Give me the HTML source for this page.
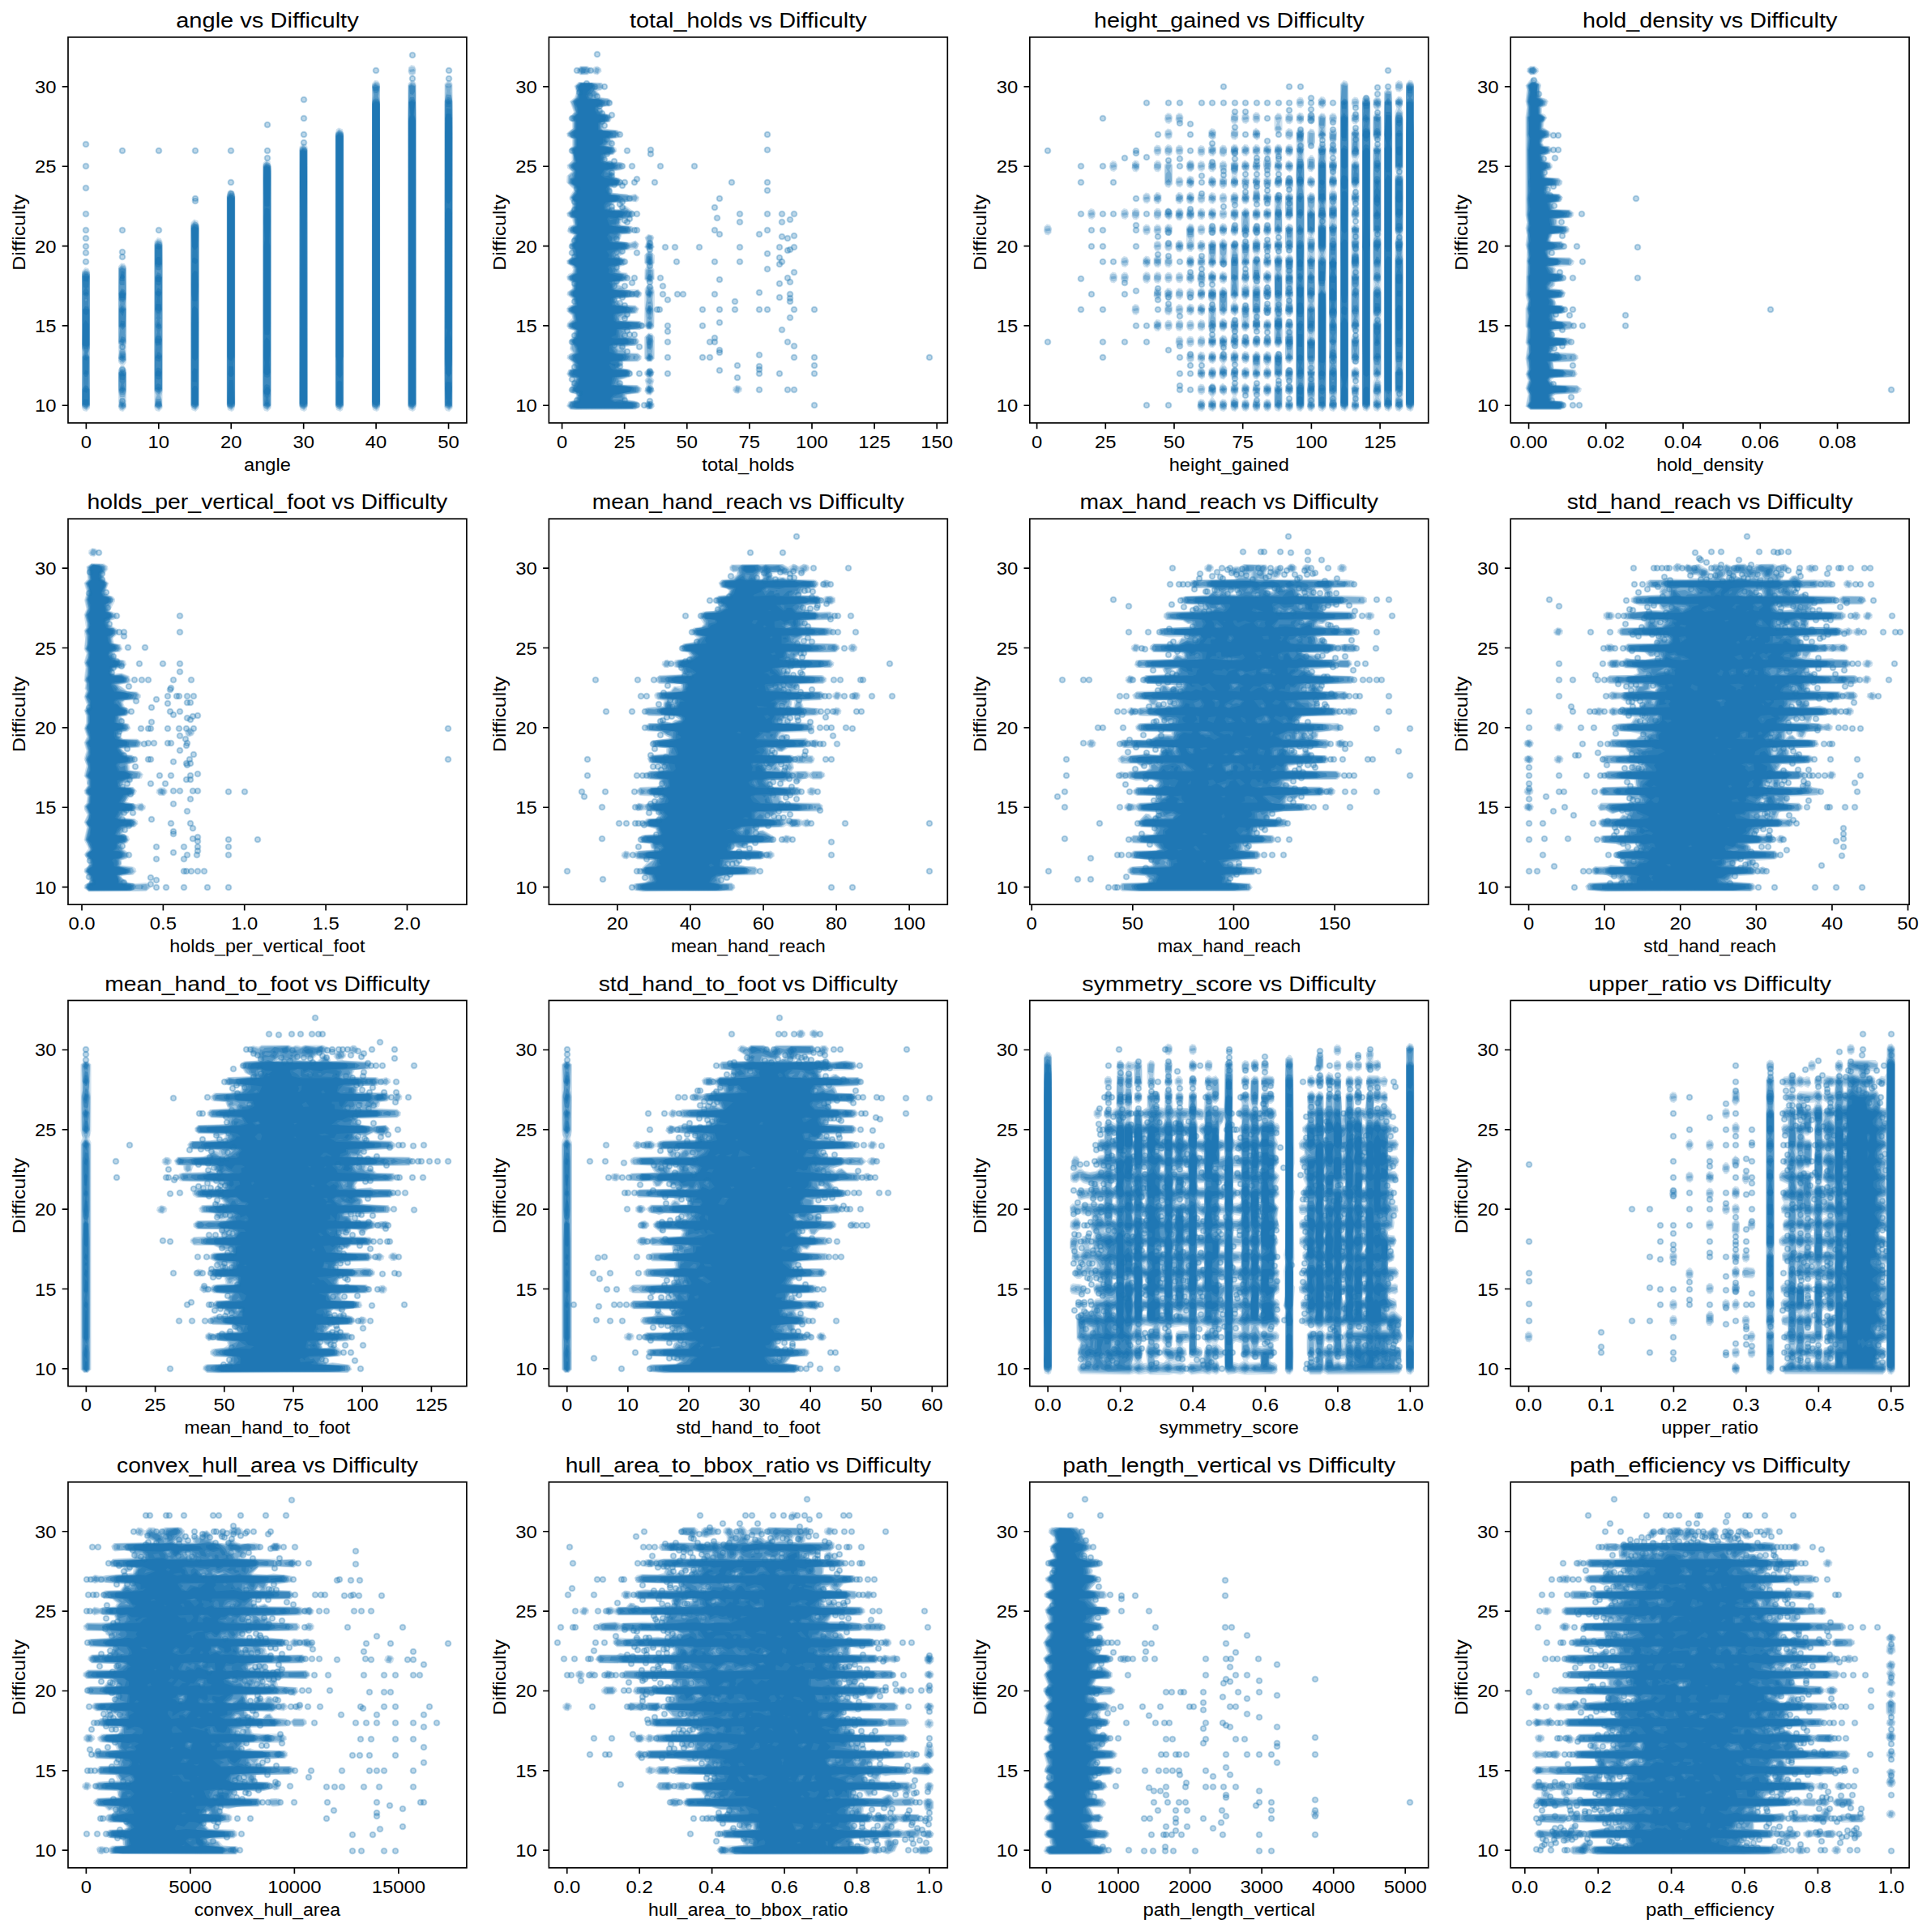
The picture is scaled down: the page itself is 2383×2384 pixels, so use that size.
<!DOCTYPE html><html><head><meta charset="utf-8"><style>html,body{margin:0;padding:0;background:#fff;overflow:hidden}svg{display:block}text{font-family:"Liberation Sans",sans-serif;fill:#000}.ax{fill:none;stroke:#000;stroke-width:1.667;stroke-linejoin:miter}.tk{fill:none;stroke:#000;stroke-width:1.667}.s{fill:#1f77b4;fill-rule:evenodd}.p{fill:none;marker-start:url(#m);marker-mid:url(#m);marker-end:url(#m)}</style></head><body><svg xmlns="http://www.w3.org/2000/svg" width="2383" height="2384" viewBox="0 0 2383 2384"><rect width="2383" height="2384" fill="#fff"/><defs><marker id="m" markerUnits="userSpaceOnUse" markerWidth="12" markerHeight="12" refX="6" refY="6" overflow="visible"><circle cx="6" cy="6" r="3.295" fill="#1f77b4" fill-opacity=".3" stroke="#1f77b4" stroke-opacity=".3" stroke-width="2.083"/></marker><clipPath id="c0"><rect x="84.00" y="45.90" width="491.90" height="476.00"/></clipPath><clipPath id="c1"><rect x="677.40" y="45.90" width="491.90" height="476.00"/></clipPath><clipPath id="c2"><rect x="1270.80" y="45.90" width="491.90" height="476.00"/></clipPath><clipPath id="c3"><rect x="1864.20" y="45.90" width="491.90" height="476.00"/></clipPath><clipPath id="c4"><rect x="84.00" y="640.20" width="491.90" height="476.00"/></clipPath><clipPath id="c5"><rect x="677.40" y="640.20" width="491.90" height="476.00"/></clipPath><clipPath id="c6"><rect x="1270.80" y="640.20" width="491.90" height="476.00"/></clipPath><clipPath id="c7"><rect x="1864.20" y="640.20" width="491.90" height="476.00"/></clipPath><clipPath id="c8"><rect x="84.00" y="1234.50" width="491.90" height="476.00"/></clipPath><clipPath id="c9"><rect x="677.40" y="1234.50" width="491.90" height="476.00"/></clipPath><clipPath id="c10"><rect x="1270.80" y="1234.50" width="491.90" height="476.00"/></clipPath><clipPath id="c11"><rect x="1864.20" y="1234.50" width="491.90" height="476.00"/></clipPath><clipPath id="c12"><rect x="84.00" y="1828.80" width="491.90" height="476.00"/></clipPath><clipPath id="c13"><rect x="677.40" y="1828.80" width="491.90" height="476.00"/></clipPath><clipPath id="c14"><rect x="1270.80" y="1828.80" width="491.90" height="476.00"/></clipPath><clipPath id="c15"><rect x="1864.20" y="1828.80" width="491.90" height="476.00"/></clipPath></defs><g clip-path="url(#c0)"><g transform="scale(.5)"><path class="s" fill-opacity="0.210" d="M210 660l-8 9 0 339 4 6 8 2 8-8 0-339-4-7zM299 649l-7 8 0 237 6 8-6 10 0 95 4 7 8 2 8-9 0-95-6-9 6-9 0-237-5-7zM389 586l-8 9-1 327 1 86 4 6 8 2 8-8 1-364-1-49-4-7zM479 541l-8 8-1 448 3 15 10 4 8-8 1-447-3-16zM568 468l-6 4-3 13 0 513 3 14 10 4 6-4 3-14 0-513-3-13zM657 394l-8 8-1 568 1 38 4 6 8 2 8-8 1-590-3-20zM747 354l-8 8-1 636 3 14 10 4 6-4 3-14-1-636-4-6zM836 315l-6 4-3 14 0 665 3 14 10 4 6-4 3-14 0-665-3-14zM1105 198l-8 9-1 681 1 120 4 6 8 2 8-8 1-717-1-84-4-7zM1015 198l-8 8-1 793 3 13 10 4 6-4 3-13-1-793-4-6zM925 198l-7 8-1 793 3 13 10 4 6-4 3-13-1-793-5-7zM1015 160l-7 6-1 12 4 8 8 2 7-6 1-12-4-8z"/><path class="s" fill-opacity="0.241" d="M300 907l-8 9 0 50 4 19-4 18 5 8 6 2 9-10-4-16 4-21 0-50-4-7zM210 664l-8 9 0 331 11 9 9-9 0-331-5-8zM300 652l-8 10 0 184 4 9-4 34 5 8 6 2 9-10-4-31 4-12 0-184-4-8zM389 590l-8 10 0 367 3 7-3 30 11 9 9-9-3-26 3-11 0-367-4-8zM480 544l-9 9 0 451 11 9 9-9 0-451zM568 471l-8 9 0 524 11 9 9-9 0-524-4-7zM658 397l-9 9 0 598 11 9 9-9 0-598zM748 357l-9 9 0 638 11 9 9-9 0-638zM837 318l-9 9 0 677 11 9 9-9 0-677zM1105 202l-7 7-1 795 11 9 9-9-1-795-3-5zM1015 201l-8 10 0 793 11 9 9-9 0-793-4-8zM926 201l-8 9 0 794 11 9 9-9 0-794-4-7zM1016 164l-6 3-2 8 3 7 7 2 6-3 2-8-3-7z"/><path class="s" fill-opacity="0.317" d="M301 987l-6 5-2 11 3 5 8 2 6-4 1-10zM299 910l-7 11 1 46 4 13 10 0 4-13 1-46-5-10zM300 861l-5 4-3 18 5 11 8 1 6-6 0-15-3-11zM210 667l-6 4-2 8 0 177 3 13-3 131 4 8 8 2 8-10-3-128 3-16 0-177-2-8zM300 655l-7 7 0 185 10 9 8-9 1-84-3-15 3-25-1-61-3-5zM389 593l-5 3-3 9 0 358 7 13-5 9-1 19 11 6 7-6-1-19-5-9 7-13 0-358-3-9zM479 547l-8 10 0 443 4 8 8 2 8-10 0-443-4-8zM568 474l-8 9 0 518 4 7 8 2 8-9 0-518-4-7zM657 400l-6 4-2 7 0 589 4 8 8 2 8-10 0-589-4-9zM747 360l-6 4-2 7 0 630 4 7 8 2 8-9 0-630-4-9zM836 321l-8 9 0 671 4 7 8 2 8-9 0-671-4-7zM1103 206l-4 5 3 14-5 26 1 753 11 6 7-6 1-753-5-26 3-14-4-5zM1015 204l-7 7-1 790 4 7 8 2 8-9-1-790-3-5zM926 204l-6 4-2 7 3 18-3 18 0 750 4 7 8 2 8-9 0-750-3-13 3-23-4-9zM1010 172l2 6 12-2-2-6z"/><path class="s" fill-opacity="0.390" d="M300 991l-5 4-1 8 9 5 7-5 0-6zM386 984l-4 17 10 7 8-7-4-17zM300 912l-7 7 0 43 4 12 10 0 4-12 0-43-3-5zM297 867l-4 18 10 8 7-5 0-14-3-7zM208 670l-5 7 0 183 4 9-4 12 0 120 10 7 8-7 0-120-4-9 4-12 0-183-5-7zM300 658l-6 5-1 76 4 9-4 14 0 43 3 9-3 29 3 6 7 3 8-9-3-20 3-61-4-7 4-16-1-76zM389 596l-7 7 0 361 10 9 8-9 0-361-3-5zM478 550l-6 6-1 9 1 436 10 7 8-7 1-436-2-11zM568 476l-8 11 0 509 2 7 9 5 7-5 2-7 0-509-4-9zM658 402l-8 7-1 558 1 34 10 7 8-7 1-577-1-15zM746 363l-6 6-1 626 2 8 9 5 7-5 2-8-1-626-4-5zM837 323l-7 5-2 8 1 665 10 7 8-7 1-665-2-8zM1102 233l-4 15-1 636 1 117 10 7 8-7 1-668-1-85-3-14zM1101 212l1 4 11-1-1-4-3 3zM1015 207l-6 5-2 81 1 709 10 6 9-11 0-704-2-81zM926 206l-7 7 4 24-5 20 1 745 10 6 9-11 0-740-5-20 4-24z"/><path class="s" fill-opacity="0.480" d="M295 998l5 7 9-3-5-8zM386 989l-3 12 5 4 8-1 3-3-2-11zM301 914l-7 5 1 22 4 6-5 16 3 6 7 1 6-7-5-14 4-8 1-22zM297 872l-2 15 5 3 8-2 0-15zM300 830l-6 13 10 6 6-9-2-7zM301 753l-7 9 0 44 9 8 7-8 0-44zM300 712l-7 12 2 18 9 4 6-7 1-15-4-9zM208 673l-5 9 3 53-3 115 6 16 0 8-5 6 3 72-4 9 0 37 4 6 8 1 6-7 0-37-4-9 3-72-5-6 6-24 0-85-3-13 3-70-5-9zM209 739l5-1 1 4-5 1zM389 672l-7 13 0 79 5 16-2 6 3 2-5 13 5 19-6 18 3 20-3 20 0 82 3 6 8 3 7-9 0-82-3-10 3-30-6-18 5-12-5-20 3-2-2-6 5-16 0-79-3-9zM301 661l-6 4 0 34 2 5 10 0 2-39zM389 599l-6 5-1 48 3 13 8 2 4-2 3-13-1-48zM479 552l-7 7 0 440 4 5 8 1 6-6 0-440-3-5zM569 478l-8 7 0 514 4 5 8 1 6-6 0-514zM656 405l-6 7 0 560 3 10-2 19 11 4 5-4-2-19 3-10 0-560-4-6zM747 365l-7 7 0 627 4 5 8 1 6-6 0-627-3-5zM835 326l-6 6 0 667 4 5 8 1 6-6 0-667-4-5zM927 243l-6 3-2 6-1 89 1 658 4 5 8 1 6-6 1-658-1-89-4-8zM1105 240l-6 8-1 731 1 22 11 4 5-4 1-715-1-38-4-7zM1012 240l-4 13 0 746 4 5 8 1 6-6 0-746-4-13zM1015 210l-5 3 2 19 7 2 5-7 0-14zM926 209l-6 5 0 8 4 7 6 1 5-5 1-11z"/><path class="s" fill-opacity="0.596" d="M300 997l-1 4 4 2 2-5zM386 993l-2 6 9 4 5-4-2-6zM301 953l-6 9 8 5 6-7zM210 951l-6 10 0 37 10 5 6-5 0-37-5-9zM658 948l-5 3-3 15 7 18-5 16 9 3 5-3-5-16 7-20-3-13zM390 946l-5 4-2 10 10 6 6-7-2-9zM300 917l-6 6 2 14 11 1 3-15zM390 907l-5 3-2 16 2 9 7 2 5-2 2-17-2-8zM300 875l-5 8 9 4 5-7zM211 875l-6 7 0 41 5 7 4 0 5-7 0-41zM389 869l-6 14 2 7 8 3 4-3 2-12-6-9zM300 835l-4 8 8 3 4-7zM389 828l-5 4-1 13 3 8 11-1 2-14-2-8zM390 794l-6 13 8 6 5-4 1-7zM298 791l-3 14 9 4 5-4-1-12zM300 758l-5 5 0 7 8 10 6-17zM210 756l-6 8 0 89 3 8 10 0 3-8 0-89-3-7zM300 717l-5 5-1 12 3 6 7 1 5-3 1-13-6-8zM390 710l-7 12 4 15-4 27 5 9 5 1 6-10-4-27 4-15-2-7zM389 678l-5 4 1 20 7 3 5-3 2-17-4-6zM210 676l-6 6 2 26 4 3-5 8 0 9 9 4 5-4 0-9-5-8 4-3 2-26-3-5zM300 668l-5 22 2 4 10 0 0-23zM388 602l-5 5 0 45 3 7 7 1 6-8 0-45-5-5zM478 555l-6 8 3 54-3 88 3 45-3 48 1 200 10 5 6-5 1-200-3-48 3-45-3-88 3-54-4-7zM568 481l-7 7 0 392 3 13-3 102 3 6 8 2 7-8-3-98 3-17 0-392-3-5zM657 407l-6 5-1 506 3 12 7 2 5-2 3-12 0-494-2-14zM748 367l-7 5-1 623 3 6 8 2 7-8-1-623zM836 328l-7 8 1 663 10 4 6-4 1-663-3-6zM1102 267l-4 64 0 553 4 47-3 15 1 54 9 3 5-3 1-54-3-15 4-47 0-553-3-63zM927 247l-6 3-2 7 0 740 11 6 7-6 0-740-2-7zM1016 245l-7 7 3 31-4 11 0 702 3 5 8 2 7-7 0-702-4-11 3-31-3-6zM1106 244l-6 5 1 15 11 1 2-16zM921 215l2 9 11-1-1-10z"/><path class="s" fill-opacity="1.000" d="M654 995l3 5 7-3-4-5zM207 985l-2 12 5 3 8-2 0-12zM299 960l6 1-2-3zM210 956l-4 10 8 4 4-9zM657 955l-6 11 2 6 7 3 5-3 2-9-4-7zM390 954l-5 5 7 4 5-5zM479 952l-5 7 0 38 9 3 5-3 0-38-3-6zM1105 942l-4 2-2 13 2 28 3 2-3 9 8 4 4-4-3-9 3-2 2-28-2-13zM837 939l-5 3-2 52 2 4 8 2 6-6-2-52zM565 938l-3 57 10 5 6-5-3-57zM296 923l1 6 11-1-4-8zM390 913l-6 6 1 9 11 1 2-10zM211 913l-4 9 7 3 3-8zM479 908l-5 9 1 25 11 1 1-31zM565 904l-2 20 3 5 6 1 5-6-1-19zM300 879l-1 3 4 2 2-4zM211 879l-4 8 7 3 3-7zM389 875l-5 7 9 5 5-7zM386 835l-1 11 10 2 2-12zM658 832l-6 9-1 41 3 13-3 24 4 6 6 1 6-7-3-24 3-32-1-22zM389 799l-2 5 5 4 3-6zM299 797l-2 5 7 3 3-6zM211 790l-6 10 0 52 9 4 5-4 0-52zM301 761l-4 7 6 4 4-7zM210 761l-5 3 1 10 7 4 5-4 1-10zM480 755l-6 7 0 122 8 6 6-6 1-88-1-34zM386 750l-2 13 9 6 5-6-1-12zM301 721l-6 5 2 10 10 0 2-10zM206 724l4 4 8-3-5-5zM390 717l-5 4 0 6 7 5 5-5 0-6zM384 686l1 9 11 1 2-10-5-4zM207 681l-1 13 11 1 2-12zM300 677l-4 9 8 3 4-5-4-7zM480 668l-6 8-1 50 2 16 7 2 5-2 2-37-2-34zM480 635l-5 3-1 9 9 5 5-5 0-6zM389 634l-5 5 0 12 9 4 5-4-2-16zM389 605l-4 8 7 3 5-3 0-5zM479 558l-6 5 1 46 5 7 4 0 5-7 1-46zM1105 513l-4 3-2 11 1 282 4 6-5 23 1 84 8 8 6-8 1-84-5-16 4-13 1-282-2-11zM658 513l-5 3-2 29 3 45-3 17 0 197 2 21 7 2 5-2 2-21 0-197-3-9 3-53-2-29zM568 484l-6 5 0 391 2 7 7 4 7-11 0-391zM657 410l-5 3-2 33 3 62 7 2 5-2 3-68-2-27zM747 370l-5 4-2 76 3 133-2 412 10 5 6-5-2-412 3-133-2-76zM836 331l-6 5-1 544 3 12-1 33 8 9 6-9-1-33 3-12-1-544zM1106 280l-5 2-2 10 1 201 2 7 6 3 6-10 1-201-2-10zM926 251l-6 5-1 736 3 6 8 2 7-8-1-736-2-4zM1101 252l4 6 8-3-4-6zM1016 249l-6 4 4 31-6 15 1 697 10 4 6-4 1-697-6-15 4-31z"/></g><path class="p" d="m509 68-45 19 90 0-45 10 45 0-179 26-45 31 45-8 0 20-269 12 269-2-224 10 45 0 45 0 44 0 45 0 0 9-224 10 179 20-179 7 179 7-44 9 0-3-135 19 0 20 45 0 45 0-90 10 0 10 45 7-45 12 0-11 45 5 0 111 0 28 0 39"/></g><rect class="ax" x="84.00" y="45.90" width="491.90" height="476.00"/><text x="106.36" y="552.60" font-size="21.30" text-anchor="middle" textLength="13.25" lengthAdjust="spacingAndGlyphs">0</text><text x="195.80" y="552.60" font-size="21.30" text-anchor="middle" textLength="26.50" lengthAdjust="spacingAndGlyphs">10</text><text x="285.23" y="552.60" font-size="21.30" text-anchor="middle" textLength="26.50" lengthAdjust="spacingAndGlyphs">20</text><text x="374.67" y="552.60" font-size="21.30" text-anchor="middle" textLength="26.50" lengthAdjust="spacingAndGlyphs">30</text><text x="464.10" y="552.60" font-size="21.30" text-anchor="middle" textLength="26.50" lengthAdjust="spacingAndGlyphs">40</text><text x="553.54" y="552.60" font-size="21.30" text-anchor="middle" textLength="26.50" lengthAdjust="spacingAndGlyphs">50</text><text x="69.42" y="508.26" font-size="21.30" text-anchor="end" textLength="26.50" lengthAdjust="spacingAndGlyphs">10</text><text x="69.42" y="409.92" font-size="21.30" text-anchor="end" textLength="26.50" lengthAdjust="spacingAndGlyphs">15</text><text x="69.42" y="311.57" font-size="21.30" text-anchor="end" textLength="26.50" lengthAdjust="spacingAndGlyphs">20</text><text x="69.42" y="213.22" font-size="21.30" text-anchor="end" textLength="26.50" lengthAdjust="spacingAndGlyphs">25</text><text x="69.42" y="114.88" font-size="21.30" text-anchor="end" textLength="26.50" lengthAdjust="spacingAndGlyphs">30</text><path class="tk" d="M106.36 521.90v7.29M195.80 521.90v7.29M285.23 521.90v7.29M374.67 521.90v7.29M464.10 521.90v7.29M553.54 521.90v7.29M84.00 500.26h-7.29M84.00 401.92h-7.29M84.00 303.57h-7.29M84.00 205.22h-7.29M84.00 106.88h-7.29"/><text x="329.95" y="34.00" font-size="25.60" text-anchor="middle" textLength="225.50" lengthAdjust="spacingAndGlyphs">angle vs Difficulty</text><text x="329.95" y="580.80" font-size="21.30" text-anchor="middle" textLength="57.88" lengthAdjust="spacingAndGlyphs">angle</text><text transform="translate(30.60 286.90) rotate(-90)" x="0" y="0" font-size="21.30" text-anchor="middle" textLength="93.50" lengthAdjust="spacingAndGlyphs">Difficulty</text><g clip-path="url(#c1)"><g transform="scale(.5)"><path class="s" fill-opacity="0.210" d="M1596 990l-6 7 1 8 7 6 12-1 6-7-1-8-7-6zM1818 950l-9 6-1 8 5 6 9 2 9-6 1-8-5-6zM1598 910l-8 8 0 6 6 7-5 7 4 13-5 14 6 9 10 2 10-11-5-14 4-13-5-6 6-14-8-8zM1601 821l-11 11 0 53 8 8 10 0 8-8 0-53-6-9zM1599 578l-8 8 4 11-5 13 9 9-9 11 0 19 6 7-5 9-1 24 7 8 9 1 10-9-1-24-5-8 6-8 0-19-9-11 9-9-5-13 4-11-4-6zM1428 202l-11 10 5 16-4 12-12 10 10 27-11 14 7 11 0 15-14 12 2 8 12 7 0 16-7 9 6 13 0 16-12 9 1 8 11 8-12 11-1 16 18 18-11 18 0 6 7 9-1 14-13 11 2 8 12 7 3 13-11 4-5 12 5 6 12 4-11 24 7 29-14 10 1 8 12 7 3 7-2 7-9 4-5 7 2 8 12 8-1 14-11 7-1 8 13 10 2 13-10 3-6 7 1 8 12 10 1 6-12 12-2 8 5 7 13 4-2 14-9 10 3 11-2 11 6 8-12 7-1 8 13 10 4 13-13 4-5 11 5 7 13 4-11 29 5 7 12 4-4 13-15 4-5 11 9 9 13 1 149-1 9-7 0-8-6-6-24-4-1-12 30-3 6-5 1-8-10-8-35-1-5-3-2-8 22-7 6-7 0-6-6-7-22-3 4-15 38 0 9-6 1-8-10-8-27-1-4-15 29-2 7-11-7-9-26-2 0-12 7-5 27 0 10-7 9 7 11-1 5-5 1-88-3-12-7-5-10 2-5 7-1 86-10-6-47-3 15-2 7-12 18-2 5-12-10-8-34-1-11-13 37-5 16 2 7-5 2-8-9-9-32 0-16-12 1-5 15-2 9-9-5-13-13-1-8-8 1-6 12-2 7-7-5-12-13-4 9-5 3-9 32-4 5-13-9-9-13 5-32-4 8-5 3-10 20-1 9-6 1-8-5-6-27-4 2-14 24-2 7-11-4-7-18-13-10 2-5 7-15 0-6-5 10-10 37-4 16 2 6-5 1-8-10-8-13 3-45-6 1-14 16-1 8-8 0-6-6-7-12-3-3-13 20-3 7-7-1-8-6-5-35-2-3-5 3-9 15-2 9-9-2-8-10-6 4-6-4-10 14-2 8-8-2-8-6-4-35-4 0-12 16-4 5-11-5-7-17-5-7-8 5-6 17-1 7-11-7-9-26-4 1-8-5-7 10-1 7-7-5-12zM1423 172l2 8 7 5 19 0 10-8 5 6 9 2 10-8-1-8-9-6-9 2-5 6-10-8-19 0z"/><path class="s" fill-opacity="0.241" d="M1599 990l-6 5-1 8 7 7 8 0 6-5 1-8-7-7zM1817 952l-7 10 5 7 8 1 7-10-5-7zM1599 911l-7 7 1 8 6 5-6 9 6 10-7 8 0 7 5 7 8 2 9-9 0-7-7-8 6-8-6-11 6-5 1-8-7-7zM1600 823l-7 7-1 55 7 7 8 0 7-7-2-57zM1601 705l-6 4-3 11 3 20-3 21 2 34-3 8 6 9 10 1 7-7-3-66 3-20-3-11zM1601 620l-8 7-1 22 8 8-7 9-1 23 7 7 8 0 7-7-1-23-7-9 8-8-3-25zM1601 579l-8 8 4 11-5 12 7 7 8 0 7-7-5-12 4-11-4-6zM1430 203l-11 10 5 15-4 13-12 10 10 25-10 13 0 6 6 7 0 16-14 11 1 6 13 8 0 18-7 8 6 13 1 13-13 14 12 15-11 9-1 19 17 15 0 5-11 14 0 6 7 8-1 16-13 10 1 6 13 8 3 14-15 9 0 8 16 8-5 9 0 9-6 7 0 7 6 8 1 15-14 9 1 8 12 6 3 6-2 10-14 10 1 6 13 9-1 15-11 8-1 5 12 10 3 14-16 11 1 8 11 8 2 12-13 10-1 6 6 7 12 3-2 16-9 9 3 10-2 10 7 10-9 4-5 9 13 11 4 15-14 4-4 10 4 6 15 4-12 30 6 7 11 3-4 15-14 3-6 11 8 8 14 1 146-1 8-7-1-8-7-5-23-3-1-13 31-4 6-5 0-8-9-6-35-1-9-8 2-5 23-7 5-12-5-6-24-4 5-16 41-1 6-5 0-8-6-5-29-1-8-16 30-3 8-7-1-8-7-5-25-1 2-17 34-2 8-6 1-6-9-8-46-1-3-7 12 2 7-12 20-2 7-10-7-8-37-2-11-15 40-6 14 3 7-6 1-6-8-8-11 3-21-3-10-9-9-2 3-8 19-4 5-9-6-9-13-1-9-14 16-4 5-5 0-8-24-12 12-1 6-11 19-6 13 2 5-5 0-8-7-6-11 5-37-5 10-7 3-10 21-1 8-6 1-5-5-7-28-4 2-16 23-1 7-5 1-8-21-16-12 8-18 0-7-6 11-11 30-1 9-4 14 3 7-10-7-8-14 3-9-4-38-3 1-16 17-1 7-7-5-12-13-3-4-15 21-3 7-8-7-10-35-2-3-3 2-12 17-3 8-8-6-11-9-3 5-6-5-11 18-2 6-7-6-11-37-4 0-14 18-4 4-10-4-6-17-4-9-9 4-7 21-3 4-11-8-7-25-2 2-8-7-10 12-1 6-5 1-5-5-7zM1524 857l6 1-3 2zM1470 165l-7 10 5 7 8 1 7-10-5-7zM1425 172l1 6 7 6 16 0 9-8-1-6-8-6-16 0z"/><path class="s" fill-opacity="0.317" d="M1599 991l-6 11 6 7 8 0 6-11-6-7zM1817 954l-3 11 9 3 3-11zM1600 951l-7 12 6 8 6 1 7-6 1-7-7-8zM1602 933l-6 9 8 7 6-9zM1599 912l-6 11 6 7 6 1 7-6 1-6-6-7zM1602 824l-8 9 3 40-4 10 6 8 8 0 6-8-4-10 4-31-3-14zM1602 707l-6 5-3 11 4 11-4 28 4 29-4 13 5 7 8 1 7-8-4-13 4-25-4-32 4-11-3-11zM1601 661l-6 6-2 20 5 7 8 1 7-8-2-20zM1601 622l-6 6-2 19 11 9 8-6-2-24zM1601 581l-5 6 4 10-7 12 6 7 8 0 6-7-7-12 4-10-3-5zM1430 204l-9 8 5 20-4 9-12 11 10 24-10 13 0 6 6 7 0 14-14 13 1 6 13 8 0 18-7 7 6 17 0 14-11 8 1 8 10 9-11 11-1 17 11 7 6 9-12 20 8 12-1 14-13 12 5 10 9 3 3 15-15 10 3 10 13 5-5 8 0 10-7 8 7 14 1 15-10 4-5 7 1 5 12 6 4 7-1 9-15 11 1 6 13 9-1 14-10 8-1 8 11 8 3 14-16 11 1 8 11 8 2 13-13 9-1 6 5 6 13 4-2 17-10 10 4 9-1 9 6 11-13 8 0 6 12 9 4 16-14 3-4 11 6 6 14 3-13 30 5 6 12 4-4 15-15 4-5 10 7 7 11 1 147-1 7-6-1-8-6-4-26-3 1-15 32-4 5-5 0-6-8-6-34-1-11-7 2-8 24-7 4-11-6-6-24-3 5-7-1-10 42-2 7-9-7-7-27-1-7-9-11 1-9-10 53-5 3-4-3-10-30-3-4-8 8-12 37-3 3-10-7-6-48-2-3-5 2-4 16-9 22-2 6-10-6-6-37-2-11-12 0-5 36-3 6-4 13 4 7-11-7-7-13 4-6-4-16-1-8-6-10 4-5-3 9-15 16-2 7-7-4-10-14-2-10-12 2-6 17-3 3-10-7-6-15-3-1-9 13-7 19-3 7-6 10 3 5-8-5-6-12 5-8-5-30-3 10-8 3-10 22-1 6-4-2-12-24-2-5-4 3-16 27-3 2-12-17-10-12 5-19 0-10-6 10-12 37-3 6-5 14 4 4-8-4-6-14 4-6-5-42-4-1-15 19-4 7-8-5-9-14-4-1-9-5-6 23-4 6-10-6-6-34-2-4-3 3-14 17-3 7-7-5-10-18-3 6-4 0-14 18-2 7-6-1-8-6-4-32-1-3-3 0-15 18-3 4-11-6-6-16-3-8-8 1-7 25-5 3-10-5-5-31-4 4-10-6-9 17-5-3-11-12 2-6-4zM1470 167l-3 11 9 3 3-11zM1427 172l7 11 16-1 6-7-2-6-7-4-13 0z"/><path class="s" fill-opacity="0.390" d="M1602 991l-6 4-1 8 9 6 6-4 1-8zM1601 952l-6 6 0 7 9 6 7-6 0-7zM1602 912l-6 4-1 8 9 6 6-4 1-8zM1564 877l-2 8 5 2 2-8zM1600 872l-5 13 5 5 6 0 5-5 0-6-5-7zM1602 826l-6 7 1 27 8 4 5-7 1-18-3-10zM1602 792l-6 5-1 8 5 6 6 0 5-11-4-7zM1601 753l-6 8 0 8 6 11-3 5 6 5 4-5-3-5 6-11 0-8-6-8zM1599 746l1 4 7-1-2-5zM1602 712l-6 5-1 11 5 7 6 0 5-14zM1600 665l-5 23 10 6 5-4 1-8-5-8 2-7zM1601 625l-5 8-1 16 9 6 7-6-3-21zM1601 598l-5 4-1 8 9 6 6-4 1-8zM1434 204l-11 7-1 8 6 11-4 11-11 9 9 26-11 15 7 11-1 18-13 9 5 10 9 3 0 18-8 10 6 11 1 18-11 10 11 14-5 8 1 6-7 4-1 11 10 6 6 9 0 6-11 14 8 14-2 16-12 9 5 10 9 3 3 17-11 4-4 8 4 6 12 5-6 10 1 7-7 8 8 31-15 8 2 9 11 4 4 7-2 11-14 8 2 9 12 6-2 17-9 7-1 5 10 9 4 16-17 11 1 6 11 7 3 15-14 10 0 6 18 9-2 16-10 10 9 18 1 12-13 9 1 7 10 7 4 16-15 4-4 8 4 6 17 5-13 31 16 8-3 16-15 4-5 10 5 6 152 1 11-6 0-6-6-5-28-3 1-16 33-5 4-4-1-8-53-8 5-15 23-4 5-6-5-10-26-3 5-7-2-10 27-5 3-10-16-6-16 0-2-8-9-9 6-3 14 2 34-4 3-11-3-3-30-3-5-9 6-6-6-3 44-4 6-6-6-10-48-2-3-11 14-8 26-4 1-11-41-5-9-12 3-7 34-2 7-5 12 5 6-6-1-6-7-4-10 5-7-5-37-3-3-4 4-6-2-8 22-3 8-8-7-9-19-3 3-4-7-10 20-6 4-10-6-5-18-4 0-10 13-7 19-2 7-8-7-8-34-4 11-8 5-11 22-1 6-6-6-10-27-2 4-8-2-10 26-3 6-5 0-6-12-7-35 1-12-5 11-15 38-5 0-10-40-4-5-7 1-13 22-4 3-10-7-6-10-1-3-10-7-7 26-6 1-11-40-7 0-11 4-5 18-3 5-5 0-6-5-5-19-3 7-7-1-11 20-3 6-10-6-6-31-1-5-4 0-15 19-4 4-8-5-7-18-3-8-10 1-6 25-6 1-11-47-6 0-4 12 0 3-9-4-7 7-9-12-9zM1429 172l6 10 17-4-3-11-14-1z"/><path class="s" fill-opacity="0.480" d="M1602 992l-6 10 8 6 6-10zM1601 953l-5 10 4 6 6 0 4-10zM1602 913l-6 10 8 6 6-10zM1602 873l-6 11 8 6 6-10zM1601 832l-5 13 4 15 5 1 5-19-2-7zM1601 794l-5 9 3 6 6 1 5-8-5-8zM1601 755l-5 12 3 7 6 2 5-14-5-7zM1601 715l-5 12 8 7 6-11-3-7zM1601 676l-5 11 3 5 6 1 5-9-5-8zM1602 631l-4 3-2 14 8 6 5-4-1-16zM1601 599l-5 10 8 6 6-10zM1433 205l-9 8 5 15-3 13-11 9 8 30-10 11 6 10 0 18-13 11 4 8 10 5 0 17-8 9 7 30-10 8 0 7 9 7-3 17-7 4-1 8 13 11 3 8-12 19 9 13-3 17-11 8 4 9 9 3 2 20-11 4-1 8 14 8-5 19-7 8 7 14 2 16-12 4-4 6 1 5 12 5 5 8-1 10-15 10 1 7 13 7-3 18-7 5-1 8 9 7 3 14-2 6-14 6 0 6 12 8 3 13-2 5-12 7 0 5 4 5 13 4-1 16-11 12 11 18 1 11-11 5-1 11 12 12 0 12-14 3-4 8 4 6 17 5-13 31 16 8-3 16-16 5-4 8 4 6 152 1 7-4 0-8-4-3-25-2-9-5-18 0 1-4 21-1 0-6 5-5 30-3 1-11-55-6 7-19 24-2 6-5 0-6-6-5-21 0-5-3 6-7 0-12 21-3 5-8-10-6-21-2-11-16 3-4 50-3 0-12-34-4-2-18 48-5 4-5-4-9-52-4-2-14 7-4 31-4 3-10-41-6-4-3-3-14 4-3 34-2 5-9-5-5-38-3-3-5 1-15 24-3 6-6-6-9-20-3 1-6-5-10 21-5 4-9-4-5-20-4 0-13 13-6 20-2 5-8-8-7-31-2-2-4 16-17 19-1 8-4 1-6-4-5-31-4 7-8 0-11 27-3 2-9-7-5-35 0-17-6 10-15 19-2 14-7-11-8-19-1-7-4 0-16 7-4 13 0 6-9-6-7-13-2-1-8-14-7 8-5 20-3 3-9-38-9 3-16 17-3 7-5-4-10-22-4 9-8-2-10 24-5 2-9-4-4-28-1-9-4 0-16 19-4 4-9-6-6-18-3-7-15 20-8 2-8-10-5-31-2-2-5 12-11 6-14-9-8zM1435 168l-1 11 10 1 2-10z"/><path class="s" fill-opacity="0.596" d="M1602 993l-4 10 6 4 4-10zM1602 954l-4 10 7 4 3-10zM1602 914l-4 10 6 4 4-10zM1601 875l-3 9 7 4 3-9zM1601 835l-2 16 6 2 3-13zM1601 796l-2 8 5 5 3-10zM1602 756l-5 9 7 8 5-9zM1601 717l-3 11 7 4 3-11zM1601 678l-3 9 6 5 4-9zM1602 634l-4 14 7 4 3-12zM1602 600l-4 10 6 4 4-10zM1434 206l-9 10 5 10-2 16-11 8 0 6 7 10 1 14-9 8 0 8 5 5 0 17-10 8 0 9 11 7 0 18-8 9 7 31-9 6-1 7 9 7-3 19-7 4 0 9 11 8 3 7-2 10-9 10 1 6 8 7-3 18-10 7 1 8 11 5 3 19-10 4-3 8 14 10-5 8 0 9-8 10 7 11 3 18-16 9 1 6 12 5 4 6 0 13-14 8 0 7 13 8-3 18-8 7 0 5 9 9 3 17-13 5-3 9 12 8 3 13-2 6-11 5 0 7 16 8-2 19-9 6-1 6 10 11 3 15-12 7 0 9 11 12 0 12-14 4-3 8 5 5 15 4-5 19-8 7 0 6 15 7-2 18-15 5-2 10 15 4 135-1 5-3-2-10-34-6-12 3-8-5 2-5 26-12 27-5 0-6-5-3-49-5 7-19 29-3 4-10-4-4-29-3 6-8-2-11 21-4 4-8-5-5-24-3-11-18 6-3 36-1 10-6-10-8-24-2 0-21 51-6-3-10-52-4-4-12 3-6 35-6 4-6-8-5-38-6 1-17 35-4 2-10-13-4-20 0-7-4-1-18 22-3 8-7-5-7-24-5 2-5-5-9 24-7 3-9-8-5-17-2-1-10 8-9 29-4 2-10-39-6 2-12-7-5 3-3 11 2 11-5 20-1 2-10-38-5-5-4 12-2 4-15 22-5 4-9-42-3-14-5 1-8 8-8 23-3 5-5-1-6-5-3-21-2-5-13 6-10 18-1 4-5-1-6-20-6-4-6-9 2-3-3 3-11 24-5 5-8-8-5-22-1-7-5 3-16 24-6-2-10-26-6 11-10-3-7 20-6 2-7-5-4-30-5 0-18 19-4 3-9-4-4-19-3-6-8-1-9 19-8 2-5-12-7-29-2-1-7 17-24-7-6zM1503 539l11 2-8 2z"/><path class="s" fill-opacity="1.000" d="M1602 996l-2 5 4 3 2-5zM1602 959l-1 6 3 1 1-6zM1602 917l-2 5 4 3 2-5zM1602 877l-1 5 3 1 1-5zM1602 759l-3 6 5 5 3-6zM1602 719l-1 9 3 1 1-9zM1602 638l-2 9 4 2 2-8zM1602 602l-2 8 4 2 2-8zM1434 207l-6 6 4 14-2 16-11 8 8 17 0 12-9 9 5 12 0 19-8 7 0 8 9 7 0 19-8 9 7 30-10 10 9 14-3 16-7 5 1 8 10 6 3 9-2 9-9 10 1 6 8 6-3 19-9 7 0 6 12 8 2 14-2 6-10 4 0 8 12 6-4 19-8 9 7 12 3 18-15 8 0 6 16 11 0 15-13 6 0 8 12 7-3 19-7 6 0 8 8 6 3 19-12 4-3 9 10 6 4 20-12 6 0 8 15 8-2 18-9 6-1 5 10 11 4 17-10 4-3 6 12 18-1 11-12 4-3 9 19 7-5 19-9 12 2 4 11 3 2 8-2 13-14 5-1 9 9 3 135-1 4-3 0-6-4-3-44-2-8-5 0-5 8-8 40-7 5-8-5-4-47-4 3-20 34-4 3-9-3-3-29-2-7-3-6-10 3-2 12 7 1-7-11-1-2-4 31-6 3-4-3-7-15-1-18-7 0-14 8-4 28 0 11-4 0-6-4-3-35-2-4-3 12-5 2-15 29-3 9-5-9-7-27-1-9-5-1-14 3-3 27-4 5-7-6-5-33-4-2-17 10-5 27-2 2-8-38-8 0-11-5-7 26-5 5-4 0-5-33-8 2-10-4-4 4-4 26-5 1-9-30-6 3-7-7-10 48-9-3-9-36-3-8-14 5-8 44-6-2-8-40-5-7-17 4-4 17 2 16-4 8-9-9-4-27 0-16-4-1-11 6-7 24-3 8-5-5-8-21-2-7-14 7-10 20-2 2-10-32-6-9-7 8-13 22-3 5-5-5-7-22-1-8-4 0-17 24-6 1-9-29-7 9-7 1-13 14-3 7-7-6-5-28-4 0-18 18-6 2-9-22-6-6-10 1-8 15-6 4-6-8-6-29-1-5-8 5-11 13-13-4-5z"/></g><path class="p" d="m737 67-25 20 17 0-5 16 10 4 12 0-31 7 13 4 9 1 3 12 12-4-12 10 3 3 12 2-49 4 37 4 3 5 19 11 182 0-198 6 6 5-49 9 43 4 25-4 29-1 0 5 144-5-201 12 6 5 6-3-3 14 13-8 12 0 35 0 42 0-102 12 10 8 6 0 12 0 3-4 22 4 95 0 44 0-235 8 40 3 6-8 10 1 179 6-238 14 59 0 9-4 111 0-179 14 46 0 0-4 10-3 3 4 114 0-117 12 6 4 3 2 3-4 3-6 6 0 99 5 28-5 0 10 34-10 18 0 0 10 10-3 5-7-197 20 3 0 96 0 65 0-238 13 52-2 127-6 49 0 28 3 7 2 8-3-274 13 55 7 7-1 34-2 0-8 19 5 12 0 30 0 50 0 49 0 10 4 3-1 5-3-274 7 3 5 52 1 10 5 15-11 49 11 47 0 31 0 34-10 15 5 3 5-204 7 41-2 145 4 15-6-201 21 13-4 9 0 32 0 73 2 84-2 8-7-271 14 49 3 13 0 9-4 22-1 0 6 16-1 144-3 13-2-217 22 10-3 12-4 38 0 6 7 12-7 7 0 39 0 55-2 25 6 13-4 0 5-266 4 56 2 6 3 40 5 3 0 53 0 21 0 19-10 0 10 30 0 10 0 28-10 5 10 25 0-234 11 3-5 201 4-183 10 32 0 43 0 21-4 77 9-256 7 62 0 3-6 3 5 6 0 41-4 58 8-176 5 52 4 10 2 21 0 35-6 52 0 6 0 90 0 8 5-206 7 50 7 43 0 9 0 12-9 0 3 49 3 43 3 25 0 142 0-438 12 56-5 0 4 145-1 27 1 68-1-228 10 12 0 13-3 22 3 64-4 22 9 27-10 0 5 25 0 43 0-299 7 3 5 56 0-59 8 9 4 222-4 35 0 8 0-268 13 59 0 15 6 9 0 7-5 203 5"/></g><rect class="ax" x="677.40" y="45.90" width="491.90" height="476.00"/><text x="693.59" y="552.60" font-size="21.30" text-anchor="middle" textLength="13.25" lengthAdjust="spacingAndGlyphs">0</text><text x="770.69" y="552.60" font-size="21.30" text-anchor="middle" textLength="26.50" lengthAdjust="spacingAndGlyphs">25</text><text x="847.79" y="552.60" font-size="21.30" text-anchor="middle" textLength="26.50" lengthAdjust="spacingAndGlyphs">50</text><text x="924.89" y="552.60" font-size="21.30" text-anchor="middle" textLength="26.50" lengthAdjust="spacingAndGlyphs">75</text><text x="1001.99" y="552.60" font-size="21.30" text-anchor="middle" textLength="39.75" lengthAdjust="spacingAndGlyphs">100</text><text x="1079.09" y="552.60" font-size="21.30" text-anchor="middle" textLength="39.75" lengthAdjust="spacingAndGlyphs">125</text><text x="1156.19" y="552.60" font-size="21.30" text-anchor="middle" textLength="39.75" lengthAdjust="spacingAndGlyphs">150</text><text x="662.82" y="508.26" font-size="21.30" text-anchor="end" textLength="26.50" lengthAdjust="spacingAndGlyphs">10</text><text x="662.82" y="409.92" font-size="21.30" text-anchor="end" textLength="26.50" lengthAdjust="spacingAndGlyphs">15</text><text x="662.82" y="311.57" font-size="21.30" text-anchor="end" textLength="26.50" lengthAdjust="spacingAndGlyphs">20</text><text x="662.82" y="213.22" font-size="21.30" text-anchor="end" textLength="26.50" lengthAdjust="spacingAndGlyphs">25</text><text x="662.82" y="114.88" font-size="21.30" text-anchor="end" textLength="26.50" lengthAdjust="spacingAndGlyphs">30</text><path class="tk" d="M693.59 521.90v7.29M770.69 521.90v7.29M847.79 521.90v7.29M924.89 521.90v7.29M1001.99 521.90v7.29M1079.09 521.90v7.29M1156.19 521.90v7.29M677.40 500.26h-7.29M677.40 401.92h-7.29M677.40 303.57h-7.29M677.40 205.22h-7.29M677.40 106.88h-7.29"/><text x="923.35" y="34.00" font-size="25.60" text-anchor="middle" textLength="292.75" lengthAdjust="spacingAndGlyphs">total_holds vs Difficulty</text><text x="923.35" y="580.80" font-size="21.30" text-anchor="middle" textLength="114.00" lengthAdjust="spacingAndGlyphs">total_holds</text><text transform="translate(624.00 286.90) rotate(-90)" x="0" y="0" font-size="21.30" text-anchor="middle" textLength="93.50" lengthAdjust="spacingAndGlyphs">Difficulty</text><g clip-path="url(#c2)"><g transform="scale(.5)"><path class="s" fill-opacity="0.210" d="M3180 984l-7 6-1 17 4 7 8 2 7-6 1-17-4-7zM3126 984l-7 6-1 17 4 7 8 2 7-6 1-17-4-7zM3099 984l-7 6-1 17 4 7 8 2 7-6 1-17-4-7zM3072 984l-7 6-1 17 4 7 8 2 7-6 1-17-4-7zM3017 984l-7 6-1 17 4 7 8 2 7-6 1-17-4-7zM2963 984l-7 6-1 17 4 7 8 2 7-6 1-17-4-7zM2963 947l-7 6-1 12 4 8 8 2 7-6 1-12-4-8zM3343 945l-8 9 3 31-3 22 4 7 8 2 8-9-3-22 3-31-4-7zM3153 945l-8 8 0 55 4 6 8 2 8-8 0-55-4-6zM3126 945l-8 8 0 17 6 8 6 1 8-9 0-17-4-6zM3099 945l-7 6-1 17 3 6 9 3 7-6 1-17-3-6zM3045 945l-8 9 0 14 6 9-6 10 0 21 4 6 8 2 8-8 0-21-6-8 6-11 0-14-4-7zM3018 945l-8 6-1 17 11 9 8-6 1-17zM2990 945l-8 9 0 17 8 9-8 11 0 17 4 6 8 2 8-8 0-17-8-10 8-10 0-17-4-7zM3073 944l-8 6-1 18 4 7 8 2 7-6 1-18zM3343 905l-8 8 0 20 6 8 6 1 8-9 0-20-4-6zM3180 905l-8 8 0 22 5 10-5 8 0 16 11 9 9-9 0-16-5-8 5-10 0-22-4-6zM3072 905l-8 8 0 15 4 7 8 2 7-6 1-18-4-6zM3045 905l-7 6-1 17 4 7 8 2 7-6 1-17-4-7zM2990 905l-7 6-1 17 4 7 8 2 7-6 1-17-4-7zM2964 905l-8 6-1 17 11 9 8-6 1-17zM2936 868l-7 6-1 12 4 8 8 2 7-6 1-12-4-8zM2963 867l-7 6-1 15 4 7 8 2 7-6 1-15-4-7zM3153 866l-8 9 0 53 4 7 8 2 8-9 0-53-4-7zM3126 866l-8 8 0 21 7 9-7 10 0 14 4 7 8 2 8-9 0-14-7-9 7-10 0-21-4-6zM3099 866l-8 9 0 53 4 7 8 2 8-9 0-53-4-7zM3072 866l-7 6-1 17 4 7 8 2 7-6 1-17-4-7zM2990 866l-7 6-1 17 4 7 8 2 7-6 1-17-4-7zM3045 864l-8 9 0 18 6 8 6 1 8-9 0-18-6-8zM2936 829l-7 6-1 12 4 8 8 2 7-6 1-12-4-8zM2909 829l-7 6-1 12 4 8 8 2 7-6 1-12-4-8zM2963 828l-7 6-1 15 4 7 8 2 7-6 1-15-4-7zM3126 827l-7 6-1 17 4 7 8 2 7-6 1-17-4-7zM3099 827l-7 6-1 17 4 7 8 2 7-6 1-17-4-7zM3072 827l-8 8 0 18 11 9 9-9 0-18-4-6zM3017 826l-8 8 0 20 9 10-9 11 0 14 7 9-7 10 0 20 4 7 8 2 8-9 0-20-7-9 7-10 0-14-9-10 9-11 0-20-4-6zM2990 826l-8 8 0 17 4 6 8 2 8-8 0-17-4-6zM2936 789l-7 6-1 12 4 8 8 2 7-6 1-12-4-8zM2882 789l-7 6-1 12 4 8 8 2 7-6 1-12-4-8zM2963 788l-7 6-1 15 4 7 8 2 7-6 1-15-4-7zM2909 788l-7 6-1 15 4 7 8 2 7-6 1-15-4-7zM2854 788l-7 8 0 14 5 7 8 1 7-8 0-14-5-7zM3180 787l-8 9 0 93 4 7 8 2 8-9 0-93-4-7zM3126 787l-7 6-1 17 4 7 8 2 7-6 1-17-4-7zM3016 785l-7 8 0 17 4 7 8 2 8-9 0-17-7-8zM3046 783l-9 10 0 21 5 8-5 10 0 19 4 6 8 2 8-8 0-19-5-7 5-11 0-21-4-7zM2909 750l-7 6-1 12 4 8 8 2 7-6 1-12-4-8zM2801 750l-7 6-1 12 4 8 8 2 7-6 1-12-4-8zM2936 749l-7 6-1 15 4 7 8 2 7-6 1-15-4-7zM2882 749l-7 6-1 15 4 7 8 2 7-6 1-15-4-7zM3072 748l-8 9 0 53 4 7 8 2 8-9 0-53-4-7zM2963 748l-7 6-1 17 3 6 9 3 7-6 1-17-3-6zM3127 747l-8 6-1 19 4 6 8 2 8-8 0-16zM2936 710l-7 6-1 15 4 7 8 2 7-6 1-15-4-7zM2909 710l-7 6-1 15 4 7 8 2 7-6 1-15-4-7zM2881 710l-7 8 0 14 5 7 8 1 7-8 0-14-5-7zM2855 710l-7 6-1 15 4 7 8 2 7-6 1-15-4-7zM2963 709l-7 6-1 17 4 7 8 2 7-6 1-17-4-7zM3017 707l-8 9 0 55 4 7 8 2 8-9 0-55-5-7zM2990 707l-8 9 0 23 5 8-5 10 0 53 4 7 8 2 8-9 0-53-5-8 5-10 0-23-5-7zM2909 671l-7 6-1 12 4 8 8 2 7-6 1-12-4-8zM2882 671l-7 6-1 12 4 8 8 2 7-6 1-12-4-8zM2774 671l-7 6-1 12 4 8 8 2 7-6 1-12-4-8zM2746 671l-7 6-1 12 4 8 8 2 7-6 1-12-4-8zM2963 670l-8 9 0 16 6 9 6 1 8-10 0-16-4-7zM2935 670l-7 8 0 14 5 7 8 1 7-8 0-14-5-7zM2855 670l-7 6-1 15 4 7 8 2 7-6 1-15-4-7zM2828 670l-7 6-1 15 4 7 8 2 7-6 1-15-4-7zM3072 669l-8 9 0 14 4 8-4 9 0 23 4 7 8 2 8-9 0-23-4-8 4-23-4-7zM3017 669l-7 6-1 17 3 6 9 3 7-6 1-17-3-6zM3126 666l-8 9 0 18 7 8-7 11 0 21 4 6 8 2 8-8 0-21-7-9 7-10 0-18-5-7zM2991 666l-9 9 0 17 4 7 8 2 8-9 0-17zM2774 632l-7 6-1 12 4 8 8 2 7-6 1-12-4-8zM2962 631l-7 8 0 14 5 7 8 1 7-8 0-14-5-7zM2882 631l-7 6-1 15 4 7 8 2 7-6 1-15-4-7zM2828 631l-7 6-1 15 4 7 8 2 7-6 1-15-4-7zM3126 630l-8 8 0 15 4 7 8 2 7-6 1-18-4-6zM2936 630l-7 6-1 17 4 7 8 2 7-6 1-17-4-7zM2854 629l-7 9 0 14 4 7 8 2 7-6 1-17-5-8zM3180 626l-8 9 0 98 3 7-3 34 6 8 6 1 8-9-3-34 3-7 0-98-6-8zM2882 593l-7 6-1 12 4 8 8 2 7-6 1-12-4-8zM2855 593l-7 6-1 12 4 8 8 2 7-6 1-12-4-8zM2962 592l-7 8 0 14 5 7 8 1 7-8 0-14-5-7zM2908 592l-7 8 0 15 5 7 8 1 7-8 0-15-5-7zM3126 591l-8 8 0 16 5 7 7 2 8-9 0-16-4-6zM3072 591l-8 8 0 54 4 7 8 2 8-9 0-54-4-6zM3045 591l-8 9 0 133 7 9-7 11 0 19 11 9 9-9 0-19-7-9 7-11 0-133-4-7zM2990 591l-8 8 0 54 4 7 8 2 8-9 0-54-4-6zM3016 589l-7 8 0 56 11 9 9-9 0-56-7-8zM3153 587l-8 9 0 20 7 9-7 9 0 216 4 7 8 2 8-9 0-216-7-9 7-9 0-20-6-8zM2963 553l-7 6-1 12 4 8 8 2 7-6 1-12-4-8zM2855 553l-7 6-1 12 4 8 8 2 7-6 1-12-4-8zM2828 553l-7 6-1 12 4 8 8 2 7-6 1-12-4-8zM2584 553l-7 6-1 12 4 8 8 2 7-6 1-12-4-8zM2990 552l-7 6-1 15 4 7 8 2 7-6 1-15-4-7zM2882 552l-7 6-1 15 4 7 8 2 7-6 1-15-4-7zM3343 551l-8 8 0 254 7 9-7 11 0 58 4 6 8 2 8-8 0-58-7-9 7-11 0-254-4-6zM3180 551l-8 8 0 55 4 7 7 3 9-10 0-55-4-6zM3126 551l-7 6-1 17 4 7 8 2 7-6 1-17-4-7zM3099 551l-8 9 0 14 8 10-8 11 0 26 5 8-5 10 0 53 3 6-3 11 0 64 3 6-3 32 4 6 8 2 8-8-3-29 3-9 0-64-3-7 3-10 0-53-5-8 5-10 0-26-8-10 8-11 0-14-4-7zM3045 551l-7 6-1 17 4 7 8 2 7-6 1-17-4-7zM2936 551l-8 9 0 54 5 7 8 1 7-8 0-54-4-7zM3017 550l-7 6-1 18 5 7 7 2 7-6 1-18-4-7zM3017 514l-7 6-1 12 4 8 8 2 7-6 1-12-4-8zM2774 514l-7 6-1 12 4 8 8 2 7-6 1-12-4-8zM2692 514l-7 6-1 12 4 8 8 2 7-6 1-12-4-8zM2963 513l-7 6-1 15 4 7 8 2 7-6 1-15-4-7zM2908 513l-7 8 0 16 5 7 8 1 7-8 0-16-5-7zM2855 513l-7 6-1 15 4 7 8 2 7-6 1-15-4-7zM2801 513l-7 6-1 15 4 7 8 2 7-6 1-15-4-7zM3126 512l-8 8 0 15 4 7 8 2 7-6 1-18-4-6zM3099 512l-8 9 0 16 4 6 8 2 8-8 0-16-4-7zM3072 512l-8 9 0 57 6 8 6 1 8-9 0-57-4-7zM2990 512l-7 6-1 17 3 6 9 3 7-6 1-17-3-6zM2936 512l-7 6-1 18 4 6 8 2 8-8 0-15-4-7zM2883 512l-8 6-1 17 11 9 8-6 1-17zM3045 511l-8 9 0 18 11 9 9-9 0-18-5-7zM3343 510l-8 9 0 16 4 7 8 2 8-9 0-16-5-7zM3017 475l-7 6-1 12 4 8 8 2 7-6 1-12-4-8zM2963 475l-7 6-1 12 4 8 8 2 7-6 1-12-4-8zM2828 475l-7 6-1 12 4 8 8 2 7-6 1-12-4-8zM3234 474l-8 8 0 93 3 6-3 9 0 417 4 7 8 2 8-9 0-417-3-6 3-9 0-93-4-6zM3044 474l-7 8 0 16 4 7 7 3 8-7 1-19-5-7zM2990 474l-7 6-1 15 4 7 8 2 7-6 1-15-4-7zM2908 474l-7 8 0 14 5 7 8 1 7-8 0-14-5-7zM2854 474l-7 8 0 14 5 7 8 1 7-8 0-14-5-7zM3153 473l-8 8 0 94 4 6 8 2 8-8 0-94-4-6zM3126 473l-8 8 0 17 4 6 8 2 8-8 0-17-4-6zM3072 473l-7 6-1 17 4 7 8 2 7-6 1-17-4-7zM2936 473l-7 6-1 17 3 6 9 3 7-6 1-17-3-6zM2909 435l-7 6-1 12 4 8 8 2 7-6 1-12-4-8zM3126 434l-7 6-1 15 4 7 8 2 7-6 1-15-4-7zM3072 434l-7 6-1 15 4 7 8 2 7-6 1-15-4-7zM3017 434l-7 6-1 17 5 8 7 1 7-6 1-17-4-7zM3235 433l-8 6-1 17 11 9 8-6 1-17zM3153 433l-7 6-1 17 4 7 8 2 7-6 1-17-4-7zM3099 433l-8 9 3 20-3 34 11 9 9-9-3-29 3-25-3-6zM2991 433l-8 6-1 17 11 9 8-6 1-17zM2936 433l-7 6-1 17 3 6 9 3 7-6 1-17-3-6zM3181 432l-9 9 0 20 7 10-7 10 0 56 4 6 8 2 8-8 0-56-7-8 7-12 0-20zM3017 396l-7 6-1 12 4 8 8 2 7-6 1-12-4-8zM2963 396l-7 6-1 12 4 8 8 2 7-6 1-12-4-8zM2883 396l-9 10 0 49 4 7 8 2 8-9 0-49-6-9zM2746 396l-7 6-1 12 4 8 8 2 7-6 1-12-4-8zM3044 395l-7 8 3 29-3 24 4 7 8 2 8-9-3-20 3-33-5-7zM2989 395l-7 8 0 14 5 7 8 1 7-8 0-14-5-7zM2855 395l-7 6-1 15 4 7 8 2 7-6 1-15-4-7zM2801 395l-7 6-1 15 4 7 8 2 7-6 1-15-4-7zM3181 394l-8 6-1 17 11 9 8-6 1-17zM3100 394l-8 6-1 17 11 9 8-6 1-17zM3073 394l-8 6-1 17 11 9 8-6 1-17zM2936 394l-8 8 0 15 4 6 8 2 8-8 0-15-4-6zM3154 393l-8 6-1 18 4 7 8 2 7-6 1-18zM3288 390l-8 9 3 29-3 30 6 8-6 10 0 532 4 6 8 2 8-8 0-532-6-9 6-9-3-28 3-31-5-7zM3235 382l-9 10 0 24 4 7 8 2 8-9 0-24-6-9zM2963 358l-7 6-1 13 4 8 8 2 7-6 1-13-4-8zM3017 357l-7 6-1 16 4 7 8 2 7-6 1-16-4-7zM2909 357l-7 6-1 12 4 8 8 2 7-6 1-12-4-8zM2855 357l-7 6-1 12 4 8 8 2 7-6 1-12-4-8zM3098 356l-7 8 0 14 5 7 8 1 7-8 0-14-5-7zM3071 356l-7 8 0 14 5 7 8 1 7-8 0-14-5-7zM2989 356l-7 8 0 14 5 7 8 1 7-8 0-14-5-7zM2882 356l-7 6-1 15 4 7 8 2 7-6 1-15-4-7zM3397 355l-8 8 0 566 3 6-3 8 0 65 4 6 8 2 8-8 0-65-3-7 3-7 0-566-4-6zM3180 355l-7 6-1 17 4 7 8 2 7-6 1-17-4-7zM3153 355l-7 6-1 17 4 7 8 2 7-6 1-17-4-7zM3126 355l-8 9 0 14 6 9-6 10 0 18 4 7 8 2 8-9 0-18-6-9 6-10 0-14-3-6zM3045 355l-7 6-1 17 4 7 8 2 7-6 1-17-4-7zM3261 353l-8 8-1 526 1 121 4 6 8 2 8-8 1-524-1-123-4-6zM3288 317l-8 9 3 29-3 23 4 7 8 2 8-9-3-21 3-31-4-7zM3234 317l-8 10 0 27 4 8 8 2 8-10 0-27-4-8zM2882 317l-7 6-1 12 4 8 8 2 7-6 1-12-4-8zM3180 316l-7 6-1 15 4 7 8 2 7-6 1-15-4-7zM3045 316l-7 6-1 15 4 7 8 2 7-6 1-15-4-7zM2990 316l-7 6-1 16 11 9 8-6 1-16-4-7zM3343 315l-8 9 0 62 4 8-4 8 0 57 7 9-7 11 0 17 4 7 8 2 8-9 0-17-7-9 7-11 0-57-4-7 4-9 0-62-4-7zM3207 315l-8 9-1 639 1 45 4 6 8 2 8-8 1-45-1-639-4-7zM3100 315l-8 6-1 17 11 9 8-6 1-17zM3288 278l-7 6-1 12 4 8 8 2 7-6 1-12-4-8zM3261 278l-8 9 0 52 11 9 9-9 0-52-4-7zM3153 278l-8 10 0 33 6 9 5 1 9-10 0-33-4-8zM3072 278l-7 6-1 12 4 8 8 2 7-6 1-12-4-8zM2909 278l-7 6-1 12 4 8 8 2 7-6 1-12-4-8zM2882 278l-7 6-1 12 4 8 8 2 7-6 1-12-4-8zM3342 277l-7 8 0 14 5 7 8 1 7-8 0-14-5-7zM3234 277l-7 6-1 15 4 7 8 2 7-6 1-15-4-7zM3207 277l-7 6-1 15 4 7 8 2 7-6 1-15-4-7zM3180 277l-7 6-1 15 4 7 8 2 7-6 1-15-4-7zM3045 277l-7 6-1 15 4 7 8 2 7-6 1-15-4-7zM3099 276l-7 6-1 13 4 8 8 2 7-6 1-13-4-8zM3398 275l-9 10 0 56 4 6 8 2 8-8 0-56-4-7zM3343 239l-7 6-1 12 4 8 8 2 7-6 1-12-4-8zM3207 239l-7 6-1 12 4 8 8 2 7-6 1-12-4-8zM3396 238l-7 8 0 18 6 8 6 1 8-9 0-18-5-7zM3260 238l-7 8 0 14 5 7 8 1 7-8 0-14-5-7zM3451 237l-8 9 3 22-3 8 0 142 3 9-3 6-1 54 3 94-3 102 1 325 4 6 8 2 8-8 1-325-3-102 3-94-1-54-3-6 3-9 0-142-3-7 3-23-4-7zM3369 235l-7 8-1 753 3 16 10 4 8-8 1-683-1-82-7-8zM3424 217l-8 9-1 770 3 16 10 4 8-8 1-679-1-103-4-7zM3451 198l-7 6-1 15 4 7 8 2 7-6 1-15-4-7zM3316 198l-8 9-1 789 3 16 10 4 8-8 1-678-1-123-4-7zM3478 197l-8 9-1 793 3 13 10 4 6-4 3-13-1-793-4-7z"/><path class="s" fill-opacity="0.241" d="M3016 988l-5 4-2 10 5 9 8 1 5-4 2-10-5-9zM2962 988l-5 4-2 10 5 9 8 1 5-4 2-10-5-9zM3181 987l-8 6-1 10 5 8 6 2 8-6 1-10-5-8zM3127 987l-8 6-1 10 5 8 6 2 8-6 1-10-5-8zM3100 987l-8 6-1 10 5 8 6 2 8-6 1-10-5-8zM3073 987l-7 5-2 11 5 8 6 2 7-5 2-11-5-8zM2990 986l-7 6-1 11 5 8 6 2 8-6 1-12-4-7zM3045 982l-7 7-1 14 5 8 6 2 8-6 1-15-4-8zM2964 951l-6 3-2 8 3 7 7 2 6-3 2-8-3-7zM3342 949l-7 9 1 16 7 9-7 10-1 10 5 8 6 2 9-10-1-10-7-8 7-11 1-16-5-8zM3099 949l-6 4-2 10 5 9 7 1 6-4 2-10-5-9zM3017 949l-6 4-2 9 4 9 8 2 6-4 2-9-4-9zM2989 949l-6 6-1 11 6 9 6 1 7-7 1-11-5-8zM3180 948l-7 6-1 11 4 7 8 2 6-4 2-12-4-8zM3154 948l-9 9 0 47 11 9 9-9 0-47zM3127 948l-8 6-1 12 4 7 8 2 7-6 1-11-5-8zM3072 948l-6 4-2 12 5 8 8 1 6-6 1-10-4-7zM3046 948l-7 5-2 11 5 8 7 2 6-5 2-11-5-8zM2963 909l-6 4-2 9 4 9 8 2 6-4 2-9-4-9zM3344 908l-8 6-1 14 6 9 6 1 7-7 1-13-5-8zM3181 908l-8 6-1 13 3 10 9 3 6-5 2-17-5-8zM3126 908l-6 5-2 11 5 8 6 2 7-5 2-11-5-8zM3072 908l-6 4-2 12 5 8 6 2 8-6 1-10-4-8zM3046 908l-7 5-2 11 5 8 6 2 7-5 2-11-5-8zM2991 908l-7 5-2 11 5 8 6 2 7-5 2-11-5-8zM3017 903l-7 7-1 14 5 8 6 2 8-6 1-14-4-9zM2937 872l-6 3-2 8 3 7 7 2 6-3 2-8-3-7zM3071 870l-5 4-2 10 5 9 8 1 5-4 2-10-5-9zM3016 870l-5 4-2 10 2 6 9 5 7-5 2-10-5-9zM2964 870l-8 7 0 10 10 7 8-7 0-10zM3154 869l-9 10 0 45 5 8 6 2 9-10 0-45-5-8zM3127 869l-8 6-1 15 6 9 5 1 8-7 1-14-5-8zM3100 869l-9 10 1 21 4 6-5 18 5 8 6 2 9-10-5-15 4-9 1-21-5-8zM2991 869l-7 5-2 11 5 8 6 2 7-5 2-11-5-8zM3045 868l-7 6-1 13 4 7 8 2 7-6 1-13-4-7zM2937 833l-6 3-2 8 3 7 7 2 6-3 2-8-3-7zM2910 833l-6 3-2 8 3 7 7 2 6-3 2-8-3-7zM2963 832l-7 7 0 8 3 5 8 2 7-7 0-8-3-5zM3127 830l-7 5-2 11 5 8 6 2 7-5 2-11-5-8zM3100 830l-8 6-1 10 5 8 6 2 8-6 1-10-5-8zM3073 830l-8 6-1 12 6 9 6 1 7-7 1-11-5-8zM3017 829l-7 6 1 19 9 5 8-7 1-14-4-7zM2991 829l-8 6-1 11 5 8 6 2 8-6 1-11-5-8zM3343 828l-8 10 0 48 5 8 6 2 9-10 0-48-4-8zM3045 827l-7 7-1 12 5 8 6 2 8-6 1-13-6-9zM2937 793l-6 3-2 8 3 7 7 2 6-3 2-8-3-7zM2883 793l-6 3-2 8 3 7 7 2 6-3 2-8-3-7zM2963 792l-7 7 0 8 3 5 8 2 7-7 0-8-3-5zM2909 792l-7 7 0 8 3 5 8 2 7-7 0-8-3-5zM2855 791l-7 6 0 12 11 6 7-6 0-12zM3181 790l-9 10 1 10 5 6-6 17 0 52 5 8 6 2 9-10 0-52-6-15 6-18-5-8zM3127 790l-7 5-2 11 5 8 6 2 7-5 2-11-5-8zM3045 788l-7 6-1 14 6 10 6 1 7-7 1-14-4-8zM3017 788l-7 6-1 12 5 8 8 1 6-6 1-12-4-7zM2910 754l-6 3-2 8 3 7 7 2 6-3 2-8-3-7zM2802 754l-6 3-2 8 3 7 7 2 6-3 2-8-3-7zM2882 753l-7 7 0 8 3 5 8 2 7-7 0-8-3-5zM2963 752l-6 4-2 10 5 9 7 1 6-4 2-10-5-9zM2937 752l-8 7 0 10 10 7 8-7 0-10zM3126 751l-6 4-2 12 5 8 6 2 8-6 1-11-4-7zM3073 751l-9 10 4 27-4 18 5 8 6 2 9-10-4-15 4-30-5-8zM2990 751l-8 10 3 14-3 31 5 8 6 2 9-10-3-26 3-19-6-9zM3045 748l-7 6-1 13 5 8 7 2 7-6 1-13-4-8zM2936 714l-7 7 0 8 3 5 8 2 7-7 0-8-3-5zM2909 714l-7 7 0 8 3 5 8 2 7-7 0-8-3-5zM2882 713l-7 6 0 12 11 6 7-6 0-12zM2856 713l-8 7 0 10 10 7 8-7 0-10zM2964 712l-7 5-2 11 5 8 6 2 7-5 2-11-5-8zM3017 711l-8 9 0 46 5 9 8 1 7-10 0-46-4-7zM2990 711l-7 6-1 17 4 8 8 2 7-7 1-17-4-7zM3126 707l-7 7-1 14 5 8 6 2 8-6 1-15-4-8zM3099 703l-5 4-3 11 0 51 8 11-8 13 0 13 5 8 6 2 9-10 0-13-8-12 8-12 0-51-3-11zM3073 703l-8 8-1 17 5 8 6 2 8-7 1-12-3-12zM2910 675l-6 3-2 8 3 7 7 2 6-3 2-8-3-7zM2883 675l-6 3-2 8 3 7 7 2 6-3 2-8-3-7zM2775 675l-6 3-2 8 3 7 7 2 6-3 2-8-3-7zM2747 675l-6 3-2 8 3 7 7 2 6-3 2-8-3-7zM2855 674l-7 7 0 8 3 5 8 2 7-7 0-8-3-5zM2828 674l-7 7 0 8 3 5 8 2 7-7 0-8-3-5zM3017 673l-6 4-2 10 5 9 8 1 5-4 2-10-5-9zM2964 673l-7 5-2 10 5 11 8 1 5-4 2-12-2-6zM2936 673l-7 6 0 12 11 6 7-6 0-12zM3073 672l-7 5-2 11 6 9 6 1 6-5 2-11-5-8zM3126 670l-7 6-1 13 6 8 6 1 7-6 1-13-4-7zM2990 670l-7 7-1 11 5 8 6 2 7-5 2-13-6-9zM2775 636l-6 3-2 8 3 7 7 2 6-3 2-8-3-7zM2882 635l-7 7 0 8 3 5 8 2 7-7 0-8-3-5zM2963 634l-7 6 0 12 11 6 7-6 0-12zM2935 634l-5 4-2 10 5 9 8 1 5-4 2-10-5-9zM2829 634l-8 7 0 10 10 7 8-7 0-10zM3126 633l-6 4-2 12 5 8 6 2 8-6 1-10-4-8zM3099 633l-8 11 0 44 4 8 8 3 8-11 0-44-5-9zM2854 633l-6 6 0 12 4 5 7 1 7-6 0-12-4-5zM3180 630l-8 9 3 29-3 60 8 12-7 10-1 20 4 7 8 2 8-9-1-20-7-9 8-13-3-18 3-14-3-22 3-35-4-7zM3153 629l-8 9 3 33-3 11 3 63-3 23 4 9-4 10 0 59 5 8 6 2 9-10 0-59-4-9 4-10-3-16 3-22 0-48-3-8 3-36-6-8zM2883 597l-6 3-2 8 3 7 7 2 6-3 2-8-3-7zM2856 597l-6 3-2 8 3 7 7 2 6-3 2-8-3-7zM2963 595l-7 6 0 12 11 6 7-6 0-12zM2909 595l-6 4-2 11 4 8 8 2 6-4 2-11-4-8zM3126 594l-7 6-1 11 4 7 8 2 7-6 1-11-4-7zM3073 594l-9 10 3 26-3 19 5 8 6 2 9-10-3-13 3-32-5-8zM3046 594l-9 10 3 13-3 112 4 7 8 2 8-9 0-88-3-19 3-18-5-8zM2990 594l-8 10 3 28-3 17 5 8 6 2 9-10-3-14 3-31-4-8zM3017 592l-8 10 3 30-3 15 4 9 8 2 6-4 2-7-3-12 3-33-6-9zM3153 591l-7 6-1 15 4 7 8 2 7-6 1-15-4-7zM3099 590l-7 7-1 17 3 9 9 3 7-7 1-19-6-9zM2964 557l-6 3-2 8 3 7 7 2 6-3 2-8-3-7zM2856 557l-6 3-2 8 3 7 7 2 6-3 2-8-3-7zM2829 557l-6 3-2 8 3 7 7 2 6-3 2-8-3-7zM2585 557l-6 3-2 8 3 7 7 2 6-3 2-8-3-7zM2991 555l-8 7 0 10 10 7 8-7 0-10zM2935 555l-7 10 1 18 6 8-6 10 0 12 11 6 7-6 0-12-6-10 6-8 1-18-5-9zM2883 555l-8 7 0 10 10 7 8-7 0-10zM3343 554l-8 10 4 19-4 15 3 19-3 38 5 13-5 13 0 127 6 9 6 1 8-10 0-127-5-9 5-17-3-33 3-24-4-11 4-23-4-8zM3180 554l-8 10 0 46 5 8 7 2 8-10 0-46-4-8zM3127 554l-7 5-2 11 5 8 6 2 7-5 2-11-5-8zM3100 554l-7 5-2 11 5 8 7 2 6-5 2-11-5-8zM3046 554l-7 5-2 11 5 8 6 2 7-5 2-11-5-8zM3016 554l-6 6-1 9 4 8 8 2 6-4 2-12-5-8zM3018 518l-6 3-2 8 3 7 7 2 6-3 2-8-3-7zM2775 518l-6 3-2 8 3 7 7 2 6-3 2-8-3-7zM2693 518l-6 3-2 8 3 7 7 2 6-3 2-8-3-7zM2855 517l-7 7 0 8 3 5 8 2 7-7 0-8-3-5zM2801 517l-7 7 0 8 3 5 8 2 7-7 0-8-3-5zM2990 516l-6 4-2 10 5 9 7 1 6-4 2-10-5-9zM2964 516l-8 7 0 10 10 7 8-7 0-10zM2935 516l-6 6-1 9 4 8 8 2 6-4 2-11-5-9zM2909 516l-6 4-2 12 4 8 8 2 5-3 3-13-4-8zM2882 516l-6 4-2 9 4 9 8 2 6-4 2-9-4-9zM3126 515l-6 4-2 12 5 8 6 2 8-6 1-10-4-8zM3100 515l-7 5-2 12 5 8 6 2 8-6 1-11-5-8zM3073 515l-9 10 0 47 6 10 6 1 8-11 0-47-5-8zM3045 515l-7 6-1 12 5 8 6 2 8-7 1-12-4-7zM3343 514l-7 6-1 11 5 8 8 1 6-6 1-10-4-8zM3018 479l-6 3-2 8 3 7 7 2 6-3 2-8-3-7zM2964 479l-6 3-2 8 3 7 7 2 6-3 2-8-3-7zM2829 479l-6 3-2 8 3 7 7 2 6-3 2-8-3-7zM3234 477l-8 11 3 26-3 10 0 47 9 12-6 5-3 13 4 26-4 12 0 91 3 19-3 12 0 55 5 11-5 11 0 49 7 19-7 12 3 16-3 36 4 16-4 17 5 8 6 2 9-10-4-16 4-17-3-34 3-18-7-11 7-20 0-49-5-8 5-14 0-55-3-8 3-114-4-8 4-30-2-11-7-7 9-12 0-47-3-7 3-29-4-9zM3071 477l-5 4-2 10 5 9 8 1 5-4 2-10-5-9zM3045 477l-6 4-2 12 2 6 9 5 7-5 2-12-4-8zM2991 477l-8 7 0 10 10 7 8-7 0-10zM2936 477l-6 4-2 10 5 9 7 1 6-4 2-10-5-9zM2909 477l-7 6 0 12 11 6 7-6 0-12zM2855 477l-7 6 0 12 11 6 7-6 0-12zM3180 476l-8 10 0 46 5 8 6 2 9-10 0-46-5-8zM3154 476l-9 9 3 18-3 67 5 8 6 2 9-10-3-61 3-24zM3126 476l-7 6-1 11 5 8 6 2 7-5 2-12-4-8zM3343 474l-7 6-1 12 5 8 6 2 8-6 1-12-4-8zM3288 471l-8 10 0 12 5 9-5 12 0 21 5 9-5 13 0 412 4 10-4 25 11 9 9-9-4-22 4-13 0-412-5-8 5-14 0-21-5-11 5-10 0-12-4-8zM3100 467l-7 6-2 18 4 8 8 2 7-6 1-12-3-12zM2910 439l-6 3-2 8 3 7 7 2 6-3 2-8-3-7zM3017 438l-7 6 0 12 4 5 8 1 6-6 0-12-4-5zM3234 437l-6 4-2 9 4 9 8 2 6-4 2-9-4-9zM3127 437l-8 7 0 10 10 7 8-7 0-10zM3099 437l-6 4-2 10 6 10 6 1 6-5 2-10-5-9zM3073 437l-8 7 0 10 10 7 8-7 0-10zM2990 437l-6 4-2 9 4 9 8 2 6-4 2-9-4-9zM2936 437l-6 4-2 10 5 9 7 1 6-4 2-10-5-9zM3180 436l-7 6-1 14 5 9 7 1 7-6 1-15-4-7zM3154 436l-7 5-2 11 5 8 6 2 7-5 2-11-5-8zM3045 435l-7 8-1 9 5 8 6 2 7-5 2-11-8-11zM3451 427l-8 10 0 136 5 9-5 12 0 372 5 8-5 14 0 15 5 8 6 2 9-10 0-15-5-11 5-11 0-372-5-10 5-11 0-136-5-8zM2881 401l-6 8 0 44 3 5 8 2 7-7 0-44-4-7zM3018 400l-6 3-2 8 3 7 7 2 6-3 2-8-3-7zM2964 400l-6 3-2 8 3 7 7 2 6-3 2-8-3-7zM2747 400l-6 3-2 8 3 7 7 2 6-3 2-8-3-7zM2855 399l-7 7 0 8 3 5 8 2 7-7 0-8-3-5zM3180 398l-6 4-2 9 4 9 8 2 6-4 2-9-4-9zM3099 398l-6 4-2 9 4 9 8 2 6-4 2-9-4-9zM3072 398l-6 4-2 9 4 9 8 2 6-4 2-9-4-9zM3045 398l-7 6-1 15 3 9 9 4 7-8 1-16-4-8zM2990 398l-7 6 0 12 11 6 7-6 0-12zM2802 398l-8 7 0 10 10 7 8-7 0-10zM3153 397l-6 4-2 12 5 8 8 1 6-6 1-9-4-8zM2936 397l-5 3-3 11 4 9 8 2 6-4 2-10-4-9zM3344 396l-9 10 0 48 6 9 6 1 8-10 0-48-4-7zM3288 394l-8 9 1 17 8 9-8 9-1 16 6 8 6 1 8-9-1-16-8-9 8-9 1-17-6-8zM3126 392l-6 5-2 10 3 10 9 3 5-3 3-11-2-9zM3234 387l-7 8 0 20 10 7 8-7 0-20-4-7zM2961 363l-4 4 0 11 4 4 8 0 4-4 0-11-4-4zM3017 361l-6 4-1 12 4 6 7 1 7-7 0-9-4-6zM2910 361l-6 3-2 8 3 7 7 2 6-3 2-8-3-7zM2856 361l-6 3-2 8 3 7 7 2 6-3 2-8-3-7zM2882 360l-7 7 0 8 3 5 8 2 7-7 0-8-3-5zM3179 359l-5 4-2 10 5 9 8 1 5-4 2-10-5-9zM3126 359l-6 4-2 10 2 6 9 5 7-5 2-10-5-9zM3099 359l-7 6 0 12 11 6 7-6 0-12zM3072 359l-7 6 0 12 11 6 7-6 0-12zM2990 359l-7 6 0 12 11 6 7-6 0-12zM3398 358l-9 10 0 202 4 9-4 13 0 99 5 10-5 15 0 60 5 10-5 10 0 128 8 12-8 16 0 17 6 11-6 12 0 12 11 9 9-9 0-12-6-11 6-12 0-17-3-11-5-4 8-13 0-128-5-9 5-11 0-60-5-14 5-11 0-99-4-10 4-12 0-202-5-8zM3154 358l-7 5-2 11 5 8 6 2 7-5 2-11-5-8zM3046 358l-7 5-2 11 5 8 6 2 7-5 2-11-5-8zM3261 356l-8 9 0 173 3 7-3 11 0 60 3 11-3 12 0 365 11 9 9-9 0-365-3-9 3-14 0-60-3-7 3-11 0-173-6-8zM3288 321l-7 7 0 18 7 10-7 8-1 10 5 8 8 1 7-9-1-10-7-8 7-10 0-18-4-6zM3235 321l-7 5-1 25 5 8 8 0 5-8 0-21-3-7zM2883 321l-6 3-2 8 3 7 7 2 6-3 2-8-3-7zM3180 320l-7 7 0 8 3 5 8 2 7-7 0-8-3-5zM3045 320l-7 7 0 8 3 5 8 2 7-7 0-8-3-5zM2989 320l-6 6 0 10 3 5 8 2 6-4 1-13-4-5zM3342 319l-7 10 0 51 4 9 8 2 8-11 0-51-5-9zM3206 319l-7 9 1 21 4 6-5 12 3 16-3 21 0 599 5 8 6 2 9-10 0-599-3-17 3-20-5-8 5-31-5-8zM3099 319l-6 4-2 9 4 9 8 2 6-4 2-9-4-9zM3289 282l-6 3-2 8 3 7 7 2 6-3 2-8-3-7zM3260 282l-6 7 2 32-3 13 4 8 8 2 8-10-3-13 2-32-4-6zM3154 282l-6 3-2 6 6 12-6 15 4 7 8 1 6-8-6-12 6-15-3-7zM3073 282l-6 3-2 8 3 7 7 2 6-3 2-8-3-7zM2910 282l-6 3-2 8 3 7 7 2 6-3 2-8-3-7zM2883 282l-6 3-2 8 3 7 7 2 6-3 2-8-3-7zM3180 281l-7 7 0 8 3 5 8 2 7-7 0-8-3-5zM3097 281l-4 4 0 11 4 4 8 0 4-4 0-11-4-4zM3045 281l-7 7 0 8 3 5 8 2 7-7 0-8-3-5zM3343 280l-7 6 0 12 11 6 7-6 0-12zM3235 280l-8 7 0 10 10 7 8-7 0-10zM3208 280l-8 7 0 10 10 7 8-7 0-10zM3398 279l-9 10 0 48 6 8 6 1 8-9 0-48-5-8zM3344 243l-6 3-2 8 3 7 7 2 6-3 2-8-3-7zM3208 243l-6 3-2 8 3 7 7 2 6-3 2-8-3-7zM3397 241l-7 6-1 12 4 8 8 2 7-7 1-12-4-7zM3261 241l-7 6 0 12 11 6 7-6 0-12zM3452 240l-9 10 1 10 7 8-8 18 0 127 2 6 9 5 9-11-1-135-7-9 7-9 1-10-5-8zM3370 238l-8 9 0 757 11 9 9-9 0-757-6-8zM3424 221l-7 8-1 775 11 9 9-9 0-755-2-23zM3451 202l-7 7 0 8 3 5 8 2 7-7 0-8-3-5zM3316 202l-7 7-1 795 11 9 9-9-1-795-3-5zM3477 201l-7 9 0 794 11 9 9-9 0-794-5-8z"/><path class="s" fill-opacity="0.317" d="M3180 990l-6 4-1 9 3 5 8 2 6-4 1-9-3-5zM3126 990l-6 4-1 9 3 5 8 2 6-4 1-9-3-5zM3099 990l-6 4-1 9 3 5 8 2 6-4 1-9-3-5zM3072 990l-6 4-1 9 3 5 8 2 6-4 1-9-3-5zM3017 990l-5 3-2 10 3 5 8 2 5-3 2-10-3-5zM2963 990l-5 3-2 10 3 5 8 2 5-3 2-10-3-5zM3344 989l-7 5-1 9 3 5 8 2 6-4 1-9zM2989 989l-6 6 0 9 11 6 7-6 0-9-4-5zM3235 987l-7 7-1 9 3 5 8 2 6-4 1-9zM3397 985l-7 7 0 12 11 6 7-6 0-12zM3045 985l-7 7 0 12 11 6 7-6 0-12zM3289 982l-6 5-3 11 2 8 10 4 6-4 2-9-3-10zM3452 978l-7 6-1 20 11 6 7-6 0-16zM2958 959l2 6 12-2-2-6zM3016 952l-5 4-1 7 4 6 8 1 5-4 1-7-4-6zM3343 951l-7 7 0 11 4 8 10 0 4-19zM3180 951l-6 4-1 10 10 7 7-5 1-9-3-5zM3153 951l-7 6 0 47 11 6 7-6 0-47zM3126 951l-6 4-1 11 6 6 6 0 6-6 0-8-3-5zM3100 951l-7 5-1 7 10 8 7-5 1-7zM3071 951l-6 6 0 7 3 5 8 2 5-3 2-11-4-5zM3045 951l-6 4-1 9 3 5 8 2 6-4 1-9-3-5zM2990 951l-6 4-1 11 11 7 7-7 0-8-3-5zM3394 943l-5 21 2 7 9 6 8-8 0-17-4-9zM2962 912l-5 4-1 7 4 6 8 1 5-4 1-7-4-6zM3343 911l-7 6 0 11 11 7 7-7 0-11zM3180 911l-7 6 0 10 4 8 10 0 4-18zM3126 911l-6 4-1 9 3 5 8 2 6-4 1-9-3-5zM3072 911l-6 4-1 9 3 5 8 2 6-4 1-10zM3045 911l-6 4-1 9 3 5 8 2 6-4 1-9-3-5zM2990 911l-6 4-1 9 3 5 8 2 6-4 1-9-3-5zM3234 910l-7 8 4 19-5 25 3 17 8 3 6-3 2-33-4-9 4-19zM3100 909l-7 6-1 9 3 5 8 2 6-4 1-9zM3018 906l-8 7 0 12 11 6 7-6 0-12zM2931 880l2 6 12-2-2-6zM2962 874l-5 4 0 8 11 4 5-4 0-8zM3153 872l-7 6 0 47 11 6 7-6 0-47zM3126 872l-7 6 0 12 4 5 8 1 6-6 0-12zM3099 872l-6 4-1 17 2 7 9 4 6-6 1-19-3-5zM3072 872l-5 3-2 10 3 5 8 2 5-3 2-10-3-5zM3018 872l-7 5-1 7 10 8 7-5 1-7zM2990 872l-6 4-1 9 3 5 8 2 6-4 1-9-3-5zM3044 871l-6 6 0 10 4 5 8 1 6-6 0-10-4-5zM2931 841l2 6 12-2-2-6zM2904 841l2 6 12-2-2-6zM2961 836l-4 5 1 6 11 3 4-5-1-6zM3126 833l-6 4-1 9 3 5 8 2 6-4 1-9-3-5zM3099 833l-6 4-1 9 3 5 8 2 6-4 1-9-3-5zM3072 833l-7 6 0 9 11 7 7-7 0-9zM3017 832l-7 6 0 10 4 6 8 1 5-4 1-13zM2990 832l-6 4-1 10 3 5 8 2 6-4 1-10-3-5zM3343 831l-7 7 0 49 11 6 7-6 0-49-3-5zM3234 831l-8 11 1 46 4 11 10 0 4-11 1-46-4-8zM3045 830l-7 7 0 10 11 6 7-6 0-10zM3180 822l-7 10-1 14 5 23-4 16 3 5 8 2 7-7-4-16 5-28-3-16zM2931 801l2 6 12-2-2-6zM2877 801l2 6 12-2-2-6zM2961 796l-4 5 1 6 11 3 4-5-1-6zM2907 796l-4 5 1 6 11 3 4-5-1-6zM2855 794l-7 10 3 6 8 2 7-10-3-6zM3180 793l-6 4-1 9 11 8 6-5 1-9-3-5zM3126 793l-6 4-1 9 3 5 8 2 6-4 1-9-3-5zM3045 791l-6 4-1 14 4 5 8 1 6-6 0-11-3-5zM3017 791l-7 6 0 9 3 5 8 2 6-4 1-12zM3073 790l-7 7-1 9 3 5 8 2 6-4 1-9zM3398 788l-9 13 0 85 3 14-2 24 3 5 8 2 7-7 1-123-2-7zM3099 786l-7 7 0 14 11 6 7-6 0-14-3-5zM2904 762l2 6 12-2-2-6zM2796 762l2 6 12-2-2-6zM2880 757l-4 5 1 6 11 3 4-5-1-6zM2935 756l-5 4 0 8 11 4 5-4 0-8zM3072 754l-6 4-1 11 3 14 7 2 6-4 2-20-3-5zM2990 754l-7 7 1 9 5 6-6 30 3 5 8 2 7-7-2-22-4-4 6-19-3-5zM2964 754l-7 5-1 7 10 8 7-5 1-7zM3127 753l-7 5-1 9 3 5 8 2 6-4 1-10zM3045 751l-7 7 0 10 11 6 7-6 0-10-3-5zM3153 749l-7 10 0 9 7 9-7 10-1 19 4 12-3 28 3 5 8 2 7-7-3-26 4-14-1-19-7-9 7-10 0-9-7-10zM3180 747l-6 5-2 14 5 9 8 1 6-6 0-15-4-7zM2934 718l-4 5 1 6 11 3 4-5-1-6zM2907 718l-4 5 1 6 11 3 4-5-1-6zM2854 717l-5 4 0 8 11 4 5-4 0-8zM2882 716l-7 10 3 6 8 2 7-10-3-6zM2963 715l-6 4-1 9 3 5 8 2 6-4 1-9-3-5zM3017 714l-7 6 0 46 10 8 8-8 0-46zM2990 714l-6 4-2 11 2 7 10 5 7-7 1-10-4-8zM3127 710l-8 7 0 12 11 6 7-6 0-12zM3099 708l-7 9 0 52 11 7 7-7 0-52-4-8zM3072 708l-6 5-1 15 3 5 8 2 6-4 1-14-4-8zM3398 706l-6 4-3 13 0 47 2 8 10 6 8-14 0-47-3-13zM2904 683l2 6 12-2-2-6zM2877 683l2 6 12-2-2-6zM2769 683l2 6 12-2-2-6zM2741 683l2 6 12-2-2-6zM2853 678l-4 5 1 6 11 3 4-5-1-6zM2826 678l-4 5 1 6 11 3 4-5-1-6zM2964 676l-7 5-1 7 3 7 7 2 6-3 2-10zM2936 676l-7 10 3 6 8 2 7-10-3-6zM3072 675l-6 4-1 9 3 5 8 2 6-4 1-9-3-5zM3018 675l-7 5-1 7 10 8 7-5 1-7zM3343 673l-7 8 0 21 4 11-4 8 0 53 3 12-4 17 2 7 10 5 8-12-4-17 3-12 0-53-4-8 4-11 0-21zM3126 673l-7 6 0 10 11 6 7-6 0-10zM2990 673l-7 7 0 8 3 5 8 2 6-4 1-11zM2769 644l2 6 12-2-2-6zM2880 639l-4 5 1 6 11 3 4-5-1-6zM2827 638l-5 4 0 8 11 4 5-4 0-8zM2963 637l-7 10 3 6 8 2 7-10-3-6zM3126 636l-6 4-1 9 3 5 8 2 6-4 1-10zM3099 636l-7 7 4 13-4 33 11 6 7-6-4-29 4-17-3-5zM2936 636l-5 3-2 10 3 5 8 2 5-3 2-10-3-5zM2855 636l-6 5 0 8 10 5 6-5 0-8zM3180 633l-6 4-1 23 6 9-6 12 0 15 5 11-5 11 0 11 10 7 8-7 0-11-5-9 5-13 0-15-6-12 6-9 1-16-4-9zM3153 632l-8 11 3 23 4 5-6 10 0 50 3 12 7 2 5-2 3-12 0-50-6-10 4-5 3-23-6-10zM3235 630l-9 14 3 20-3 61 3 19 4 4-6 12 0 56 4 7 6 2 8-9 0-56-6-12 4-4 3-19-3-50 3-31-2-7zM2877 605l2 6 12-2-2-6zM2850 605l2 6 12-2-2-6zM2963 598l-7 10 3 6 8 2 7-10-3-6zM2909 598l-6 4-1 8 3 5 8 2 6-4 1-8-4-6zM3126 597l-6 4-1 10 10 7 7-5 1-10zM3072 597l-7 6 1 20 5 7-6 19 3 5 8 2 7-7-1-9-5-5 6-17 0-15zM3045 597l-7 7 1 9 5 6-6 21 0 48 3 7-3 34 10 7 8-7-3-31 3-10-1-60-5-7 6-17-3-5zM2990 597l-7 7 1 21 4 7-5 17 3 5 8 2 7-7-5-15 4-9 1-21-3-5zM2937 597l-6 4-2 7 3 6 8 2 7-10-4-7zM3017 595l-7 7 2 25 4 5-6 16 4 6 8 1 6-7-6-16 4-5 2-25zM3153 594l-7 7 0 11 11 6 7-6 0-11-3-5zM3098 594l-6 6 0 15 3 6 10 1 5-7 0-15-4-5zM3231 590l-4 24 2 7 9 4 6-6 1-19-4-10zM3343 588l-7 10 0 12 6 11-6 8-1 18 3 15 9 3 5-3 3-15-1-18-6-8 6-11 0-12-7-10zM3451 586l-5 4-3 11 3 25-3 14 0 209 3 52-3 21 1 44 11 7 7-7 1-44-3-17 3-56 0-209-3-14 3-25-3-11zM3398 582l-6 5-3 13 1 55 3 9-3 27 11 8 7-8-3-27 3-9 1-55-3-13zM2958 565l2 6 12-2-2-6zM2850 565l2 6 12-2-2-6zM2823 565l2 6 12-2-2-6zM2579 565l2 6 12-2-2-6zM2989 559l-5 4 0 8 11 4 5-4 0-8zM2881 559l-5 4 0 8 11 4 5-4 0-8zM2935 558l-6 7 1 14 3 6 6 1 6-3 2-18-4-6zM3343 557l-7 6 0 10 4 6 7 2 7-8 0-10zM3180 557l-7 6 4 29-4 18 3 5 8 2 7-7-4-13 4-34zM3126 557l-6 4-1 9 3 5 8 2 6-4 1-9-3-5zM3099 557l-6 4-1 9 3 5 8 2 6-4 1-9-3-5zM3045 557l-6 4-1 9 3 5 8 2 6-4 1-9-3-5zM3018 556l-7 5-1 9 4 5 8 1 6-6 0-7zM3288 550l-8 12 3 19-3 66 0 126 3 18-3 11 3 50-3 29 3 18-3 23 1 47 7 9 4 0 7-9 1-47-3-23 3-18-3-23 3-50-3-17 3-18-3-192 3-19-3-8zM3012 526l2 6 12-2-2-6zM2769 526l2 6 12-2-2-6zM2687 526l2 6 12-2-2-6zM2853 521l-4 5 1 6 11 3 4-5-1-6zM2799 521l-4 5 1 6 11 3 4-5-1-6zM2962 520l-5 4 0 8 11 4 5-4 0-8zM2909 519l-6 4-1 9 3 5 8 2 5-3 2-10-4-6zM2881 519l-5 4-1 7 4 6 8 1 5-4 1-7-4-6zM3126 518l-6 4-1 9 3 5 8 2 6-4 1-10zM3099 518l-6 4-1 10 3 5 8 2 6-4 1-10-3-5zM3072 518l-7 7 4 14-4 33 4 6 8 1 6-7-4-31 4-16-3-5zM3045 518l-7 6 0 9 10 7 7-5 1-11-4-5zM2991 518l-7 5-1 7 10 8 7-5 1-7zM2936 518l-5 3-2 10 3 5 8 2 6-4 1-9-3-5zM3343 517l-6 4-1 10 3 5 8 2 5-3 2-11-3-5zM3288 505l-7 9-1 16 3 9 9 3 7-7 0-21-3-6zM3012 487l2 6 12-2-2-6zM2958 487l2 6 12-2-2-6zM2823 487l2 6 12-2-2-6zM2989 481l-5 4 0 8 11 4 5-4 0-8zM3234 480l-7 8 2 21 4 5-6 10 0 47 11 7 7-7 0-47-6-9 4-6 2-21-3-6zM3045 480l-6 4-1 9 4 6 8 1 5-4 1-9-3-5zM2909 480l-7 10 3 6 8 2 7-10-3-6zM2855 480l-7 10 3 6 8 2 7-10-3-6zM3180 479l-7 6 4 18-4 29 3 5 8 2 7-7-4-26 4-21zM3153 479l-7 6 0 11 6 8-6 17 0 50 11 6 7-6 0-50-6-12 6-13 0-11zM3126 479l-6 4-1 10 3 5 8 2 6-4 1-11zM3072 479l-5 3-2 10 3 5 8 2 5-3 2-10-3-5zM2937 479l-7 5-1 7 10 8 7-5 1-7zM3343 477l-7 7 0 8 3 5 8 2 6-4 1-11-3-5zM3287 475l-5 4-1 14 10 9 8-9 0-11-4-6zM3096 473l-4 18 4 6 8 1 6-7-1-13-3-5zM2904 447l2 6 12-2-2-6zM3125 441l-5 4 0 8 11 4 5-4 0-8zM3071 441l-5 4 0 8 11 4 5-4 0-8zM3017 441l-6 5 0 8 10 5 6-5 0-8zM3233 440l-5 4-1 7 4 6 8 1 5-4 1-7-4-6zM2989 440l-5 4-1 7 4 6 8 1 5-4 1-7-4-6zM3153 439l-6 4-1 9 3 5 8 2 6-4 1-9-3-5zM3100 439l-7 5-1 7 5 7 6 1 6-5 1-7zM3045 439l-6 4-1 9 3 5 8 2 6-4 1-9-3-5zM2937 439l-7 5-1 7 10 8 7-5 1-7zM3181 438l-8 7 0 11 10 7 8-7 0-11zM3288 434l-6 5-2 10 4 9 8 2 6-4 2-10-2-7zM3451 431l-6 4-2 8 0 125 2 7 9 6 9-13 0-125-2-8zM3012 408l2 6 12-2-2-6zM2958 408l2 6 12-2-2-6zM2879 406l-2 7 5 10-5 6-1 22 4 5 8 0 4-10-1-17-5-10 5-10-2-3zM2741 408l2 6 12-2-2-6zM2853 403l-4 5 1 6 11 3 4-5-1-6zM2800 402l-5 4 0 8 11 4 5-4 0-8zM3179 401l-5 4-1 7 4 6 8 1 5-4 1-7-4-6zM3098 401l-5 4-1 7 4 6 8 1 5-4 1-7-4-6zM3071 401l-5 4-1 7 4 6 8 1 5-4 1-7-4-6zM3045 401l-6 4-1 14 5 8 8 0 5-8 0-11-4-6zM2990 401l-7 10 3 6 8 2 7-10-3-6zM3342 400l-6 6-1 44 6 10 6 1 8-11-1-44-6-6zM3152 400l-6 6 0 7 11 7 6-5 1-9-4-5zM2936 400l-5 3-2 8 3 6 8 2 5-3 2-8-3-6zM3288 397l-6 5-2 9 2 8 9 5 7-5 2-11-6-10zM3123 397l-3 14 4 5 8 0 4-5-1-12zM3231 392l-3 22 4 4 8 0 5-8-4-18zM2958 371l2 6 10 0 2-3-2-6-10 0zM2904 369l2 6 12-2-2-6zM2850 369l2 6 12-2-2-6zM3018 364l-6 4-1 6 3 5 7 1 5-3 1-7zM2880 364l-4 5 1 6 11 3 4-5-1-6zM3099 362l-7 10 3 6 8 2 7-10-3-6zM3072 362l-7 10 3 6 8 2 7-10-3-6zM2990 362l-7 10 3 6 8 2 7-10-3-6zM3397 361l-7 6-1 167 1 37 10 9 8-9 0-204zM3180 361l-5 3-2 10 3 5 8 2 5-3 2-10-3-5zM3153 361l-6 4-1 9 3 5 8 2 6-4 1-9-3-5zM3127 361l-7 5-1 7 10 8 7-5 1-7zM3045 361l-6 4-1 9 3 5 8 2 6-4 1-9-3-5zM3288 360l-6 5-1 9 11 7 6-5 1-9zM3261 359l-8 10 3 18-3 20 0 88 3 9-3 29 7 13-7 14 0 49 7 19-7 15 3 68-3 13 1 280 11 6 7-6 1-280-3-11 3-70-7-14 7-20 0-49-7-12 7-15-3-26 3-12 0-88-3-14 3-24-4-8zM3208 359l-8 8 5 20-4 6-2 48 3 21-3 26 0 509 2 9 10 4 6-4 2-9 0-509-3-22 3-25-1-39-5-15 5-20zM3231 327l-2 24 2 3 10 0 2-25zM2877 329l2 6 12-2-2-6zM3288 325l-5 3-2 11 2 7 9 4 6-6 0-14zM3178 324l-4 5 1 6 11 3 4-5-1-6zM3043 324l-4 5 1 6 11 3 4-5-1-6zM2989 323l-5 4 0 8 10 5 6-5 0-8zM3098 322l-5 4-1 7 4 6 8 1 5-4 1-7-4-6zM3343 321l-7 7 4 13-4 39 4 6 7 1 7-7-4-36 4-16-3-5zM3207 321l-7 7 0 15 4 8 7 1 6-5 1-19-3-5zM3148 315l2 6 10 0 2-3-2-6-10 0zM3283 290l2 6 12-2-2-6zM3148 290l2 6 12-2-2-6zM3067 290l2 6 12-2-2-6zM2904 290l2 6 12-2-2-6zM2877 290l2 6 12-2-2-6zM3094 289l2 6 10 0 2-3-2-6-10 0zM3261 285l-6 5 0 20 5 9-6 15 3 5 8 2 7-7-6-15 5-9 0-20zM3178 285l-4 5 1 6 11 3 4-5-1-6zM3043 285l-4 5 1 6 11 3 4-5-1-6zM3233 284l-5 4 0 8 11 4 5-4 0-8zM3206 284l-5 4 0 8 11 4 5-4 0-8zM3343 283l-7 10 3 6 8 2 7-10-3-6zM3397 282l-7 7-1 44 4 8 8 2 8-10-1-44-3-5zM3451 275l-5 3-3 18 1 118 11 6 7-6 1-118-3-18zM3338 251l2 6 12-2-2-6zM3202 251l2 6 12-2-2-6zM3397 244l-6 4-1 11 11 7 7-7 0-8-4-6zM3261 244l-7 10 3 6 8 2 7-10-3-6zM3451 243l-6 4-1 10 11 7 6-5 1-9-3-5zM3370 241l-8 11 0 748 4 8 8 2 8-10 0-748-6-10zM3424 225l-6 6-2 54 0 715 4 8 8 2 8-10 0-715-2-54-3-5zM3449 206l-4 5 1 6 11 3 4-5-1-6zM3317 205l-7 5-2 78 0 712 4 8 8 2 8-10 0-712-2-78zM3478 203l-6 4-2 8 0 786 4 7 8 2 8-9 0-786-2-8z"/><path class="s" fill-opacity="0.390" d="M3011 997l3 9 7 1 6-4-3-9-7-1zM2957 997l3 9 7 1 6-4-3-9-7-1zM3343 992l-6 5 0 6 9 5 7-5 0-6zM3181 992l-7 5 0 6 9 5 7-5 0-6zM3127 992l-7 5 0 6 9 5 7-5 0-6zM3100 992l-7 5 0 6 9 5 7-5 0-6zM3073 992l-7 5 0 6 9 5 7-5 0-6zM3234 991l-5 4-1 8 9 5 7-5 0-6zM2990 991l-6 5 0 7 9 5 7-5 0-7zM3398 988l-7 5-1 7 10 8 7-5 1-7zM3045 988l-5 3-2 9 10 8 7-5 1-7-3-6zM3288 987l-5 3-2 11 10 7 7-5 1-8-3-6zM3451 983l-5 3-2 14 10 8 7-5-1-17zM3343 954l-6 4 1 13 12 2 3-15zM3099 954l-5 3-1 6 10 5 5-3 1-6zM3018 954l-7 8 9 6 7-8zM2989 954l-5 4 0 7 10 5 5-3 1-9zM3180 953l-6 5 0 7 10 4 6-4 0-7zM3154 953l-8 8 3 13-3 26 10 8 8-8-3-21 3-18zM3127 953l-7 5 0 7 10 5 6-5 0-7zM3068 955l-2 9 10 4 6-4-2-9zM3046 953l-7 5 0 6 9 5 7-5 0-6zM3394 947l-4 19 3 5 8 2 7-7-2-17zM3235 940l-6 4-2 21 4 11 10 0 4-23-2-9zM2964 914l-7 8 9 6 7-8zM3344 913l-7 5-1 6 5 7 6 1 7-11zM3234 913l-6 5 0 8 9 7 7-7 0-8zM3181 913l-7 5 0 9 3 4 10 0 3-13zM3127 913l-7 5 0 6 9 5 7-5 0-6zM3099 913l-6 5 0 6 9 5 7-5 0-6zM3072 913l-5 3-1 8 9 5 7-5 0-6zM3046 913l-7 5 0 6 9 5 7-5 0-6zM2991 913l-7 5 0 6 9 5 7-5 0-6zM3015 910l-5 11 10 8 7-5 0-10-4-4zM3398 906l-6 8-1 10 10 5 6-5 0-7zM3285 899l-4 17 0 49 4 7 7 1 7-8 0-49-3-16zM2958 880l5 7 9-3-5-7zM3072 875l-5 3-1 6 10 5 5-3 1-6zM3017 875l-5 3-1 6 10 5 5-3 1-6zM3154 874l-8 8 3 24-3 15 10 8 8-8-3-15 3-24zM3127 874l-7 5-1 7 10 8 7-5 1-7zM3100 874l-7 5 0 13 3 7 10 0 3-20zM2991 874l-7 5 0 6 9 5 7-5 0-6zM3045 873l-7 10 3 6 8 2 7-10-3-6zM3181 870l-7 9 0 6 9 5 7-5 0-6zM3127 835l-7 5 0 6 9 5 7-5 0-6zM3100 835l-7 5 0 6 9 5 7-5 0-6zM3073 835l-7 5 0 7 10 5 5-3 1-9zM2989 835l-5 4 0 7 9 5 7-5 0-7zM3341 834l-5 10 6 23-6 16 4 6 8 1 6-7-6-16 6-25-5-8zM3235 834l-8 7 0 41 4 12 10 0 4-12 0-41zM3018 834l-7 5 0 9 4 4 8 0 5-10zM3045 833l-7 10 10 8 8-10-3-6zM3177 827l-4 11 4 25 10 0 4-15-2-19zM2850 800l2 8 12-2-2-8zM3181 795l-7 5 0 6 10 5 6-5 0-6zM3127 795l-7 5 0 6 9 5 7-5 0-6zM3073 794l-7 6 0 6 9 5 7-5 0-6zM3043 794l-5 7 1 7 4 4 8 0 5-7-1-7-4-4zM3018 793l-7 5 0 8 11 4 5-4 0-8zM3397 792l-7 7 0 88 3 13 11 1 4-14 0-88zM2990 790l-5 5-1 11 11 4 5-4 0-7-4-8zM3100 789l-6 3-2 12 10 7 7-5 1-8-3-7zM3153 783l-7 9 0 16 6 10-5 28 9 5 7-5-5-28 6-10 0-16-3-7zM2931 762l5 7 9-3-5-7zM2963 757l-5 3-1 6 10 5 5-3 1-6zM3126 756l-6 4 0 7 9 5 7-5 0-7zM3073 756l-7 5 3 16 10 0 3-16zM2991 756l-7 5 0 6 10 6 5-4 1-8zM3234 755l-7 9 0 45 5 11 8 0 5-11 0-45-3-6zM3153 754l-6 6 0 8 10 5 6-5 0-8zM3045 754l-7 10 10 8 8-10-4-7zM3180 751l-6 5-1 11 11 7 6-5 1-9-4-8zM3100 747l-5 4-3 15 3 5 8 2 6-4 1-8-3-10zM2850 723l5 7 9-3-5-7zM2877 722l2 8 12-2-2-8zM2957 722l0 6 5 4 11-4 0-6-5-4zM3017 716l-7 8 3 22 3 2-5 18 10 5 6-5-5-18 3-2 3-22-5-7zM2990 716l-7 7 0 8 3 5 8 2 7-7 0-8zM3127 713l-7 5-1 7 10 8 7-5 1-7zM3096 713l-4 16 3 13 7 3 5-3 3-20-4-9zM3069 713l-3 15 9 5 7-5 0-10-3-5zM3180 712l-6 6-1 7 5 7 6 1 7-11-7-10zM3397 711l-7 9 0 52 5 7 6 1 7-8 0-52-4-8zM2961 680l-3 10 12 2 2-9zM2931 682l2 8 12-2-2-8zM3017 678l-5 3-1 6 10 5 5-3 1-6zM3073 677l-7 5 0 6 9 5 7-5 0-6zM3343 676l-7 8 2 21 6 6-8 14 3 11-3 32 7 14-7 23 3 5 8 2 7-7-2-13-5-6 7-18-3-25 3-18-8-14 6-6 2-21-4-6zM3180 676l-6 5-1 8 3 11 7 2 6-4 2-14-4-6zM2990 676l-5 3-1 9 9 5 7-5 0-7zM3153 675l-6 7-1 44 2 9 9 3 5-3 2-9-1-44zM3126 675l-7 10 10 8 8-10-5-7zM3398 671l-6 4-2 13 3 5 8 2 5-3 2-10-2-7zM3235 669l-8 13 0 45 3 9 8 3 7-12 0-45zM3096 666l-4 19 5 7 6 1 7-8-4-19zM2823 644l5 7 9-3-5-7zM2958 643l2 8 12-2-2-8zM2851 641l1 9 11-1-1-9zM3099 639l-5 3-1 7 9 8 7-13zM2930 643l3 9 7 1 6-4-3-9-7-1zM3126 638l-5 3-1 8 9 5 7-5 0-6zM3072 637l-5 4-1 8 9 5 7-5 0-6zM3179 636l-6 6 1 16 3 6 7 1 5-3 2-20-4-5zM3018 636l-7 11 9 6 7-8zM2991 636l-6 5-1 8 9 5 7-5 0-6zM3234 635l-7 7 4 22 10 0 4-22zM3152 635l-5 4-1 9 3 11 7 2 5-2 3-17-4-6zM3261 634l-7 8 0 57 3 10-4 51 1 241 10 7 8-7 1-241-1-38-3-6 3-74-5-7zM3042 627l-4 18 3 18-2 25 5 13-3 2-2 26 10 4 6-4-5-34 5-7-2-25 3-18-3-17zM3344 624l-7 6-1 20 4 10 10 0 4-10-2-22zM2958 604l2 8 12-2-2-8zM2931 604l2 8 12-2-2-8zM3071 600l-6 7 4 17 10 0 4-17-4-6zM2910 600l-7 9 10 5 6-8zM3126 599l-5 3-1 9 10 4 6-4 0-7zM3046 599l-7 5 0 6 10 6 5-4 1-8zM2991 599l-7 5 3 22 10 0 3-22zM3017 598l-6 5 0 8 9 9 6-6 1-11zM3152 597l-5 4-1 8 11 7 6-5 1-7-4-6zM3098 597l-5 4-1 10 4 7 7 1 6-5 1-10-4-6zM3180 596l-6 14 9 5 7-5 0-6-6-8zM3231 595l-3 5 1 17 12 2 3-5-1-17zM3344 593l-6 3-2 11 5 7 6 1 6-5-1-14zM3451 590l-7 8 4 30-4 11 0 247 3 12-3 65 11 7 7-7 0-49-3-7 3-21 0-247-4-9 4-32-3-6zM3398 587l-8 10 0 52 4 11 10 0 4-11 0-52-2-6zM3289 585l-5 4-3 13 0 174 3 12-3 55 4 9-4 31 10 14 8-14-4-25 4-15 0-43-3-6 3-18 0-174-3-13zM2985 565l5 7 9-3-5-7zM2877 565l5 7 9-3-5-7zM2934 561l-4 5 3 14 10 0 3-14-4-5zM3343 559l-6 4 0 9 10 5 6-5 0-9zM3180 559l-6 4 3 23 10 0 3-23zM3127 559l-7 5 0 6 9 5 7-5 0-6zM3100 559l-7 5 0 6 9 5 7-5 0-6zM3046 559l-7 5 0 6 9 5 7-5 0-6zM3017 559l-5 3-1 7 10 5 5-3 1-7zM3072 554l-6 9 0 9 9 5 7-5 0-9-6-9zM3289 553l-8 8 3 20 7 2 5-2 3-20zM3154 552l-7 10 0 8 9 5 7-5 0-8zM3261 551l-7 8 0 53 4 9 10 0 4-9 0-53zM2958 526l5 7 9-3-5-7zM2904 525l-1 6 6 5 10-5-5-9zM2990 521l-5 3-1 6 10 5 5-3 1-6zM2936 521l-5 3-1 7 9 5 7-5 0-5zM2883 521l-7 8 9 6 7-8zM3126 520l-5 3-1 8 9 5 7-5 0-6zM3100 520l-7 5 0 7 11 4 5-4 0-7zM3073 520l-7 5 0 6 9 9 7-9 0-6zM3045 520l-5 3-1 9 10 5 6-5 0-7zM3344 519l-7 5 0 7 10 4 6-4 0-7zM3235 518l-8 10 1 43 10 4 6-4 1-43zM3150 515l-4 12 3 16 11 1 4-15-2-12zM3288 509l-6 6-1 17 3 5 8 2 7-7 0-13-3-8zM3181 509l-6 4-1 19 11 4 5-4-1-19zM2985 487l5 7 9-3-5-7zM3234 483l-6 8 2 9 8 3 4-3 2-11-2-4zM3042 484l-2 10 12 2 2-10zM2904 486l2 8 12-2-2-8zM2850 486l2 8 12-2-2-8zM3066 486l3 9 7 1 6-4-3-9-7-1zM2936 482l-5 3-1 6 10 5 5-3 1-6zM3181 481l-7 5-1 6 10 12 8-15zM3154 481l-7 5-1 6 7 9 4 0 7-12zM3126 481l-6 5 0 7 10 4 6-4 0-7zM3342 480l-5 4 0 8 9 5 7-5 0-8zM3287 478l-6 12 11 8 6-5 1-8-4-6zM3096 477l-3 14 10 5 6-5-3-14zM3013 446l1 9 11-1-1-9zM3121 447l5 7 9-3-5-7zM3067 447l5 7 9-3-5-7zM3235 442l-7 8 9 6 7-8zM3147 446l0 6 5 4 11-4 0-6-5-4zM3099 442l-5 3-1 6 10 5 5-3 1-6zM2991 442l-7 8 9 6 7-8zM2936 442l-5 3-1 6 10 5 5-3 1-6zM3180 441l-6 4-1 7 3 6 10 1 5-11-3-5zM3046 441l-7 5 0 6 11 4 5-4 0-6zM2878 447l1 4 11-1-5-9zM3288 437l-6 5-1 9 4 5 8 1 5-4 1-8-5-7zM3450 434l-6 7 0 129 11 7 7-7 0-129-4-6zM2796 408l5 7 9-3-5-7zM2985 407l2 8 12-2-2-8zM3181 403l-7 8 9 6 7-8zM3100 403l-7 8 9 6 7-8zM3073 403l-7 8 9 6 7-8zM3046 403l-7 5 0 10 3 5 6 1 6-3 1-13zM2931 406l2 9 12-2-1-8-8-2zM3343 402l-6 5-1 44 3 5 8 2 7-7-1-44zM3153 402l-5 3-1 7 10 5 5-3 1-7zM3123 401l-1 10 11 1 1-10zM3287 400l-6 7 0 6 10 8 7-5 1-9-4-6zM3231 398l-2 14 12 2 1-15zM3204 392l-4 16 0 45 4 11-4 21 0 87 3 11-3 18 0 326 3 11-3 63 10 7 8-7 0-49-3-10 3-15 0-326-3-11 3-18 0-87-4-21 4-11 0-45-3-15zM3094 368l2 8 12-2-2-8zM3067 368l2 8 12-2-2-8zM2985 368l2 8 12-2-2-8zM3180 364l-5 3-1 6 10 5 5-3 1-6zM3126 364l-5 3-1 6 10 5 5-3 1-6zM3039 368l0 6 5 4 11-4 0-6-5-4zM3398 363l-8 8 5 16-5 16 0 165 10 8 8-8 0-165-5-14 5-18zM3288 363l-5 3-1 7 10 5 5-3 1-7zM3207 363l-5 3-1 9 9 7 6-5 1-9zM3154 363l-7 5 0 6 9 5 7-5 0-6zM3260 362l-6 6 4 19-4 16 0 92 4 10-4 30 11 8 7-8-4-30 4-10 0-92-4-11 4-24-4-5zM3343 349l-4 2-3 25 4 7 7 1 5-3 2-10-4-10 1-10zM3285 330l-2 13 12 2 2-13zM2985 329l5 7 9-3-5-7zM3342 324l-5 4 0 6 9 9 7-9 0-6zM3207 324l-6 4 1 17 9 3 5-3 2-14-4-6zM3100 324l-7 8 9 6 7-8zM3261 322l-6 12 9 5 7-5 0-5zM3258 290l-2 17 2 3 10 0 2-18zM3229 290l5 7 9-3-5-7zM3202 290l5 7 9-3-5-7zM3338 289l2 8 12-2-2-8zM3396 285l-5 4 2 23-3 22 4 5 8 1 6-6-3-22 2-23zM3448 280l-4 11 0 119 5 7 6 1 7-8 0-119-4-11zM3256 250l2 8 12-2-2-8zM3398 246l-7 5 0 7 10 5 5-3 1-9zM3452 245l-7 5 0 7 10 4 6-4 0-7zM3370 244l-7 7-1 594 1 156 10 7 8-7 1-673-3-14 2-63-3-5zM3421 231l0 14-4 7-1 636 1 113 10 7 8-7 1-668-1-81-4-7 1-13zM3313 210l-4 42-1 673 1 76 10 7 8-7 1-76-1-673-3-10 1-30zM3477 206l-6 6-1 786 5 8 6 2 9-10-1-786-4-5z"/><path class="s" fill-opacity="0.480" d="M3338 998l5 7 9-3-4-7zM3175 998l5 7 9-3-5-7zM3121 998l5 7 9-3-5-7zM3094 998l5 7 9-3-5-7zM3067 998l5 7 9-3-5-7zM3012 999l5 6 9-4-5-6zM2958 999l5 6 9-4-5-6zM3229 998l5 7 9-3-5-8zM2985 997l4 8 10-3 0-5-6-4zM3397 991l-6 9 5 5 6 0 5-8zM3042 992l-3 4 2 7 9 2 4-3-2-10zM3285 991l-3 10 5 4 8-1 3-3-1-8zM3448 988l-3 13 5 4 8-1 3-3-1-11zM3153 987l-6 13 5 5 6 0 5-9-4-8zM3013 960l4 4 8-2-4-4zM3095 960l4 5 8-3-4-5zM3341 957l-3 10 12 2 2-9-5-4zM3175 959l5 8 9-4-4-7zM3152 956l-5 8 6 9 4 0 6-12-5-5zM3121 959l4 8 10-3 0-5-5-3zM3067 959l5 7 9-4-4-6zM3040 960l5 6 9-4-5-6zM2990 956l-5 8 8 4 6-8zM3394 951l-2 16 12 2 3-4-1-12zM3231 946l-2 23 9 3 6-7-3-19zM3208 943l-8 13 1 45 11 4 5-4 1-45-3-9zM2959 920l4 4 8-2-4-4zM3338 919l2 9 12-2-1-8-8-2zM3234 916l-5 3 0 5 8 5 6-5 0-5zM3175 919l2 9 12-2 1-5-5-5zM3121 919l5 7 9-3-5-7zM3040 919l5 7 9-3-5-7zM2985 919l5 7 9-3-5-7zM3100 915l-6 8 9 3 5-7zM3073 915l-6 8 9 3 5-7zM3012 915l-1 6 6 5 10-5-4-8zM3398 911l-6 12 9 3 5-3 0-5zM3150 911l-2 12 4 3 9-2 0-12zM3289 906l-7 10 0 49 9 5 7-5 0-49-2-7zM3287 939l5-1 1 3-5 1zM3452 905l-8 14 1 44 10 4 6-4 1-44-3-9zM3013 881l4 5 8-3-4-5zM3152 877l-5 4 2 19 7 5 6-8 1-16zM3126 877l-5 3-1 6 10 5 5-3 1-6zM3095 879l-1 13 12 2 2-14-5-3zM3073 877l-5 7 7 3 5-7zM2985 880l5 7 9-3-5-7zM3046 875l-7 8 9 6 7-8zM3181 874l-6 10 9 3 5-7zM3343 872l-5 4-1 7 10 5 5-3 1-6-4-6zM3289 862l-6 4-1 17 6 8 4 0 6-8-2-19zM3121 841l5 7 9-3-5-7zM3094 841l5 7 9-3-5-7zM3068 840l-1 6 5 4 9-4 0-5-5-3zM3234 837l-7 8 3 19-2 19 3 7 10 0 4-45-3-6zM3012 840l0 6 6 4 9-6-6-7zM2985 840l0 5 5 3 9-3 0-5-5-3zM3343 836l-6 5 3 14 10 0 3-14zM3043 836l-4 5 2 5 9 2 4-3-3-9zM3177 831l-3 17 3 7 7 2 6-9-3-17zM3150 831l-3 12 5 5 6 0 5-5-2-11zM3180 798l-5 7 8 4 6-8zM3121 801l5 7 9-3-5-7zM3067 801l5 7 9-3-5-8zM3045 796l-6 9 10 5 5-3 1-6zM3012 799l0 6 5 3 9-3 0-6-5-3zM3397 795l-6 5 2 69-3 14 3 8 8 4 7-12-3-14 2-69zM2990 794l-5 11 9 3 5-3 0-5zM3096 793l-3 11 5 4 8-1 3-3-1-9zM3344 792l-6 4-1 9 10 5 6-5 0-7zM3154 786l-7 6-1 12 4 8 6 3 7-7 1-8-3-12zM2959 763l4 5 8-3-4-5zM3072 759l-5 3 0 7 9 4 5-4 0-7zM2986 761l-1 5 5 4 9-4-5-7zM3234 758l-6 5 5 15-4 10-1 22 3 6 10 0 3-20-5-18 5-15zM3121 762l5 7 9-3-5-8zM3153 757l-6 7 10 6 6-7zM3039 762l5 7 6 0 5-5-5-7-6 0zM3018 756l-5 9 8 3 4-6zM3096 755l-3 11 6 5 6-1 4-4-2-10zM3177 755l-3 12 5 4 8-1 3-3-1-10zM3340 754l-3 15 3 6 10 0 2-16-3-6zM2958 724l5 6 9-4-5-6zM3016 719l-5 8 6 9 4 0 6-12-5-5zM2987 720l-3 3 1 9 12 2 3-11-5-4zM3344 717l-7 11 9 9 7-12zM3067 718l1 10 8 2 5-3-1-10zM3180 716l-6 9 9 6 7-9zM3126 716l-5 3-1 6 10 5 6-8-2-4zM3096 717l-3 4 2 14 11 1 2-17zM3394 715l-3 5-1 47 2 6 8 4 8-10-1-47-3-5zM3262 714l-8 12 0 197 3 21-3 18 1 39 11 4 5-4 1-39-3-15 3-24 0-197zM3046 714l-6 13 9 4 5-4 0-5zM3234 708l-5 6-1 13 9 8 7-8-2-16zM3013 684l4 5 8-3-4-5zM3067 684l5 6 9-4-5-6zM3343 679l-6 5 3 18 10 0 3-18zM3176 681l-1 13 12 2 2-14-5-3zM3154 678l-7 7 0 42 3 6 7 1 6-7 0-42zM3120 683l5 7 6 0 5-5-5-7-6 0zM2985 682l0 5 5 3 9-3 0-5-5-4zM3397 676l-5 3-1 8 9 6 6-4 1-7-3-5zM3045 676l-5 4 0 7 8 7 6-7 0-7zM3235 675l-7 7 2 16 7 2 5-2 2-16zM3096 672l-2 15 12 2 3-4-2-12zM3100 641l-6 6 8 6 6-8zM3013 645l4 4 8-2-5-6zM2931 645l5 6 9-4-5-6zM3127 640l-6 8 9 3 5-7zM3067 644l5 7 9-3-5-8zM2990 640l-5 7 9 4 5-7zM3233 638l-5 5 2 14 11 1 3-15-5-5zM3180 638l-6 5 3 17 10 0 3-17zM3262 637l-8 9 0 42 3 17 7 2 5-2 3-59-4-7zM3153 637l-6 5 0 6 4 7 6 1 5-5 1-9zM3289 634l-8 14 3 21-3 14 0 55 3 13-3 19 2 12 5 4-6 14 1 21 4 7-5 16 6 8 4 0 6-8-5-14 4-9 1-21-6-14 5-4 2-12-3-15 3-17 0-55-3-8 3-27-4-11zM3042 634l-2 19 2 3 10 0 3-7-2-14zM3397 633l-6 17 3 5 10 0 3-12-5-9zM3452 631l-8 12 2 248 2 3 10 0 3-7 1-244zM3343 628l-6 6 0 17 3 5 10 0 3-22-3-5zM2905 606l4 5 8-2-4-5zM3068 604l0 14 11 1 2-14-5-3zM3041 604l-1 5 5 4 9-4-5-7zM2986 604l0 13 11 1 2-13-5-3zM3127 601l-6 8 9 4 5-8zM3175 605l5 7 9-3-5-9zM3017 600l-6 7 9 9 7-10zM3231 599l-2 14 12 2 2-14zM3153 599l-6 5 0 5 11 4 5-4 0-5zM3095 601l-1 12 12 2 2-13-6-3zM3340 598l-2 11 5 3 8-2 1-10zM3289 594l-7 7 3 28 10 0 3-28-3-6zM3451 593l-5 3-2 13 3 11 8 2 5-4 2-15-4-9zM3208 592l-5 3-3 11 3 88-3 17 0 212 3 10 7 3 5-3 3-10 0-212-3-10 3-95-3-11zM3397 591l-5 3-2 14 3 10 8 4 7-19-2-9zM2931 568l2 6 10 0 2-5-2-4-10 0zM3121 565l5 7 9-3-5-7zM3094 565l5 7 9-3-5-7zM3040 565l5 7 9-3-5-7zM3012 566l5 5 9-4-5-5zM3338 565l0 6 5 3 7-1 3-5-7-7zM3180 561l-6 8 4 8 6 1 6-11zM3073 558l-7 10 2 4 8 2 6-7zM3154 557l-6 6 0 6 10 3 4-3 0-6zM3289 556l-7 5 0 9 3 6 7 1 5-4 1-12zM3261 554l-7 8 1 50 3 5 10 0 3-5 1-50-4-6zM3208 553l-6 8-1 11 4 7 6 1 5-5 1-11zM2905 527l5 6 7-3-4-5zM2878 527l4 4 8-2-4-4zM2986 527l4 5 8-3-4-5zM3095 525l-1 5 5 4 9-4-5-7zM3072 523l-5 7 8 6 6-10zM3041 525l-1 5 5 4 9-4-5-7zM2931 527l5 6 9-4-6-6zM3343 522l-5 7 9 4 5-7zM3127 522l-6 8 9 3 5-7zM3235 521l-7 6 0 41 10 5 6-5 0-41zM3150 519l-3 11 9 9 5-4 2-10-3-6zM3177 516l-2 15 5 3 8-2 0-15zM3284 514l-1 19 12 2 3-4-1-16zM3262 511l-6 4-2 16 4 7 6 2 6-4 2-9-3-14zM3230 489l5 8 7-4-1-5zM3041 488l1 5 11-1-1-5zM2932 488l4 5 8-3-4-5zM3180 484l-6 8 10 6 6-9zM3153 484l-6 8 10 6 6-9zM3122 486l-1 5 5 4 9-4-5-7zM3067 488l5 6 9-4-5-6zM3338 486l0 5 5 3 9-3 0-5-5-4zM3283 484l-1 6 6 5 10-5-4-9zM3095 482l1 10 12-2-2-9zM3207 476l-6 9 0 45 2 7 8 3 6-10 0-45-3-8zM3230 448l4 4 8-2-4-4zM2986 448l4 4 8-2-4-4zM3095 448l4 5 8-3-4-5zM2932 448l4 5 8-3-4-5zM3148 448l5 6 9-4-5-6zM3040 448l5 6 9-4-5-6zM3175 446l-1 6 9 5 7-5-1-6-5-3zM3288 440l-5 3-1 7 10 5 5-3 1-7zM3449 437l-5 8 0 84 3 11-3 25 4 8 7 1 7-9-3-21 3-15 0-84-5-8zM3398 434l-5 2-2 9 2 73-3 13 3 13-2 24 10 5 6-5 0-123-2-9zM3176 409l4 4 8-2-4-4zM3095 409l4 4 8-2-4-4zM3068 409l4 4 8-2-4-4zM3043 407l-3 10 12 2 2-9zM3148 409l6 6 8-4-5-6zM3344 404l-7 6 5 13-5 28 10 5 6-5-2-24-3-2 5-15zM3288 402l-5 4-1 7 10 5 6-5 0-5zM3204 398l-3 18 5 14-6 19 4 9 7 3 7-12-6-19 5-23-3-9zM3262 396l-7 7-1 89 10 13 8-13-1-89zM3397 395l-5 4 1 23 7 5 6-7 1-17-3-7zM3122 370l4 5 8-3-4-5zM3394 367l-3 3 2 10 11 1 3-11-5-4zM3283 370l6 6 8-4-5-6zM3181 366l-5 7 7 3 5-7zM3148 370l5 6 9-4-5-6zM3040 370l5 6 9-4-5-6zM3207 365l-5 4 0 5 9 4 5-4 0-5zM3261 364l-6 5 0 8 3 5 7 1 5-3 1-11zM3343 360l-6 15 3 5 6 1 6-3 1-8-5-9zM3095 330l4 4 8-2-4-4zM3343 326l-5 6 8 6 6-8zM3256 331l5 5 9-4-5-6zM3203 328l-1 13 12 2 2-14-5-3zM3397 316l-5 5-1 12 10 5 6-5 0-8-4-8zM3397 287l-5 3 0 7 9 5 5-5 0-7zM3452 284l-5 1-2 6 0 120 11 4 5-4 0-120-2-6zM3392 253l5 7 9-4-5-7zM3447 250l-1 5 5 4 9-4-5-7zM3370 246l-7 9 3 19-3 21 4 10-4 18 0 675 4 6 8 1 6-7 0-675-4-10 4-18-3-13 3-27-5-8zM3424 243l-6 9-1 712 4 10-4 25 4 5 8 1 6-6-4-21 4-14-1-712-6-9zM3317 243l-7 8 2 29-3 10 0 709 4 5 8 1 6-6 0-709-3-10 2-29-3-6zM3478 208l-6 5 1 21 5 8-5 3-2 8 0 746 4 5 8 1 6-6 0-746-2-8-5-3 5-8 1-21z"/><path class="s" fill-opacity="0.596" d="M3071 999l1 3 5-1-1-3zM3344 997l-2 4 4 2 2-4zM3234 997l-1 4 4 2 2-5zM3181 997l-2 4 4 2 2-4zM3127 997l-2 4 4 2 2-4zM3100 997l-2 4 4 2 2-4zM2990 996l-1 6 5 1 1-6zM3393 997l4 6 8-4-5-5zM3043 995l-2 4 4 4 8-4-2-4zM3284 995l-1 4 5 4 9-4-5-6zM3446 995l5 8 9-4-2-7-10 0zM3153 992l-4 8 8 3 4-7zM3425 980l-6 6-1 12 10 5 6-5 0-8zM3262 978l-5 3-1 19 9 3 5-3-2-20zM3339 963l4 3 8-2-4-4zM3044 960l1 3 5-1-1-3zM2991 959l-2 4 5 1 1-3zM3181 958l-3 4 6 2 2-3zM3153 958l-4 6 7 5 5-7zM3127 958l-3 4 5 3 3-4zM3392 957l2 9 12-2-2-9zM3285 952l-2 12 12 2 1-13-5-3zM3231 951l-2 14 12 2 3-7-2-8zM3207 949l-6 7 0 42 10 5 6-5 0-42-4-6zM3262 948l-5 4-2 10 2 8 7 4 5-4 2-12-2-6zM3234 919l-1 5 5 1 2-4zM3125 920l1 3 5-1-1-3zM3339 922l4 4 8-3-5-5zM3177 921l4 5 6-3-3-5zM3100 918l-2 4 4 2 2-4zM3072 918l-1 4 4 2 2-5zM3046 918l-2 4 4 2 2-4zM2991 918l-2 4 4 2 2-4zM3013 918l5 6 7-4-4-4zM3397 915l-3 6 7 3 3-5zM3150 916l3 8 8-4-1-4zM3288 912l-5 4 0 9 9 6 5-6 0-9zM3452 911l-7 8 1 42 9 4 5-4 1-42-3-6zM3148 883l1 11 11 1 2-12-5-4zM3122 883l4 5 8-3-4-6zM3094 883l2 6 10 0 2-3-5-7zM2991 879l-2 4 4 2 2-4zM3180 878l-2 4 5 3 3-4zM3045 878l-3 5 7 3 3-5zM3341 877l0 7 10-2-2-5zM3230 878l1 7 11-1-1-7zM3397 871l-6 12 10 7 6-11-3-6zM3448 868l-2 19 12 2 3-6-2-14zM3289 868l-5 2-1 12 8 6 6-6 0-9zM3125 842l1 3 5-1-1-3zM3100 840l-2 4 4 2 2-4zM3069 843l3 4 7-3-4-4zM3014 842l3 4 7-2-3-4zM2990 840l-2 3 5 3 3-4zM3338 843l5 7 9-4-5-7zM3235 839l-7 6 3 15 10 0 3-15zM3044 839l-2 4 3 3 7-3-2-4zM3288 836l-5 6 9 6 5-7zM3149 838l4 8 8-4-2-6zM3177 836l-2 11 9 5 5-5-2-11zM3181 800l-2 4 4 2 2-4zM3127 800l-2 4 4 2 2-4zM3073 800l-2 4 5 1 1-3zM3041 802l4 5 8-3-4-5zM3017 799l-2 4 6 2 2-4zM3396 798l-5 5 1 19 4 6-4 20 2 5 6 1 6-6-4-20 4-6 1-19-5-5zM2991 798l-3 4 6 3 2-4zM3340 797l-2 6 9 4 5-4-2-6zM3094 799l5 7 9-4-5-6zM3289 795l-6 7 1 14 11 1 2-15zM3231 791l-2 18 12 2 1-19zM3207 791l-6 9 0 88 6 13-6 22 3 6 6 1 7-7-1-12-5-7 6-16 0-88-3-8zM3150 791l-3 13 10 6 6-6-1-11zM2990 762l-1 3 4 2 2-4zM3229 765l5 7 9-4-5-7zM3126 761l-2 3 5 3 3-4zM3069 764l3 5 7-2-4-6zM3153 760l-3 4 7 3 3-4zM3094 762l5 6 9-4-3-5zM3044 760l-2 4 3 3 7-3-2-4zM3344 757l-6 11 12 2 2-6zM3180 757l-5 8 9 4 5-8zM3394 748l-2 22 12 2 3-5-2-18zM3343 721l-4 6 8 4 4-5zM3018 721l-5 6 8 4 4-6zM2985 725l5 7 9-4-5-7zM3094 722l2 9 12-2-2-9zM3068 722l4 5 8-3-5-4zM3394 719l-2 11 8 7 6-7 0-9zM3178 720l-2 4 4 4 8-4-2-4zM3127 719l-5 5 7 4 5-6zM3046 719l-4 6 7 3 3-4zM3262 718l-7 8 0 166 3 13-3 19 2 14 8-2 3 3 3-15-3-19 3-13 1-131-1-35zM3234 715l-5 4 0 7 9 5 5-5 0-7zM3154 715l-5 3-1 9 8 4 6-4 0-7zM3208 700l-7 10 2 33-3 25 3 13 8 2 4-2 3-13-3-25 2-33zM3338 686l2 7 11-1 1-6-5-4zM3175 685l2 7 12-2 0-5-6-4zM3154 681l-5 8 7 8 5-11zM2991 681l-3 4 6 2 2-3zM3392 683l5 7 9-4-2-6-10 0zM3125 681l-2 4 3 3 7-3-2-4zM3235 679l-6 5 0 5 9 5 5-10zM3046 679l-4 7 6 4 4-8zM3100 676l-6 8 9 4 5-7zM3208 673l-5 4-1 11 8 10 6-10 0-8zM3126 643l-1 4 4 2 2-5zM3072 643l-1 4 4 2 2-5zM2991 643l-2 4 5 1 1-3zM3261 641l-6 5 0 45 3 10 10 0 3-10 0-45zM3177 642l-1 12 11 1 2-11zM3235 640l-5 3-1 6 8 6 6-10zM3153 640l-5 7 9 6 5-9zM3288 639l-6 8 1 16 4 6-5 14 0 55 5 11-5 22 3 8 10 0 3-15-5-7 0-8 5-11 0-55-5-14 4-6 1-16-6-8zM3398 638l-5 4-1 7 9 3 5-3 0-5zM3043 639l-2 11 11 1 0-11zM3451 637l-6 6 2 18 3 2-5 16 0 168 2 8 8 2 4-2 2-8 0-168-5-12 5-24zM3344 632l-6 3-1 11 3 6 7 1 5-3 1-9-1-6zM2987 608l3 4 7-2-3-4zM3045 605l-1 3 4 2 2-4zM3126 604l-2 4 6 2 2-4zM3068 607l2 8 8 0 3-4-6-7zM3229 606l2 5 10 0 2-3-2-5-10 0zM3180 603l-2 4 5 3 3-4zM3094 606l5 6 9-3-5-6zM3015 604l2 8 7-3-1-5zM3151 603l-2 4 4 4 8-4-4-5zM3339 603l4 6 8-3-1-4zM3285 600l-1 18 11 1 2-17zM3207 598l-6 8 2 60 7 3 5-3 2-60-3-7zM3448 597l-2 17 2 3 10 0 2-17-2-3zM3397 595l-5 3-1 10 6 8 4 0 5-5 1-8-3-7zM3125 566l1 3 5-1-1-3zM3343 564l-3 4 7 3 3-4zM3177 566l3 7 8-4-4-5zM3100 564l-2 4 4 2 2-4zM3046 564l-2 4 4 2 2-4zM3072 562l-3 7 9 1-1-7zM3153 561l-3 6 7 3 3-6zM3286 560l-3 9 5 4 6-1 3-9zM3207 559l-5 12 9 4 5-4 0-6zM3234 558l-4 9 8 3 4-6zM3262 557l-7 6 0 45 3 5 10 0 3-5 0-45zM3394 557l-1 11 8 2 5-3-2-10zM3451 550l-4 2-2 14 9 6 7-9-2-11zM3099 526l-1 4 5 1 1-4zM3072 526l-1 4 4 2 2-5zM3126 525l-1 4 4 2 2-5zM3235 524l-6 7 5 8 4 0 5-10zM3148 526l6 9 8-6-2-6-10 0zM3176 522l-1 6 4 3 10-3-2-7zM3284 518l-1 12 12 2 2-13zM3258 518l-2 15 12 2 3-4-2-12zM3398 516l-7 16 2 7 7 3 6-5 1-10zM3207 516l-5 6 0 8 9 5 5-5 0-8-3-5zM3125 488l1 3 5-1-1-3zM3181 486l-5 5 7 4 5-5zM3154 486l-5 5 7 4 5-5zM3340 488l4 4 6-3-3-4zM3284 486l4 6 8-3-3-5zM3207 481l-5 5 0 6 5 7 4 0 5-13zM3176 449l5 5 7-3-4-5zM3288 443l-5 5 8 5 6-6zM3451 440l-6 5 0 84 2 6 7 4 7-10 0-84zM3398 440l-6 6 4 18-4 7-1 22 1 11 8 7 6-7 0-33-4-7 4-18zM3343 436l-4 3-1 10 9 4 5-4 0-7-3-5zM3208 435l-5 3-2 11 9 8 5-4 2-9-2-6zM3343 407l-4 6 7 5 5-7zM3284 408l4 7 8-3-4-7zM3204 404l-2 12 12 2 1-13zM3394 401l-2 14 12 2 2-14zM3262 401l-7 7 2 56 4 2-4 2-2 24 9 7 7-7-2-24-4-1 4-3 2-56-3-6zM3392 372l6 6 8-4-5-6zM3207 368l-1 6 5 1 1-6zM3256 370l2 8 12-2 0-6-4-3zM3343 365l-5 9 12 2 2-4-5-7zM3317 358l-7 10 2 62-3 15 3 132-3 23 3 181-3 18 0 126 3 22-3 46 3 8 8 2 6-4-2-46 3-28 0-126-3-13 3-341-3-15 2-62-2-6zM3371 356l-5 3-3 15 0 472 3 91-2 61 10 5 6-5 1-624-3-15zM3202 332l2 7 10 0 2-3-5-7zM3451 321l-6 9 1 79 9 4 5-4 1-79-3-8zM3398 321l-5 3-1 8 10 3 4-3 0-6zM3371 316l-6 4-2 14 3 13 7 3 5-3 3-18-2-9zM3395 291l2 7 7-3-3-5zM3448 289l-2 18 8 7 6-7 0-16zM3371 282l-6 6-1 7 9 8 7-11zM3317 278l-7 12 2 57 8 2 4-2 2-57zM3421 276l-4 56 3 21-3 14 1 597 9 9 7-9 1-597-3-10 3-25-2-52-2-4zM3451 251l-1 3 4 2 2-4zM3370 249l-6 6 3 14 11-1 2-13-2-4zM3478 247l-6 6-1 744 11 6 7-6-1-744-3-5zM3425 247l-6 6 0 6 12 2 2-8zM3314 248l-3 4 1 16 11 1 2-17-3-4zM3477 211l-4 3 1 16 11 1 2-17z"/><path class="s" fill-opacity="1.000" d="M3257 992l4 8 8-3-1-6zM3421 988l-1 10 8 2 5-3-2-9zM3208 977l-5 4-1 15 9 4 5-4-1-15zM3394 960l3 4 7-3-4-3zM3289 956l-2 5 4 2 2-5zM3257 958l2 8 10-2-1-7zM3230 958l4 6 8-3-4-6zM3370 954l-5 6 0 37 9 3 5-3 0-37-3-5zM3207 954l-5 4 1 13 7 4 5-4 1-13zM3448 951l-1 7 8 4 4-10zM3284 920l4 6 8-5-4-4zM3447 918l1 8 7 1 5-4-2-6zM3261 913l-5 6 1 8 10 2 3-10zM3204 913l0 11 12-2-2-9zM3150 885l4 3 6-2-4-4zM3394 878l3 8 8-4-1-4zM3447 878l1 7 11-1-1-7zM3286 875l-1 5 7 4 4-7zM3208 874l-6 5 0 9 12 2 2-11zM3229 847l2 6 10 0 2-4-6-7zM3178 840l-2 3 4 5 8-5-4-4zM3398 836l-4 10 7 3 3-7zM3448 834l-1 14 11 1 1-14zM3204 824l-1 31 11 1 1-31zM3395 802l-2 11 11 1 1-10zM3288 800l-4 8 8 3 4-6zM3230 800l1 6 11-1-4-8zM3207 796l-5 5 4 14 5 1 5-15zM3148 799l3 7 8 0 3-4-2-6-10 0zM3317 783l-7 15 0 128 5 21-4 13-1 35 10 5 6-5-1-35-4-8 5-26 0-128-3-10zM3179 762l1 3 5-1-1-3zM3289 759l-6 6 1 8 11 1 2-9zM3394 757l0 11 12-2-2-9zM3317 755l-6 5 0 13 8 5 5-2 1-16zM3451 752l-6 11 1 47 2 5 6 1 6-6 1-47-2-8zM3208 746l-5 3-2 19 3 8 11-1 2-13-2-13zM3098 725l1 3 5-1-1-3zM3393 725l5 5 7-4-4-4zM3261 722l-5 5-1 157 2 10 8 2 4-2 2-10-1-157zM3154 721l-2 4 4 2 2-4zM3234 720l-3 4 6 4 4-5zM3448 717l-1 14 11 1 1-14zM3289 710l-5 5-1 22 2 5 10 0 2-22zM3207 708l-5 3 0 18 8 7 6-7 0-18zM3153 685l-1 4 4 2 2-5zM3234 683l-1 5 5 1 1-5zM3207 680l-4 5 7 6 5-8zM3288 679l-5 6 1 12 11 1 2-13zM3452 676l-5 2-2 10 2 11 7 2 5-2 2-14-2-7zM3258 669l-2 22 2 3 10 0 1-24zM3261 644l-4 6 7 7 5-10zM3234 644l-2 4 5 3 3-5zM3177 646l3 4 7-2-3-4zM3397 643l-1 4 5 1 1-4zM3288 643l-5 5 2 13 11-1 1-12zM3153 643l-1 5 5 1 1-5zM3046 642l-3 4 6 2 2-3zM3446 645l2 8 6 1 6-4 0-5-5-4zM3208 639l-6 7 1 12 11 1 2-13zM3339 639l1 9 11-1-1-9zM3424 632l-6 12 1 318 9 4 5-4 1-318-2-9zM3284 606l4 7 8-3-1-5zM3446 604l2 8 10 0 2-3-2-7zM3208 602l-6 6 2 5 6 2 6-8zM3394 601l-1 7 8 4 5-6-1-4zM3316 591l-6 9 0 125 2 21 7 2 5-2 2-21 0-125-3-8zM3396 564l2 3 4-2zM3288 563l-2 4 6 2 1-5zM3207 563l-3 5 7 3 3-4zM3261 561l-6 7 1 38 9 4 5-4 1-38-3-6zM3447 560l4 8 8-3-1-6zM3235 528l-2 4 5 1 1-3zM3284 524l4 6 8-3-1-4zM3257 525l-1 4 6 4 8-4-5-6zM3393 526l1 8 6 1 6-4-6-9zM3207 521l-3 7 7 3 3-7zM3448 515l-2 13 9 5 5-5-1-12zM3207 485l-3 5 6 4 4-6zM3398 477l-6 12 1 10 11 1 2-11zM3257 478l-1 12 9 4 5-4-2-13zM3317 471l-5 3-2 65 1 31 8 6 6-6 1-84-2-12zM3448 469l-3 21 2 8 7 3 5-3 2-8-2-20zM3397 445l-3 6 6 5 4-8zM3448 445l-1 12 10 2 3-12zM3261 443l-4 3 0 7 7 5 5-5 0-7zM3340 444l4 6 6-3-3-5zM3202 445l5 7 9-5-2-5-10 0zM3317 432l-5 3-2 18 2 11 7 3 5-3 2-20-2-9zM3425 431l-7 13 0 165 3 12 10 0 3-12 0-165-3-9zM3203 410l5 5 7-3-4-5zM3393 407l5 7 7-3-1-5zM3257 407l1 8 11-1-1-8zM3452 402l-2 7 5 1 1-6zM3260 371l1 3 5-1-1-3zM3316 365l-5 4 0 43 8 5 6-5 0-43zM3371 364l-7 9 2 180-3 57 3 11-1 304 8 5 6-5-1-304 3-16-3-52 1-185zM3447 362l-1 14 2 6 7 2 4-3 1-14-2-6zM3448 328l-1 6 5 4 7-4-1-6zM3398 326l-2 5 5 1 1-4zM3366 323l-2 11 3 7 7 1 5-4 1-9-3-7zM3447 297l1 7 11-1-1-7zM3366 292l4 5 8-2-4-7zM3317 285l-6 7 0 45 2 4 10 0 2-49zM3421 284l-3 56 5 19-5 9 0 45 3 12 10 0 3-57-5-17 5-11-1-53-2-3zM3366 255l1 7 11-1-2-8zM3478 251l-5 3-2 78 0 661 3 5 8 2 7-7 0-661-2-78zM3425 251l-2 5 5 1 1-4zM3316 251l-3 6 6 3 4-6zM3474 217l1 7 11-1-2-8z"/></g><path class="p" d="m1713 87-203 20 81 0 14 0 108 0-13 9 0-8-285 19 27 0 14 0 27 0 13 0 14 0 14 0 13 0 14 0 13 0 14 0 13 0 27 0 0-6 27 6 41-6-162 17 13 0 54-2 27-1 0 7 55-9 0 8 27-2-339 7 95 6 13 1 95-7 54 3 27 2-216 15 40 0 55-9 13 9 41 0 27-6 40 0 28-2-177 19 68-3 68-1 0 5 13 1 28-7 27 6 0-6-407 14 109 0 0 3 67-3 55 3 81-9 13 0-230 15 27-1 27 4 14-2 40 4 28-4 27 3 0-4 13 1 14 0 0-3 67 2-311 10 27 0 95 0 54 6 27 4 14 0 13 0 0-5 14 5 67-3 82 0-393 13 40 0 109-8 0 8 27-9 68 5 13-1-108 19 54-2 0-7 14 0 13 5 0-6 27 5 82 3-271 8 162 6 14-10 13 10 54-2 28 2-231 10 27-3 41-3 14-2 27-1 122 6-339 6 27 0 13 0 41 0 217 9 41 0-326 11 14 0 41 0 0-6 40 9 54 0 0-8 28-1 27 1 0 8 13-9-135 14 108-2 0 8 27-2 14-3 95-1 27-3 27 4-380 11 14 0 41 0 40-4 82 1 40 9 14 0 13-1 0-9 82 7-312 16 13 0 55-9 13 2 14 7 27-7 68 4 13-4-81 16 27-6 27 6 54 2-257 10 135-8 14 2 54-1 14 10 122-11-285 13 14 10 27-3 54-5 13 0 68 4 27 1 82 3-326 4 41 0 41 7 13-3 27 0 95-1 27 5-257 11 27 0 68 0 13-7 54 1 41 1 27-2 14 1-122 14 68 5 27-4 13-5 14 1 122 8-298 7 13 0 81 5 95-10-95 16 28 2 0-6 13 7 14-7 0 9 13-8 0 7 27-7 82 4 0-6-380 14 68 0 27 0 27 0 41 5 54 2 14-2-163 14 81-9 14 9 13-4 41 0 68 0-109 14 14 0 41-1 94 4 27-8 28 0-217 15 13 0 55-4 0 10 67-10-135 19 40 2 28-5 27 0 27 1 0-4 13 0 0 7 27-9 55 2-217 11 13 0 68 7 14-1 176-1-312 14 27 0 109-6 40-2 27 2 27-2 28 0"/></g><rect class="ax" x="1270.80" y="45.90" width="491.90" height="476.00"/><text x="1279.61" y="552.60" font-size="21.30" text-anchor="middle" textLength="13.25" lengthAdjust="spacingAndGlyphs">0</text><text x="1364.30" y="552.60" font-size="21.30" text-anchor="middle" textLength="26.50" lengthAdjust="spacingAndGlyphs">25</text><text x="1449.00" y="552.60" font-size="21.30" text-anchor="middle" textLength="26.50" lengthAdjust="spacingAndGlyphs">50</text><text x="1533.69" y="552.60" font-size="21.30" text-anchor="middle" textLength="26.50" lengthAdjust="spacingAndGlyphs">75</text><text x="1618.38" y="552.60" font-size="21.30" text-anchor="middle" textLength="39.75" lengthAdjust="spacingAndGlyphs">100</text><text x="1703.08" y="552.60" font-size="21.30" text-anchor="middle" textLength="39.75" lengthAdjust="spacingAndGlyphs">125</text><text x="1256.22" y="508.26" font-size="21.30" text-anchor="end" textLength="26.50" lengthAdjust="spacingAndGlyphs">10</text><text x="1256.22" y="409.92" font-size="21.30" text-anchor="end" textLength="26.50" lengthAdjust="spacingAndGlyphs">15</text><text x="1256.22" y="311.57" font-size="21.30" text-anchor="end" textLength="26.50" lengthAdjust="spacingAndGlyphs">20</text><text x="1256.22" y="213.22" font-size="21.30" text-anchor="end" textLength="26.50" lengthAdjust="spacingAndGlyphs">25</text><text x="1256.22" y="114.88" font-size="21.30" text-anchor="end" textLength="26.50" lengthAdjust="spacingAndGlyphs">30</text><path class="tk" d="M1279.61 521.90v7.29M1364.30 521.90v7.29M1449.00 521.90v7.29M1533.69 521.90v7.29M1618.38 521.90v7.29M1703.08 521.90v7.29M1270.80 500.26h-7.29M1270.80 401.92h-7.29M1270.80 303.57h-7.29M1270.80 205.22h-7.29M1270.80 106.88h-7.29"/><text x="1516.75" y="34.00" font-size="25.60" text-anchor="middle" textLength="333.62" lengthAdjust="spacingAndGlyphs">height_gained vs Difficulty</text><text x="1516.75" y="580.80" font-size="21.30" text-anchor="middle" textLength="148.00" lengthAdjust="spacingAndGlyphs">height_gained</text><text transform="translate(1217.40 286.90) rotate(-90)" x="0" y="0" font-size="21.30" text-anchor="middle" textLength="93.50" lengthAdjust="spacingAndGlyphs">Difficulty</text><g clip-path="url(#c3)"><g transform="scale(.5)"><path class="s" fill-opacity="0.210" d="M3780 192l-15 19 3 10-3 29 3 15-3 24 0 242 3 18-3 14 3 17-3 24 3 14-3 111 4 17-4 15 0 45 3 5-3 35 4 9-4 30 4 27-4 12 6 15-6 19 6 15-6 30 12 9 75 0 10-5 2-11-8-7-22-1-3-5 8-10 53-1 10-5 2-8-12-9-54-1-9-11 7-5 52-2 6-8-6-11-52-3-2-14 52-2 10-8-1-8-9-6-53-2 7-14 33-2 8-8-2-8-6-4-35-2-3-14 43-4 6-5 1-8-10-8-31-1-5-6 0-9 22-3 5-11-9-9-15-1-5-14 23-4 5-12-9-8-25-2 7-7 1-8 18-2 7-9-7-11-16-2 0-9-4-5 41-3 6-4 2-8-12-9-46-1-3-5 4-10 28-2 6-5 1-8-9-9-20 1-7-1-1-4 5-12 33-1 8-6 1-8-5-6-24-4 0-13 33-3 6-5 1-8-10-8-38-1-3-14 19-4 5-11-9-9-19-1-9-5 2-11 26-1 7-5 1-8-9-8-29-2-5-8 2-7 10-2 6-7 0-6-6-7-14-4-2-12 15-4 6-7 0-6-7-7-13-1-4-7 5-9 11-3 5-6-1-8-17-12 1-11 8-12-5-8-8-4 0-13 11-4 5-12-5-6-13-4-3-9 3-23-14-14zM3769 169l-1 8 9 8 14-1 7-7-1-8-9-6-11 0z"/><path class="s" fill-opacity="0.241" d="M3782 194l-15 17 3 10-3 29 3 15-3 24 0 242 3 18-3 14 3 16-3 25 3 14-3 111 4 16-4 16 0 45 3 5-3 35 4 8-4 31 4 27-4 12 6 15-6 19 6 15-6 30 11 8 73 0 10-6 1-8-7-7-23-1-3-7 6-8 59-4 7-11-7-7-57-2-11-14 9-4 51-2 5-6-5-11-51-3-3-16 55-3 6-6 0-6-6-6-57-3 8-16 27-1 12-7 0-6-5-5-36-3-3-16 43-4 7-11-7-7-34-2-5-6 0-11 19-1 6-4 2-8-8-8-17-1 0-9-6-7 22-2 6-4 2-8-8-8-28-3 8-7 2-9 16-1 8-7-5-12-19-3 1-9-6-6 23-4 21 1 7-11-7-7-49-2-4-5 4-12 28-2 7-11-9-9-26 0-2-6 6-12 32-1 8-6 1-6-6-7-24-3 0-15 34-3 5-4 1-8-9-7-38-1-4-16 19-3 5-5 0-8-7-6-20-1-9-5 2-13 28-2 5-5 0-7-8-6-29-2-5-8 1-8 13-4 4-6-4-10-16-5-2-12 17-7 4-9-7-8-12-1-5-8 5-10 12-3 4-6-4-10-14-7 1-13 8-12-13-11 0-15 12-5 3-10-6-6-11-3-3-18 4-12zM3771 169l-1 8 8 7 9 0 9-9-9-11-9 0z"/><path class="s" fill-opacity="0.317" d="M3778 202l-9 8 3 17-4 24 3 11 0 23-3 5 0 43 3 9-3 27 3 105-3 17 3 22-3 17 3 25-3 14 4 25-4 12 4 27-4 11 3 10 0 24-3 5 3 31-3 13 4 11 0 16-4 8 3 16-3 27 4 7-4 33 4 7 1 17-5 12 5 30-5 11 7 17-7 21 6 11 0 19-6 12 9 8 74 0 9-6 1-6-6-7-25-2-3-6 6-10 60-5 4-9-4-5-57-3-11-11 2-7 57-4 4-4 0-7-7-5-49-3 0-18 51-2 7-5-1-8-6-3-20 1-35-5 9-17 27-1 8-5 0-8-5-4-34-3-2-16 4-3 41-3 4-9-4-5-35-3-7-8 1-10 23-3 4-11-9-7-15 0-1-9-7-8 24-3 7-11-7-7-28-2-1-5 7-5 2-8 21-3 4-11-6-6-18-2-1-12-8-4 27-5 20 1 5-3 1-8-6-5-49-3-3-6 3-11 30-3 6-10-8-8-26 0-3-7 7-13 32-1 8-8-5-9-26-3 2-11-3-5 34-3 7-5 1-6-8-7-40-2-3-16 20-4 4-4 0-8-6-5-24-2-6-5 3-14 27-2 4-11-7-5-30-3-4-9 3-9 8-1 7-6-3-10-16-5-3-14 15-5 6-8-5-8-13-2-5-7 3-11 14-5 3-5-3-9-15-8 1-13 8-13-13-10 0-16 11-4 3-10-17-11 0-32-9-5zM3773 169l-1 8 6 6 8 0 7-6 0-6-7-6z"/><path class="s" fill-opacity="0.390" d="M3876 877l-3 8 6 2 1-9zM3779 203l-9 9 3 9-3 29 3 16-3 23 0 242 3 17-3 16 3 13-3 27 3 14-3 111 4 13-4 19 3 20-3 19 3 34-3 12 4 7 0 20-4 12 4 10 0 17-4 12 6 14-6 20 6 14-1 19-5 12 7 6 75 0 7-6 0-6-7-6-23-1-3-9 4-7 7-4 48-3 4-3 0-6-25-6-31-1-10-12 0-4 8-4 27-1 10-4 12 2 3-11-47-5-8-6 1-14 39-6-3-10-38-4 5-17 32-4 6-7-6-9-32-2-3-16 6-5 24-1 10-9-13-8-23-3-2-14 7-4 16 0 7-11-7-7-19-1-1-11-6-7 25-3 6-10-10-7-24-1-3-7 7-11 23-4 6-9-6-7-19-2-2-11-10-7 33-6 18 1 1-11-49-5-4-5 0-12 32-5 5-5 0-6-4-4-30-2-2-5 6-15 34-2 6-5-3-10-27-3-2-18 37-3 6-9-6-7-41-2-4-18 20-3 5-10-5-6-25-2-7-6 3-14 25-3 3-11-8-4-24-2-5-8 0-9 17-9 0-6-5-5-14-4-3-15 16-5 5-6-5-9-13-2-5-9 5-11 10-2 5-5 0-6-5-5-10-2-3-5 1-12 7-7 1-8-12-8-1-16 12-7 1-8-15-9 0-33-9-5zM3777 167l-4 6 2 6 11 3 5-5 0-6-5-5z"/><path class="s" fill-opacity="0.480" d="M3779 204l-7 6 3 17-4 24 3 11 0 23-3 5 3 54-3 25 0 161 3 24-3 15 3 29-3 11 4 25-4 10 3 10-3 73 4 12-4 23 3 16-3 27 4 8-4 28 4 11 0 22-4 10 4 7 0 22-4 10 7 17-7 19 6 12 0 19-6 12 10 7 63 0 10-2 3-11-5-4-26-2-2-8 3-9 14-4 23 0 10-5 0-6-10-5-31-1-11-10 1-10 35-3 9-7-9-9-27-1-4-3-2-17 27-3 5-8-5-6-25-2-3-4 8-16 29-2 7-9-7-7-24 0-9-4-1-13 3-5 26-2 9-9-9-7-26-3 0-17 24-3 5-5 0-6-5-5-21-2-1-10-6-8 27-4 4-9-7-6-25-1-5-4 0-6 9-11 23-3 4-9-7-6-18-2-12-18 29-4 6-8-9-7-22-1-4-4-2-13 5-4 31-6-3-10-30-4 4-17 40-8 0-8-4-3-27-3-2-18 39-4 5-9-5-5-42-3-3-18 21-4 4-9-6-6-26-2-5-7 4-14 23-3 2-10-9-4-20-1-6-10 1-9 16-8-4-10-14-4-3-14 2-5 11-1 7-7-4-8-14-3-4-7 3-11 16-10-4-9-13-4 1-18 7-6 1-6-13-9 0-18 8-3 4-8-4-6-11-5-2-17 3-15-8-5zM3776 170l0 8 9 3 4-9-4-5z"/><path class="s" fill-opacity="0.596" d="M3779 205l-6 7 3 17-4 23 3 8 0 26-3 5 3 18-3 21 3 9 0 25-3 6 3 69-3 9 3 23-3 17 3 32-3 9 3 30-3 9 4 9-3 27 3 34-4 7 4 11 0 18-4 10 3 33-3 9 5 16-5 21 3 10-3 31 4 7 0 23-4 10 5 9 0 19-4 7 4 33-4 12 6 14-6 26 6 13-1 14-6 10 7 7 69 0 7-4 0-8-7-4-23-1-1-18 9-4 31-1 7-8-7-6-36-2-9-14 6-8 32-2 7-8-7-6-31-3-6-18 27-4 7-6-4-7-28-5 6-17 32-4 5-4 0-6-5-4-33-3-2-12 4-9 26-2 6-5-6-9-25-2-5-11 3-9 25-3 5-8-8-7-21-2 0-10-6-6 5-5 23-2 2-10-31-5-4-3 0-8 9-11 23-3 3-9-5-4-21-3-10-18 27-4 6-8-6-6-23-2-7-16 5-5 16-2 10-6-4-6-23-6 4-17 5-4 28-1 6-5-3-8-27-3-4-19 39-5 3-10-42-5-5-19 21-4 5-9-5-5-26-2-6-8 4-14 20-3 4-3 0-6-7-4-22-2-5-11 1-8 15-8-4-10-13-4-2-19 18-6 0-6-16-6-5-10 3-9 15-9-3-9-13-5 1-18 8-7 0-6-12-7-1-18 11-8 0-6-14-9-2-15 3-17-6-4z"/><path class="s" fill-opacity="1.000" d="M3780 206l-5 5 3 17-4 23 3 10 0 24-3 5 0 43 3 8-3 28 3 104-3 18 3 25-3 14 3 28-3 11 4 25-4 12 4 26-4 12 3 9 0 25-3 5 3 33-3 11 4 10 0 18-4 7 3 11-3 32 4 6 0 22-4 12 4 6 1 17-5 13 4 9 1 22-5 10 7 22-7 16 6 10 0 21-6 11 5 5 69 0 6-5-1-6-31-5-1-18 12-5 29-1 5-7-5-5-35-2-10-16 7-8 32-2 4-8-9-5-27-2-2-13-5-7 27-4 5-5-5-7-24-4 4-18 36-7-1-9-28-2-8-4 0-17 3-3 28-3 4-5-4-7-28-3-4-10 2-9 9-4 17 0 6-8-6-6-28-4 3-8-5-10 27-4 3-10-30-4-4-3-1-9 6-10 26-4 3-7-3-5-25-4-8-17 7-5 22-1 4-7-4-5-25-3-6-17 3-4 16-2 8-5-3-7-20-6 5-19 36-7 0-6-4-3-26-3-4-19 11-4 24-1 6-8-11-5-29-2-6-19 24-6 1-9-28-4-5-4 1-18 19-4 5-7-5-5-23-3-4-11 1-8 11-5 3-9-16-8-3-18 15-4 4-6-4-6-14-5-2-13 4-7 11-5 1-6-15-8 1-19 8-7 0-6-12-7-1-18 10-8 0-6-13-8 2-31-6-5z"/></g><path class="p" d="m1893 99 6 17 18 51 6 0-6 18 6 0-18 11 14-1-13 18 4 21 7-4-4 11 106 4-101 9 9 20 25-10-24 27 2 13 16 0 75 1-106 7 38 11-28 13 4 7 12 0 80 0-90 39 10 0 244 0-265 6 17 1 69 0-78 18 14-5 11 0 53 0-91 11 3 17 10-3 11-5-18 16 20 13-24 23 22 16 395-9-419 13 14 6 12 0 8 0"/></g><rect class="ax" x="1864.20" y="45.90" width="491.90" height="476.00"/><text x="1886.56" y="552.60" font-size="21.30" text-anchor="middle" textLength="46.38" lengthAdjust="spacingAndGlyphs">0.00</text><text x="1981.81" y="552.60" font-size="21.30" text-anchor="middle" textLength="46.38" lengthAdjust="spacingAndGlyphs">0.02</text><text x="2077.05" y="552.60" font-size="21.30" text-anchor="middle" textLength="46.38" lengthAdjust="spacingAndGlyphs">0.04</text><text x="2172.30" y="552.60" font-size="21.30" text-anchor="middle" textLength="46.50" lengthAdjust="spacingAndGlyphs">0.06</text><text x="2267.54" y="552.60" font-size="21.30" text-anchor="middle" textLength="46.25" lengthAdjust="spacingAndGlyphs">0.08</text><text x="1849.62" y="508.26" font-size="21.30" text-anchor="end" textLength="26.50" lengthAdjust="spacingAndGlyphs">10</text><text x="1849.62" y="409.92" font-size="21.30" text-anchor="end" textLength="26.50" lengthAdjust="spacingAndGlyphs">15</text><text x="1849.62" y="311.57" font-size="21.30" text-anchor="end" textLength="26.50" lengthAdjust="spacingAndGlyphs">20</text><text x="1849.62" y="213.22" font-size="21.30" text-anchor="end" textLength="26.50" lengthAdjust="spacingAndGlyphs">25</text><text x="1849.62" y="114.88" font-size="21.30" text-anchor="end" textLength="26.50" lengthAdjust="spacingAndGlyphs">30</text><path class="tk" d="M1886.56 521.90v7.29M1981.81 521.90v7.29M2077.05 521.90v7.29M2172.30 521.90v7.29M2267.54 521.90v7.29M1864.20 500.26h-7.29M1864.20 401.92h-7.29M1864.20 303.57h-7.29M1864.20 205.22h-7.29M1864.20 106.88h-7.29"/><text x="2110.15" y="34.00" font-size="25.60" text-anchor="middle" textLength="314.38" lengthAdjust="spacingAndGlyphs">hold_density vs Difficulty</text><text x="2110.15" y="580.80" font-size="21.30" text-anchor="middle" textLength="132.00" lengthAdjust="spacingAndGlyphs">hold_density</text><text transform="translate(1810.80 286.90) rotate(-90)" x="0" y="0" font-size="21.30" text-anchor="middle" textLength="93.50" lengthAdjust="spacingAndGlyphs">Difficulty</text><g clip-path="url(#c4)"><g transform="scale(.5)"><path class="s" fill-opacity="0.210" d="M386 1949l-1 8 8 7 13 0 7-7 0-7-8-7-11 0zM477 1798l-10-2-6 3-5 7 2 9 6 4 12-3 5-7zM226 1390l-13 8 3 31-9 10 7 23-6 19 5 22-6 14 5 32-5 7 3 21-3 25 6 11-6 22 4 12-4 33 4 6-2 14 3 5-5 15 8 22-8 11 5 13 0 19-5 13 7 20-7 15 6 20-6 19 6 17-6 26 6 8 2 16-8 12 1 7 7 7-2 17-6 7 1 10 7 12-8 18 7 13-7 31 11 21-11 15 11 15-1 13-9 7-1 8 10 10 3 14-12 8-1 8 12 9 141-1 12-9-4-10-8-3-25 2-21-3-14-12 1-4 28-2 8-8-2-8-6-4-29-4 1-12 11-3 7-8-2-8-11-8-4-12 12-3 7-9-4-9-14-6 8-14 21-1 9-8-1-8-8-6-31-2 9-14 26-4 14 3 9-6 1-8-10-8-14 3-23-4 7-14 14-5 4-9-9-10-27-2 5-8 11 0 9-8 23-3 4-10-8-8-25-2-2-15 12-3 5-11-9-9-14-1-12-14 43-3 6-5 1-9-13-8-33 0-9-6-2-7 22-5 7-7-5-12-14-4 1-6-5-7 13-2 9-8-1-8-13-7-4-10 5-5 31-1 8-7 0-6-9-8-24-2-21-15 25-4 5-6-5-12-18-7-18 2-4-3 4-9 23-3 7-8-4-10-21-4-5-10 2-6 11-1 7-7-5-12-16-3-3-12 13-10 0-12-21-11-1-9 15-5 4-6-4-10-14-5 13-23 0-6-5-6-12-4-6-9 8-20-12-11-2-8 12-15-1-8-9-6zM228 1352l-9 6-1 8 5 6 9 2 9-6 1-8-5-6z"/><path class="s" fill-opacity="0.241" d="M392 1946l-4 5 3 10 13 2 6-5 1-6-4-6zM467 1798l-7 5-1 8 4 5 7 1 7-5 1-8-4-5zM226 1391l-11 8 3 31-9 9 7 23-6 19 5 23-6 13 5 21 0 11-5 7 3 12-3 34 6 10-6 23 4 12-4 33 4 6-2 13 3 5-5 16 8 22-8 11 5 13 0 19-5 13 7 20-7 15 6 20-6 23 7 16-7 23 7 9-2 9 3 6-8 12 2 8 6 5-2 18-6 7 0 7 8 14-8 19 7 12-7 32 7 8 4 17-9 7-1 8 11 14-2 10-10 9 0 6 10 10 4 13-13 9-1 8 11 8 142-2 7-7-5-10-29 1-22-4-16-16 30-4 7-7-7-11-30-3 3-6-2-8 14-5 4-5-1-8-11-8-6-14 12-2 8-7-4-11-14-5 9-16 24-2 6-7-6-11-33-2-1-3 9-14 21-1 8-5 14 4 7-7-7-11-14 4-8-5-18-1-1-4 8-12 12-3 5-12-8-7-27-2 5-10 11-1 12-8 16 0 7-11-7-7-26-3-2-15 12-3 5-5 0-8-8-6-14-1-12-16 43-3 7-11-8-8-38-1-11-9 2-8 20-3 7-8-5-9-16-4 1-8-4-7 15-2 8-8-6-11-9-3-3-11 5-5 33-2 5-5 0-6-8-7-24-2-22-16 26-5 4-5-4-11-18-7-17 2-5-3 4-11 23-3 6-6-4-11-20-3-6-13 1-4 13-2 6-6-4-11-16-3-3-8 2-8 12-10 0-6-23-15 0-9 13-4 5-6-1-6-15-7-2-5 14-25-6-7-11-3-6-9 8-20-12-11-2-10 11-14-1-8-9-5zM227 1354l-7 11 5 6 8 1 7-11-5-6z"/><path class="s" fill-opacity="0.317" d="M345 1985l-6 8 6 6 6 0 4-9-4-5zM398 1945l-7 5 0 7 11 5 6-5 0-6zM470 1800l-8 5 5 10 8-5zM226 1392l-10 9 4 29-9 9 6 13 0 15-5 13 5 22-7 17 6 20 0 9-6 10 4 10 0 23-4 10 6 8 0 14-6 14 5 10 0 16-5 15 5 8-2 12 3 9-6 11 8 18 0 9-8 10 6 11 0 19-6 12 8 23-7 12 6 21-6 18 6 18-6 27 7 8-2 9 3 6-8 11 1 8 7 7-2 17-7 9 8 17-2 14-5 7 7 12-7 32 11 21 0 5-10 7-1 5 10 10 2 9-13 20 11 12 3 15-9 4-5 9 9 9 101 0 15-5 26 2 4-5-4-9-26 2-6-4-17-1-17-17 2-3 26-2 7-6-4-9-31-4 3-8-2-8 14-5 4-5-1-6-10-7-7-16 14-3 6-6-4-11-14-4 7-16 24-3 8-8-8-10-32-3 8-16 24-2 8-8-8-10-21-3 10-17 14-5 0-10-5-4-27-1-2-7 17-12 30-5 2-9-7-5-24-3-2-17 14-4 4-8-8-8-14-1-13-16 2-3 41-2 5-4 1-7-7-6-36-1-12-9 1-10 18-2 8-6-3-10-20-6-1-14 17-3 7-7-5-10-10-4-4-11 8-6 31-2 4-11-6-5-24-2-15-7-9-11 27-5 4-6-4-8-15-6-15 2-10-5 4-12 23-3 5-5-3-10-20-4-7-14 2-4 13-2 6-6-4-9-17-5-2-12 12-11 1-8-7-6-10-2-6-14 18-12-5-10-11-4 2-15 10-8 1-6-5-6-14-4-4-7 8-23-12-10-2-10 10-13-1-9-7-4zM227 1356l-4 9 4 5 6 0 4-9-4-5z"/><path class="s" fill-opacity="0.390" d="M349 2184l-1 9 3 1 4-7zM398 1947l-3 11 7 2 2-10zM225 1393l-7 7 4 29-10 11 7 21-5 18 5 20-7 18 5 21 0 12-5 6 4 13 0 20-4 13 6 9-1 14-5 10 5 13-1 20-4 6 5 34-5 12 8 22-8 11 5 12 0 21-5 12 7 19 0 7-7 10 6 16 0 12-6 14 7 15-7 23 7 9 1 15-8 13 1 6 7 6-1 18-7 9 8 19-2 12-6 9 8 12-8 30 12 24-11 12 1 6 9 8 1 11-10 10-2 8 11 11 3 15-11 5-3 9 7 7 104 0 7-2 7-8-9-7-24-3-11-17 31-8-2-10-29-5 1-17 16-7 0-8-9-7-8-14 2-4 16-3 4-6-4-8-15-5 1-9 8-9 25-3 4-10-10-6-28-1-1-5 7-13 24-2 7-5 1-6-4-5-24-4 8-16 14-5 4-9-10-7-25-1-1-8 17-12 25-4 2-10-27-8 0-9-4-5 16-6 4-9-4-5-18-3-12-18 43-4 5-10-6-5-38-2-10-9-1-8 24-6 4-6-4-8-20-5 0-15 19-4 5-6-5-10-10-4-4-14 38-6 4-10-6-4-38-7-11-15 28-4 3-11-16-8-14 2-11-5 5-14 22-5 0-10-18-5-9-13 3-6 14-3 4-6-4-8-16-4-2-13 11-10 2-8-5-6-13-3-5-14 17-11-1-8-13-6-2-13 13-11 1-6-5-6-13-3-5-7 8-19 0-6-12-9-1-12 9-11-1-8-13-5z"/><path class="s" fill-opacity="0.480" d="M231 1393l-11 6 3 31-9 9 6 13 0 17-5 11 5 23-7 16 6 20 0 9-6 9 5 12-1 22-4 10 6 8 1 9-7 18 5 11 0 20-5 12 5 7 1 18-6 15 8 16 0 10-8 9 6 12 0 18-6 13 7 19 0 9-6 7 6 20-1 12-5 7 6 30-6 15 7 7 1 16-8 11 1 8 7 7-2 17-7 9 8 17-1 12-6 8 0 6 7 7-7 32 7 8 4 18-9 6-2 6 10 10 2 11-13 18 11 11 3 17-10 4-4 8 4 6 7 2 99-1 7-3 0-10-31-5-8-19 24-4 5-4 0-6-30-9 3-5-2-11 16-8 0-7-13-9 2-5-5-8 3-4 13-1 6-6-4-9-19-5 12-18 22-2 7-4 0-8-4-3-31-2-4-3 8-17 26-2 6-6-6-10-16 0-7-4 10-17 16-6 0-8-6-4-29-3 3-11 15-9 11-2 5-9-19-11-1-10-10 3-4-4 2-4 26-5 2-10-20-6-11-18 28-6 14 1 3-10-42-6-8-7-2-11 26-8-2-10-22-6 3-17 17-2 6-5 0-6-15-9-6-15 35-6 3-9-41-9 0-8-10-9 28-4 4-3 0-8-11-6-21 0-8-6 4-13 15-2 7-5-3-9-14-4-11-13 4-6 17-7-2-9-16-6-1-16 11-8 1-6-6-6-11-2-6-15 17-12-4-9-10-4-3-13 2-5 11-5 1-9-18-7-4-7 9-20-2-7-10-6-2-13 9-11-2-8z"/><path class="s" fill-opacity="0.596" d="M229 1394l-8 7 4 29-10 11 6 9 1 10-5 19 5 20-2 12-5 6 6 23-1 10-5 6 5 13-5 33 6 8-1 16-5 9 5 12 0 18-5 9 5 13 0 21-5 12 6 7 2 17-8 9 6 14 0 15-7 12 8 23 0 7-7 10 6 11 1 16-7 15 6 9 1 16-7 13 8 10 0 19-8 8 1 6 7 6-1 19-7 8 8 19-8 23 8 13-2 15-6 11 12 24-1 5-9 6-1 6 10 9 2 7-2 10-10 7-1 6 11 10 3 17-10 4-4 9 7 6 91 0 12-2 3-9-6-4-27-3-6-19 22-4 6-4 0-6-29-8 1-13-3-4 16-5 2-10-6-5-15-2 8-6-2-10 19-6 3-8-5-5-17-2-3-4 13-18 25-2 5-8-5-6-28-1-7-4 6-17 30-3 5-9-5-5-14 0-14-5 12-17 15-4 3-7-5-6-26-1-5-8 4-8 25-9 4-9-18-9-11 0-6-14 3-4 17-1 11-5 0-8-19-6-2-8-8-8 4-5 22-3 2-7-7-5-20-3-6-6 0-15 22-5-2-10-21-6 2-15 6-4 15-1 4-10-14-7-14-14 9-6 28-3 6-7-6-5-34-5 0-6-11-11 7-4 24-2 3-8-11-7-23-1-6-6 6-14 19-6-3-9-14-4-10-12 3-7 14-4 3-5-3-7-14-5-3-16 13-9 0-8-15-5-7-16 17-13-3-7-11-5-3-12 3-7 10-5 1-6-4-5-13-3-5-8 9-19-1-7-11-7-1-15 7-7-2-9-7-4z"/><path class="s" fill-opacity="1.000" d="M229 1395l-6 5 3 31-9 9 7 21-6 20 5 10 0 15-6 11 6 26-7 15 6 10-2 24-4 8 7 11-2 18-5 8 6 11 0 18-6 10 5 9 1 23-6 10 8 11 0 17-8 9 6 10 0 20-6 12 6 8 2 19-7 9 6 12 1 17-7 14 6 8 1 18-7 12 8 10 0 19-7 6-1 6 8 8-1 19-8 11 9 17-2 12-6 7 1 6 7 6-2 20-6 11 8 9 4 15-10 10-1 6 10 8 2 9-2 10-11 7 0 6 11 9 3 17-11 5-3 9 5 4 91 0 9-2 2-8-32-6 0-10-5-9 6-5 18-2 2-8-32-8 0-8-5-6 3-4 19-4 4-6-6-8-17-2 8-8 1-12 20-6-3-9-22-5 6-14 8-7 28-4-3-10-26-1-12-6 9-17 31-3 3-3-3-9-31-5 12-19 15-3 3-7-4-5-28-3-2-18 29-7 3-8-10-6-20-2-6-15 4-5 26-4 2-8-18-6-11-17 3-5 22-3 1-9-29-7-4-10 2-10 22-6-2-8-21-7 2-16 22-5 4-8-14-7-6-8-7-1-3-6 6-6 29-3 4-7-8-6-29-3-9-17 3-5 29-3 2-8-5-4-24-1-10-8 5-14 16-3 4-4-3-7-15-4-9-12 3-9 16-7-1-6-12-4-6-9-1-12 12-5 2-9-16-6-6-13 2-8 14-6 0-6-13-7-3-18 10-5 3-8-3-4-13-3-5-9 9-19-1-7-11-6-2-16 8-9-1-4-7-6z"/></g><path class="p" d="m122 682-11 24 15 9 0-7 5 23-21 1 23 18-1 15 12-5 78 0-87 10 12 10 6 0 0 5 69-5-64 19 21 0-39 11 0 14 4-8 6 6 22-3 29 0 21 0-84 11 28 9 9 0 8 0 31 0 8-10 14 10-77 8 51 4 1-2-18 14 14-4 11 0 3 0 10 0 8 0-129 14 58-8 19 8 20-5 24-1 4 0-73 11 48 0 4 4 8-4 9 8 7-2 6-1-94 7 24 9 9 0 3 0 1-8 20 8 14 0 9 0 5-11 4 11 314 0-407 8 1-4 75 5-44 10 5-1 7 0 17 0 4 0 18-5 1 8 1-3-78 15 4-8 65 2 17 5-73 6 1 9 16-9 3 0 28 3 16 2 1 2 3-7 1 5 318-5-356 20 14 0 24 0 9-2-93 16 6-4 3-5 26 5 18 0 26-5 5 0-74 18 53-4 8 0 16 0 6 0 38 1 20 0-88 15 21-6-82 17 3-3 8 3 67-2-80 10 8 8 28-8 24 5 24 0-81 8 60 2 0 3 24-7-86 11 86 2 6-2 0 5 38-2 36 0-167 8 8 11 34-10 21 7 13-7 4 10 12 0 1-10 0 5 38-5 0 10-171 7 82-2 34 0 0 15 3 0 6 0 8 0 8 0-142 7 4 7 39 0 33-6 0 8 7-5 0 9 12 0 22 0 29 0 26 0"/></g><rect class="ax" x="84.00" y="640.20" width="491.90" height="476.00"/><text x="101.00" y="1146.90" font-size="21.30" text-anchor="middle" textLength="33.12" lengthAdjust="spacingAndGlyphs">0.0</text><text x="201.36" y="1146.90" font-size="21.30" text-anchor="middle" textLength="33.12" lengthAdjust="spacingAndGlyphs">0.5</text><text x="301.72" y="1146.90" font-size="21.30" text-anchor="middle" textLength="33.12" lengthAdjust="spacingAndGlyphs">1.0</text><text x="402.08" y="1146.90" font-size="21.30" text-anchor="middle" textLength="33.12" lengthAdjust="spacingAndGlyphs">1.5</text><text x="502.44" y="1146.90" font-size="21.30" text-anchor="middle" textLength="33.12" lengthAdjust="spacingAndGlyphs">2.0</text><text x="69.42" y="1102.56" font-size="21.30" text-anchor="end" textLength="26.50" lengthAdjust="spacingAndGlyphs">10</text><text x="69.42" y="1004.22" font-size="21.30" text-anchor="end" textLength="26.50" lengthAdjust="spacingAndGlyphs">15</text><text x="69.42" y="905.87" font-size="21.30" text-anchor="end" textLength="26.50" lengthAdjust="spacingAndGlyphs">20</text><text x="69.42" y="807.52" font-size="21.30" text-anchor="end" textLength="26.50" lengthAdjust="spacingAndGlyphs">25</text><text x="69.42" y="709.18" font-size="21.30" text-anchor="end" textLength="26.50" lengthAdjust="spacingAndGlyphs">30</text><path class="tk" d="M101.00 1116.20v7.29M201.36 1116.20v7.29M301.72 1116.20v7.29M402.08 1116.20v7.29M502.44 1116.20v7.29M84.00 1094.56h-7.29M84.00 996.22h-7.29M84.00 897.87h-7.29M84.00 799.52h-7.29M84.00 701.18h-7.29"/><text x="329.95" y="628.30" font-size="25.60" text-anchor="middle" textLength="444.75" lengthAdjust="spacingAndGlyphs">holds_per_vertical_foot vs Difficulty</text><text x="329.95" y="1175.10" font-size="21.30" text-anchor="middle" textLength="241.12" lengthAdjust="spacingAndGlyphs">holds_per_vertical_foot</text><text transform="translate(30.60 881.20) rotate(-90)" x="0" y="0" font-size="21.30" text-anchor="middle" textLength="93.50" lengthAdjust="spacingAndGlyphs">Difficulty</text><g clip-path="url(#c5)"><g transform="scale(.5)"><path class="s" fill-opacity="0.210" d="M1543 2099l-9 6-1 8 5 6 9 2 9-6 1-8-5-6zM1940 2060l-10 5-2 8 4 6 11 3 10-5 2-8-4-6zM2001 1942l-9 6-1 8 5 6 10 2 9-6 1-8-5-6zM2063 1745l-9 6-1 8 5 6 9 2 9-6 1-8-5-6zM2108 1707l-6 4-2 9 4 6 12 2 6-4 2-9-4-6zM2064 1706l-9 6-1 8 5 6 9 2 9-6 1-8-5-6zM2102 1588l-8 5-2 8 7 8 8 1 8-5 2-8-7-8zM2036 1430l-9 6-1 8 5 6 10 2 9-6 1-8-5-6zM1995 1394l-11-3-12 6-14-6-13 8-12-7-128 1-5 6 1 8 9 6 8-1 0 5-12 11-24 2-9 8 5 12 15 3 6 5-3 9-24 3-8 6 0 10 10 7-6 10-8 5-25 1-8 6-1 8 10 17-5 6-19 3-7 7 1 8 14 10-8 11-25 3-9 9 5 11 15 3 4 8-7 7-28 2-8 9-12-10-13 6-1 8 7 7 10 0 9-9 6 8 13 2 4 15-55 2-10 9 2 8 8 5 52 1 2 4-18 1-9 11-36 4-4 6 2 8 9 5 13 1-2 13-40 4-6 5-1 8 10 8 64 1 12 7-9 1-9 7-24-5-9 6-23 0-10 8 1 8 6 5 29 1 25 16-43 5-4 7 4 9 35 4 0 12-37 4-10 8 5 12 29 3 7 12-5 3-31 1-9 7 0 8 9 7 24 1 3 11 5 4-54 2-10 8 1 8 9 6 48 2-13 14-23 4-17-3-10 9 7 12 20-2 28 4 5 7-5 8-24 1-11 9 4 10 28 7 4 12-35 2-10 9 5 11 23 3 4 14-38 3-8 8 2 8 9 5 35 2-10 4-20 21 4 9 15 6 2 9-8 5-25 3-5 6 5 12 21 3 221-2 7-7-1-8-9-6-24 0-2-11 8 0 9-6 67-1 9-6 1-8-10-8-24 0-11-4-33 3 0-3 6-4 11 0 9-8 56 0 11-4 14 3 10-8-1-8-9-6-14 3-25-5-53 1 2-8 18 5 20-12 58-3 5-6-5-12-25-14-13 3 1-7 62-2 9-5 9 5 20 0 8-4 10 4 9-2 5-12-10-8-12 4-10-4-20 0-9 5-9-5-36-1 26-15 14 3 16-4 69 0 9-6 0-10-9-6-89-1-4-5 0-10 44-2 7-9-3-8-7-4-66-1-3-7 2-7 16-1 7 5 9 0 20-9 7 9 10 2 9-9 16-4 10 4 19 0 11-8-1-8-10-6-19 0-7 4-11-4-34 1 5-7-2-12 3-2 8 3 33 0 6-3 4-10-7-8-36-1-8 3-11-4-46-1 1-14 6 0 8 8 12 1 14-9 42-1 8-4 19 4 9-6 1-8-7-7-21 1-7-5-43 2-5-11-10-3 70-3 8-5 2-8-7-8-41-4-15 2-9-7 3-8 71-1 9-3 4-6-4-10-38-3-5-14 48-3 9-6 0-10-9-6-54 0-7-3 9-14 56-1 9-6 1-8-10-8-83-1-13-13 117-4 6-5 1-8-10-8-69 0-14-3 11-13 87-1 10-10-3-8-7-4-86-1-7-4 13-12 58-1 15-5 2-8-8-8-65-3 4-14 62-2 8-8-4-10-8-3-29 1-21-6-12 2-1-9 13-5 19 1 13-7 7 5 16 1 9-5 0-12-9-5-16 1-7 5-13-7-39 0 9-15 21 1 12-9 1-8-7-7-46-1-45-7-10 6-8-13 17-3 10 6 11 1 11-9 27 7 16-10 2-8zM1920 1888l17-1 0 13-8 1zM1961 1729l-2 14-5 1 1-14zM1660 1730l3-1 1 4zM1878 1415l3 13-10 1-1-4z"/><path class="s" fill-opacity="0.241" d="M1542 2101l-7 10 5 7 8 1 7-10-5-7zM1938 2062l-7 11 5 6 9 1 7-11-5-6zM2000 1944l-5 4-1 8 6 6 7 0 5-4 1-8-6-6zM2062 1747l-7 10 5 7 8 1 7-10-5-7zM2110 1708l-6 4-2 7 4 6 8 2 6-4 2-7-4-6zM2063 1708l-7 11 5 6 8 1 7-11-5-6zM1642 1629l-7 11 5 6 8 1 7-11-5-6zM2101 1590l-5 4-1 8 6 6 7 0 5-4 1-8-6-6zM2032 1480l4 8 8 3 10-1 7-7-1-6-11-6-10 1zM2035 1432l-5 4-1 8 6 6 7 0 5-4 1-8-6-6zM1991 1394l-9-1-10 7-8-7-7 0-8 11-18-11-124 1-5 6 1 6 6 5 11-1 0 9-13 11-26 2-6 8 6 10 14 2 6 5-6 13-21 1-8 6 1 10 10 6-6 11-10 5-19 0-12 5-2 8 8 9 2 10-7 7-19 3-5 7 5 9 12 5-7 12-29 5-7 6 0 8 5 5 14 2 5 7-8 10-24 1-10 7 4 11 15 4 3 15-59 3-5 4-1 8 6 6 55 2 2 7-3 4-15-4-9 11-34 3-5 6 5 10 21 4-5 7 0 8-40 3-6 5 0 8 10 6 62 1 14 9-12 2-7 6-25-4-9 5-23 0-9 9 6 10 30 1 26 17-43 5-4 5 4 11 35 3 0 15-39 3-9 9 5 9 29 3 7 10-2 6-34 2-9 8 6 11 28 2 2 10 7 7-59 3-7 8 7 10 50 2 3 4-9 4-6 9-18 1-8 5-14-5-9 7 0 6 6 6 17-4 8 5 22 1 6 7-5 10-24 1-10 8 5 10 26 6 5 14-40 3-5 6 5 12 22 2 1 9 7 7-38 2-11 8 7 11 39 3-30 24 4 11 14 4 3 11-9 6-25 3-5 7 5 9 21 3 217-2 7-7-1-6-6-5-26 0-4-14 19-6 69-2 5-4 1-8-6-6-37-4-35 2 2-6 6-4 12 0 8-7 61-1 8-5 14 4 6-6 0-6-6-6-14 4-8-5-21-2-52 1 3-13 11 7 8 0 19-11 56-2 6-7-2-8-26-15-7 0-12 9-5-1 11-16 59-1 13-9 11 9 19-1 7-5 9 5 8-1 5-10-7-7-15 5-7-5-19-1-11 9-8-8-40-2-1-7 13 1 14-11 103-2 5-4 1-8-6-6-92-2-4-4-1-13 42-1 8-5 0-10-8-5-66-1-3-5 1-12 21 0 11 5 8-6 19-5 4 8 7 4 9-9 11 0 7-6 9 6 21 0 7-6 0-6-7-6-21 0-9 6-7-6-24 0-8 4-6-5 6-9-4-9 6-5 8 3 35 0 6-6-4-11-37-1-8 3-6-4-51-1 1-9-4-6 13-2 6 7 10 2 14-9 43-1 8-5 18 5 9-6 0-8-9-6-16 4-8-6-46 1-7-12-6 2-2 8-5 2 2-12 5-5 73-3 6-6 0-6-6-6-78-4 8-2 8-13 78-3 5-7-5-9-36-2-7-17 50-2 8-5 0-10-8-5-53 0-10-4 11-15 59-2 5-4 1-8-11-7-81-1-15-13 5-4 114-2 7-8-7-10-85-2-1-4 11-13 87-1 9-7-1-8-8-5-86-1-8-4 14-14 68-3 5-5-1-8-8-4-65-3 5-5 1-11 63-2 7-7-7-11-29 1-25-6-11 2-3-3 2-11 31-2 12-6 2-6-9-9-53-2 10-3 7-13 30-3 5-7-1-6-9-6-68-2-7-4-24 5-8-14 3-3 19-1 15 7 6-2 6-10 6 4 13-1 9 6 16-10 1-6zM1905 1966l5 1-3 2zM1887 1889l16 12-8 1zM1918 1887l23-2-3 8 3 8-14 1zM1953 1728l13 2-6 15-11-1 4-5zM1656 1729l9-1 0 9-3 1zM1935 1697l9 7-4 1zM1877 1413l5 2 3 14-16 1-1-6z"/><path class="s" fill-opacity="0.317" d="M1897 2103l-6 8 4 5 7 1 4-10zM1542 2103l-3 11 9 3 3-11zM1939 2064l-4 9 4 5 5 0 4-9-4-5zM1988 2024l-4 9 4 5 6 0 4-9-4-5zM1946 2030l8 10 16-1 5-5-1-8-9-4-11 0zM1575 1984l-5 6 1 6 4 4 9-1 5-8-5-6zM2001 1946l-4 10 9 4 4-10zM2002 1911l4 9 21 0 3-3-3-11-21 0zM1962 1911l0 8 7 4 18-2 7-6-1-6-6-4-19 0zM2007 1826l-10 9 5 7 9 2 8-6 0-6zM2062 1749l-3 11 9 3 3-11zM2110 1710l-5 9 3 5 6 1 5-9-3-5zM2063 1710l-4 9 4 5 6 0 4-9-4-5zM1642 1631l-4 9 4 5 6 0 4-9-4-5zM2102 1592l-4 10 9 4 4-10zM2036 1478l0 6 5 5 11 0 5-4 0-8-5-4-11 0zM2036 1434l-4 10 9 4 4-10zM1988 1395l-14 7 5 8 6 1 6-4 1-7zM1956 1396l-1 11 11 1 3-4-3-7zM2013 1434l-74-4-7-4-23 5-9-15 3-4 23-1 9 6 11-4 0-8-19-11-38-1-10 4-8-4-39 0-10 5-13-3-4 5 4 9 13-1 2 9-13 13-27 2-7 8 5 9 21 7-4 13-25 3-6 5 0 8 12 8-8 14-31 3-10 6-1 6 11 15-2 6-8 6-14 1-7 6 3 10 15 6-9 13-30 5-6 5-1 5 5 7 14 2 7 8-8 10-25 2-9 6 3 10 16 5-1 9 4 6-59 4-5 3 2 12 55 3 4 3 0 6-4 7-15-6-9 10-33 3-3 4 3 10 25 4-8 6-1 10-25 5-16-1-5 6 1 6 4 4 65 2 12 4 4 7-21 8-22-3-11 4-23 0-7 6 3 10 34 3 23 13 1 5-44 5-3 10 7 6 34 2-1 16-41 3-7 6 1 8 6 4 27 2 7 14-9 4-32 2-5 6 1 6 7 5 26 2 9 17-44 6-15-2-6 6 6 10 15-2 12 4 21 0 7 6-9 3-9 10-21 2-6 6 6 10 25 2 8 9-3 9-25 1-11 7 3 10 25 5 7 16-34 2-11 7 4 11 23 2 2 11 10 6-43 3-8 6 0 6 5 5 40 4-31 24 3 10 16 5 2 13-10 5-23 2-5 6 5 10 203 2 32-3 4-5-4-9-29-2-4-15 21-6 69-3 4-10-4-4-33-4-39 1-2-5 8-8 13 1 9-7 62-1 8-7-8-11-73-1-3-6 7-11 10 8 8 0 18-10 56-2 5-6-1-6-26-15-6 0-10 8-9 0 7-16 5-3 57-1 12-7-6-10-42-3 1-11 12 4 16-11 75-1 31-4 1-8-4-4-96-4-5-14 2-3 47-3 5-6-1-6-8-5-65-1-5-16 2-3 21-1 13 5 21-8 5-6-10-11-23 0-10-13 4-6 27 0-5 10 8 7 6-6-6-10 14-9 8 6 12 0 6-4 13 3 4-4-4-10-13 3-6-4-12 0-8 6-14-8-47 0-3-2 2-9-5-6 17-2 10 8 8 0 10-8 48-3 6-10-7-7-67 0-3-3 4-11 6-5 74-4 3-4-3-10-38-4-40 1-4-3 11-4 7-12 74-2 6-4-3-11-36-3-2-10-5-5-8 5-2 10-16 0 5-19 72-1 9-7-1-6-8-5-51 0-15-4 9-7 5-10 59-2 6-7-4-8-86-3-12-3-5-13 6-3 113-2 6-6-6-10-84-2-2-6 13-13 86-1 8-7-1-6-7-5-85-1-12-5 17-15 57-1 11-5 0-8-6-4-66-3 5-6 2-12 65-3 4-5-4-9-29 0-37-4-3-3 4-14 38-3 5-7-5-9-59-4 13-5 7-13 28-1 6-8zM1913 1964l-5 8-6-5zM1884 1887l6-1 14 9 2 6-13 1zM1923 1742l18 2-10 2zM1651 1728l15-1 0 13-4 2zM1932 1693l5-2 11 10 0 4-10 1-6-7zM1939 1545l7-3 3 5-5 2zM1875 1412l9 3 1 16-19-2 1-8z"/><path class="s" fill-opacity="0.390" d="M1949 2028l0 6 6 5 16-4-3-11-13-1zM2010 1989l-2 4 5 2 1-5zM1577 1985l-4 8 7 6 4-10zM1582 1947l-1 11 6 1 5-7zM2015 1910l-1 5 3 1 1-5zM1965 1919l9 2 8-3 2-8-15-3zM1917 1895l-5-1-3 5 4 1zM1973 1868l-2 10 10 2 1-11zM2005 1828l-3 11 3 3 9-1 1-11zM2066 1596l-7-5-15 2-2 10 17 4 6-3zM2044 1474l-4 3 0 8 9 3 4-3 0-8zM1979 1403l3 5 5-1-4-5zM2010 1434l-72-3-5-3-27 3-8-14 2-5 27-2 9 5 6-2 1-8-19-10-23 2-11-3-8 4-12-4-40 1-8 7 5 15-15 14-27 2-6 7 4 8 22 7-6 16-24 2-5 4 0 8 10 6 6 9-17 10-32 2-5 10 11 10-1 11-11 7-14 1-5 5 0 6 5 5 16 4-10 8-4 9-27 2-7 5-1 6 5 6 15 2 7 8-10 11-20 1-11 5 3 11 15 5-2 9 4 7-60 6 1 11 55 5 0 13-4 5-54 4-3 3 3 11 41 3-1 14-7 4-5-10-9-4-5 5-1 10-26 5-15-1-1 11 64 4 16 5 3 7-24 9-53 1-7 6 4 9 32 2 12 9 11 3 3 6-8 4-33 1-7 6 4 9 33 2 6 4-5 16-36 1-10 6 0 6 5 5 25 1 10 6 1 11-5 3-33 2-7 5 4 10 29 3 9 18-5 3-30 0-11 7 0 4 8 6 29 2 5 5-14 13-25 4-4 5 4 9 26 3 8 9-5 10-26 1-9 8 6 9 22 3 7 17-5 3-35 1-6 9 6 7 22 2 4 12 12 1 1 3-54 8-1 8 4 4 35 2 5 4-8 14-16 3-7 6 3 10 18 5 4 8-2 6-37 8 0 12 16 3 187 0 26-3 0-12-21-1-8-5 0-13 24-6 50-1 11-9-17-8-52-1-2-3 8-12 27-5 57 0 9-7-1-6-8-5-72-1-2-6 4-10 8-2 14 7 19-9 54-2 4-11-18-9-14-2-5 5-14 0 1-16 15-5 52-1 10-4-3-11-44-4 1-15 17 4 15-8 53 0 34-5 0-8-4-3-94-4-7-17 67-4 4-9-4-5-70-3-8-15 4-4 39 0 17-4 5-8-6-7-57-2-10-16 7-3 11 8 7 0 9-8 35-1 9-8-10-10-52-1-4-19 19-1 16 8 11-8 45-1 7-7-6-10-65 0-5-5 5-13 6-3 68-3 3-2-1-11-77-4-3-2 3-4 8-2 10-12 38 0 18-4 15 2 5-4-2-9-18 1-14-3-7-6-11 5-41-2-1-4 4-4 14 3 13-14 71-1 7-6-1-6-6-4-81-1-20-14 15-6 6 3 2 6 11 2 10-5-2-5 7-3 36 0 25-5 0-8-4-3-94-4-7-10 1-7 98-2 24-5-3-11-86-4 1-7 10-11 54-2 14-4-3-10-72-5-6-7 3-5 20-8 55-1 9-4 0-8-9-4-62-3 5-7-2-7 6-5 29 0 12-6 5 3 15-2 0-8-4-2-16 3-12-6-30-1-10-4 10-15 35-1 7-5 0-8-7-5-58-2 12-6 7-13 32-2 4-4zM1833 2044l2 4-3 3-7-2zM1918 1695l-6 6-9-1 8-6zM1701 1663l4-2 3 3zM1947 1624l-3 4-5-1zM1943 1612l3-3 6 2-3 4zM1937 1544l11-3 3 7-11 1zM1864 1422l8-10 8-3 7 7 3 14-21 2-4-2z"/><path class="s" fill-opacity="0.480" d="M1955 2025l-3 4 3 8 7 1 6-4-3-9zM1996 1987l-1 9 4 1 2-8zM1958 1612l-2 4 4 2 2-4zM2055 1593l-4 7 8 5 2-10zM2008 1435l-75-5-23 3-11-3-1-9-7 4 2 5-3 2-24 0-6-9 2-6 17-12 15 14 12-13 28 3 4-5-4-2-5 3-7-9-15 3-19-3-8 5-11-6-37 1-4 5 3 15-16 15-26 2-7 5 2 9 24 7-7 17-25 3-4 4 1 8 12 6 5 9-19 10-33 2-4 9 14 10-2 14-26 5-6 6 4 9 19 5-11 8-5 10-29 2-6 5 4 10 14 2 10 10-9 10-30 4-2 10 17 7-2 8 5 7 10-4 7 4-5 3-58 3-7 6 7 8 44 5-2 10-5 8-54 4-2 10 4 3 37 2 4 4-5 15-10 1-2-8-8-5-4 3-2 11-19 3-2 7 12 7 41 2 9 6 0 7-19 7-25-1-37 6 0 8 5 3 27 1 13 6 11-4 4 2-1 17-44 6 0 10 42 5-3 14 9 3-51 4-8 5 4 10 35 4 4 15-44 8 1 11 30 4 8 13-3 8-34 1-7 5 4 10 29 2 8 7-11 12-28 7 2 10 24 4 8 11-4 8-30 2-7 7 4 8 25 4 6 17-11 4-27 0-7 5 0 6 4 4 22 2 6 12 8-3 7 2-6 9-50 6 2 10 37 3 5 5-5 14-23 3-6 7 4 8 19 4 5 14-9 5-30 4 0 12 23 3 161 0 36-3 3-3-3-9-16 0-17-6 7-4-3-6 3-4 22-5 53-2 5-9-5-5-58-2-4-3 7-15 88-4 7-6-1-6-6-4-75-2 3-17 13-2 14 3 18-5 49-2 3-11-4-3-47-2 2-18 76-8-3-10-43-4 0-8-7-4-11 9-1-10 7-5 35 2 14-5 52 0 20-4-1-9-82-4-8-4-4-15 65-5 3-10-69-6-10-14 2-4 59-5 4-10-13-5-47-1-11-18 9-3 18 7 8-7 36-1 6-6-1-6-6-4-56-2-5-19 28-1 11 4 12-5 41 0 9-7-5-9-72-3 3-15 5-4 58-2 14-3 2-4-2-6-14-3-63-2-2-5 18-14 53-3 8-6-4-7-17-5-12 3-41-2-3-4 6-9 6-2 11 4 3-2-1-6 60-2 23-4 0-8-6-3-90-4-3-8-20 6-6-5 31-12 17 2 7 6 5-8 47-2 18-5-1-7-14-3-79-3-9-18 105-3 18-4-1-9-17-3-63 0-7-7-11 6-8-2 6-7-2-10 4-2 20 2 52-4 17-6-8-7-64-4-10-7-2-12 12 3 19-6 54-1 6-4 0-6-6-4-58-1-7-4 6-6-3-6 2-5 37-2 8-6 0-4-8-6-44-3-2-2 7-10-3-4 25-5 22 1 6-10-6-6-51 0-12-4 7-5 1-6 6 1 4-8 38-4zM1840 2042l-8 17-11-10 9-7zM1863 1928l4 10-6-4zM1887 1816l4 2 0 6-6-3zM1934 1544l14-5 5 9-13 2zM1889 1457l2-4 6 0-3 5zM1839 1417l12 2-5 10-6-2z"/><path class="s" fill-opacity="0.596" d="M1902 1811l-2 5 4 3 5-6zM1610 1791l-1 7 3 1 1-7zM1919 1456l-6 2 5 1zM2004 1435l-139-2-10-8-8 6-7 0-6-10-21 12-26 2 0 12 25 5-10 20-24 3-3 4 0 6 12 6 6 10-17 10-37 3-3 7 4 6 24 3 2 5-16 4-3 10-30 6-1 6 4 5 21 4-12 18-37 4-4 4 4 10 13 1 13 10-11 12-29 3-3 8 3 4 13 3 5 13 13-1 4 4-7 5-58 5 1 9 42 4 4 5-7 16-55 5-2 7 4 4 35 2 8 4-10 18-11 0-3-8-6-2-4 10-13 2-6 5 8 9 48 4 5 5 0 6-8 6-45 3-14 6 0 4 7 4 38 3 4 3-1 17-44 5-3 9 8 4 34 2 8 18-5 3-49 2-7 4 3 9 37 4 7 17-33 5-10 5 0 4 7 4 27 5 4 13-5 6-38 3-6 6 6 8 29 2 7 9-4 11-27 3-8 5 2 7 26 5 8 10-5 8-30 3-8 5 4 10 24 3 6 18-5 4-33 1-6 4 3 9 17 1 10 8 12 0 7 5-7 9-33 3-11 6 11 8 25 3 1 15-4 4-24 2-7 7 5 8 18 3 6 16-37 9 0 10 13 3 175 0 15-4 0-8-29-7 14-17 71-5 5-3 0-8-5-3-58-3 3-18 91-4 6-5-1-6-5-3-74-2-3-4 7-17 77-2 15-9-16-7-32 0-3-2 4-5-3-8-6 0-3 4 0 10-11 0-10-10 1-4 14-7 84-4 3-6-5-5-53-5-1-13 7-5 104-3 8-4 0-6-8-4-67-2-9-4-3-9-5 3 2 9-11 0-18-16 4-3 17 0 6 5 4-5 50-3 11-4 0-6-5-3-52-3-14-13 4-7 11-3 47-2 2-10-57-5-9-14-9-4 19-4 18 3 43-4 4-4 0-6-5-4-66-3-2-2 7-9-4-7 8-3 36 2 55-4 4-4-4-9-116-4 18-16 14 2 5-5 74-3 7-5-1-6-6-3-66-3-2-6 5-4 0-8 69-7 0-8-12-5-55 0-4-3 5-9-4-6 86-5 12-6-4-6-8-2-22 2-50-4-8-4-20 2-6-13 10 0 12-7 34 1 58-4 4-3 0-5-6-4-79-3-8-13-8-5 18-4 95-1 11-6-3-6-8-2-16 2-73-5 6-20 60-2 20-4-1-7-83-8 10-4-1-13 4-2 17 2 14-4 27 0 9-4 6 3 12-2 1-6-4-4-15 3-9-4-40-3 2-19 42-3 5-9-5-5-46-2-10-13 12-8 29-4 19 2 5-5-1-6-4-3-21 2-47-5 0-7 7-3 0-4-10 1-13 12-7 0-2-7-13 3 1-7-10-2-12 12-6-12 10-7 30 4 15-4 65-2 5-3zM1858 1927l9-2 6 15-7 2-11-9zM1857 1887l3-4 9 2-8 4zM1929 1542l20-6 7 12-16 3zM1928 1492l8 2-1 10-9-9zM1891 1397l-5 3-1 6 9 6 7-5 0-4zM1831 1402l2 7 9 5 16 0 15-8-2-7-6-3-29 0z"/><path class="s" fill-opacity="1.000" d="M1970 1834l3 5 9-1-1-8zM2021 1633l-2 8 5 2 2-8zM1932 1574l2 4 8 0-2-5zM2000 1437l-17-2-10 3-12-4-26-1-70 1-7-3-16 2-15-5-13 6-23 2-2 8 3 3 24 4-4 13-7 8-26 6 0 8 12 5 6 11-20 10-35 2-3 8 4 5 23 2 4 4-1 5-14 5-6 7-30 6 3 9 22 5-4 10 4 8-45 4-8 4 3 9 18 3 13 10-16 12-27 2-4 8 4 4 20 4 17 12-11 9-40 1-11 5 0 4 7 4 32 3 3 7-5 6 0 7-55 8 3 8 35 3 13 6-11 1-6 15-12 2-12-3-16 4-4 8 11 5 41 2 9 6 0 5-8 9-47 3-7 4 4 9 39 4 3 3-2 6 7 2 2 5-18 6-38 5 3 8 41 5 5 14-3 6-56 5 1 9 49 7 3 12-7 6-33 2-9 6 5 7 28 4 2 18-13 5-30 1-5 3 2 8 30 3 7 5 6 10-4 6-32 4-5 8 5 4 22 3 11 13-9 8-33 2-6 4 3 9 25 3 7 18-8 6-31 2-1 8 26 9 11-2 8 12-11 9-27 1-8 4-1 4 5 5 29 4 0 10 4 5-14 6-21 1-5 4 3 9 20 3 7 15-4 6-32 5-3 4 3 6 188 1 6-5-6-7-23-5 7-13 13-7 66-3 5-4-4-8-56-2-5-3 2-18 96-6 0-8-78-5-3-8 5-6-1-4 7-4 76-2 7-6-5-7-63-3-11-13 20-9 83-3 3-7-5-4-51-4-3-3 0-15 112-5 7-3 0-6-7-3-88-2-19-4-8-12 2-4 11-3 77-3 3-7-11-5-69-2-14-6-4-8 14-7 16 2 18-5 38 0 8-4 0-6-6-3-52-3-10-14-8 2 0 11-10 0 3-9-5-9 5-3 49 1 42-5-3-10-85-5 15-6-10-7 2-4 23-4 69-1 6-4-6-8-91-2-6-5 13-11-3-5 23 1 9-4 71-2 5-3 0-6-5-3-69-4-3-6 8-14 56-2 11-3 2-5-8-6-58-1-5-3 3-11-12-1 16-8 52-1 12-7 8 6 9 0 5-5-5-7-17 5-14-6-77-4-3-16 4-2 99-5 10-4-2-6-74-4-18-17 1-4 59-5 30 2 10-6-3-6-7-2-58 0-17-5 13-4-1-6 6-9 60-2 8-5-7-7-71-4 0-20 76-4 7-4 0-4-7-4-29 0-13-4-11 3-40-3-1-15 16-4 7 5 21-6 4 2-3 5 5 10 4-6-2-9 17-5 30 0 4-4-1-6-50-4-10-12-11 0-3 6-6 1-18-14 75-5 7-4 18 3 3-9-3-3-20 3-9-4-69-2-5-3-51 3-2-4 19-7 3-7 10-5 73 0 10-4 21 2 7-2zM1749 2134l7-3 7 6-10 3zM1806 2047l-16 2 12-4zM1833 2019l7-3 8 2-4 4zM1818 1808l5-3 6 2-2 4zM1886 1766l9-2 6 6-10 5zM1867 1741l28 4-24 2zM1866 1698l6-1-1 3zM1885 1661l15-5 0 5 10 4-9 4-7-7zM1902 1613l10-3 3 5-8 2zM1906 1570l1 3-5 3-2-4zM1883 1545l5-2 4 4-6 2zM1868 1530l2 2-6 9-8-3 2-7zM1896 1507l4-2 3 3zM1893 1401l-4 3 1 4 6-3zM1835 1401l0 6 6 4 17 0 9-4-4-9-24-1z"/></g><path class="p" d="m983 662-57 20 40 0-23 25 20-1 16-1 10 2 15-6 43 0-145 10 32 2 10 4 5-8 8 6 18-2 0-5 5 5 13 16 4-1 6 2 13-9 9 0-149 20 8 0 16-5 85-2 17 3 11 4-127 11 4-7 101 5 9 1 8-1 1-3 11-2-174 15 19 0 130-4 30 8 5-4 4 0 16 0-79 10 22-1 4 4-143 7 138 11 5-4 31-7 6 0 22 0-214 20 18-8 124 2 18-2 40 8-191 14 121 0 16-8 2 5 2-5-164 13 13 5 5-8 130 6 6-6 9 7 107-4-363 20 52 0 20 0 38-5 7 0 115-6 4 4 1-4 7 5 9-3 2 2 39 7 8 0 25 0 3 0-241 7 133 1 10-2 0 6 16-3 19 3-211 8 7 0 21-4 154-1 15 0 30 5 5 0 19 0 10 0 24 0 25 0-288 10 14-5 3 8 3-7 132 6 8 4 13-11-238 14 32 0 16 0 27 7 6-1 140-1 6 3 9-1 6-3 23-4 6 7 2-7 7 0 29 0 6 0-267 20 19-8 3-1 144 1 10 0 13-1 15 2 12 7 8 0 6 0 18 0 8 1-237 8 150 4 6-1 30-8 27 6-222 10 191 0 15 0 4 0 17 0-230 14 5-8 14 10 130-2 1-6 3 3 37 3 1-5-269 10 81 9 6 0 6-6 2 6 122 1 4-5 3 5 15-4 5 4 12-10 38 0 7 0-301 20 61 0 7 0 5 0 18-7 152 1 10 6-161 10 133 1 4-3 9 2 11-6 3 10 6-7-265 13 3 6 26-6 36 0 27 4 5-8 2 10 134-10 3 8 21 0 14-4 20 0-206 15 5-3 156 3 6-8 2 8 11-6-240 10 41 0 17 7 12-1 134 4 8 1 6-6 14 4 37-5-248 16 9 0 11 0 4 0 5 0 2 2 18-6 135 7 13-10 6 0 7 4 27 3 42 0 104 0-337 14 123-9 0 7-190 7 48 1 128 7 13-3 22-4 11 0 13 0 48 3-245 16 7-10 23 4 92-5 9 7 13-4 21 8 80 0-228 5 100 6 6 0 5-1 3-3 11-4-223 17 86 0 4 0 105-5 6 9 37-4 209 0-403 10 52-2 94 3 7-3-117 12 246 0 26 0"/></g><rect class="ax" x="677.40" y="640.20" width="491.90" height="476.00"/><text x="761.91" y="1146.90" font-size="21.30" text-anchor="middle" textLength="26.50" lengthAdjust="spacingAndGlyphs">20</text><text x="851.97" y="1146.90" font-size="21.30" text-anchor="middle" textLength="26.50" lengthAdjust="spacingAndGlyphs">40</text><text x="942.04" y="1146.90" font-size="21.30" text-anchor="middle" textLength="26.62" lengthAdjust="spacingAndGlyphs">60</text><text x="1032.11" y="1146.90" font-size="21.30" text-anchor="middle" textLength="26.38" lengthAdjust="spacingAndGlyphs">80</text><text x="1122.17" y="1146.90" font-size="21.30" text-anchor="middle" textLength="39.75" lengthAdjust="spacingAndGlyphs">100</text><text x="662.82" y="1102.56" font-size="21.30" text-anchor="end" textLength="26.50" lengthAdjust="spacingAndGlyphs">10</text><text x="662.82" y="1004.22" font-size="21.30" text-anchor="end" textLength="26.50" lengthAdjust="spacingAndGlyphs">15</text><text x="662.82" y="905.87" font-size="21.30" text-anchor="end" textLength="26.50" lengthAdjust="spacingAndGlyphs">20</text><text x="662.82" y="807.52" font-size="21.30" text-anchor="end" textLength="26.50" lengthAdjust="spacingAndGlyphs">25</text><text x="662.82" y="709.18" font-size="21.30" text-anchor="end" textLength="26.50" lengthAdjust="spacingAndGlyphs">30</text><path class="tk" d="M761.91 1116.20v7.29M851.97 1116.20v7.29M942.04 1116.20v7.29M1032.11 1116.20v7.29M1122.17 1116.20v7.29M677.40 1094.56h-7.29M677.40 996.22h-7.29M677.40 897.87h-7.29M677.40 799.52h-7.29M677.40 701.18h-7.29"/><text x="923.35" y="628.30" font-size="25.60" text-anchor="middle" textLength="385.00" lengthAdjust="spacingAndGlyphs">mean_hand_reach vs Difficulty</text><text x="923.35" y="1175.10" font-size="21.30" text-anchor="middle" textLength="190.62" lengthAdjust="spacingAndGlyphs">mean_hand_reach</text><text transform="translate(624.00 881.20) rotate(-90)" x="0" y="0" font-size="21.30" text-anchor="middle" textLength="93.50" lengthAdjust="spacingAndGlyphs">Difficulty</text><g clip-path="url(#c6)"><g transform="scale(.5)"><path class="s" fill-opacity="0.210" d="M3296 1829l0 12 9 5 11-1 7-8-2-8-8-5zM2691 1824l-8 5-2 8 7 8 8 1 8-5 2-8-7-8zM3323 1747l-5 6 5 12 10 2 10-6 1-8-5-6zM2787 1666l-9 6-1 8 5 6 9 2 9-6 1-8-5-6zM2801 1588l-9 6-1 8 5 6 9 2 9-6 1-8-5-6zM3372 1511l-5 6 5 12 10 2 10-6 1-8-5-6zM3222 1392l-7 5-2 7 7 9 9 1 7-5 2-7-7-9zM3310 1391l-9 6-1 8 5 6 10 2 9-6 1-8-5-6zM3184 1391l-9 7 0 8 9 7 8 0 9-7 0-8-9-7zM3342 1433l-19-3-177-1 11-4 9-13 0-9-8-8-10 2-12 13-2 8 5 7-13 4-1-16 6-12-6-8-56-1-8 6-12-1-14 6 0 12 15 6-3 8-107 3-5 6 0 7 8 7 45 0 11 4-19 12-65 5-4 6 4 10 38 5-6 4-3 10-63 1-9 6-1 8 7 7 40 2 13 8 10 1 1 5-79 4-5 12 7 7 20 4 33-1-16 16-56 0-8 6-1 8 9 8 68 1 6 8-17-6-7 5-3 8-89 3-5 12 7 7 62 2 7 14-48 2-9 7 0 8 6 6 39 1 2 2-6 14-53 2-12 9 4 10 35 4 7 12 8 2-41 5-17-3-7 5-2 8 9 9 17-3 6 3 44 1 12 13-60 4-7 7 1 8 6 5 81 3 1 4-31-2-18 13-11 2-62 0-6 5-1 8 10 8 94 2-7 14-17 0-15-6-8 6-49 1-12 9 2 8 10 5 35 0 13 8 17-5 0 8-7 5-38 1-10 4-14-3-8 8 4 10 10 2 8-3 24 7 39-2 13 8-6 8-45 1-10 9 2 8 8 5 46 1 2 5-6 10-37 1-6 3-21-3-8 6-1 8 9 8 21-3 6 3 49 2-14 13-7-9-10-2-22 23 3 8 7 4 30 1 2 9-3 7-21-2-16 5-10-2-10 8 1 8 6 5 49 2 13 12-6 3-53 1-9 6-1 8 5 6 41 3 9 11-2 4-52 2-7 7 1 8 9 6 33 2 10 11-7 4-60 2-7 8 4 10 6 3 314-1 7-9-7-11-46-2-2-8 11-3 4-5 43-1 10-9-7-12-33-1-18-8 18-8 39-1 7-5 2-8-9-9-32-2-3-4 4-9 66-2 8-5 2-8-7-8-42-2 2-15 19 2 12-4 37 0 9-6 1-8-7-7-39-2 2-11 32-5 57-2 5-6-5-12-48-2 2-11 16 5 13-10 49 0 14-4 16 3 8-5 2-8-10-9-16 3-14-4-59 0-22-7-4-5 12 0 7-4 110-1 11-9-2-8-9-5-117-1-4-8 19-5 15 2 7-4 55-3 5-6-5-12-37-3-12-14 32-2 13 3 13-11-2-9-10-5-21 0 3-16 34-4 13 2 10-8-1-8-9-6-95-2 6-11 12-3 69-1 11-3 4-6-4-10-54-4 1-14 54-4 15 2 9-8-1-8-8-6-58-1-6-10 14-6 64-1 10-8-5-12-94-4-19-13 23 1 49-6 30 3 9-9-2-8-7-5-63 0-13-11-28-3 57-2 18-4 42 3 9-7 0-8-9-7-42 3-27-4-6-12-15-2 15-3 74 0 9-6 0-10-9-6-38 0-11-5-18 4-18-6 13-2 8-7 58-1 8-6 1-8-9-8-66-2 9-10 14 0 10-5 62 0 10-6 0-10-10-6-79-2 4-6 0-10 53-3 4-6zM3181 1848l38 1-7 11-5 1zM3232 1807l-1 9-4 2 0-10zM2857 1735l2-6 24 0 2 4-7 11zM2879 1690l19 0-9 7zM2903 1652l-5 10-12 2 10-12zM2959 1494l9-2 4 5zM3208 1463l17 4-16 2zM3054 1459l-1 8-21-4 18-6zM3129 1457l11-2 1 4zM3249 1454l14-1 10 16-24 0-3-3zM3084 1417l1 8-6-4zM2982 1391l-9 6-1 8 5 6 9 2 9-6 1-8-5-6z"/><path class="s" fill-opacity="0.241" d="M2690 1826l-5 4-1 8 6 6 7 0 5-4 1-8-6-6zM3308 1825l-9 4-2 8 3 5 10 3 9-5 1-8zM3328 1747l-7 6 0 6 7 6 6 0 7-6 0-6-7-6zM2786 1668l-7 11 5 6 8 1 7-11-5-6zM2800 1590l-7 11 5 6 8 1 7-11-5-6zM3377 1511l-7 6 0 6 7 6 6 0 7-6 0-6-7-6zM3160 1399l-10 0-12 13-1 6 6 7 9 0 9-8 3-11zM3222 1394l-5 4-1 7 6 7 7 0 5-4 1-7-6-7zM3309 1393l-5 4-1 8 6 6 7 0 5-4 1-8-6-6zM2981 1393l-7 11 5 6 8 1 7-11-5-6zM3186 1392l-7 4-2 8 4 6 9 2 7-4 2-8-4-6zM3337 1433l-189-2-9-3-15 3-3-2 4-6-3-10 6-8-3-10-54-2-9 9-6-3-15 2-4 11 5 5 11 1 10-9 10 11 16-8 0 17-32-10-8 11-103 1-8 6-1 7 7 7 46 0 19 8-1 3-16-2-9 9-58 2-9 5 0 10 9 5 48 1 9 14-7 2-10-10-10-2-5 4-2 9-68 2-5 4-1 8 6 6 40 2 13 8 9 0 2 8-79 4-5 10 10 8 55 0 8 4-4 3-13-1-6 11-6 3-57 0-6 4-2 8 8 8 68 1 7 4 0 7-18-6-9 12-83 1-9 5-1 8 10 7 59 1 1 8 6 6 9-2 7-10 10-2 2 4-7 11-71 3-8 7 0 6 12 8 86 2-6 7-13-5-10 7-14-9-6 0-6 5-2 11-57 2-7 7 5 10 32 2 7 12 11 2-4 5-33 0-9 5-14-5-9 11 9 9 14-5 9 5 43 1 17 15 19-4-2 6-78 1-10 9 1 5 9 6 78 1 1 9-31-3-18 12-11 2-62 0-5 4-1 8 9 7 96 2-9 16-20 0-12-5-8 5-38 4-15-2-7 7 7 11 38 1 12 7 17-6 3 11-9 6-41 2-8 6-12-5-6 6 4 9 14-4 8 6 16 3 40-1 14 7-6 11-45 1-9 7 1 8 8 5 46 1 3 6-6 10-37 2-10 5-18-5-8 6-1 6 9 8 18-5 10 5 49 2-17 16-10-10-8 0-18 18 5 12 34 2 3 8-4 10-50 2-7 7 7 11 49 2 15 14-7 3-54 1-8 5-1 8 4 5 40 3 8 6 2 9-51 3-9 6 0 8 9 6 34 2 11 12-9 5-60 2-6 6 4 11 43 3 270-1 8-7-4-11-49-3-3-11 10-1 7-6 42-1 10-7 0-6-6-6-33-1-22-9 22-9 39-1 8-6 0-8-5-5-37-4 1-13 71-4 5-4 1-8-6-6-43-2 2-16 72-4 5-4 1-8-6-6-40-2 3-13 32-5 57-2 5-9-7-8-47-1 1-12 4-3 17 6 10-9 57-1 8-5 14 5 8-5 0-10-8-5-14 5-8-5-67-1-23-7-3-8 12 1 7-4 109-1 11-8-1-6-10-6-117-2-2-11 21-4 71-2 6-4 2-8-8-8-32 0-13-14-6 1-5 9-7 3-10-2-6-7-17-7 99-1 8-8-1-7-6-5-28-2 6-9-2-8 38-5 14 2 7-7-7-11-14 2-87-5 10-14 79-3 13-5 1-8-8-6-49-2 1-17 70-1 9-8-1-6-8-6-58-1-9-13 18-5 66-2 7-8-5-9-91-3-23-16 67-2 7-4 10 4 19 0 9-9-6-10-32 2-6-4-27 1-13-10-26-2-11-5 66-1 20-6 16 5 23 0 8-5 0-10-8-5-23 0-16 5-9-5-21-1-8-12-9 1-5-5 17-3 72 0 10-6 0-8-10-6-26 1-22-5-19 3-17-5-3-4 13 0 15-9 57-1 6-7-6-11-66-1-4-3 2-6 10-6 14 0 8-4 65-1 7-6-3-10-121-4-5-4 3-13 4-2 15 1 5 10 9 6 5-4 1-11 4-3 48-1 5-5 0-6zM3226 1806l10 1-2 10-7 3-4-2zM2904 1735l-2 5-5-1zM2853 1738l4-10 28 0 4 5-9 12-10 0-6-6zM3228 1696l-1 7-9-1 7-7zM3205 1457l20 6 3 5-21 2zM3056 1458l-1 11-22-2-4-5 1-3 20-4zM3127 1456l14-3 3 6-9 3z"/><path class="s" fill-opacity="0.317" d="M2786 1983l-8 10 5 7 7 1 8-5 1-6-4-5zM3280 1945l-6 10 6 6 9-1 2-12zM2691 1828l-4 10 9 4 4-10zM3305 1827l-5 5 0 6 5 5 9-1 4-5-1-6zM3328 1749l-3 11 9 3 3-11zM2786 1670l-4 9 4 5 6 0 4-9-4-5zM2800 1592l-4 9 4 5 6 0 4-9-4-5zM3308 1595l0 8 10 5 24-1 5-6-5-10-24-1zM3377 1513l-3 11 9 3 3-11zM3159 1404l-8-1-9 8 2 12 5 1 10-8zM3055 1401l-13 3 3 12 13-4 1-6zM3223 1396l-4 10 9 4 4-10zM3310 1395l-4 10 9 4 4-10zM2981 1395l-4 9 4 5 6 0 4-9-4-5zM3185 1394l-5 4 0 8 11 4 5-4 0-8zM3333 1435l-75-4-151 1-5-3 3-4 8 4 7-2 0-15 6-7-1-7-5-4-12 4-10-4-24 0-7 5-1 8 5 5 22-2 0 19-3 2-11-5-20-1-9 6-103 1-7 5-1 7 6 6 25-2 27 3 15 8-3 7-12-6-15 11-56 1-7 5-1 5 5 7 51 2 3 7 11 8-12 4-16-10-10 10-56 1-16 4 2 12 40 3 13 7 10 0 3 10-78 4-5 5 0 6 5 5 55 1 13 4-7 6-12-1-8 12-61 1-7 11 7 7 72 2 4 4 0 8-5 2-15-7-8 11-86 2-6 10 6 6 14-2 5 3 43 1 8 13 5-1 7-10 14-2 3 3-7 14-73 3-7 11 10 8 89 3-10 14-8-9-19 6-7-8-8-1-5 6-1 9-58 3-4 9 4 5 31 2 7 12 6 0 6-11 44 1 9 8-6 6-32 4-13-6-8 7-20 3-16-2-7 7-14-8-7 11 7 7 14-8 7 7 16-2 30 4 19 15 17-5 2 6-4 3-81 2-5 5 0 6 9 6 78 1 3 2-2 9-40 2-22 9-61 0-5 9 8 8 15-3 7 3 76 3-12 17-31-3-41 4-10 6-10-4-4 5 4 9 10-4 10 6 17 0 13 6 11-5 10 2 0 11-10 6-42 3-3 4 3 10 57 3 15 7-4 12-48 2-8 7 1 6 7 5 47 1 4 3-7 15-37 2-11 7 6 10 55 4-16 16-10 0-10-7-18 15 0 6 6 6 34 2 3 4-3 13-54 5-4 9 4 5 50 3 17 15-10 4-53 1-7 5-1 6 5 6 44 5 5 14-52 3-7 4 0 10 7 4 34 2 12 10 0 4-11 5-58 2-5 5 3 10 40 3 243 0 31-3 3-4-3-10-49-3-4-14 18-6 45-2 6-6-1-6-5-4-41-3-24-9 34-9 37-1 7-4 2-6-6-7-38-4 0-13 4-3 69-3 5-4 0-8-5-4-45-4 2-14 6-4 47 0 25-5 1-8-5-5-41-2 4-15 35-5 49 0 9-6 0-6-9-6-44 0 0-10 6-8 5-1 6 7 6 1 10-9 57-1 9-8-9-10-85-3-9-6-1-8 22-4 107-1 9-5 0-8-9-5-118-3 0-13 92-5 7-11-7-7-34-1-9-11-6 1-8 10-25-4-16-13 100-2 7-6-3-10-35-6 9-7-2-10 35-3 8-4 12 3 4-5-4-9-12 3-8-4-85-4 16-16 77-2 8-4 0-10-8-4-45-1-5-11 1-7 57-2 6-3 13 3 7-5 0-8-7-5-13 3-6-3-40-1-9-17 84-5 6-7-6-9-88-2-26-17 70-3 8-5 8 4 22 0 6-7-6-9-22 0-7 4-9-6-25 1-8-2-7-7-25-3-15-7 72-1 17-6 2-5-7-7-23-2-7-7-11 2-5-15 87-1 10-5 1-6-6-6-64-1-28-6-1-3 6-7 12 3 9-7 61-2 5-7-5-9-69-2 0-16 23 0 35-7 41 1 3-3-3-11-119-3-9-9 10-12 16 0 10 10 5 0 10-11 45-2zM2867 1966l8-1-3 3zM2855 1887l2-3 8 2-5 4zM3177 1821l4-2 2 4zM3204 1806l2 10-5 7 0-16zM3223 1806l16 0-4 14-10 2-4-3zM3232 1689l-4 16-15-2 13-15zM3252 1583l1 4-3 1zM2956 1574l-4 4-5-1zM3213 1534l4-4 10 1-8 5zM3207 1494l7-1 3 5-8 3zM3097 1466l7-1 1 3-7 1zM3059 1460l-3 10-27-2-4-9 3-3 26-2zM3125 1455l19-3 2 7-3 4-11 0zM3201 1453l4-2 7 8 15 2 5 6-6 4-20 0zM3166 1454l2-4 7 2-4 4zM3099 1412l7-5 6 6-6 4z"/><path class="s" fill-opacity="0.390" d="M2785 1985l-4 9 4 5 7 0 3-11zM3282 1946l-4 10 7 4 4-10zM3308 1828l-4 3 0 8 5 3 4-3 0-8zM2793 1748l-6 10 8 6 7-9zM3303 1637l5 8 19 0 3-3-3-11-19 0zM3312 1595l0 8 7 4 10-3 11 2 4-5-4-9-11 2-10-3zM3355 1476l-3 8 5 2 2-8zM3324 1435l-268-5-67 2-25 5-16-4-7 6 5 10 21-4 37 6 11 11-6 8-10-7-6 0-11 9-55 1-5 3 0 10 5 3 48 1 7 10 13 2 1 3-14 5-22-3-10 4-67 4 1 11 37 3 10 5 10-2 7 7 1 8-5 3-70 1-7 4 0 8 7 4 59 1 6 4-5 6-24 12-61 1-5 4 0 8 5 4 71 2 6 5 0 10-7 2-12-6-11 9-66 1-9 5-9-4-4 3 0 8 4 3 9-4 9 5 43 1 6 6 14-5 16 0 1 11-6 7-70 2-9 5-1 6 8 7 87 0 4 6-9 14-5 0-8-9-18 8-7-10-5-1-3 11-5 3-39 0-13 4-2 8 11 5 23 3 58-1 8 5 1 6-7 5-21 4-44 0-12 7-12-4-2 10 4 3 10-5 12 7 24 1 13 11 19-3 6 6-8 6-73 1-8 4-1 6 4 5 84 3 0 11-4 4-12-3-27 3-22 8-36-1-9 4-11-4-7 6 1 6 6 4 13-4 7 4 82 3-11 8-2 8-5 3-30-2-41 3-7 10 7 6 58 4-6 3 1 9-4 3-45 5-4 3 0 8 11 5 49 1 11 5 1 12-8 4-45 1-5 3-1 8 6 5 69 4-19 9-5 8-42 3-3 11 13 5 41 0 4 2-3 9 4 4 12 1-10 3-10-6-10 7-23-1-13 6-2 6 6 7 30 1 10 7-7 14-34 1-10 5-2 6 10 6 39 3 12 15-14 4-50 1-5 3 2 12 43 4 9 15-7 4-32 3-16-2-6 5 1 8 40 5 6 6 9 2-3 8-8 4-61 4 0 12 34 3 273-2 4-6-4-8-51-4-1-16 63-6 4-4-1-8-50-6-21-8 11-6 61-6 9-4 1-6-4-5-42-4 4-17 74-6-1-11-46-5 1-16 4-3 53-1 20-5-2-10-41-3-2-4 7-14 80-4 10-4 1-6-4-5-50-2 0-9 8-10 10-1 9 7 10-8 52 0 10-6-1-8-9-4-22 2-74-5 4-7-2-7 26-5 112-4 1-8-4-4-122-4-2-9 5-7 90-4 6-10-6-6-34-1-8-9-14 9-23-2-21-16 6-3 75 0 26-5-4-9-49-6-6-11 1-5 7-4 52-3 3-2-1-9-9-3-72-1-4-3 20-17 76-2 6-4 1-6-7-6-55-3 6-5-13-11 70-4 7-4 12 4 5-3 1-8-6-5-12 4-7-4-42-2-10-16 2-3 85-6 0-10-3-2-84-2-34-16 13-5 64-1 8-10-8-7-43-2-12-8-29-9 78-2 12-4 1-8-7-5-27-4-14 2-3-20 89-2 7-4 0-8-7-4-58 0-32-5 1-7 7-7 14 2 8-5 61-3 2-9-6-5-61 0-11-7 6-14 46-1 15-6 2-4-17-8-105 0-10-20 11-2 8 8 7 1 6-4 8 2 4-7 24-1 9 4 15-5 30 1 10-7zM2877 2128l5 9-8-4zM2872 2122l7-1 2 5-3 2zM2879 2016l17-2-2 4zM3028 1900l7-1-1 3zM2850 1886l7-3 12 3-10 7zM2889 1847l12-2 1 5-3 3zM3174 1815l6-3 6 11-11 1zM3200 1805l6 0 6 9-8 10-6-1zM3235 1688l-4 18-18 0-3-3 13-15zM3203 1571l3 6-5-1zM2959 1572l-9 9-7-3 3-4zM3210 1535l7-6 14 2-13 7zM3178 1507l9-3 4 5-12 1zM3152 1508l5-6 6 2-3 5zM3005 1495l6-2 3 4-7 1zM3203 1493l13-1 3 6-10 5-5-3zM3093 1466l13-3 2 5-10 3zM3083 1452l1 6-3-1zM3063 1462l-5 9-30-1-8-10 10-7 9 2 12-3 7 2zM3123 1455l7-4 17 0 1 8-3 7-5 2-12-5zM3164 1451l9-2 5 4-11 4zM3148 1408l-2 6 7 4 3-8zM3047 1403l-1 9 5 2 1-10zM3187 1395l-4 3 0 8 6 3 4-3 0-8zM3116 1395l-9 8 7 8 5 0 5-10zM3069 1405l1 4 7 2 18-3 1-10-19-3z"/><path class="s" fill-opacity="0.480" d="M2776 1829l-2 10 7 2 3-9zM3314 1719l3 4 1-3zM3315 1711l-2 3 4 1zM3326 1672l-1 9 3 1 1-9zM3327 1597l-1 3 4 1 1-3zM3318 1593l-3 9 7 3 2-10zM3323 1439l-4-4-12 4-7-2-1 7 20 3zM2944 1438l4 10 12-4-3-9-8-1zM3292 1437l-11-4-39 3-104-4-27 3-37-4-85 2-12 4 2 10 27 3 10 6 13-5 31 1 10 10-8 9-36 0-9-5-11 6-12-6-13 7-53 1-5 6 5 8 54 3 6 9 11 0 1 3-7 6-81 3-24 5 0 6 5 3 56 6 4 15-9 4-71 2-3 4 3 8 59 2 13 6 14-4 2 5-12 10-19-3-20 10-61 3 3 5-2 6 74 4 4 4 2 13-101 6-4 7 6 6 80 2 3 13-8 7-73 2-6 4 0 8 5 4 91 1 3 7-6 10-9 5-15-8-8 7-16-2-10 4-38 0-7 3-3 7 10 6 78 1 10 3 3 9-6 5-20 4-54 2-5 6 5 8 24 1 17 8 12-3 15 7-1 7-16 4-60 0-10 3 0 10 10 3 72 1 6 3-9 17-12-3-28 2-21 6-30-2-8 2-5 7 13 7 97 1 3 2-1 13 5 3-6 1-7-10-16-4-8 4-7 12-73 2-5 6 5 8 84 4-10 5-7 12-59 4-6 4 0 6 8 5 59 3 7 10-8 10-48 2-4 3 2 10 71 5-3 5-11 3-7 10-44 4 0 12 52 3 6 13 18-7 9 4-5 9-62 1-16 4-3 7 7 7 26 0 15 4 1 4-8 14-37 2-9 9 7 6 42 3 11 17-66 5-5 8 5 6 48 5-2 7 7 5 7-3-2-4 5-6 15-1 5 8 0 9-90 6-3 8 5 5 12-2 37 8 2 5-3 9-5 3-46 4-3 3 3 9 24 3 215 0 44-3 0-12-53-6 0-16 65-8 0-8-60-8-10-8 18-7 60-6 0-12-42-4 3-17 22-4 35 0 11-7-11-9-25-1-3-3 4-18 57-2 13-6-2-6-11-4-45-3-2-13 8-3 4 7 4 0 12-9 84-4 0-12-43-1-12-4 15-18 65-5 19 3 7-5 0-6-7-5-19 3-65-4-27-6 8-1 4-10 6-4 86-2 25-5-3-8-22-3-78-2-1-9 4-9 87-3 9-5 0-6-10-5-27 0-8-6-14 6-26-2-20-18 97-6 4-6-12-6-36-3-5-6-9 6-9 0-2-19 73-4 8-5-3-7-11-3-63 0-8-3 18-18 80-3 5-4 0-6-5-4-57-3-3-11-18-1-6-5 92-5 6-8-6-6-46-3-1-8-8-10 64-5 12-5-2-6-75-5-34-16 9-5 71-2 6-4 0-7-6-4-56-3-5-6-23-11 87-5 2-10-4-3-44-3 2-12-5-7 27-4 33 1 12-7 5 5 15 1 5-5-1-6-15-3-9 6-5-5-14-3-51-1 0-12 11-7 76-3 4-3 0-8-4-3-59 0-16-8 4-12 5-3 53-3 2-9-4-4-107-1-10-5-2-12-5-5 18-2 13 7 14-8 45 2 12-6zM3138 1978l8 2-6 1zM2921 1889l7 6-3 4-5-4zM3038 1887l0 13-11 3-2-10zM3048 1863l3-4 8 2-2 3zM3152 1852l-1 10-7 1 0-8zM3187 1811l2 13-12 2-10-3 4-10 9-4zM2965 1808l13-2 3 3zM3123 1769l5 3 0 6-6-2zM3188 1738l6 2-2 5-5-2zM3133 1695l4 2-3 3-3-2zM3041 1692l2-4 11 2-6 7zM3239 1688l-5 19-23 0-5-5 3-10 15-6zM3118 1653l6-2 2 3zM3024 1626l9-3 14 4-20 2zM2957 1611l5 10-5 6-5 0-7-7zM3198 1573l8-3 4 6-9 4zM3234 1531l-10 7-12 2-6 9-6-2 9-6-6-6 6-5 18-2zM3173 1509l9-9 12 7-4 4zM3149 1508l8-9 13 9-13 3zM3001 1494l12-2 7 10-16-2zM3200 1492l19 0 2 5-7 10-10-4zM3112 1466l-6 6-10 0-7-5 2-4 14-5zM3119 1455l10-5 20 0 1 12 7 6-22 2zM3088 1451l2 7-3 3-14-1 7-9zM3162 1451l11-3 10 6-16 5zM3078 1397l-5 10 8 2 3-4-2-7z"/><path class="s" fill-opacity="0.596" d="M3243 1951l5 8 8 1 6-4 0-6-6-4zM2884 1557l-4 2 2 3zM3319 1557l5 8 9-1 2-4-5-7zM3155 1457l-2 4 6 2 1-4zM3314 1475l-112-2-8-4-3-11-4-2-10 4-12 12-30 0-15-6-2-4-1 7-9 4-33-4-16 4-64-2-44 3-8 5-13-2 1 9 11-3 8 5 20-1 22 7 21-4 7 3 5 9-7 7-15-4-21 7-77 3-3 3 3 7 60 5 5 9-4 9-23 4-43 0-9 3-2 6 9 5 33 0 13 4 17-2 3 2-2 7-13 12-18-5-21 8-43 1-3 3 3 9 59 3 8 5 3 7 10-4 5-7 8 0 7 4 1 14-137 7 2 10 79 2 7 9 12 5 2 6-99 4-5 4 4 10 91 1 5 3 0 7-8 11-9 3-17-3-70 4-7 5 0 4 7 5 77 1 17 4 0 10-7 6-75 5-4 5 4 7 13-1 28 8 24 0 8 5-3 11-80 3-7 3 1 9 78 3 18 4-11 6-3 9-6 4-40-1-26 6-33 0 2 10 29-2 9 3 63 1 6 3 0 9 4 5-3 5-13-1-3-9-12-4-15 15-71 4 1 9 17 3 82 3-25 5-9 14-59 4-4 8 3 3 51 2 18 4 3 12-6 6-51 5-1 10 68 5-3 7-9 3-9 10-44 4 0 10 50 3 12 9 15-5 10 7-11 11-68 1-7 4-1 6 5 5 31 1 22 5-5 5 0 10-51 5-5 4 3 9 45 4 11 18-67 5-3 10 53 7 26-2 8 8 0 10-5 3-67 3-8 6 6 6 38 4 1 3-7 16-46 5-5 4 3 7 15 3 232 0 27-6-2-6-51-7-1-4 4-6-2-7 4-3 48-3 6-8-6-4-51-4-6-10 16-8 61-6 2-8-4-3-42-6 5-8-5-7 16-4 52-2 4-5-4-7-23-1-11-5 3-16 8-4 54-1 6-4 0-6-6-4-52-4 0-15 99-10 12 2 4-4-7-7-8 3-57-6-20-19 12-1 26 11 14-12 55-2 11-6-11-8-86-4-7-5 4-7 12 2 12-10 88-2 10-6-10-8-79-2-3-7 3-11 7-3 84-2 5-3-2-10-26 0-12-4-13 3-39-4-1-8-11-7-7 2 1 5-6 10-11-2 1-15 5-3 104-3 7-4-3-9-40-5-11 3-35-1-10-7-1-5 21-9 88-4 0-12-75-3-2-4 13-15 85-5 4-5-4-7-63-4-25-16 6-4 68-2 12-4 9 3 3-2-3-10-9 3-36-6-4-3 2-6-3-3-7 3 3 6-3 3-28 0-7-4-15 4-4-3 2-9 11 1 7-8 21-4 39 1 41-4 0-10-63-3-28-12-10 11-13-2 15-11-1-6 4-2 76-3 5-4-1-6-62-6-12-10-13-5-9 12-6-4-5-11 102-4 6-4 0-6-6-4-40-2-5-3 2-6-5-10-9 2 3 6-2 6 4 4-13 0-6-7-15 7-12-3-3-6 10-2 10-10 19 7 7-6 22-3 50 0 8-8-8-6-59-2-3-2 0-11-18 3-12 10-10-1-4-8 7-10 18-4 13 1 9 5 10-4 52-5 25 2 0-12-59 0-19-5 5-11-3-6 16-4 43 0 5-3zM3079 2055l-5 4-12 0 7-8zM2908 1980l4-3 6 2-2 3zM3085 1969l6-1 1 4zM3103 1940l14-1-5 5zM2887 1936l3 2-2 3-3-1zM3014 1937l13-3-4 9-5 0zM3152 1900l-3 3-9-1 9-5zM2890 1898l-3 4-5-1zM2983 1892l2-3 6 1-5 4zM3043 1884l-2 16-5 4-10 0-5-13zM2901 1885l21-1 20 17-23 1-8-13zM3045 1860l13-4 6 6-17 3zM3109 1855l2-4 7 2zM2935 1846l10 3-2 10-10-7zM2961 1807l5-3 15 1 6 4 0 5-22-2zM3165 1778l8-3 4 7-8 2zM3031 1777l6-2 4 4-5 2zM3133 1776l-4 5-13-1-4 4-7 0-4-5 2-4 10 4 8-12 6 0zM3111 1740l8-2 2 7-6 2zM3025 1742l6-5 9 4-5 5-7 0zM3181 1734l12 0 5 9-11 3-7-6zM2962 1728l5 11-8 6-8 0-5-10zM3040 1735l9-8 17 3-7 8-7-3-9 3zM2997 1728l7-1 2 3-5 2zM3125 1691l11-3 5 11-10 3zM3038 1688l17-1 2 6-15 8zM3089 1663l6-1-2 3zM3057 1658l9-2 6 5-4 5-7 1zM3113 1655l10-6 7 3 1 7-17-1zM3016 1627l15-6 31 5-26 4zM3159 1616l4-2 3 5-4 1zM3035 1570l6 4-3 6-4-2zM2999 1546l4-6 11 7-12 2zM3112 1535l-5 9-4-8zM3144 1546l12-16 38 1-8 3-1 7-27 0-4 7zM3100 1506l10 2-8 1zM3235 1508l-5 3-30-4-9 5-36 0-9-3 3-7-5-5 12-6 13 9 23-3 3-6 16-2 10 2 2 13zM2953 1437l-2 9 4-4zM3243 1444l8 4 29 1 9-6 0-4-10-5-27 0-7 4zM2981 1438l0 6 9 4 82 4 17-3 8 8 11-2 3-5 37-2 9 4 9-6 17 4 12-3 31 2 4-3-4-5-19-6-12 2-9-3-78 2-118-2z"/><path class="s" fill-opacity="1.000" d="M3252 1948l-2 8 6 2 1-9zM2889 1891l5 4 3-2-1-3zM3246 1872l5 7 13-2-2-8zM2805 1831l-2 5 4 3 1-7zM3250 1794l2 4 6-1-1-5zM3004 1621l2 3 5-2zM3283 1557l2 5 8 3 8-1 3-4-5-7zM3310 1476l-14 2-105-7-27 3-42-3-12 3-121-1-38 3-3 8 5 3 17-2 21 6 44 0 2 5-10 12-6 3-21-2-17 4-68 1-7 5 7 7 50 2 8 3 4 8-9 11-67 4-4 6 2 4 64 3 7 10-7 4-3 7-11 3-17-2-28 6-16-2-12 2-4 5 16 5 16-2 30 5 7 6 12-7 26 2-4 18-132 6-5 4 5 6 66 1 19 5 2 6 13 3-1-10 20 2-7 3-3 12-9 3-107 3-4 9 14 4 74-1 13 4 9 8 10-2-10-2 0-4 16 0 8 6 18-7 17 19-15 0-12-9-7 0 0 9-15-4-12 6-11-2-16 5-66 1-7 4-16-1 2 8 14-3 7 5 55 0 42 5 20-3 9 12-4 8-8 1-26-3 1-6-9-3-6 9-8 3-58 3-10 7 15 6 64 2 3 2-8 3-1 5 4 7 6 2-66 7-32-2-6 4 6 8 34-2 9 3 69 2 2 3-5 4-17-3-11 8-3 8-9 3-47 0-14 5-1 6 4 3 67 3 7 17-2 4-25 0-5-3 2-5-6-2-3 9-11 3-55 1-7 5 4 6 114 3 28 19-10 4-34-2 4-10-5-2-7 6 1 6-19 1-7-7-6 7-36 2-11 6 6 7 57 5 16-2 11 4-10 17-24-3-13 6-38 3-3 6 4 3 59 4 3 7-11 5 3 5-55 7-5 3 0 6 5 3 74 4 16 9-18 12-69 1-6 4 0 6 4 3 53 3 7 4-10 8 2 7-58 8 2 8 49 6 3 10 10 6-11 5-58 3-4 7 9 4 36 3 22-2 16 6 10-3 3 10-9 1-1 6-9 4-66 2-5 6 4 6 34 2 6 6-7 15-46 6-3 3 3 7 249 0 3-3-3-7-39-4-2-4 4-10-5-5 10-4 39-3 3-8-10-4-37-2-12-18 79-7 0-10-34-3-8-4 0-5-11 4-1-4 6-4-5-5 20-5 61-2 4-8-4-4-20 0-12-4-21 1-11-14 8-7 18 2-2 4 6 3 9-11 58-2 5-7-5-5-21 1-47-7 9-4 3-6-3-6 4-2 70-2 10-5 0-4-8-5-30-3-17-14 0-5 107-4 5-3 0-6-5-3-90-5-28 3-16-4-5-8 5-10 9 0 7 8 5-2 0-6 8 2-2 7 10 4 5-8 27-7 92-4 0-8-6-2-58 0-23-5-26 2-2-7 10-3 5-7 12 6 8-10 64-3 6-8-12-6-23 2-34-3-6-11-11 11-14 1-7-3 3-4-3-13 11-3 106-3 2-6-5-5-83-2-18-11 31-13 62-3 5-3-2-6-44-2-15-6-18 3-23-14 6-6 12 4 8-4 8 4 3 7 8 2 3-9 7-5 71-4 5-6-9-5-86-4-9-17 101-6 4-8-4-4-25-3-62 1-30-5 9-5 8 2 2-9 7-5 4 5 8 1 7-6 90-4 7-5-7-7-50-1-14-3-6-5-6 5-22 2-6-5 12-8-2-4-9 2-5 7-3-2-1-10 4-2 16 2 17-4 62-2 7-4-2-5-62-5-10-6-9 5-11 0-12-16-7 3-3 13-6 1-6-4-1-11 12-5 117-5 3-7-5-4-95-3-11-9 7-11 84-5 7-4-2-7-32-3-7-10-23 10-36-5-28 4-6-7 17-15 135-2 5-3 0-6-50-6-100 1-5-4 2-5-4-11 4-4 28 4 49-3 9 6-1 7 12 3 1-3-4-2 2-11 71-3zM2967 2124l7-2 3 4-4 4zM2906 2096l14 1-12 2zM2945 2090l7-3 10 12-9 0zM2967 2058l6-3 7 4-8 2zM3020 2008l4 8-7 4-2-7zM3063 1981l10-4-2-10 7-3 16 2 10 11-1 4zM3014 1965l9-2 2 4-7 2zM2896 1965l20-2 0 7 8 11-17 2-2-6 6-5zM2940 1926l-1 9-6 1-2-2zM2981 1939l3-6-2-7 12-2 8 9-13 7zM3047 1924l-12 5-3 9-11 7-18-12 22-6 3-4zM3049 1924l10-2 14 12-11 6zM2979 1895l3-11 14 3-7 9zM3079 1885l13-1-1 14 3 2 6-5-2-4 3-3 9 1-3 8 9 5-28 1-3-2 3-5-9-6zM3017 1885l21-3 22 2 11 8 0 9-16 3-2-4 4-7-7-6-6 4 1 10-20 4-8-11zM3018 1863l7-4 7 1-5 5zM3040 1863l11-12 14 2 9 8-20 6zM3106 1846l17 6-4 12-13-3-3-5zM3069 1851l4-6 8 2-2 4zM2961 1846l16-2 3 3-13 4zM2927 1846l20 0 1 13-11 2-7-6zM3072 1816l18-1-5 7zM3141 1805l2 6-7 7-1-10zM3009 1807l12-3 21 1 3 3-5 10-6-7-13 2zM2957 1806l6-3 29 2 5 7 14 7-14 7-13-8-8 2-5-5-8-1zM3022 1775l4-5 14 3 9 9-21 3zM3064 1769l10 5 1 10-7-2-6-10zM3002 1768l-7 16-15-5 3-9zM2951 1766l9 2 0 16-13-1 8-7zM3136 1774l-1 8-4 3-27 1-7-6 3-8 21-7 9 1zM3140 1735l9-8 13 4-7 8-11 0zM3095 1728l20-1 9 11-1 8-15 0zM3071 1730l-10 11-28 7-11-4 1-7 17-10 15-2zM2994 1726l15 2 1 10-4 7-8-1 0-9-6-6zM3146 1697l0 4-9 6-6 0-14-11-13 2-16 9-5-3 11-11 17 2 3-5 14-4 11 1zM3031 1705l5-6-2-11 6-3 17 1 13 7-10 5 0 9zM3139 1662l6-1 4 5-6 1zM3101 1653l-1 10-4 4-9 0-9-5-16 7-8-8 0-4 8-4 14 5zM3052 1651l-20 6-6 10-26-2-8-5 5-6 19 1 2-4 5 0 6 6 7-7zM3108 1657l7-9 26 3-6 4 2 6-4 3-19-2zM3105 1625l3-2 2 3zM3136 1618l9 2-5 2zM2985 1625l7-6 10 0-1-7 6-3 7 1 1 11 43-2 9-5 6 9-8 6-28 2zM3098 1610l13-2 3 7-9 3zM3001 1574l-3 4-9 0-2 6 3 3-4 3-16-2 11-14 7 1 3-5zM3159 1569l11 2-7 11-6-2 6-6zM3115 1570l16-1 1 9-13 0zM3033 1568l10 1 3 6-9 10-9-3zM3043 1535l2-4 6 0 4 6 18-6 15 7-13 1-18 9-9-5zM3019 1532l7 1-4 2zM3094 1537l9-7 22 2-4 3 3 10-5 4-16-2zM2991 1531l13 0 14 13 0 4-9 3-12-2-1-11zM3089 1508l4-7 25 8-16 2zM3248 1440l6 7 27-1-2-10-13 2-12-3zM3173 1439l0 4 8 5 14-4-12-9zM2986 1440l3 6 23 3 77-2 12 4 8-4 48 1 3-3-4-6-14-4-23 1-9 6-8-6-21-2-89 1z"/></g><path class="p" d="m1590 662-56 19 22 0 4 0 20 0 13 1 21-1 0 10 17 0-184 10 55 5 6-5 7 2 3-2 2 6 13-5 20-1 2 6 13-6 0 5 12-5 8 3 22 0 8-3 5 6 16-6-159 13 1-6 15 3 10 1 3 2 17-5 6-1 6 2 8 5 16-2 4-2 19-2 13 0 3 6 3-2 9-4 7-1 15 9 15-3-206 7 11 0 5 0 6 0 8 6 14 3 2 0 9-2 3 0 17 0 8 0 46-2 9 1 21-1 7 5 11 0 50-10-297 19 83 1 58-8 14-1 23 2 12-2 39 4 8 0 18-4 9 2 3-1 8-1 50 8 15 0-321 8 53-2 15 3 11 4 4-2 6-6 4 10 2-6 4 5 113-5 28 1 6-3 10-1 16 1 7 7-94 2 18 0 74 4 11 0 37 0-275 16 29-3 134-5 33 3 3 1 7 3-256 5 24 0 14 0 34 5 10 5 129-1 28 1 36 0 6-10 25 0-290 20 4 1 31-6 4-3 186 0 3 11 14-3 23 0 24 0-256 8 11-4 24 5 40 4 86-9 9 6 14 0 6-1 16 3 12-2-237 17 189 0 33-4 4-2 21 6 5-8 10 0-374 20 26 0 7 0 54 0 13 0 30-5 6-3 5 2 167-4 15 6 4 0 33 4 11 0 8 0 9 0 6 0-275 4 11-1 7 9 7-6 154 6 5-5 15 4 2-4-249 13 8 0 39-7 28 1 186 3 22 3 8 0 5 0 36 0-296 13 12-2 6-1 6 6 2-9 5 2 175-4 1 7 0-3 8 7 2-6 2 3-258 6 8 0 14 0 252 0 6 0 12 0 43 0-359 20 6 0 25 0 38-7 3-1 10-1 8 1 155 1 14 0 40 7 45 1 41 0-329 8 22 1 0-7 157 9 10-8 10 6 7 2 0-7-280 14 45 1 12-5 8 9 16-7 27 8 159-2 13 0 25-3 18 0 6 0-274 10 23 1 11-4 10 1 150-2 8 2 3 2 14-3 7 7 42-8 66 3-410 10 96 8 6-5 13 1 173 2 10 1 7 0 2 3 19-10 4 0 11 0 31 0 6 0-378 20 65 0 8 0 12-8 116 4 81-2 5-2 5 4 51 4 6 0 6 0 69 0-351 11 25-7 173 8 9-5 10-4-301 23 9-6 80 0 26-5 10 11 168-10 8 10 4-9 27 3 23 0 11 0 28 0-275 11 168-2 4 4-282 6 68 0 48 5 0 5 140-2 44-8 7 0 15 0 30 0-309 20 47 0 22-6 137-1 15 3 11 4-180 13 16-7 123 1 3 5 6-7 4 3-247 11 79 1 26 6 118-1 40-5 14 0-212 19 5 0 9 0 146-9 2-2 19 11 10 0 14 0-238 4 75 2 97 6 11-2-235 10 120-4 112 8 3-10 24 6-223 10 16 0 44-3 31 5 95 2 2-5-150 11 8 0 3 0"/></g><rect class="ax" x="1270.80" y="640.20" width="491.90" height="476.00"/><text x="1273.22" y="1146.90" font-size="21.30" text-anchor="middle" textLength="13.25" lengthAdjust="spacingAndGlyphs">0</text><text x="1397.85" y="1146.90" font-size="21.30" text-anchor="middle" textLength="26.50" lengthAdjust="spacingAndGlyphs">50</text><text x="1522.48" y="1146.90" font-size="21.30" text-anchor="middle" textLength="39.75" lengthAdjust="spacingAndGlyphs">100</text><text x="1647.12" y="1146.90" font-size="21.30" text-anchor="middle" textLength="39.75" lengthAdjust="spacingAndGlyphs">150</text><text x="1256.22" y="1102.56" font-size="21.30" text-anchor="end" textLength="26.50" lengthAdjust="spacingAndGlyphs">10</text><text x="1256.22" y="1004.22" font-size="21.30" text-anchor="end" textLength="26.50" lengthAdjust="spacingAndGlyphs">15</text><text x="1256.22" y="905.87" font-size="21.30" text-anchor="end" textLength="26.50" lengthAdjust="spacingAndGlyphs">20</text><text x="1256.22" y="807.52" font-size="21.30" text-anchor="end" textLength="26.50" lengthAdjust="spacingAndGlyphs">25</text><text x="1256.22" y="709.18" font-size="21.30" text-anchor="end" textLength="26.50" lengthAdjust="spacingAndGlyphs">30</text><path class="tk" d="M1273.22 1116.20v7.29M1397.85 1116.20v7.29M1522.48 1116.20v7.29M1647.12 1116.20v7.29M1270.80 1094.56h-7.29M1270.80 996.22h-7.29M1270.80 897.87h-7.29M1270.80 799.52h-7.29M1270.80 701.18h-7.29"/><text x="1516.75" y="628.30" font-size="25.60" text-anchor="middle" textLength="368.50" lengthAdjust="spacingAndGlyphs">max_hand_reach vs Difficulty</text><text x="1516.75" y="1175.10" font-size="21.30" text-anchor="middle" textLength="177.00" lengthAdjust="spacingAndGlyphs">max_hand_reach</text><text transform="translate(1217.40 881.20) rotate(-90)" x="0" y="0" font-size="21.30" text-anchor="middle" textLength="93.50" lengthAdjust="spacingAndGlyphs">Difficulty</text><g clip-path="url(#c7)"><g transform="scale(.5)"><path class="s" fill-opacity="0.210" d="M3764 1984l-4 7 4 9 12 3 7-4 3-8-4-7-6-3zM3771 1942l-9 6-1 8 5 6 9 2 9-6 1-8-5-6zM4518 1902l-9 6-1 8 5 6 9 2 9-6 1-8-5-6zM3845 1863l-9 6-1 8 5 6 9 2 9-6 1-8-5-6zM3764 1866l-4 7 4 9 12 3 7-4 3-8-4-7-6-3zM3764 1827l-4 7 4 9 12 3 7-4 3-8-4-7-6-3zM3845 1784l-9 6-1 8 5 6 9 2 9-6 1-8-5-6zM4562 1745l-9 6-1 8 5 6 9 2 9-6 1-8-5-6zM3945 1745l-10 5-2 8 4 6 11 3 10-5 2-8-4-6zM4609 1711l-2 9 9 8 9 0 8-8-1-7-8-6zM4605 1666l-9 6-1 8 5 6 9 2 9-6 1-8-5-6zM4608 1627l-10 5-2 8 4 6 11 3 10-5 2-8-4-6zM3960 1594l0 10 9 6 11-1 7-7-1-8-9-6-11 1zM3844 1548l-9 6-1 8 5 6 9 2 9-6 1-8-5-6zM4608 1509l-9 6-1 8 5 6 9 2 9-6 1-8-5-6zM4578 1509l-8 5-2 8 7 8 8 1 8-5 2-8-7-8zM3957 1514l0 12 9 5 13-1 7-7-1-8-6-5-13-1zM4557 1431l-7 6-1 6 6 8 11 1 7-6 1-6-6-8zM4458 1396l-2 9 9 8 9 0 8-8-1-7-8-6zM4602 1472l-55-2-10 6-9-6-68-1-10-7-14 5-12-14 59-1 9-3 26 2 6-4 2-8-8-8-74-1-11-11-11 2-9 9-13 0 1-10-4-6 12-2 7-7-1-8-9-6-18 4-10-4-43 1-10 7-7 0-11-8-21 0-11 6-14-6-12 10-10-9-8-1-10 9 2 8 7 6-3 11-5 2-7-2 5-8-1-10-24-15-18 3-13-4-11 8-5-8-10-2-11 10 4 11 10 2 12-9 17 16 18 1 7 7-17-1-15 4-55-4-6 4-29 0-10 5-2 8 4 6 31 3-1 11 3 4-64 3-9 6 0 10 22 9 36 2 10-4 4 10 6 4-31-2-6 3-53 2-8 8 4 10 9 3 38 0 3 4-2 9-7 4-48 0-9 5-2 8 11 9 87 1-6 16-66 1-9 6-1 8 10 8 41 0 15 12 8-1 6-6 10 7-38 5-31 0-15-4-10 8-10-4-20 1-7 7 1 8 6 5 20 1 10-4 7 4 28 2 3 10-10 5-58 0-12 9 2 8 10 5 66 2-5 4-3 11-30 3-23-2-10 6-1 8 11 8 22-2 10 5 44-2-2 8-8 7-40 1-6 3-19-3-9 6-1 8 10 8 19-3 36 5-8 14-36 2-6 4-2 8 8 8 34 1 26 7-13 10-60 1-10 8 1 8 6 5 36 1 6 9 13 7-64 1-11 3-4 6 2 8 6 4 66 2-1 15-56 1-9 6-1 8 10 8 67 1 2 15-81 2-10 10 3 8 7 4 58 0 16 10 11 1-10 5-78 1-10 8 5 12 17 0 14 8 24-6 15 2-1 6-11-2-9 10-42 1-8 5-2 8 10 9 57 2-1 15-58 3-5 6 5 12 35 2 9 5 13-4 32 0-2 9-14 5-16-2-23 9 0 12 19 7 0 14-30-3-8 4-31 0-9 7 0 8 6 6 34 1 9 6 11 0 8 6-1 3-72 3-10 9 4 10 38 4 369-1 10-6 1-8-7-7-53-4 4-12 50-3 7-5 20 4 8-8-2-8-10-5-16 5-7-6 3-5-2-7 53-4 8-6 1-8-9-8-60-1 0-8-5-6 55-2 10-8 6 6 9 2 10-8-1-8-6-5-7-1-11 7-8-8-37 0 2-8 24-9 60-2 5-7-2-8-8-5-26 0-3-2 1-11 7-4 43 0 9-6 1-8-10-8-24 0-3-15 75-3 8-8-4-10-19-3-11-13-10 2-5 10-50 0 0-16 52-2 6-4 2-8-4-6-10-3-27 0-8-4-20 2 10-14 24 2 51-6 4-6-4-10-7-3-48-1-3-14 70-4 5-6-5-12-36-3 7-5 3-9 4-3 38-3 16 2 6-5 1-8-11-8-12 3-32-3 4-14 42-6 17 3 10-9-2-8-8-5-17 3-23-7-24 3-6-13 78-3 9-4 24 5 8-3 5-8-2-6-9-6-17 0-9 4-9-4-78-3 0-5 9-9 108-1 10-5 2-8-12-9-99-1-10-8-9-2 1-5 103-3 5-12-10-8-31 0-7-3-43 2-13-3 5-12 40-3 42 2 9-6 1-8-10-8-42 2-61-3-7-14 89-2 16-5 15 4 10-6 10 6 8-1 7-12-10-9-15 6-10-6-15 4-16-5-67 0 0-14 81-2 11-8-1-8-10-6-75-1 5-15 52-1 9-6 10 6 50 0 10-8zM4309 2123l-3 9-10 5-10 0-4-4 5-6 14-5zM4346 2008l18-4 5 15-8 0zM4351 1974l1 5-3 1zM4367 1927l4 12-10 2-2-7zM4041 1887l7-1 7 8zM4409 1809l23-2 3 10 8 5-8 1-11-10-8 1-7 6zM4453 1782l-40 0 9-6 12 0 8-7 7 4zM4045 1771l15-3 1 14-9 1zM4420 1740l11-4 2 7-9 1zM4078 1690l8 9-3 5-8-2zM4412 1543l3 1-2 3-3-1zM4099 1533l9 2-7 3zM4386 1494l20 7 15-1 3 4-33 3zM4338 1456l10 5-2 8-7-4zM4265 1422l-2 4-10 2 9-8zM4344 1418l4 11-8-3zM4285 1417l14-1 10 9 10 2-5 2-28-7zM4381 1412l4-3 5 2z"/><path class="s" fill-opacity="0.241" d="M4346 2140l-7 11 5 6 9 1 7-11-5-6zM4392 2062l-7 10 5 7 8 1 7-10-5-7zM3771 1982l-7 5-1 8 12 7 7-5 1-8zM3770 1944l-7 10 5 7 8 1 7-10-5-7zM4517 1904l-7 11 5 6 8 1 7-11-5-6zM3844 1865l-7 10 5 7 8 1 7-10-5-7zM3771 1864l-7 5-1 8 12 7 7-5 1-8zM3771 1825l-7 5-1 8 12 7 7-5 1-8zM3844 1786l-7 10 5 7 8 1 7-10-5-7zM4561 1747l-7 10 5 7 8 1 7-10-5-7zM3943 1747l-7 11 5 6 9 1 7-11-5-6zM4618 1708l-7 5-1 7 12 7 7-5 1-7zM4604 1668l-7 10 5 7 8 1 7-10-5-7zM4606 1629l-7 11 5 6 9 1 7-11-5-6zM3966 1591l-5 6 5 10 8 2 9-5 1-8-4-5zM4582 1550l-7 10 5 7 9 1 5-4 1-8-6-6zM3843 1550l-7 11 5 6 8 1 7-11-5-6zM4607 1511l-7 11 5 6 8 1 7-11-5-6zM4577 1511l-5 4-1 8 6 6 7 0 5-4 1-8-6-6zM3958 1518l7 11 11 0 7-6 0-6-7-6-11 0zM4539 1479l2 7 9 5 44 0 11-8-1-6-10-6-44 0zM4560 1432l-7 5-1 7 11 7 7-5 1-7zM4467 1393l-7 5-1 7 12 7 7-5 1-7zM4156 1400l1 7 16 11 16 0 12 8 10-1 7-10-5-11-13-3-7-8-7 0-6 5-17-5zM4517 1433l-15-1-6 4-17-5-26 2-11-2-9-10-9 1-9 9-19 0 1-12-6-5-10 2-3-3 8-8 10 6 13-1 5-10-7-7-11 0-10 6-11-7-28 0-28 9-11-8-20-1-12 7-17-6-9 11-11-10-9-1-6 6 1 8 8 8-6 14-105 2-13-3-7 4-31 0-7 7 1 6 6 5 31 0-5 11 6 8-66 2-10 6 0 8 6 5 45 5 17-3 7 12 10 3-41 0-59 6-3 4 3 10 49 5-1 13-8 4-51 1-7 7 5 10 92 3 3 4-9 14-66 1-8 5-1 8 9 7 41 0 12 11 7 0 12-8 8 11-37 5-48-3-12 10-11-7-13 0-10 8 1 6 9 6 13 0 11-7 10 7 27 1 5 10-3 6-70 3-7 7 5 10 83 4-1 3-13 1-4 13-34 4-23-2-7 6 2 9 5 3 22-2 11 5 47 0 0 7-12 9-39 1-9 5-15-5-10 6 0 8 10 6 15-5 9 5 33 3 24-2 1 15-14 2-3-8-9-4-13 13-36 3-3 10 7 6 55 4 9 8-9 0-9 8-59 1-10 7 0 6 6 6 36 1 7 10 18 8-75 2-8 6 1 8 7 4 68 2-4 17-56 1-10 6-1 6 11 8 67 1 2 16-83 3-7 5-1 8 8 7 65 1 7 8 14-1 2 5-13 5-80 2-7 11 7 7 12-2 18 9 17-6 22 2-2 11-12-4-9 9-42 1-7 5-1 8 8 7 59 3-1 16-58 2-6 8 6 10 34 1 8 4 45-3 2 5-3 8-32 2-17 4-5 5 0 8 5 5 16 3-1 16-31-2-22 5-17-2-7 5-1 8 8 7 17-2 22 7 13 0 9 8-1 5-76 3-6 6 4 11 46 3 356-1 9-5 1-8-6-6-56-5 9-15 53-3 5-9-11-10 3-5-3-12 55-1 7-4 2-8-9-8-61-2 1-6-6-10 56-1 10-9-1-6-8-6-19 3-21-3 5-11 19-7 61-1 8-5 1-8-6-6-17 1-17-4 6-16 47-1 9-6 0-8-6-5-30-1 2-10-3-8 74-2 8-6-3-10-18-3-11-12-12 12-55-2 1-17 46-1 13-7-1-8-7-4-25 0-13-4-20 2 8-17 69-1 10-8-2-8-8-4-49-1 0-10-5-6 67-2 11-9-7-10-48-2-8-9-7 0-12 9 1-17 25-2 4 2 3 11 10 2 9-14 33-1 8-4 15 3 7-6 0-6-7-6-15 3-8-4-28-2 7-6 3-10 34-1 9-5 17 4 6-6-1-8-8-5-14 5-25-8-26 2-3-10-6-4 2-2 79-2 11-6 9 5 18 1 8-7-2-9-5-3-19 0-9 5-11-6-78-3 1-8 10-8 105-1 8-2 5-7-5-9-8-2-89 0-29-11 3-7 98-1 9-7-1-8-8-5-100-3 11-15 37-1 5-3 11 3 12-3 20 2 7-8-5-9-108-3-8-15 2-3 15 3 20-4 63 0 9-7 15 6 7-6 0-6-7-6-15 6-9-7-78-1 2-17 83-2 7-6 0-6-7-6-80-3 7-16 57-3 5-9-7-8-65-1-13-7-18 5-2-6-11-9 2-3 57 0 13-5 10 4 15-1 5-5 0-6zM4313 2122l-4 11-11 5-14 0-5-5 6-7 14-5zM4340 2011l6-6 20-2 6 16-9 2-11-9zM4354 1968l1 12-9 0-1-3zM4370 1924l3 16-14 2-2-9zM4035 1886l14-1 9 10-4 2-11-4zM4383 1846l0 13-6 4-1-15zM4459 1783l-28 2-22-3 34-15 6 2zM4417 1741l6-6 11-1 2 10-14 1zM4075 1688l6 1 8 9-5 8-13-3zM4443 1610l4 2 1 11-8-2zM4108 1574l6-2 2 5-6 1zM4406 1546l7-6 5 6zM4437 1531l4 2-1 6zM4111 1535l-14 13-4-1 4-16zM4383 1493l7-1 14 7 21 0 2 6-38 3zM4337 1454l6 0 7 6-2 10-12-5zM4342 1414l7 5 1 12-14-4zM4280 1421l6-7 13 0 9 8 15 4-11 4zM4249 1429l12-15 9 10 8 2-3 3zM4138 1391l-7 5-1 8 4 5 7 1 7-5 1-8-4-5z"/><path class="s" fill-opacity="0.317" d="M4347 2142l-4 9 4 5 5 0 4-9-4-5zM4392 2064l-3 11 9 3 3-11zM3770 1984l-5 5 0 6 5 5 6 0 5-5 0-6-5-5zM3770 1946l-3 11 9 3 3-11zM4517 1906l-4 9 4 5 6 0 4-9-4-5zM3844 1867l-3 11 9 3 3-11zM3770 1866l-5 5 0 6 5 5 6 0 5-5 0-6-5-5zM3770 1827l-5 5 0 6 5 5 6 0 5-5 0-6-5-5zM3844 1788l-3 11 9 3 3-11zM4561 1749l-3 11 9 3 3-11zM3944 1749l-4 9 4 5 5 0 4-9-4-5zM4523 1749l-5 6 7 9 7 0 5-6-1-6-4-4zM3979 1748l-5 5 0 6 5 5 9-1 4-5-1-6zM4618 1710l-4 11 8 4 4-11zM4553 1715l7 10 14 1 7-7-6-10-15 0zM4604 1670l-3 11 9 3 3-11zM4607 1631l-4 9 4 5 5 0 4-9-4-5zM3971 1635l1 8 7 4 14-1 6-7-6-9-5-1-12 1zM3967 1592l-2 12 13 2 2-12zM4583 1552l-4 10 9 4 4-10zM4558 1552l-3 11 9 3 3-11zM3843 1552l-4 9 4 5 6 0 4-9-4-5zM4607 1513l-4 9 4 5 6 0 4-9-4-5zM4578 1513l-4 10 9 4 4-10zM3965 1513l-2 12 13 2 4-5-1-6-5-4zM4542 1480l6 9 49 0 5-5 0-6-5-5-49 0zM4559 1434l-4 10 9 5 4-10zM4497 1439l7 10 11-3 0-10-11-3zM4467 1395l-4 11 8 4 4-11zM4395 1396l0 12 10 2 5-4 1-6-4-5zM4158 1401l6 10 8 1 5 5 14-1 12 9 12-7-1-10-16-5-6-8-16 5-6-6-6 0zM4485 1434l-41-1-11-10-7 0-10 9-21 0-7-14-12-2 7-12-6-10-35 0-13 8-12 1-11-9-21 0-9 7-15-7-5 3-4 10-6-1-8-10-7-1-4 11 8 7-6 17-155 3-6 6 2 8 12 3 22-2 5 3-9 8 4 8 10-4-1-7-5-4 12-1-1 18-79 3-10 5 0 8 9 5 57 1 11 13 12-7 6 3-14 10-38-2-57 5-3 4 3 10 47 4 0 15-11 4-49 1-5 4 0 8 5 4 89 2 7 3 16-2 4 7-10 3-11-5-12 14-69 2-5 7 5 9 49 3 6 8 7 0 8-8 8 1 6 13-41 5-46-2-8 6 0 9 7 5 28 1 5 15-14 5-60 2-4 5 4 9 82 5-1 5-13 0-4 13-28 1-8 4-20-3-7 9 7 7 20-3 13 6 47 1-1 7-10 9-42 2-10 10 10 8 60 2-2 17-18 1-2-6-8-4-8 10-34 2-5 5 0 6 10 6 49 2 14 11 2 6-16-4-9 6-62 2-5 5 3 10 37 2 8 10 20 8-28 4-47 0-7 4 0 8 7 4 84 2 8 6 2 5-5 4-17-4-16 9-55 1-5 5 0 6 5 5 71 2 2 19-83 2-7 6 1 8 6 4 57 0 10 2 7 7 13-6 4 5-1 7-15 5-60 1-9 4-12-2-4 9 4 5 12-2 18 9 19-5 24 3-2 15-14-6-10 8-42 1-6 4-1 8 7 6 57 1 4 9-2 11-58 2-5 5 1 8 7 4 38 3 44-2 4 2-1 11 3 4-36 0-17 3-6 5-1 5 5 7 19 4-4 17-74 3-3 4 3 10 57 5 10 10 0 5-77 5-6 5 3 10 42 3 357-1 7-4 1-8-8-6-54-2-3-3 15-16 50-2 5-10-12-9 4-11-5-7 59-1 7-5 0-8-7-5-61-1-1-10-7-9 60-1 8-8-5-10-24 2-21-3-3-8 12-8 10 1 8-5 33 0 15-4 15 2 4-4 1-6-5-6-15 2-24-6 8-16 53-3 5-5 0-6-5-5-49-3 0-3 15-2 1-13 79-5-1-11-12-1-8-5-15 3-59-3 1-18 47-1 9-5 0-8-9-5-55-2 8-17 71-2 8-6-1-8-7-4-49-1-3-12-7-6 70-2 11-7-6-10-48-2-7-8-7 1-6 7-7 0 0-17 3-3 26-1 6 3 4 11 5 0 9-13 32-1 11-7 8 5 9-3-3-11-14 5-11-7-80-1-3-3 29-15 15 0 5 9 8 4 9-14 34-1 7-4 3-6-10-8-43-1-11-17 85-3 7-5 0-8-7-5-77-1-3-11 5-6 7-3 109-2 5-4 0-8-5-4-100-2-15-9-10 8-5-2 11-16 98-1 8-7-1-6-7-5-100-1-19-6 4-13 7 1 1 7 8 4 10-12 37-1 8-5 10 5 12-5 15 5 8-6 0-6-8-6-12 5-15-5-10 5-8-5-14 2-45-3-3-3 1-5-6-8 4-4 88 0 13-3 4-6-8-10-82-3 5-7-2-8 4-2 81-2 6-6-6-10-81-4 8-17 57-3 4-5-4-9-63-2-15-6-20 4-12-14 1-6 62-1 6-4zM4011 2161l5 2 4 14-10-11zM4027 2122l9 0-3 3zM4318 2122l-6 5 0 11-28 1-9-6 8-8 16-5zM4334 2013l10-9 23-2 9 18-13 2-13-9zM4357 1965l1 16-14 0 1-8zM4355 1932l9-8 8-1 3 2 1 15-5 3-15-1zM4374 1846l13 1-2 13-4 4-8-2zM4379 1807l-2 11-6 2 2-10zM4083 1770l6-2 1 4-6 2zM4437 1733l-1 13-21-3 7-10zM4080 1727l5 2-3 8-5-6zM4428 1693l5 3 0 10-7-1-1-9zM4063 1705l8-6 0-10 3-2 8 1 10 10-8 9zM4057 1663l10-1 2 3zM4115 1651l-2 5-7-1zM4402 1545l14-6 4 8-12 2zM4386 1533l5 1 1 12-9-2zM4435 1530l8 1 0 8 6 9-6 0-5-5zM4090 1547l2-16 14-1 7 4-13 14zM4441 1495l5-1 3 4zM4381 1493l10-2 16 7 14-3 8 5-3 9-38 0zM4381 1469l3-7 12 6zM4170 1456l7-3 5 7-6 1zM4333 1454l14 0 6 14-15 2-6-6zM4364 1429l6-4 6 3-2 3zM4334 1418l12-6 10 17-4 3-17-3-4-3zM4246 1429l10-9 3-8 12 5 28-5 15 11 13 2-8 6-29-6-12 5zM4141 1393l-8 5 5 10 8-5z"/><path class="s" fill-opacity="0.390" d="M3772 1985l-4 10 6 4 4-10zM3965 1869l-1 9 4 1 1-9zM3772 1867l-4 10 6 4 4-10zM3772 1828l-4 10 6 4 4-10zM3980 1750l-1 11 6 1 2-10zM4527 1749l-4 3 0 8 6 3 4-3 0-8zM3983 1711l-2 10 8 2 2-10zM4563 1711l-1 12 15-1-2-11zM3975 1633l-1 8 4 4 8 1 8-4-3-11zM4544 1592l-4 5 4 9 9-1 1-11zM3972 1592l-4 3 0 8 5 3 4-3 0-8zM4524 1591l-8 9 9 7 6-3 2-7zM3969 1514l-2 10 6 2 1-11zM4589 1474l-5 9 10 5 4-10zM4547 1477l3 11 17-4-2-8-15-2zM4508 1436l1 10 2-8zM4074 1436l1 11 17 1 5-3-2-10zM4482 1435l-31 1-22-10-12 7-23 0-6-4 1-5-4-4-4 2 4 6-9 4-29 1-15-4-20 3-19-5-14 4-31 1-5-4 9-8 0-7-7-5-6 4-1 13-7 6-125 2-6 5 0 5 25 10-3 16-4 3-74 1-10 3 0 10 6 3 57 1 8 9 16-6 7 3 0 5-17 10-37-2-53 4-4 3 2 10 36 1 12 4 39-2 10 7-15 13-8 1-12-14-13-2-1 12-4 3-57 3-4 3 0 8 4 3 110 3 6 9-6 8-4-4-7 3 0-5-7-2-2 8-10 4-67 2-4 10 6 5 43 1 10 5 12-4 12 1 5 14-19 5-71 0-6 6 5 10 30 2 14 12 14-1 3 7-65 6-18-2-12 6 3 7 9 3 18-2 48 4 1 7-11 2-7 11-30 2-9 9 9 8 52 1 3 2-3 9-15 9-40 2-4 10 7 5 54 1 9 3-5 7 3 6-4 4-64 2-8 4 0 8 8 4 74 3 4 3-13 5-1 11-86 3-3 3 3 11 44 4 0 7 9 1 11 9-61 4-9 5 2 6 17 4 58 1 6 3 5 10-11 6-15-2-9 4-59 3-1 11 4 2 71 3 3 17-7 4-80 1-6 5 0 6 6 5 87 2 7 8 0 7-21 5-61 2-8 8 19 10 46 0-3 8 2 8-68 4-6 4-1 6 7 6 55 1 9 10-2 9-5 3-57 2-4 6 4 8 87 3 6 18-57 4-4 5 4 9 23 5-5 5-1 12-37 0-20 6-15-4-6 6 6 10 15-4 23 7 15-1 6 2 1 6 9-7 8 0 8 14-2 5-14-1 2-6-4-1-6 8-68 2-8 3 1 11 28 3 366-1 6-5-1-8-5-3-54-2-7-6 7-2 5-9 8-4 47-1 5-4 0-8-8-5-38 0-12-6-13 2 2-6 39-11 77-1 7-5 0-6-7-5-62-2-1-11-9-7 37-2 9-4 18 3 7-7-3-8-9-2-13 4-32-7 3-7 12-9 11 2 10-5 35 0 13-7 13 5 3-11-6-3-10 5-13-7-45-2-14-3-10-9 47-7 6 3 1 8 5 0 5-10 44-5 9 2 3-3-3-11-9 2-42-6-3-5 15 0 4-6-2-5 5-3 57-2 7-3 4-8-11-6-44 2-31-3 1-19 49-2 7-4 0-8-7-4-55-2-2-4 5-7-4-5 12-4 71-2 4-8-6-7-53-2-4-12-10-5 8-3 73-2 3-2 0-10-14-4-62 0-6-3 1-14 8-5 31 0 12 6 6-6 31-1 8-5 0-6-8-5-79-1-6-3 14-15 92-5 4-5-1-6-6-4-45-2-14-16-6 2 3 5-3 9-25 0-3-2 2-13 48-5 74-1 6-6-6-10-80-2-2-17 14-4 84 0 9-4 15 2 4-4-4-10-98-2-12-7-12 6-9-3 14-17 96-1 7-5-4-10-102-2-22-5 3-13 4-3 19 3 29-6 16 2 7-7-7-9-16 2-46-4-2-10-6-7 2-3 54-3 42 2 7-2 4-9-11-7-42 2-49-3-7-4-5-13 13-3 4 13 8 3 5-15 84-4 0-12-77-3-7-3-15 2 0-6-9-6-8 12-40 0-9-9 0-8 5-3 20 6 30-5 16 1 5 12 5 1 5-5-4-5 4-4 62-4 1-11-3-2-96-3-4-3 1-4-11-10 2-4 27 0 14-5 22 3 4-3zM4023 2121l17 1-5 5-7 0zM4379 1966l5-3 7 6-7 2zM4361 1965l-1 17-21-2 12-15zM4378 1925l0 17-18 2-7-3 0-9 8-8 11-2zM4047 1846l16 1-9 2zM4392 1846l-8 18-13-2 0-16zM4384 1808l-8 14-12 1 8-16zM4091 1766l1 7-10 3-2-7zM4075 1727l12 1-4 11-8-2zM4426 1692l8 2 3 7-2 6-13-3-1-5zM4094 1697l-6 10-32-2 12-6 2-12 13 0zM4395 1664l7-7 14 1-4 5zM4119 1650l-7 8-14-2 11-7zM4381 1536l10-5 5 11 22-5 5 10-8 3-30-2-4-4zM4147 1500l1-3 11 2-4 3zM4308 1455l2 14-12-1 2-8zM4320 1453l28-1 5 4 3 12-3 3-18-1zM4400 1451l-4 6 4 14-22-2 3-11zM4137 1454l11-4 32 1 7 12-8 3-20-10-18 2zM4236 1402l-5 5 7 3 2-7zM4400 1396l-2 10 5 2 1-11zM4261 1396l-5 12 10 3 5-9zM4278 1403l2 8 25 0 10 10 11-1 11-11 14 3 5 11 11 1 7-7 4-19-3-3-12 3-19-3-9 6-1 6-22-3-9-9-17 0zM4161 1400l3 9 12 1 4 5 13-2 6 9 8 1 6-5 0-7-5-5-13-1-8-6-11 3-9-7z"/><path class="s" fill-opacity="0.480" d="M3939 2143l-2 10 7 2 4-7-4-5zM3955 1949l0 8 4 3 13-6-11-8zM4382 1929l-4 5 8 3 1-6zM4067 1733l2 4 2-3zM4563 1676l-8-6-9-1-17 4-2 6 10 5 15 1zM4548 1633l-3 7 11 4 2-10zM3980 1632l-2 10 10 2 2-10zM4424 1540l2 4 5-2zM4467 1437l1 9 12-2-2-8zM4078 1438l0 6 4 3 10-3 0-6-4-3zM4521 1476l-103-6 1-7-9-9 5-5 28 0 7-5-5-9-11-4-35 4-9-3-78 1-22-4-34 4-146 0-7 6 7 9 21 4 15-3 38 1 6 8-1 9-24 0-5 4-10 0-16-15-5 0-5 4 0 10-6 3-80 4 0 9 4 2 118 5 6 5-14 11-10-11-9-2-3 8-19 8-37-2-51 6 0 8 8 3 21-2 18 5 34-2 18 4-4 8-17 10-12 0-11-12-6 0-4 11-37 3-14 6 2 4 12 4 86 2 5 3 2 9-7 9-95 3-4 4 4 10 49 4 20-2 13 4 1 11-4 5-84 2-7 4 1 7 6 4 35 3 7 6 16-4 1 10 5 5-63 4-8 4-18-3-7 5 0 4 7 5 18-3 8 4 34 0 11 4 21-3 13 10-2 7-7 5-43-3-8 4-26 1-6 6 1 6 5 3 78 3-1 9-8 8-20-2-14 5-35 1-4 3 2 10 65 5 18-2 4 6-14 13-23 3-25-2-36 6 0 8 8 3 74 3 7 3-2 4-10 2-8 12-70 2-12 6 5 6 40 7 15-3 22 2-9 6-18-3 7 12-3 4-57 4 1 11 70 4 6 9-3 9-63 3-23 7 2 4 14 4 65 4-7 5-1 13-57 3-10 4 0 8 9 4 56 1 10 9 3 9-86 6-2 11 8 4 37-1 15 3-3 9 2 7-73 7 1 11 54 2 13 7 13 0-1 8-11-2-1 7-6 3-58 3 0 12 84 3 5 4 4 15-56 3-6 6 6 10 40 1 8 4-9 7-8 0-10-6-5 5 2 9-4 2-38 0-12 5 0 8 4 3 53 4 9 15-2 4-93 3-6 4 3 9 56 3 289 0 46-4 1-8-4-4-54-2-12-3-7-6 11 0 17-13 50-2 4-3 0-8-7-4-66-3 6-10-1-6 119-6 0-12-67-4-3-2 2-10-9-6 41-3 10-6 8 5 10-1 4-6-4-7-10 0-8 5-10-6-26-2 3-11 12-9 63-3 4-3 0-8-8-4-71-2-1-16 41-5 63-1 8-6-3-5-45-7-4-18 68-2 21-6-5-10-99 0-12-4 1-11 10-8 77-3 3-3-3-9-57-3-11-20 85-2 10-5-4-10-59-3-3-10-13 10-15 1-5-17 6-4 101-3 2-10-5-3-74-3-3-2 3-6-3-8 13-6 40 3 29-8 12 3 0-12-12 3-16-5-52 0-12-4 9-5 9-12 85-2 9-4 0-8-4-3-41-1-10-3-3-8-9 10-35-3 4-6-1-7 3-3 112-3 15-4 0-8-4-3-83-4 0-19 59-2 10-4-1-9-41-3-12-5-12 4-13-3 14-18 53-1 17-4 3-9-103-8 7-5 5-12 44-1 9-5 13 4 5-6-5-8-13 4-9-5-40-1-5-3 1-8-6-5 1-5 56-4 44 2 8-4 0-8-8-4-44 2-58-6-11 3-38-1-3-3 1-14 4-2 11 1 5 9 40-13 13 11 6-9 60-1 12-3 4-7-14-6-78-1-6-8-7 8-43 0-12-12 2-6 8-4 28 4 8-3 98-3 3-2zM4291 2098l-13 3-10-4 18-4zM4365 1964l-4 7 2 11-14 2-14-4-1-3 16-13zM4389 1809l-11 15-19-1 13-18 11 0zM4415 1699l5-4 0-5 8 0 8 4 4 11-15 3zM4389 1662l10-7 20 2-9 9-15 1zM4305 1658l2-4 7 1-3 5zM4374 1649l11 3 0 9-7 5-6 0-6-11zM4426 1650l9-2 2 3-8 3zM4123 1651l-9 8-25 0 18-11 9-1zM4124 1619l10-1-3 4zM4401 1571l9-1-4 4zM4289 1466l18-15 43-1 7 5 2 14-6 3-26-3-1-8-7-5-5 1 2 7-7 8-16-2zM4375 1454l11 1 15-6 1 16 11 4-33 3-4-3zM4243 1415l2 7 1-6zM4199 1408l0 11 10 0 1-8zM4312 1408l8 11 10-7zM4181 1404l4 5 6-1-5-5zM4340 1400l0 6 14 5 4 10 9 0 8-13-3-7-16 0-6-4zM4281 1403l5 7 21-2-4-9-15-3z"/><path class="s" fill-opacity="0.596" d="M4362 2065l-3 7 7 5 4-3-1-7zM3994 1672l-2 8 4 2 1-9zM4558 1676l-4-5-14 0-5 8 15 5zM4048 1478l-3 4 6 4 3-5zM4405 1459l2 4 5-1-2-4zM4502 1478l-17 0-8-4-103-3-4-10 1-10 18 0 7-4 14 3 6-4 25 2 4-3 0-7-9-5-40 3-7-3-43 2-56-4-19 3-159 0-6 6 6 7 18 3 56-1 16 10-8 3 2 4 6-1 1-6 9 0 3 4 6 0 2 6-70 4-12-4-8-10-4 0 0 10-6 4-52 1-12 5-2 5 5 3 105 6 3 7-18 11-6-1-2-6-8-4-5 6-21 7-51 0-6 9 7 5 65 2 3 2-3 10-23 10-30-2-22 5-14-1-7 4 0 4 7 4 81 2 10 8-1 8-7 7-96 5 1 9 86 5 1 6-7 13-87 4-3 5 3 6 49 6 50-3 8 2 3 7-1 4-36 4-9 5-63 2-5 4 0 6 5 4 66 1 18 12-6 9-8 3-44-1-31 3-4 4 0 6 5 3 73 1 5 3-5 17-70 4-7 4 3 9 79 2 6 2-1 11-15 9-33 3-15-3-29 6 0 6 4 3 74 3 8 4-4 7 2 9-7 0-6-5-9 8-50 1-19 4 2 8 28 4 37-1 12 2 2 6-26 4-3 4 4 4-9 3-22 0-11 4-15-2-6 3 0 6 6 3 15-2 11 4 36 1 20 18-87 7-3 7 10 5 67 4-12 12-1 7-44 5-18-2-7 5 1 6 6 3 55 1 21 10-9 12-79 3-5 7 2 5 62 4 3 6 15 6-10 7-41 1-27 6-1 5 11 5 53 5-1 14-14 5-47 3-9 7 5 4 22 3 52 1 9 10-2 10-57 3-5 9 5 5 60 5-5 6-8-1-11 12-60 2-10 5 0 6 9 5 39 0 13 4-2 6 10 12-99 4-5 4 3 7 36 3 310 0 39-4-2-10-73-6-2-9 15 0 11-10 56-5-2-10-73-4 7-9 1-9 111-6 5-6-16-6-90-3-2-4 18-6 21 6 3-7-18-5 2-4 47-1 8-3 3-6-6-6-32-4 15-19 64-3 6-4 0-6-6-4-72-2-23-9 5-3 7 2 5-8 10-3 99-3 4-7-4-5-41-3-7-17-5 0-4 6 5 9-10 4-22-2-24-12 7-6 16 7 20-11 90-1 16-7-3-6-103-2-8-4 5-18 57-2 13-6 0-4-8-5-37-3-10-19 95-6-2-10-32 0-31-5-25 3-6-4-5-15 12-4 92-1 8-4 0-6-8-4-70-2-5-3 1-7-13 10-23-3 8-6 2-9 5-4 77 0 21-6-3-9-73-4-3-3 8-3 9-12 92-4 6-3 0-8-12-4-86-1-4-2 3-10-2-7 98-6 22 2 12-4-2-8-11-2-21 2-101-6 3-8 11-3 3-7 20 3 10 13 2-5-3-5 4-8 64-3 4-4-4-8-46-4-22 2-13-4 5-8-30 11-21-3-16 3-14-11 2-8 26-1 8 6 4-4 26-3 23 3 14-5 37 1 19-4 3-5-9-6-86-3-6-5 11-2 2-10 6-4 44-1 7-5 0-4-7-5-60-3 0-9-4-3-22 0 7-9 9 0 9 6 15-7 52-3 45 2 6-4-3-9-156-3-4-9 2-10 17-2 12 8 5-5 26-6 11 3 70-2 8-4 0-7-6-3-133-1-10-3-5-11 8-9 87 0 18-5 13 2 6-4zM4062 2096l7 2-6 1zM4073 2085l-2 3-3-2zM4311 1886l13 3-8 4zM4061 1861l5-2 3 3zM4309 1807l0 10-7 3-4-8zM4348 1772l6 2-4 6zM4238 1728l12-1 1 3-5 2zM4272 1659l6-1 1 3-5 2zM4316 1652l-3 9-10-2 3-6zM4352 1623l7 3-6 1zM4147 1622l19 5-15 1zM4120 1618l13-3 9 6-13 3zM4417 1613l1 10-15-2 1-5zM4149 1577l9-2-4 4zM4375 1586l1-16 5 0 3 6 11 2-6 6zM4343 1531l5 2 2 10-12-3zM4215 1501l1 4-5 1zM4331 1492l14-2 4 3-11 6zM4274 1458l1 4-8 5 1-7zM4248 1453l-11 10-6-1 8-11zM4361 1454l1 16-8 3-17 0-17-5-9 5-28-4 9-13 16-7 41-1zM4370 1405l-7-1-6 4 4 11 5-1zM4295 1399l-5 1 1 8 7-5z"/><path class="s" fill-opacity="1.000" d="M4368 1970l2 5 2-4zM4433 1952l5 6 12-3-4-7zM3993 1947l-6 8 10 4 5-7zM4508 1715l6 8 14-3-3-8-9-1zM4546 1672l-3 7 6 3 1-9zM4423 1615l-1 3 4 1zM4500 1555l2 9 32-2-2-8zM4421 1438l7 9 14-3 0-5-7-5-9 0zM4477 1476l-219-5-4-3 18-16 45-5 35 0 14 4 23-2 12-7-13-8-46 2-56-3-171 3-1 7 4 3 89 3 9 3 3 7 8 0 7-9 12-1 6 5-5 9 1 7-12-3-7 5-70 2-25-4-14 5-47 0-5 3 0 6 8 4 115 2 3 3-17 5-4 7-19 7-87 1-10 5 0 4 8 5 62 1 10 3 2 4-10 2 6 8-6 3-75 6-3 5 7 6 65 2 7 5-1 13-8 6-74 3 0 10 62 3 10 6 15-3 8 7 12 1 17 9-19 3-25-3-15-6-4 8-81 6 2 7 16 3 72 0 20 5-5 4 3 6-2 7-14-3-46 6-54 1-3 3 3 9 65 1 15 6 12 0-2 8 5 4-2 5-98 7 0 6 6 3 72 2 4 3-1 12 17-2 1-3-5-2 2-6 12 1 1 4-5 5 4 8-101 5-7 4 0 4 7 4 72 1 9 3 0 13-9 7-42 4-21-2-14 4 1 7 14 3 46 0 24 4-8 8 1 12-73 3-6 4 0 5 17 5 45 0 11 5 11-1 11 7-19 9-68 4-10 6 10 8 63 4-4 4 7 11-3 4-84 3-7 5 7 7 70 4-13 14 13 6-53 3-8 3-2 6 10 5 40 2 14 11-12 11-58 2-25 7 4 5 56 2 32 15-2 4-15 3-63 3-6 4 3 7 56 5 6 4-3 9 8 4 6-5 12-1 8 4-3 5-13-3-14 4-52 3-7 5 3 6 52 2 10 6 22-4 5 3 3 9-8-2-9 11-70 4-2 7 4 4 56 2 14 4-8 8-15 1-9 9-67 3-4 7 8 6 38 0 33 6-6 4-2 14-85 4 0 10 325 2 30-4 0-6-69-6-4-12 15-3 13-8 47-3 4-3-2-7-65-3-13-4 11-2 4-4-1-9 5-3 105-5 0-8-99-6-4-9 4-5 17 4 7-4-1-4 4-3 53-2 4-4-4-8-40-6 11-7-2-6 5-5 73-4 4-3 0-6-4-3-102-5-3-10 21-3 5-5 106-6 0-8-40-5-24 3-46-6 6-4-1-8 7-5 21 2 18-5 43 1 22-3 5-4-9-7-73-4-2-2 6-7 1-12 61-2 9-6-8-8-29 0-12-6-9 3 2-12-16-7 84-6 23 1 4-4-4-6-86-3-12-12-10 2-3 8-12 0 2-9 16-10 118-5 3-7-6-4-105-2-6-7 17-17 80-1 13-4-3-8-52-1-22-4 0-7 9-5-6-7 107-4 6-5-5-7-93-2-6-8-5 0-4 7-20-3 10-11 0-5 112-6 4-7-7-4-85-2-9-3 5-9 19-11 26 2 12-4 50-3 2-6-11-4-66-4-62 2-14-6-2-14 11-3 134-1 11-2 3-5-2-5-104-5-7-8-5 0 12-11 75-5 1-9-60-4-13-10-7 3 0 5-45 0 0-3 7 0 5-5 0-11 111-5 5-3 0-6-20-4-87-1-8-5 3-15 5-3 35 2 23-6 21 4 59-2 7-3 0-6-5-3-130-1-14-3-5-11 6-9 13-3 88 0 5-5zM4076 2167l4 3-1 4-4-2zM4070 2163l1-4 9 1-5 8zM4112 2133l10-1 2 5-4 2zM4224 2123l3-4 21 2-14 5zM4166 2088l8-3 2 4-5 2zM4263 2044l1-3 6 2zM4052 2043l6-2 11 6-8 2zM4237 2008l5-2 3 5zM4274 1974l14-3 5 8-18 0zM4076 1974l11-7 7 1 0 9-4 5-8-1zM4076 1942l6-4 7 3zM4265 1939l7-2 3 5-7 2zM4327 1923l2 3-5 3 5 7-3 6-13 2-2-3 6-5-1-5zM4298 1887l11-4 19 2 2 15-15 4-8-8 2-4zM4228 1862l4-2 3 3zM4263 1846l11 1-5 3zM4233 1820l6-2 3 4-6 2zM4339 1808l7-3 5 7-11 2zM4285 1824l9-6 1-12 11-2 9 2-1 15 15-1-3 5zM4106 1776l17 0 3 4-10 4zM4380 1771l-19 4-8 10-7 0-8-11 8-8 23-2zM4347 1737l6-1 2 6zM4356 1729l14-1 2 3-8 4zM4234 1728l15-3 9 2 2 4-5 4 1 6-9 3-2-9zM4329 1690l4-1 2 4-4 2zM4383 1687l4 1-2 6-5-1zM4270 1689l21-2 14 3-9 6 4 6-8-2-8 4 1-6zM4176 1688l14 6-1 10-7 0-10-7zM4115 1689l11-2 4 6-9 2zM4329 1653l11 3-2 10-8-1 2-5zM4247 1652l7 5-4 11-7-1-6-6 6-2zM4284 1651l1 13-15 3-4-11 10-6zM4321 1649l3 3-10 13-7 1-5-4-1-7 4-4zM4318 1625l4-5 5 1-3 5zM4302 1626l-11 2-11-7 16-6zM4342 1616l10-5 8 4 5-4 8 1-11 9 3 5-3 3-12-1zM4334 1609l-3 7-5-2 1-4zM4285 1584l6-3 4 6-7 2zM4322 1577l8-2 3 4-8 3zM4339 1570l1 3-5 2-1-3zM4144 1572l16-2 3 6-16 10zM4321 1569l2 2-7 10-8-1 5-10zM4144 1545l5-4 13 2-3 6zM4333 1538l7-9 9 0 17 18-21 1-10-4zM4256 1531l9-2 2 3-8 2zM4309 1509l5-3 4 2zM4200 1505l18-9 17 10-27 4zM4295 1492l-10 4-1 7-9-4 9-9zM4325 1493l6-4 17 0 4 8-10 7 0 4-11-1-5-3 3-7z"/></g><path class="p" d="m2156 662-64 20 20-1 12 0 47 0 18 0 5 1 4-1 9 0-110 8 2 2 7 3 40-3-130 10 25 0 4 0 6 0 6 0 3 0 16 0 15 0 21 0 11 0 1-4 10 10 6-6 19 0 2-4 31 10 3-5 12 2 13 2 1-5 19 0 17 0 12 0 3 0 12 0 17 0 7 0-254 11 7 4 25-6 13 5 7 0 5-4 6-1 9 7 8-4 3 2 2-4 11-2 2 4 5 1 12-5 3 7 13 0 13-7 24 2 33-3-238 13 5 10 5-10 6 6 13-3 14 3 27 0 66 3 14 1 4-6 27 3 16 0 2 3 2-5 29-5 14 0 29 0 6 0 13 0-397 19 95 1 45-5 119-1 19 0 38-1 38 7 46 0-388 7 87 4 4 1 18-4 2 6 6-8 22 2 128-5 5 2 1 9 1-5 15-2 9 1 4 6 11-2 2-9 6 9 26-4 8-5-282 16 7 0 25 3 10 3 16-1 1-9 185 9 12-1 6 1 25-5 51 0-329 10 20 4 22 3 1-9 145 6 1-6 8 6 2-6 12 2 8 3 11 4 18-4-291 7 24 0 28 3 7 2 17-2 8 2 7 4 2-6 173 4 17 1 4-2 6-3 20-1 24-2 24 0 15 0 6 0-366 20 14 0 10 0 11 3 31-10 177 0 14-1-215 20 24-5 1 6 173-7 25 6-320 7 54 0 24 0 227 8 15-2 18-1 14 3 10-8 7 0 45 0-414 20 17 0 28-6 3 6 8 0 55-6 22-4 99 2 49-3 20 5 14-1 26 0 30 7 36 0-334 5 10 3 6-2 6 0 21 1 173 4 25-8 5 7 34-2 7-3-360 15 58 0 31-7 6 10 197-7 14-3 15 10 13 1 16-4 44 0-379 13 71-6 4 0 1 6 9-7 3 5 184 2 9-5 9 1 59-1-401 11 54 0 21 0 6 0 12 0 20 0 2-2 8 7 17 0 3 1 187 3 7-1 17 1 16-9 15 0 6 0-391 20 64 0 16 0 26 0 31-8 6 1 13-2 164 3 62 6 8 0 9 1 10 0-302 6 34 1 157 4 1-5 22-2 35-2-290 17 22 0 9 0 49-6 178 10 40-4 7 0 3 0-317 14 4 0 24-3 42 1 6 2 170-8 11 0 12 3 4 6 3-2-333 16 91-10 5 7 31 3 11-6 187 1 27-5 20 0 33 0-405 20 37 0 34 0 17 0 5 0 25-9 5 6 12-6 4 1 175 2 18-1 8 7 5-7 1 7 4 0 7 0 8 0 44 0-409 10 121-2 4 5 169-3 2-4 16 5 3-5 5 3 18 4 1-6 5 3 58-1-402 7 21 10 16-6 6 0 38 0 210 6 6-10 63 4 45 0-405 9 124-1 2 8 2-6 6 1 152 5 7-2 18 1 7-7 27 3-315 13 14-5 11 10 60-6 7 2 159 5 10-3 3 3 0-4 27 3 22-10 25 0 3 0 19 0 12 0-402 20 17 0 62 0 18-3 27-4 173 1 29 2 4 4-225 15 1-10 2 5 7-6 6 9 157 0 2-4 9-2 7 8 1-6 91 4 0-7-388 14 19-1 29 0 36 1 32 5 19 0 166-5 13 0 65 2 9-3-371 20 81 0 10 0 14-10 11 3 5 2 136 1 13-6 8 0 15 10 8-6 70-4-272 17 13 1 122 2 10-5 6 7 9-3 110-8-386 19 10 0 21-6 36 6 7 0 187-4 19-3 2 7 11 0 68-7-261 22 5-9 9 9 10-1 124 1 6-9-198 14 227 0 20 0 50 0 26 0 32 0"/></g><rect class="ax" x="1864.20" y="640.20" width="491.90" height="476.00"/><text x="1886.56" y="1146.90" font-size="21.30" text-anchor="middle" textLength="13.25" lengthAdjust="spacingAndGlyphs">0</text><text x="1980.15" y="1146.90" font-size="21.30" text-anchor="middle" textLength="26.50" lengthAdjust="spacingAndGlyphs">10</text><text x="2073.74" y="1146.90" font-size="21.30" text-anchor="middle" textLength="26.50" lengthAdjust="spacingAndGlyphs">20</text><text x="2167.33" y="1146.90" font-size="21.30" text-anchor="middle" textLength="26.50" lengthAdjust="spacingAndGlyphs">30</text><text x="2260.93" y="1146.90" font-size="21.30" text-anchor="middle" textLength="26.50" lengthAdjust="spacingAndGlyphs">40</text><text x="2354.52" y="1146.90" font-size="21.30" text-anchor="middle" textLength="26.50" lengthAdjust="spacingAndGlyphs">50</text><text x="1849.62" y="1102.56" font-size="21.30" text-anchor="end" textLength="26.50" lengthAdjust="spacingAndGlyphs">10</text><text x="1849.62" y="1004.22" font-size="21.30" text-anchor="end" textLength="26.50" lengthAdjust="spacingAndGlyphs">15</text><text x="1849.62" y="905.87" font-size="21.30" text-anchor="end" textLength="26.50" lengthAdjust="spacingAndGlyphs">20</text><text x="1849.62" y="807.52" font-size="21.30" text-anchor="end" textLength="26.50" lengthAdjust="spacingAndGlyphs">25</text><text x="1849.62" y="709.18" font-size="21.30" text-anchor="end" textLength="26.50" lengthAdjust="spacingAndGlyphs">30</text><path class="tk" d="M1886.56 1116.20v7.29M1980.15 1116.20v7.29M2073.74 1116.20v7.29M2167.33 1116.20v7.29M2260.93 1116.20v7.29M2354.52 1116.20v7.29M1864.20 1094.56h-7.29M1864.20 996.22h-7.29M1864.20 897.87h-7.29M1864.20 799.52h-7.29M1864.20 701.18h-7.29"/><text x="2110.15" y="628.30" font-size="25.60" text-anchor="middle" textLength="352.88" lengthAdjust="spacingAndGlyphs">std_hand_reach vs Difficulty</text><text x="2110.15" y="1175.10" font-size="21.30" text-anchor="middle" textLength="163.88" lengthAdjust="spacingAndGlyphs">std_hand_reach</text><text transform="translate(1810.80 881.20) rotate(-90)" x="0" y="0" font-size="21.30" text-anchor="middle" textLength="93.50" lengthAdjust="spacingAndGlyphs">Difficulty</text><g clip-path="url(#c8)"><g transform="scale(.5)"><path class="s" fill-opacity="0.210" d="M938 3172l-6 7 1 8 8 6 9-1 6-7-1-8-8-6zM489 3131l-6 4-2 8 4 6 10 2 6-4 2-8-4-6zM967 3091l-8 6-1 7 8 8 9 0 8-6 1-7-8-8zM398 2974l-10 5-2 8 4 6 11 3 10-5 2-8-4-6zM409 2855l-9 6-1 8 5 6 10 2 9-6 1-8-5-6zM979 2697l-9 6-1 8 5 6 9 2 9-6 1-8-5-6zM207 2619l-8 8 0 164 4 17-4 11 0 561 8 8 10 0 8-8 0-561-4-8 4-20 0-164-8-8zM870 2579l-8 5-2 8 7 8 8 1 8-5 2-8-7-8zM624 2580l-8 6-1 10 8 7 9 0 7 14-37 2-9 9 11 20 15 8-57 2-10 8 5 12 36 3 4 4-6 8-15-2-7 5-40 1-11 9 2 8 6 4 30 2 6 15-44 3-7 7 1 8 9 6 41 1-2 14-71 2-9 8 1 8 8 6 37 1 8 7 21-6-1 12-16-2-20 5-49 1-7 9 4 9 6 3 47 0-3 11-14 6-64 1-9 9 5 11 18 2 1 10 5 6-14 2-6 5-1 8 7 7 104 4 4 6-1 8-66 1-11 9 2 8 9 5 59 1 8 14-17-5-11 7-26 1-8 8 2 8 6 4 29 1 7 11 10 4-2 2-56 0-10 8 1 8 9 6 55 0 3 12 6 4-71 2-9 6-1 8 10 8 47 0 29 13 14-1 0 4-43 1-11 8 1 8 13 6 10 13-21 7-4 11 10 8 29 1 4 15-30 2-8 6-16-6-10 6-1 8 11 8 16-6 8 6 40 2-6 14-28 1-10 12 6 8 23 3 21 14-27 2-12-3-14 5-5 12 10 8 46 1 11 14-19-1-34 7-15-3-7 5-2 8 9 9 13-3 33 5 2 7-10 8-29 2-5 6 1 8 10 6 37 1 1 4-6 11-54 2-6 5-1 8 10 8 30 1 319-1 10-8-5-12-43-6-13 2-10-9 8-5 34-3 5-6-1-8-15-12-10-2 2-7 39-2 9-6 1-8-10-8-52-1 0-4 11-12 50-1 11-10 6 8 10 2 9-6 1-8-5-6-10-2-11 10-11-10-21-5-31 4 0-9 5-5 19 5 10-6 40-4 4-6-4-10-44-4-6-12 3-3 61-1 8-6 1-8-9-8-68-1-1-8 6-8 74-1 9-6 1-8-7-7-17-3-24 3-46-2-2-4 15-11 66-1 10-9 5 6 11 3 10-5 2-8-12-9-11 3-5 6-10-9-64-1-7-7 2-4 15 4 11-9 44 0 10-8-1-8-9-6-65-2 8-3 8-12 19 0 5 9 10 2 13-12 18-4 17 4 13-2 5-12-7-7-28 3-12-5-45 0-7-12 7-3 88-2 7-8-7-12-62-2-3-14 71-2 9-9-2-8-7-5-42 0-8-4-34 3-3-9 6-7 85-1 9-6 1-8-7-7-42-1-14-12-10 1 0-5 105-1 10-8-1-8-9-6-122-2 12-12 13-3 56-2 6-5 1-8-11-8-73-2-13-14 21 7 21-10 21 9 15-9 5-10-10-10-34 2-29-3-5-4-2-10 97-2 9-6 1-8-10-8-50-2 6-4 3-11 15-1 8-5 2-9-10-9-70-1 1-8-4-5 4-2 45 0 8-4 15 4 12-9-2-8-10-5-15 4-8-4-58-1-1-6 5-10 36-2 5-12-7-7-62-3-3-2 8-6 2-8-10-9-12 2-9 6-1 8 9 10-15 0-4-9-7-5-10 2-13 12-45-2-2-3 13-3 11 4 14-1 12-11 21-4 4-6-2-8-12-5-45 0-9 3-10-3-11 3-9-3-67 0-8 4zM791 3312l4-1 7 8 9 3-4 4-10 0zM547 3126l7-7 14 5zM564 3038l10 2 3 5-12-1zM472 2893l6-16 47 1 5 12z"/><path class="s" fill-opacity="0.241" d="M890 3250l-5 4-1 8 6 6 7 0 5-4 1-8-6-6zM941 3173l-7 10 5 7 8 1 7-10-5-7zM502 3172l-7 6 0 6 7 6 6 0 7-6 0-6-7-6zM491 3133l-6 10 8 6 6-10zM932 3093l-7 11 5 6 9 1 7-11-5-6zM970 3092l-8 5-1 7 11 7 8-5 1-7zM396 2976l-7 11 5 6 9 1 7-11-5-6zM408 2857l-5 4-1 8 6 6 7 0 5-4 1-8-6-6zM978 2699l-7 11 5 6 8 1 7-11-5-6zM208 2620l-7 7 2 64-3 16 2 95 5 8-7 15 1 555 7 7 8 0 7-7 1-555-7-15 5-8 2-95-3-16 2-64-7-7zM848 2595l-17 2-5 5 2 10 5 3 14-3 5-6zM869 2581l-5 4-1 8 6 6 7 0 5-4 1-8-6-6zM624 2582l-7 7 1 7 6 5 9 0 9 16-38 3-9 9 11 18 16 10-58 2-9 7 0 6 6 6 35 3 4 5-5 7-17 0-9 5-37 0-11 8 7 11 30 2 3 11 7 6-49 3-6 7 1 6 9 6 41 1-2 16-72 2-8 7 1 8 7 5 34 0 12 7 22-6-1 15-83 3-9 7 1 8 8 5 65 2 2 7-15-6-10 13-20 4-56 0-9 9 6 10 18 1 0 10 7 7 11-5-1-10 3-2 53 1 1 9 6 8-17-4-8 4-60 1-9 5-1 8 10 7 100 2 5 10-2 7-65 1-9 4-2 8 11 8 57 1 11 15-9 2-10-5-10 6-27 1-7 7 5 10 32 2 6 11 11 4 9-3 3-10 11 2-13 14-69 1-9 7 1 8 8 5 57 1 2 10 10 5-3 3-76 2-7 7 7 11 50 1 28 12 12-3 5 7-52 6-2 12 14 6 6 10 18-6 12 3 2 4-3 3-45 5-5 4-1 8 9 7 29 1 6 16-35 4-6 7 3 9 48 6-7 8 0 7-34 3-4 6 2 8 6 4 19 1 23 15-49 3-9 6-1 6 7 7 49 2 8 12 8 3-6 3-17-3-11 4-19 0-6 4-14-4-8 6 0 8 8 6 14-4 6 4 26 1 3 14-37 5-7 6 0 6 7 6 40 2 2 4-7 13-51 1-9 6-1 5 10 9 30 1 315-1 10-8-7-11-40-4-12 2-14-9 6-7 36-3 5-4 1-8-20-15-14 7-12 0-7-16 8-1 7 8 8 1 8-9 35-1 11-5 1-8-6-6-56-3 12-17 50-1 9-8-2-8-7-4-19-4-33 3 0-11 9-6 16 5 15-6 32-2 5-6-5-10-42-3-7-10 5-7 60-1 9-8-1-6-8-6-67-1-3-5 4-10 20-4 57 0 9-6 1-5-10-9-86-3 0-4 11-10 70-2 9-8-1-6-8-6-64-1-8-8 4-7 16 5 9-8 45 0 9-9-5-9-69-3-6-6 11 0 11-12 22 0 11 10 11-10 15-2 8-6 7 5 15 2 8-5 1-8-9-7-15 2-7 5-16-8-44 0-6-11-13-3 107-5 6-6 0-6-6-6-64-3 2-8-4-8 72-1 9-9-9-11-41 0-8-3-34 2-5-8 7-10 84-1 10-7 0-6-6-6-43-1-11-11-14 3 1-10 106-1 10-9-2-6-8-5-124-1-2-2 16-14 68-4 7-6 0-6-7-6-76-3-7-10-8-3 3-3 23 6 19-10 23 9 15-11 1-8-8-7-31 3-32-4-6-4-2-12 100-3 5-4 1-8-6-6-69-3 7-5 11 1 7-13 20-3 5-9-7-9-74-2 2-6-5-10 49-1 11-7 17 6 7-7-7-11-17 6-11-7-57-1-2-5 5-13 38-3 3-10-7-6-63-4-29 2-10-13-8 2-12 11-50-2-2-6 18-3 19 4 14-11 20-4 2-12-11-5-15 3-27-3-10 4-15-3-6 4-10-5-67 1-7 5zM582 3161l0 6-7 2 1-6zM559 3036l5-2 12 5 2 9-18-2zM878 2877l5 2-1 6zM570 2838l-9 13 1-10zM879 2735l5-3 6 4zM695 2617l-13 1 7-5z"/><path class="s" fill-opacity="0.317" d="M891 3252l-4 10 9 4 4-10zM941 3175l-3 11 9 3 3-11zM502 3174l-3 11 9 3 3-11zM933 3095l-4 9 4 5 5 0 4-9-4-5zM970 3094l-5 4 0 7 7 4 5-4 0-7zM938 3018l0 10 15 3 5-6-5-10zM397 2978l-4 9 4 5 5 0 4-9-4-5zM409 2859l-4 10 9 4 4-10zM978 2701l-4 9 4 5 6 0 4-9-4-5zM949 2662l-4 9 4 5 5 0 4-9-4-5zM209 2621l-7 8 3 61-3 14 0 85 9 21-9 12 0 557 6 7 8 0 6-7 0-557-9-12 9-21 0-85-3-13 3-62-5-7zM848 2598l-5-3-9 2-5 5 1 9 7 3 10-4 3-5zM870 2583l-4 10 9 4 4-10zM625 2584l-5 5 1 7 4 3 11-2 9 20-4 3-36 1-8 8 12 18 16 10-46 5-14-2-8 7 5 10 17-1 22 6 2 3-6 9-26 5-37 0-9 5 0 8 5 4 30 2 3 11 5 4 12-5 3 2 0 5-7 3-51 1-9 6 0 6 5 5 45 2-1 17-74 3-7 6 1 8 6 4 71 2-1 15-5 3-81 1-8 7 1 6 7 5 69 2 4 14 7 0 8-13 14 0-20 18-10 0-19-13-16 12-72 2-7 8 7 10 20 0-2 11 5 5 7-3-1-11 4-2 59 3-1 7 6 10-20-3-21 4-44 0-6 2-4 8 10 8 100 2 5 11-3 8-64 1-10 6 0 6 10 6 56 1 13 16-3 3-56 3-3 4 3 10 31 2 10 13 8 0 6-11 16 0 3 3-16 15-69 1-7 5-1 6 8 7 76 1 16 8-4 10-13-4-9 6-51 1-14 4-12-2-4 5 4 9 12-2 14 4 24 0 30 10 12-2 5 9-2 3-44 1-7 4-1 8 23 13 8-4 19 4 0 10-44 4-8 10 8 8 31 2 7 15 4 0 6-8 10 2 0 5-5 4-44 1-13 6-1 6 7 7 45 3-7 7-2 10-30 1-7 11 7 7 15 0 27 13 1 5-49 3-8 5-1 6 6 6 50 3 6 10 12 6-57 4-8 6-14-5-6 7 6 9 14-5 8 6 29 3 2 15-37 4-7 9 7 7 40 3-2 15-6 3-53 2-5 5 0 6 5 5 30 2 319-2 5-5 0-6-5-5-52-2-16-8 8-10 35-3 6-9-18-15-13 6-14 0-8-17 10-2 9 8 6 0 8-8 31-1 12-4 1-8-5-5-57-4 12-17 52-2 8-7-1-6-7-5-17-3-35 2-1-13 11-6 18 3 44-7 0-12-15-4-28 0-9-12 8-7 60-1 8-8-8-10-67-1-4-3 3-12 7-5 38-3 33 2 9-6-1-8-7-4-34 2-49-3-4-3 0-4 12-11 70-2 8-8-8-10-64-1-9-7 6-11 14 6 11-8 44 0 7-6-3-10-68-3-9-9 6-4 11 0 8-7 38 3 20-5 6-9-8-8-50-1-7-11-12-1-1-3 21-4 88-3 3-4-1-8-5-3-64-4 2-9-4-8 75-1 7-8-7-10-84-1-5-4 1-11 7-5 80-1 10-4 1-8-5-5-43-1-9-10-15 3-3-5 4-8 109-2 5-6-5-10-139-3 15-6 7-12 71-3 6-7-6-9-75-3-16-14 4-4 24 5 21-9 21 8 13-9 1-8-7-6-33 3-33-5-5-5-2-11 100-4 5-3 1-8-6-5-64-1-10-4 26-10 6-7 18-2 6-8-6-9-75-3 1-8-6-9 52-1 8-6-1-8-7-4-33 1-32-4 6-6 2-11 38-3 4-6-4-8-59-4-27 2-9-2-6-10-7 0-7 9-7 2-53-2-3-7 8-7 33 6 13-10 15-2 4-4 0-8-8-5-13 3-27-3-12 5-14-3-5 5-12-7-66 2-7 6zM585 3234l1-3 7 1-2 3zM814 3193l6-1 10 5-5 4-1 7-11-12zM877 2876l9 3-2 8-7-2zM877 2737l5-13 13 12zM610 2724l8 1-5 2zM638 2640l7 2-2 6-6-4zM676 2619l15-15 3 7 21 7z"/><path class="s" fill-opacity="0.390" d="M516 3292l-3 11 7 3 4-9zM888 3137l1 7 7 4 18 0 4-4-4-10-18-1zM946 3016l-5 4 0 6 10 4 3-11zM209 2814l-6 11 3 11-3 30 0 119 3 27-3 50 0 238 3 15-3 24 1 41 9 6 7-6 1-41-3-24 3-15 0-238-3-49 3-28 0-119-3-30 3-11-6-11zM209 2622l-5 5 3 16-4 25 3 9-3 32 4 28-4 10 3 16-3 24 6 11 6 0 6-11-3-20 3-20-4-10 4-28-3-13 3-28-4-25 3-16-5-5zM840 2597l-8 6 4 8 10-3zM903 2624l-89-3-12-10-7 8-11 2-58-3-12 3-41-1 1-4 11-6 4-11 8 4 1 7 15 2 4 4 20-16 32 7 12-8 18-4 0-9-6-4-13 4-24-4-21 9-16 0-9-9-57 4-4 5-7-1-2 13 5 4 3 12-42 3-6 5 1 8 12 6 2 6 9 5 2 7-46 4-14-2-6 5 1 8 5 3 14-2 27 6 1 4-10 11-69 7 1 11 38 6-4 5 3 4 9-4-1-8 16 5-5 7 0 8-63 4-4 4 4 10 50 4-5 16-6 3-71 1-5 5 0 6 5 5 75 3 2 4-5 4 1 7-9 4-79 1-6 5 1 8 5 3 71 2 5 4 21-5 8 3-8 4-8 12-8 3-13-1-15-9-14 9-51 4-23-2-6 9 6 7 91 2 2 10 7 9-91 3-4 10 4 4 103 3 7 14-3 6-70 3-4 8 9 7 54 1 17 17-8 4-50 2-4 4 2 9 39 5 0 9 10-10 21 0 5 4-8 6-1 6-7 3-55 4-17-2-6 5 1 8 5 3 74 1 19 7-5 13-15-3-9 5-58 4 0 10 3 2 61 4 13 5 3 13-46 2-5 3-1 8 17 8 30 2 4 5-1 8-4 3-40 1-7 4-1 8 9 6 34 2-2 5 3 2 14-5 6 5 1 8-6 4-51 2-6 10 11 7 41 3-7 8-1 9-32 2-6 10 6 6 18 1 16 6 13 10-10 5-45 2-2 11 51 6 19 15-3 5-56 2-6 6 6 10 48 4-14 7 3 5-3 4-39 6 1 11 39 4 2 17-62 5-4 4 2 9 28 3 299 0 23-5-3-11-49-2-19-6-2-4 6-8 39-5 4-10-14-8-30 1-7-17 6-3 24 2 43-5 1-11-3-2-50-2-6-3 0-6 6-5-2-6 55-2 12-6-1-8-5-3-54-2 0-16 7-3 54-1 10-3 2-5-2-7-10-3-53-2-8-16 11-2 11 4 9-5 59-1 6-5-1-8-5-3-71-3-2-6 9-13 38-2 8-6 0-4-12-7-40 0-8-6 14-14 73-3 3-4-3-10-66-2-10-4-2-6 8-10 15 5 10-7 44 0 6-6-1-6-13-5-55 0-6-2-5-9 5-5 13 0 9-6 38 2 18-4 4-11-14-5-41 0-8-11-14-4 6-5 101-4 1-11-3-2-62-3 1-12-5-6 78-3 6-6-4-9-85-2-8-5 0-6 5-9 7-2 76-1 11-5-4-10-43-1-23-6-6-8-7 6-8 0-7-11 6-3 93-1 26-4 12 3 4-6-4-8-12 3-26-4-102-2-4-3 1-4 17 1 7-6 0-8 75-5 0-10-4-2-73-3-16-15 7-5 23 2 18-8 12 6 15 1 10-9-6-9-21 0-10 5-9-5-31-3-8-7 5-5 0-6 100-6-2-10-101-5 5-16 17 4-2-5 8-2 2 3-5 8 12 3 12-10 1-5 25-1 8-6-1-7-8-4-25 3-12-4-30 1-4-2 1-7-6-8-10-1 30-5 33 1 6-4-3-11-83-1-5-3 7-6 16 0 2-6-4-4 42-6zM582 3236l3-6 10 1-4 6zM844 2918l9 2-5 5zM851 2734l9-3 5 5-7 2zM605 2721l12 0 4 4-8 4-6-2zM635 2640l9-1 2 9-6 3z"/><path class="s" fill-opacity="0.480" d="M892 3140l5 6 12 1 3-10-12-3zM452 2901l1 9 12-2-2-8zM964 2863l3 9 15-5-10-7zM211 2815l-6 7 0 181 3 9-3 8 0 359 8 6 6-6 0-359-3-7 3-10 0-181zM954 2785l-5-5-20 1-2 10 6 4 16 0zM966 2746l-9-4-10 3-1 5 16 4zM211 2737l-6 7 3 18-3 28 8 7 6-7-3-25 3-21zM211 2686l-6 28 2 18 7 3 3-3 2-29-4-15zM210 2644l-5 28 5 8 4 0 5-8-3-26zM211 2622l-6 10 4 7 6 0 4-10zM606 2624l-2 11 13 5 4 8 7 1 2 8 7-3-6-7 3-8 12 0 1 11-10 9-53 3-5 3-14-2 0 12 14-2 33 6 1 7-19 13-59 3-3 9 31 6 15-2 40 4 4 8-20 3-8-4-4 4 2 5-8 4-59 4-1 9 54 6 2 2-9 8 1 8-11 3-69 1-4 5 4 9 72 2 6 4 2 7-11 10-83 2-4 3 0 8 4 3 75 4 28-2 7 4-21 16-12 3-29-7-10 6-37 1-17 5-20-4-4 4 4 10 20-4 17 5 56 2 2 11 8 8-72 5-3 6 11 6 75 3 7 14-2 5-9 3-59 1-5 3 0 8 11 4 50 1 17 15-6 6-52 4 0 10 33 5 33-1 7 4-7 7-1 8-40 7-19-2-9 5-8-6-10 3 0 8 4 3 9-1 5-5 9 5 19-2 15 5 21 0 17 8-7 13-72 3-7 4 0 6 7 4 57 3 12 5 1 15-42 1-8 5 1 8 6 3 41 3 3 12-6 7-42 1-6 5 1 8 5 3 51 2 6 3 2 14-8 4-47 1-6 3-1 8 7 5 40 1 6 3-7 7-1 10-36 3-4 8 8 7 35 5 10-4 12 2-13 17-35 5-3 6 6 7 25 2 16 8 5 12-60 4-4 5 4 9 51 5-10 16-34 5-9 5 9 7 32 4 1 17-49 5-9 4-1 5 10 5 23 2 253 0 47-3 0-12-52-3-14-4 1-15 41-4 4-3 0-9-7-4-36-1-7-15 5-5 26 1 42-6-3-10-54-4-2-12 5-1-3-6 61-3 9-4 0-8-4-3-54-2-3-3 1-16 65-3 8-6-1-6-7-4-56-2-8-17 7-3 17 2 66-4 4-3 0-8-4-3-72-4-4-6 11-13 37-2 9-9-9-7-45-1-5-7 16-14 69-2 4-3 0-8-4-3-67-2-11-3-1-4 6-10 7-4 17 2 8-4 42 0 5-10-10-5-60-1-9-8 0-12 18 2 12-5 35 2 17-4 3-3-3-10-48-1-11-10-10-1-3-7 8-4 97-4 0-10-79-6 17-11-6-5 3-3 78-2 4-10-4-4-81-1-12-5 3-14 7-4 79-2 7-3 0-8-83-8-8-5-3-9 3-4 78-2 10-6-3-5-7-3-83-2-9-3 6-9 16 3 7-13 71-4 2-6-2-4-94-5 10-7-5-7 2-5 32-1 10-5 0-8-4-3-43-4-2-2 9-16 57-2 11-4 0-8-11-4-73-1-9-5 11-7 6 6 5-1 4-5-3-9 31-1 12 7 0-5 6-5 9 3 18-2 5-3 0-9-6-3-16 0-8 4-12-5-29 1-8-3 1-8-4-5-23-2 42-7 34 1 5-5-5-9-83-1-3-3 6-13-3-4 40-5 7-7-11-6-69-3-130 2-16-6-21 6zM784 3286l5-2 3 3zM593 3207l-9 1 5-5zM841 2968l5-2 12 5-12 3zM587 2965l5 2-4 1zM828 2960l7-2-4 4zM572 2958l8-2 4 3zM840 2918l4-3 12 1 1 9-4 5 9 2-15 2zM549 2893l8-4 13 5-10 2zM828 2877l8-2 5 3-6 3zM583 2760l12-2 3 6zM847 2695l1-3 5 1zM758 2648l4-3 6 2-2 4zM716 2604l2 4 6-2-3-4zM723 2594l5 4 7-1-4-4zM797 2587l-5-4-11 5-27-4-7 6-2 8 23 6 11-7 16-1zM716 2593l-7-10-18 4-14-3-10 9-20 2-2 5 5 10 16-2 12 5 10-18 18 6zM651 2603l4-6 16 2-7 7z"/><path class="s" fill-opacity="0.596" d="M211 3319l-5 17 0 42 7 6 5-6-2-57zM211 3013l-5 8 0 164 4 9-4 25 0 83 7 14 5-14 0-83-4-15 4-19 0-164zM444 2860l-2 10 10 1 2-8zM210 2844l-4 21 3 66-3 16 4 8-4 31 2 22 5 3 4-7 1-18-4-29 4-10-3-11 3-71-2-19zM210 2817l-4 11 7 11 5-15-4-7zM933 2788l1 5 13 1 3-3-4-8-10 1zM211 2765l-5 23 4 7 4 0 4-10-3-18zM211 2739l-5 11 2 7 6 2 4-13zM924 2707l0 4 8 5 18-5-5-10-14 0zM210 2698l-4 13 3 11 4 2 5-18-2-6zM914 2665l-3 5 9 4 1-9zM210 2653l-4 17 7 8 5-11-3-13zM210 2624l-3 9 6 5 4-10zM613 2625l-2 10 7 4 31 0-2 17-8 4-53 3-5 5 5 7 33 4 1 7-11 11-35 6-15-2-7 5 0 4 7 5 16-3 12 5 34 1 3 10-8 5-18-1-2 6-54 3-11 5 3 7 63 4 7 15-17 5-3-2 6-7-12-1 0 9-11 3-74 4 2 10 76 4 5 11-11 9-67 4-3 6 9 6 84 2 4 5-11 10 4 5-10-2-22 6-28-3-54 6 3 10 59 2 6 3 5 13 7-4 1-7 4 0 5 7 16 7-11 4-49-1-30 5-1 7 3 2 72 5 0 8 5 6-1 5-14 4-55 1-4 3 2 8 50 2 17 7 8-4 16 0 11 12 12 3-4 4-15 0-7-4-2-7-7 0-6 11-45 4-8 5 3 6 26 4 31-1 13 7-7 6 3 6-39 5-7 5 0 4 10 6 38 4 4 5-7 13-72 5-3 7 3 3 70 7-2 10 4 6-4 3-42 1-6 4 0 6 8 5 43 2 3 4-5 14-7 3-41 1-5 9 5 5 57 3 3 18-11 4-45 1-5 4 0 6 5 4 39 1 15 4 8 17-59 4-3 8 3 4 28 4 31-1 0 19-41 4-6 4 0 5 7 5 20 1 10 5 18-2-7 20-33 0-25 5 1 9 47 4 19 14-57 11-3 3 3 7 33 5 6 9-11 11-46 3-2 10 17 4 294-2 7-5-4-7-59-4-11-15-7 3-5-5 64-6 3-3-3-10-38-2-5-4-4-13 8-5 55-2 6-5-6-7-58-3-3-7 6-3-4-7 2-3 73-4 6-3 0-8-6-3-51-2-9-17 20-5 54-1 6-4 0-6-6-4-57-2-9-18 11-4 64-1 9-6-9-8-50-1-9-3-14-15 29-6 32-1 7-4 0-6-7-4-51-3 1-8 13-11 71-4 3-3-3-9-65-2-20-4 17-18 72-5-2-10-63-2-10-6 0-17 70-1 11-5 0-6-8-4-37 0-14-7-8 5-10-1 4-9-2-8 13-4 74-3 3-7-12-5-52-4-20 2-17-10-3-6 5-4 10 0 6 8 22 8 12-8-5-5 4-4 39-2 14-5 27 4 2-10-25-1-4 3-17-6-77-1-3-3 4-6-5-9 9-4 25 3 75-9 9 3 7-2 2-5-9-5-9 3-75-10 3-7-3-9 54-2 15-6 11 4 3-10-4-2-10 4-15-6-77-3 15-7 0-10 77-6 5-3 0-6-5-3-78-4 11-8 0-11 34-2 7-4 0-7-15-5-56-2-8-5 11-6 9 4 16-4 1-3-6-2 13-5 56-1 6-3 1-6-7-5-74-1-12-4 14-18 51 0 9-7-1-6-7-5-35 0-5-3-3-11-7 1-1 9-19 2-7-4 13-16 37-2 15-6 3 4 6-2-2-8-7 4-15-6-39 1-9-4 3-14-9-5 46-5 0-10-71-4-101 2-39-4zM760 3323l4-1 2 4-4 1zM762 3311l6 4-4 3-5-1zM801 3118l9 3-2 9-10-2zM810 3036l9 2-6 4zM602 3010l6-2 1 4zM849 2957l4-2 2 3-4 2zM818 2917l6-2 4 3zM825 2877l12-3 8 5-4 6-5 0zM848 2813l-19 2 11-4zM629 2772l6-4 5 3-2 4zM637 2693l-5 4-7-2 8-5zM793 2657l12-9 17 2-3 8zM785 2648l7 0 2 5-7 1zM750 2649l18-8 5 5-3 8 5 3-13 1-2-5zM722 2644l13-6 7 2 0 15 4 3-6 0-5-7zM671 2606l7 2-3-4zM673 2595l3 4 6-2-4-4zM749 2593l7 6 14 0 3-3-1-4-11-4zM695 2588l3 10 13-2-3-11z"/><path class="s" fill-opacity="1.000" d="M211 3359l-3 20 6 3 1-21zM211 3324l-3 20 5 11 3-21zM773 3317l-3 4 5 3 3-4zM211 3233l-3 71 5 5 3-5-2-70zM211 3211l-3 12 5 7 3-13zM211 3157l-3 29 5 5 3-5 0-22zM211 3132l-3 13 5 9 3-17zM211 3115l-2 7 4 2 2-7zM211 3093l-3 11 5 8 3-13zM878 3060l3 8 14 1 8-4 0-4-7-4zM211 3016l-3 4 0 52 5 6 3-6 0-52zM211 2961l-3 27 2 13 3 1 3-24-1-13zM861 2960l-2 3 5 2zM211 2937l-3 11 5 4 3-11zM211 2896l-3 6 1 23 4 2 3-25zM211 2857l-3 14 5 6 3-14zM211 2819l-3 10 5 5 3-11zM863 2801l-6-2-8 8 7 3zM211 2777l-3 12 5 4 3-10zM211 2741l-3 10 5 5 3-11zM559 2703l-2 8 9 2 2-7zM928 2707l3 7 15-3 0-6-4-3-9 0zM211 2700l-3 13 5 5 3-14zM211 2660l-3 11 5 5 3-10zM829 2649l-2 3 4 2 2-4zM622 2625l-6 7 3 5 25-1 11 6 18 1-10 7-6-2-8 11-58 7 1 8 55 7-8 17-55 3-6 4 2 7 6 3 38 2 4 13-15 8-71 7 1 7 56 4 13 18-18 4-82 4-3 3 3 7 54 2 21 4 6 7-9 0-5 7-13 6-57 2-7 4 1 6 90 5 4 4-8 9 1 6-6 4-102 2-6 4 6 8 45 0 18 7 10-3 16 10 9-11 16 0 9 5-10 3 1 10-6 3-71 1-18 5 3 8 60 4 3 3-2 7 6 5 6-5-1-10 14 0 3 9-11 5-4 7-78 5-3 3 3 7 45 1 16 4 22-2 15 12 11 1 5 5-4 4-38-2-11 4-25 1-7 4 10 9 43 1 11 7 0 6 15-6 5 7 0 6-6 3-15-4-51 9 0 6 7 4 54 4 5 6-13 0-13 15-48 2-5 3 0 6 4 3 65 5-11 1-4 4 0 15-44 2-4 3 0 6 6 4 49 4 2 6-5 3-2 8-11 4-40 1-3 9 4 3 53 2 7 3-2 19-55 4-4 5 2 6 61 4 12 7-4 10-7 5-52 3-3 8 20 5 38 1-1 21-42 3-4 7 6 5 53 5-2 9 3 7-20 6-34 0-9 8 9 6 46 4 8 10 14 2-9 7-30-1-34 5-3 7 5 4 34 4 4 4-1 14-53 5-6 8 12 5 292-2 4-7-5-4-66-4-3-2 7-3-2-3-31 3-3-8 6-3 7 6 1-5 10-6 58-2 5-5 0-5-6-3-29 0-14-4-17 2-6-4 4-16 75-4 6-4-6-8-56-4-2-5 5-7 0-8 80-6 0-7-4-3-58-4-2-8-4 3-12-3 1-7 11-5 77-3 5-3 0-6-5-3-62-4-3-2 0-10-18-6 94-5 5-4-5-8-69-4-13-12-8 0-7-7 86-7-1-9-73-6 5-16 21 1 15-6 41-1 8-5-8-7-72-5-7-16 16-2 7 5 8-6 28-1 14-7-4-5-41-8-2-7 0 6-7 1-10-8-2-8 7-3 91-3 6-6-7-6-69-3-3-2 2-15 4-4 76-3 6-3 1-5-6-4-80-3-14-16 11-6 25 0 13 8 3-6 9-3 35-1 5-4 0-5-8-4-79-1-3-3 3-7-10-5-10 6-8-6 11-8 55 0 41-6 2-7-4-3-77-4-3-8-10-8 2-3 26 0 2 3-4 9 12 3 8-6-5-5 3-4 65-4 2-7-10-5-83-3 2-8 14-5 0-7 70-6 2-6-12-4-84-2-16-9 11-1 6-10 69-4 6-3 0-7-11-4-77-4 15-12 11 0 16-7 69-3 6-7-6-5-73-1-30-4 0-11-7-2 0-5 17 0 2 10 5 3 11-15 56-1 5-4 1-5-6-6-68-1-11-5 4-15 14-4 33-1 4-3 0-6-4-3-39 1-14-6-8 3-79 0-21-5-6-12 2-4 24-3 6 2 3 6 11-6 32 5 7-4 56-4 3-7-6-5-190-3zM769 3169l3-4 7 5zM600 3122l7-1 2 4zM769 3082l6-2 4 6-6 3zM785 3044l5-2 9 7-7 2zM807 3012l8-4 0-11 13 12-5 4zM804 2973l4-6 13 3zM798 2956l10 0 1 7-2 2zM651 2957l10-2 3 3-9 3zM767 2925l6-2 5 5-6 2zM625 2916l3 4-6 5-2-6zM800 2882l2-4 5 2zM759 2877l9 2-3 3zM790 2854l9-9 7 0 12 7-1 3-11-4-7 5zM724 2806l5-1 3 4zM786 2799l16-2 11 4-19 2zM637 2797l6 0 4 6-4 11-7 0-7-9zM725 2772l6-1 1 3-6 1zM623 2771l16-5 4 8-12 3zM745 2725l10-6 8 12-14 1zM792 2694l6-4 5 7-7 2zM745 2679l-1 10-4 5-5 0 3-7-2-7zM666 2655l-7 2 4-4z"/></g><path class="p" d="m389 1256-57 20 12 1 16-1 11 0 14 0 8 0 5 0-292 19 198 0 5 0 101 0 8 0 5 0 6 0 30 0 10-9 18 9-381 6 207-1 5 2 4 5 25-2 14-9 6 8 8 1 8 1 11-7 4 4 5 2 1-9 6 2 23 4 9-5 4 7 3-4 38 6-381 2 182 11 12-4 21 4 30-9 7-1 28 2 68 1 4 3 6 0 8 0 39 0-198 14 9-4 61 1 44 2 8 2 13-2 1-5-172 12 10 8 5-4 10 3 138-3 5-1 15 4 10-7 19 0-275 20 42-1 37-5 154-4 9 3 18 0 9 6 6-6 15 6-196 9 121 4 14-3 18 0 27-4-242 14 4 0 29 4 7-8 152 8 4-8 13-2-175 17 162 0 19 1-194 15 15-3 160 4 28 1 9-3 12-6-331 19 90-7 21 0 7 2 172-3 2 2 40 6 5 0 13 1 13-1-289 6 14-1 8-1 5 4 20 1 7-6 161 5 16 6 16-11-338 17 102 4 12-1 2-8 15 2 6-1 137 8 27-9 10 2 23 8 32-5 7 0 4 0 10 0 10 0 13 0-345 10 49 1 7-3 7 6 172-7 14 2-313 11 61 0 3 0 7 3 2-3 39 7 11-3 5 6 2-4 4 4 173-5 6-1 33-4 3 0 16 0 13 0-312 20 12-1 17-5 6-3 6 2 9 0 9 1 3 2 213 3 6 0 9 0-242 4 8 10 2-5 5-5 181 3-180 10 4 0 0 10 155-1 9 0 4 1 40-7 25 1-243 9 16-2 154 3 4 6 13-1 5-8-186 18 6-1 3 4 4 1 131-1 9 0 2-3 18 3 19-9 10 4 3-4-278 19 9 1 48-8 8 0 11 0 158 0 26 8 8 0 9 0 3 0-207 8 7 6 4-5 3 6 131-6 3-3 2 9 20-10 13 4-213 10 11 0 22 8 143 0 2-4 7 3 34-7 29 0-278 20 29 0 7 0 10 0 1-5 7-5 7 2 3 1 8 0 128 0 73 7-224 5 7-1 150-1 6 3 3 2 43-7 20 0-240 15 5 4 36-6 135 3 27 3 11 0-230 16 45-8 130 1 14 0 16-1-210 11 27 0 3 0 4 7 7-2 8 4 18-3 124 0 37-5 40-1-278 20 16 0 16 0 7 0 11-5 7-1 8 2 0-6 120 1 1 4 6-2 7 1 4-1 18 7 15 0-173 13 6-6 6 3 112-7 7 3 1 4 32-1-185 11 11-4 132 0 4-2 3 10 2-8 5-2 14 6-148 13 109-7 13 3 4 1 14 0 22 0-165 18 114-1 5 2 22-10 9 0 5 10-228 10 66-5 7 1 162 4"/></g><rect class="ax" x="84.00" y="1234.50" width="491.90" height="476.00"/><text x="106.36" y="1741.20" font-size="21.30" text-anchor="middle" textLength="13.25" lengthAdjust="spacingAndGlyphs">0</text><text x="191.57" y="1741.20" font-size="21.30" text-anchor="middle" textLength="26.50" lengthAdjust="spacingAndGlyphs">25</text><text x="276.78" y="1741.20" font-size="21.30" text-anchor="middle" textLength="26.50" lengthAdjust="spacingAndGlyphs">50</text><text x="361.99" y="1741.20" font-size="21.30" text-anchor="middle" textLength="26.50" lengthAdjust="spacingAndGlyphs">75</text><text x="447.20" y="1741.20" font-size="21.30" text-anchor="middle" textLength="39.75" lengthAdjust="spacingAndGlyphs">100</text><text x="532.41" y="1741.20" font-size="21.30" text-anchor="middle" textLength="39.75" lengthAdjust="spacingAndGlyphs">125</text><text x="69.42" y="1696.86" font-size="21.30" text-anchor="end" textLength="26.50" lengthAdjust="spacingAndGlyphs">10</text><text x="69.42" y="1598.52" font-size="21.30" text-anchor="end" textLength="26.50" lengthAdjust="spacingAndGlyphs">15</text><text x="69.42" y="1500.17" font-size="21.30" text-anchor="end" textLength="26.50" lengthAdjust="spacingAndGlyphs">20</text><text x="69.42" y="1401.82" font-size="21.30" text-anchor="end" textLength="26.50" lengthAdjust="spacingAndGlyphs">25</text><text x="69.42" y="1303.48" font-size="21.30" text-anchor="end" textLength="26.50" lengthAdjust="spacingAndGlyphs">30</text><path class="tk" d="M106.36 1710.50v7.29M191.57 1710.50v7.29M276.78 1710.50v7.29M361.99 1710.50v7.29M447.20 1710.50v7.29M532.41 1710.50v7.29M84.00 1688.86h-7.29M84.00 1590.52h-7.29M84.00 1492.17h-7.29M84.00 1393.82h-7.29M84.00 1295.48h-7.29"/><text x="329.95" y="1222.60" font-size="25.60" text-anchor="middle" textLength="401.50" lengthAdjust="spacingAndGlyphs">mean_hand_to_foot vs Difficulty</text><text x="329.95" y="1769.40" font-size="21.30" text-anchor="middle" textLength="204.62" lengthAdjust="spacingAndGlyphs">mean_hand_to_foot</text><text transform="translate(30.60 1475.50) rotate(-90)" x="0" y="0" font-size="21.30" text-anchor="middle" textLength="93.50" lengthAdjust="spacingAndGlyphs">Difficulty</text><g clip-path="url(#c9)"><g transform="scale(.5)"><path class="s" fill-opacity="0.210" d="M2017 3292l-3 8 7 9 13 0 7-8-7-12-10-1zM1551 3288l-10 5-2 8 4 6 11 3 10-5 2-8-4-6zM2102 3013l-6 4-2 8 4 6 10 2 6-4 2-8-4-6zM1577 3018l0 10 9 6 10-1 7-7-1-8-9-6-10 1zM1511 2896l-5 6 5 12 10 2 10-6 1-8-5-6zM2151 2815l-9 6-1 8 5 6 9 2 9-6 1-8-5-6zM1394 2619l-8 8 0 164 4 17-4 11 0 561 8 8 10 0 8-8 0-561-4-8 4-20 0-164-8-8zM2039 2580l-12 0-6 5-2 10 5 8 10 2 10-8 2-10zM2110 2620l-20-3-39 3-13-6-30 5-47-1 13-16 24 2 13-5 5-11-10-9-91 0-13 11-16-11-33 0-8 5-11-5-7 1-6 5-1 8 22 14-2 11-58 1-11 9 2 8 6 4 25 1 3 14-31 2-13 5-8-4-17 1-7 7 5 12 19 2 8-4 11 11-10 3-5 6-26 4-21-2-7 7 1 8 6 5 21-2 33 4 5 3 0 5-28 1-8 7-50 1-11 6-15-6-10 8 1 8 9 6 15-6 11 6 73 3-1 5-11 8-69 1-8 4-16-4-8 5-3 10 9 9 16-5 38 4 11 7-1 7-72 0-17 3-7 6-10-7-15 0-9 5-14-5-8 5-2 8 10 9 13-5 10 5 15 0 10-7 10 7 20 0-2 12 3 4-84 2-8 3-4 6 4 10 52 4 0 8 5 7-58 2-7 7 5 12 55 2 2 9 7 5 11-2 9-11 9 0 9 8 15 2-6 6-95 3-5 11 10 9 86 1 4 3-7 3-6 10-47 0-11 9-6-7-12-2-9 6 0 10 6 5 10 1 11-9 8 8 16 1 7 4 13-4 45 1 8 9-1 3-16-3-12 7-43 0-9 8 1 8 18 14 6 0 8-7 35 1 5 4-5 11-70 1-8 5-10-5-10 0-11 9 2 8 9 5 10 0 10-5 8 5 48 1 3 15-50 1-10 6-1 8 11 8 54 1 2 14-5 2-64 0-10 8 1 8 9 6 31 0 7 3 29-2 2 5-9 10-94 2-12 9 2 8 10 5 91 1 7 9-4 5-27-3-10 5-58 0-10 10 2 7 8 5 56 0 2 2-8 15-27 2-5 6 1 8 9 6 62 1 7 15-64 2-8 5-2 8 10 9 70 2-6 14-60 3-5 6 5 12 68 3 10 10-10 5-62 2-7 7 5 12 35 3 323 0 15-7 1-8-5-6-31-4 11-14 40-2 7-8-2-8-8-5-67-1-4-12 4-3 60-1 23-6 2-8-8-8-13 2-25-4 3-15 26-2 8-8-4-10-18-8-9 0-3-7 24-6 25 4 13-9 0-10-9-6-49-1-5-7-12-1-1-4 5-3 54-1 10-5 2-8-8-8-54-3-2-6 16-9 58-1 9-6 1-8-10-8-68-1-1-3 10-12 71-4 4-10-8-8-60-3 3-6 12 1 9-9 37-2 6-4 2-8-12-9-53-1-7-4-2-8 20-3 5 10 11 3 12-12 10-3 17 2 15-8 1-8-9-8-32 0-5-15 51-2 10-9-2-8-15-8-20 4-33-3 1-10 7-3 53-1 18-5 3-8-4-7-24-4-10-13 15-4 48 0 10-8 11 8 13-5 2-8-10-9-8 1-8 7-10-8-26-1-12-10-8 0-8 6-6-6 28-8 42 2 12-10 5 7 11 3 12-9-2-8-10-5-11 3-5 7-12-10-42 2-44-3-13-11 7-5 71-1 10-8-1-8-6-5-42-2-35-13 74-3 8-6 1-8-9-8-64-2 10-14 56-1 9-6 1-8-7-7-58-3-5-10 24-6 18 1 6 4 10-2 11-12-5-11-45-3-5-13 57-3 9-7 0-8-9-7-47-1-8-7-7 0-10 7-18 0-4-14 82-2 10-9zM1630 3233l30 1-4 11-13 0zM1674 2963l10-6 9 0 5 14-17 1zM2023 2929l6-3 3 6-7 1zM1654 2879l14-1 4 10-13 2zM1678 2838l-7 15-3-14zM1888 2612l3 2-4 3zM1934 2604l-1 7-13 7-7-1 18-14zM1998 2546l-1 8 9 8 8 0 8-7-1-8-8-6-8 0zM1972 2541l-8 7 0 7 7 7 9 0 8-7 0-7-7-7z"/><path class="s" fill-opacity="0.241" d="M1549 3290l-7 11 5 6 9 1 7-11-5-6zM2026 3289l-8 5-1 8 12 7 8-5 1-8zM1574 3059l0 8 9 6 11-2 5-7-3-7-7-4-9 1zM2104 3015l-6 10 8 6 6-10zM1583 3015l-4 5 1 8 8 5 7-1 6-7-1-6-9-6zM1574 2976l-4 5 1 8 8 5 7-1 6-7-1-6-9-6zM2137 2896l-5 4-1 8 6 6 7 0 5-4 1-8-6-6zM1516 2896l-7 6 0 6 7 6 6 0 7-6 0-6-7-6zM2150 2857l-7 11 5 6 9 1 7-11-5-6zM2150 2817l-7 11 5 6 8 1 7-11-5-6zM1617 2825l-11-9-13 1-8 7-8-7-7 0-5 4-1 8 6 6 7 0 8-7 8 7 19-1zM1658 2739l-7 10 5 7 8 1 7-11-5-6zM1395 2620l-7 7 2 64-3 16 2 95 5 8-7 15 1 555 7 7 8 0 7-7 1-555-7-15 5-8 2-95-3-16 2-64-7-7zM2036 2581l-6 0-8 7 0 8 5 6 6 1 10-9 0-7zM2110 2622l-23-4-34 4-17-7-26 5-59-1 0-3 12-3 8-12 28 1 10-4 4-11-9-7-90 1-11 11-19-12-30 0-7 5-18-4-7 11 22 14-2 13-61 2-7 7 7 11 27 2-1 17-30 0-13 7-11-6-9 0-10 7 1 8 9 5 9 0 11-6 15 14 7 2 0 6-5 1-11-6-9 7-20 1-7 4-19-3-7 6 0 6 7 6 19-3 7 4 30 2 6 13-16-5-29 10-49 1-7 7 7 11 75 2 1 10-12 7-71 2-7 5-13-6-11 8 0 7 6 6 8 0 10-7 7 5 31 2 11 7 0 8-88 3-8 6 0 8 8 6 23 0-4 9 4 10-89 2-6 5-1 6 7 7 51 1-2 10 7 8-61 2-6 6 4 11 29 3 24-2 9 14 9-1 9-11 6-1 7 1 9 8 16 3-8 7-89 1-9 7 4 11 90 3 8 4 24-4 6 14-2 3-20 0-6-8-9-2-9 11-47 0-9 7 1 8 8 5 19 3 15-4 44 2 9 11-2 4-19-3-9 6-43 0-9 8 2 8 17 11 9-6 40 1 6 6-5 10-71 2-10 8 1 6 9 6 49 1 0 10 8 7-59 2-7 6 0 6 7 6 58 2 2 16-73 3-6 6 1 8 5 4 39 3 26-2 8 3-1 6-11 10-96 2-7 7 7 11 95 2 7 9-3 7-28-2-10 4-58 0-8 5-1 8 9 7 98 1-4 16-19-1-15-12-7 6-1 8-27 2-7 11 7 7 65 2 11 16 19-4-5 6-82 1-8 5 0 10 8 5 73 2-7 6-2 10-60 3-5 6 5 10 68 3 12 11-12 6-62 2-6 6 4 11 39 3 315 0 10-2 5-5 1-6-6-7-31-4 13-15 41-3 4-5-1-8-9-5-66-1-4-14 4-3 60-1 22-7 1-6-6-6-8 3-32-6 4-6 0-11 25-2 8-6-3-10-17-7-6 1-7-9 5-5 10 1 10-4 30 2 8-8-1-8-8-5-49-1-9-8-9 5-2-2 4-11 63-4 5-9-11-9-50-2-2-8 16-9 59-1 9-11-9-9-69-1-2-4 11-13 70-4 3-10-5-5-60-3 1-12 12 4 10-9 37-2 7-11-7-7-60-3-7-11 7-5 19-1 5 12 9 1 10-12 31-1 9-5 2-8-6-7-36-1-1-10-6-6 57-4 6-6-1-8-13-7-13 3-42-2 0-12 8-4 69-4 4-5-4-11-24-3-11-15 17-4 51-1 6-5 0-8-6-5-29-2-12-10-8 2-7 7-11-9 33-10 44 1 7-7-7-11-89-2-14-11 8-7 71-1 9-6 0-8-9-6-39-1-7-4-8 2-9-8-15 4 6-11 72-1 8-6 0-8-8-6-65-3 12-15 55-1 8-5 1-8-6-6-56-2-5-4-2-10 20-5 21 0 11 4 10-4 6-7-5-12-42-1-9-17 59-2 7-4 2-9-9-7-41 0-13-7-14 6-22 0-5-16 31-4 52 2 9-7zM1675 3312l7-1 3 4zM1968 3008l8 3-5 1zM2021 2928l8-5 6 10-12 1zM1647 2878l23-1 4 12-19 4-1-10zM1632 2877l11 1-8 2zM1712 2852l-1 3-10-1 7-5zM1665 2854l4-7-4-11 19 2-11 16zM2012 2693l2-3 2 2zM2034 2684l1-4 10 1-3 5zM1883 2618l2-8 11 3-8 6zM1937 2602l0 10-16 7-14-2 10-4 13-12zM2008 2542l-7 4-1 9 11 6 7-4 1-9zM1975 2542l-7 4-2 7 5 7 6 1 7-4 2-7-5-7z"/><path class="s" fill-opacity="0.317" d="M1550 3292l-4 9 4 5 5 0 4-9-4-5zM2024 3291l-5 6 1 6 4 4 9-1 2-12zM1584 3054l-8 6 0 6 12 6 7-5 1-6-5-6zM1586 3015l-5 6 1 6 4 4 9-1 2-12zM1577 2976l-5 6 1 6 4 4 9-1 2-12zM2138 2898l-4 10 9 4 4-10zM1516 2898l-3 11 9 3 3-11zM2151 2859l-4 9 4 5 5 0 4-9-4-5zM2150 2819l-4 9 4 5 6 0 4-9-4-5zM1571 2819l-4 10 9 4 4-10zM1588 2825l4 8 16 1 6-6-1-6-9-5-10 1zM1661 2779l-8 0-6 6 4 11 6 1 9-6 1-6zM1658 2741l-3 11 9 3 3-11zM1737 2665l0 8 9 5 9-1 6-7-9-10zM1396 2621l-7 8 3 61-3 14 0 85 9 21-9 12 0 557 6 7 8 0 6-7 0-557-9-12 9-21 0-85-3-13 3-62-5-7zM2030 2583l-6 6 0 6 10 5 7-10-5-7zM2108 2623l-24-4-32 4-15-6-29 4-63-2-5-5-9 0-9 6-14 0-7-4-19 4 1-12 28 6 21-16 7 2 6 14 13 0 11-14 27 1 12-4 3-9-5-6-90 0-13 12-17-12-32-1-8 6-17-4-4 5 1 6 20 11-3 15-59 2-6 5 3 10 30 4-1 17-33 1-12 8 5 10 15 4 4 14-46 4-10 7-16-6-6 6 6 10 16-6 10 7 29 2 9 17-22-5-12 6-60 3-7 5 1 8 6 3 75 4-1 10-13 7-41 0-33 5-2 7 4 5 39 5 5 5 0 10-91 4-5 5 0 6 7 6 59 1-18 20-12-2 6-9-8-7-6 7 5 11-77 1-18 5-1 6 4 5 52 1 0 14 8 6-65 4-4 4 2 9 27 4 27-2 8 13 6 0 10-11 15 0 9 8 17 3-9 9-92 2-5 5 3 10 95 5 27-2 7 15-3 4-22 0-12-9-10 10-46 0-9 7 1 6 8 5 77 1 10 11-4 7-16-4-11 6-44 0-7 7 1 6 8 6 58 1 7 6-5 12-62 5-13-2-5 5 0 6 5 5 13-2 14 4 26 0 2 11 15 6-66 4-7 4 0 8 7 4 55 2 3 2 1 15-73 4-6 5 1 8 5 3 78 4-19 18-75 2-8 5-13-4-4 5 4 9 13-4 8 5 76 3 6 9-3 8-97 2-6 3-2 9 8 6 99 1 3 2-8 17-22-2-12-9-7 11-29 3-4 5 1 6 15 5 53 1 16 13 20-3-10 10-82 1-7 5 0 8 7 5 90 2 5 8-2 6-21-10-7 14-59 2-5 5 0 6 5 5 65 2 15 12-15 7-59 2-6 5 3 10 34 3 319 0 12-6 0-8-6-5-28-1-2-3 14-16 40-3 4-5-1-6-5-4-69-2-5-16 6-3 59-1 10-8-7-9-29-3 6-7 0-12 21-1 9-5-3-11-21-5-6-12 5-4 21-3 29 2 7-5 1-7-8-7-30 1-33-3-8-4 6-13 56-2 8-4 1-8-9-6-51-2-2-7 4-6 14-6 59-1 6-4 1-8-7-6-68-1-4-6 12-13 67-4 1-11-3-2-58-3-2-3 3-13 15 5 7-8 38-3 4-9-7-6-57-3-8-12 6-6 23-1 4 10 8 2 7-11 33-1 10-6 1-6-5-6-36-1-4-3-2-11-5-1-7 5-6-4 12-6 61-2 6-6-1-6-9-6-58 0-1-14 9-4 65-2 7-7-1-6-6-5-23-2-9-16 19-4 49-1 5-4 0-8-5-4-25-1-14-10-15 9-16-10 3-5 36-8 10 3 31-1 6-6-6-10-31-1-10 3-9-4-46-2-8-11 11-7 69-1 9-6 0-6-5-5-56-3-9-8-6 0-12 8-6-1 15-17 71-1 7-6-1-8-6-4-67-3 2-9 12-8 54-1 9-7-1-6-8-5-54-2-14-18 67 0 10-12-5-7-45-2-7-14-19 4-5-7 85-3 7-11-7-7-41 0-14-6-12 5-24 0-8-17 34-5 51 2 9-7zM1914 3350l8-2 3 3-7 2zM1942 3283l6 4-7 1zM1941 3236l1 3-4 2zM1965 3007l6-2 9 6-10 2zM1686 2933l10-1-3 3zM2018 2928l12-7 8 12-15 2zM2028 2893l5-2 4 3zM1713 2889l-3 5-1-3zM1693 2879l7-1-2 4zM1628 2877l6-3 36 2 5 4 1 10-23 5-1-9-5-6-15 1zM1717 2847l-5 9-15-2 11-12zM1739 2805l9 0 1 7-7 0zM2016 2687l2 7-7 2 0-6zM1848 2649l3-5 7 1-5 5zM2008 2544l-5 5 0 6 8 4 5-5 0-6zM1974 2544l-5 9 3 5 6 1 5-9-3-5z"/><path class="s" fill-opacity="0.390" d="M2026 3292l-4 9 7 5 4-10zM1581 3057l-1 11 11 1 1-11zM1589 3016l-4 3 0 8 6 3 4-9zM1580 2977l-4 3 0 8 6 3 4-9zM2048 2979l2 10 17 2 4-4-4-11zM1593 2822l-1 6 4 5 10 0 4-4-4-10zM1396 2814l-6 11 3 11-3 30 0 119 3 27-3 50 0 238 3 15-3 24 1 41 9 6 7-6 1-41-3-24 3-15 0-238-3-49 3-28 0-119-3-30 3-11-6-11zM1655 2780l-6 10 10 5 5-9-3-5zM1718 2702l-2 10 6 2 2-10zM1742 2663l0 12 9 2 5-3 2-6-4-6zM1396 2622l-5 5 3 16-4 25 3 9-3 32 4 28-4 10 3 16-3 24 6 11 6 0 6-11-3-20 3-20-4-10 4-28-3-13 3-28-4-25 3-16-5-5zM2031 2586l-4 7 8 4 2-7zM2105 2623l-29-2-23 4-18-7-12 3-74 0-13-5-14 5-44-1-2-3 4-11 31 6 23-17 6 3 7 13 9 2 14-15 35-1 3-10-4-4-52-1-15 8-19-6-12 11-10-1-13-11-28-1-10 7-8 0-4 5 2 3 8-5 5 5 0 19-3 4-62 6 2 10 29 5 0 15-3 3-35 1-9 8 7 10 18 5-1 13-46 4-8 6 4 9 35 4 7 17-9 2-6-4-10 0-8 4-50 2-14 4 2 10 74 4 2 13-17 7-44 0-22 5 1 9 37 6 3 5-2 13-82 1-11 5 0 8 5 4 81 2 8 10-3 8-6 3-18-1 6-9-4-8-5 0-8 7-3 9-8 2-91 1-10 4 0 8 10 4 89 1 6 3 3 11-3 4-24 3-4-2-3-12-19 0-5 5 10 5-5 4-42 0-14 6 0 6 14 6 30-2 13 6 9-4 19 1 7 7 14 1 5 9-13 4-90 2-4 4 2 9 95 5 24-2 6 3 2 17-95 3-4 5 4 9 86 4 4 6 8-6 7 1-18 17-20-2-9 4-43 0-6 6 1 6 7 5 44-1 17 3 6 6-3 11-59 5-5 4-14-4-4 4 4 10 14-4 13 6 25 0 7 6 1 8 13 5-70 6-1 9 61 7 0 16-14 4-55 1-5 3 0 8 10 4 49 0 22 5-20 17-76 4-2 10 26 5 51 1 7 10 0 7-103 5-4 4 4 10 105 3 2 2-7 8-1 9-39-1-29 4-4 3 0 8 11 4 51 1 16 10 18-3 6 3-4 10-90 3-6 5 0 6 6 5 91 2 7 13-7 5-14-8-12 10-59 3-2 9 4 4 62 2 19 13-20 8-53 2-4 2 1 11 24 3 325 0 8-4 2-6-6-7-33-4 10-16 44-4 3-11-3-3-71-3-3-16 9-4 57-1 7-6-1-6-6-4-44-4 2-6-4-4 9-6 5 10 6 3 4-3-1-12 24-2 7-5-3-10-22-5-6-10-7 0-8 6-6-4 5-7 37-2 11-4 26 3 6-5 0-7-7-5-26 2-44-6-1-4 7-13 57-2 5-3 1-8-6-5-53-2-5-4 6-10 12-6 34-1 14-5 15 4 6-5 0-6-6-5-15 4-14-5-38 0-7-6 2-7 13-8 57-4 3-6-7-6-46-2-5-7 4-12 15 5 8-7 35-3 1-11-57-5-8-6-1-11 6-3 79-2 5-4-4-11-54-4-7-8 1-6 14-5 36-3 2-10-13-5-30-1 0-12-15-4 3-3 13 3 77-6 4-5-4-9-29-4-8-17 32-5 36 0 3-2 0-10-20-2-14-6-15 4-35 0-5-5 21-14 29-2 9-5 8 3 21-5 10 3-1-11-9 4-11-5-18 3-9-5-45-1-11-11 4-7 10-3 70-2 4-5-4-9-90-5 10-8 4-9 74-2 6-5 0-6-6-5-63-1-6-3-2-8 11-8 60-3 7-4 1-6-8-6-53-2-10-13-13 2 6-8 40-3 29 2 9-6 1-5-9-8-40 0-8-11-15 5-9-7 0-5 5-3 81-1 5-4 0-8-5-4-13 2-40-5-37 2-4-2-6-17 29-2 8-4 8 3 40 0 7-4zM1911 3350l15-2 2 6-7 2zM1686 3168l5-2 4 3-7 2zM1690 3075l7-2 3 3-6 2zM1963 3005l4-3 17 9-17 2zM1682 2932l15-2 2 3-9 3zM1719 2929l2 4-4 1zM2015 2918l17 1 13 11-9 6-17-1zM1746 2916l-2 4-2-2zM2023 2877l10 1-5 3zM2004 2877l10 1-8 3zM1691 2878l10-2 8 9 7-2 2 7-4 5-6 0zM1740 2801l13 4-4 9-11-4zM2018 2684l2 10-10 3 0-9zM1845 2651l2-8 13 0-5 9z"/><path class="s" fill-opacity="0.480" d="M2021 3135l-2 10 9 2 2-10zM2068 2980l-5-3-10 7 12 5zM2106 2900l-1 9 4 1 2-8zM2097 2861l-1 9 5 1 2-7zM1691 2844l2 7 2-4zM1600 2820l-2 10 5 2 2-10zM1398 2815l-6 7 0 181 3 9-3 8 0 359 8 6 6-6 0-359-3-7 3-10 0-181zM1398 2737l-6 7 3 18-3 28 8 7 6-7-3-25 3-21zM1398 2686l-6 28 2 18 7 3 3-3 2-29-4-15zM1746 2663l-2 10 7 2 2-10zM1397 2644l-5 28 5 8 4 0 5-8-3-26zM1398 2622l-6 10 4 7 6 0 4-10zM2102 2624l-25-2-24 5-15-7-174 1-5-3 4-11-7-3-7 5 6 6-9 6-45 3-6 8 23 9-1 16-9 4-32 0-7 7 4 8 22 6 0 14-52 7 0 10 36 6 6 18-84 4-8 5 0 4 8 5 62 2 4 3 0 11-5 5-66 5-4 4 4 8 31 6-6 18-83 1-9 5 4 10 81 2 7 8 5 1 8-6 4 1 0 4-19 13-9 2-25-3-68 6-10-3-25 1-7 6 7 8 93 2 10 8-4 4 2 7-36 2-10-11-2 4 5 4-24 6-32-2-7 5 2 9 36 0 7 4 29-2 12 7 10-2 12 11 14-1 3 5-5 3-61 1-21 4-18-2-4 7 6 6 16-3 21 4 56 0 12 4 3 17-46 1-14 4-35-1 0 12 21 2 14-3 52 6 14-2 5 3-13 16-73 3-11 4 0 8 5 4 42-1 23 4 4 4-3 6 2 8-61 5-4 6 3 6 44 6 0 9 8 0 4-4-5-7 15-1 6 3 1 5-17 4 0 7-4 2-54 2-5 4 0 6 5 4 50 4-5 18-64 3-7 4 0 6 7 4 76 4 2 10 8 8-13 1-7-12-2 6-13 7-67 3-5 8 9 5 65 3 6 18-103 7 2 10 105 4-8 11 4 6-2 2-69 4-4 8 11 5 54 2 8 7 18-4 10 8-1 8-10 3-84 2-4 3 2 10 92 3 19 4-11 4 1 9-3 3-15-1-5-4-12 7-56 2-2 10 4 3 57 1 16 5 2 4 8-6 8 1-9 11-10 5-67 6 0 10 50 4 295-1 7-5-4-10-39-5 6-3-3-4-8 2-11-7-12-1 16-5 23 2 36-4 10-6-3-6-70-6 1-15 5-4 52-1 14-5 0-6-5-4-45-3-2-8-10-1 8-10 44-3 12-5-3-10-25-4 1-6-4-3-6 5-13 0-3-3 3-9 43-3 10-5 25 4 6-5-6-10-12-1-13 4-48-9 4-14 5-3 49-1 12-5 0-6-5-4-59-4-2-5 8-10 11-4 39-2 10-7-10-9-46-2-1-15 17-6 48-2 5-5-5-7-48-4-3-7 4-10 42-4 17-6 0-4-7-4-50-4-5-4-4-13 10-4 77-2 4-4-4-9-50-3-10-4-8 4-16 0-6-6 1-11 6-2 5 8 13 2 13-11 34-2 9-5 0-6-9-5-49-3-3-9 7-9 85-2 9-5 0-6-9-5-26-3-28 2-14-10 0-10 25 1 73-8-1-9-13-3-62-1-4-2 2-9-4-5-14 4-5-7 75-3 8-7-6-8-49-2-11-10 0-8 9-4 57-1 17-4-2-10-66-5-17 2-7-3 10-6 8-12 76-5-2-10-67-3-9-11 1-7 50-7 9 3 17-2 0-12-17-2-9 3-11-4-18 0-17-8-12 1-4-4 18-11 67 0 8-5 1-6-7-6-40 0-25-4-5-5-19 8-5-1-2-6 8-11 11 4 2-5 9-3 38 1 44-5-2-10-13 3-9-4-72-2-9-19 32-3 8-5 9 4 36 0 6-3zM1687 3196l5-1 1 4zM1720 2923l4 11-10 1-2-2zM1740 2920l2-5 8 1-5 7zM1689 2877l12-2 20 7 0 7-7 7-15-5-10 1zM1734 2799l12-1 8 4 0 11-13 2-6-7zM1817 2685l3 7-10 4 2-9zM1994 2655l5-2 4 5-5 2zM1963 2649l-10 9-6-3 2-4zM1976 2644l8 4-5 11-10-2zM1863 2643l-5 11-18 1 1-13 18-2zM1941 2592l10 18 7 0 3-9 6-4 27 1 10-3-4-11-48-1zM1848 2590l5 11 27-2 23 10 10-1 13-12-3-9-9 2-10 9-25-12-24-3z"/><path class="s" fill-opacity="0.596" d="M1906 3357l-1 3 4 1 1-3zM1613 3333l-2 8 6 2 3-7zM1398 3319l-5 17 0 42 7 6 5-6-2-57zM1992 3219l8 8 12-3 0-7-5-3-10 0zM1398 3013l-5 8 0 164 4 9-4 25 0 83 7 14 5-14 0-83-4-15 4-19 0-164zM1618 2983l10 8 9-4-6-9zM1597 2943l4 8 11-5-7-7zM2011 2888l2 4 8-1-3-5zM1581 2864l4 8 25 0 8-5-8-7-25 0zM1397 2844l-4 21 3 66-3 16 4 8-4 31 2 22 5 3 4-7 1-18-4-29 4-10-3-11 3-71-2-19zM1397 2817l-4 11 7 11 5-15-4-7zM1729 2803l-1 4 3 1zM1398 2765l-5 23 4 7 4 0 4-10-3-18zM1398 2739l-5 11 2 7 6 2 4-13zM1397 2698l-4 13 3 11 4 2 5-18-2-6zM1397 2653l-4 17 7 8 5-11-3-13zM1397 2624l-3 9 6 5 4-10zM2062 2626l3 10 27 0 7-5-2-6-7-2zM2046 2624l-9-3-123 2-57-3-24 5-27-1-3 4 3 8 19 5-6 6 5 8 13-5-9-11 3-2 7 3 23-1 7 11-9 6-18 4-65 2-4 4 4 10 20 3 4 15 8-4 5-10 7 0 2 8 7 5-11 5-20-1-52 7 2 10 34 4 6 13-3 8-82 5 1 9 59 3 10 4-5 5 2 7-9 6-58 2-7 5 1 6 6 3 42 2 14 4 2 5-4 9-15 3-11-7-10 8-88 4 3 10 110 5-7 10-22 11-60 0-28 6-5-2 5 2-4 7 4-3 12 5 79 4 6 4-5 13-7 3-19-3-66 3-13 6-13-5-19 0-4 3 0 8 4 3 19 0 12-5 11 7 24-2 25 3 12 11 13 0 5 5 5 0 7-14 6-2 5 12-1 7-7 3-97 2-3 3 3 9 86 4 2 13 19 2-3 5-65 1-10 5 0 6 9 4 59 3 2 5-7 6 4 7-92 5-1 12 73 4-1 15 14-4 10 2 5-5 7 6-24 6-61 3-12 5 3 7 59 3 11 5 0 15-81 7-1 6 5 4 54 5 2 2-9 6-3 11-64 5 0 8 78 6 8 20-12 2-13-5-12 5-53 1-10 4 0 6 4 3 69 4 4 3-4 3 1 12-6 3-72 1-20 6 5 6 96 4 3 3-7 9 4 6-3 2-64 5-2 8 12 4 69 3 12 12 1 5-7 4-51 1-24 6-16-4-3 3 3 9 13-1 3-5 3 5 69 3 27 4-12 5-6 13-63 2-9 4-1 5 10 5 79 5-12 7 1 6-4 4-71 4-5 3 2 8 27 3 286 0 25-4 0-8-4-3-36-2-11-6-10 4-13-14 5-4 73-4 5-5-5-7-55-2-12-4 6-15 7-4 61-4-3-10-45-3-14-8 6-13 50-3 10-8-6-6-41-4-6-5 4-13 44-2 8-6-6-9-40-3 1-18 58-4 7-6-1-5-6-3-56-4-2-5 7-12 56-6 4-8-4-4-48-3-7-13-9-3 66-9 3-6-4-4-31-3-5-3-2-8 9-11 39-2 8-5-1-6-7-3-43-3-8-16 2-4 69-4 10-7-28-7-47 0-8-6 0-13 12-2 4 7 10 1 7-8 41-3 6-4 0-6-6-4-53-3-3-9 10-11 85-2 6-3 0-8-6-3-75-3-2-2 7-5-1-13 61-2 12-5 17 2 6-4-11-8-60-1-25-6-1-14 4-3 55 1 17-2 5-5-5-9-47-1-11-4-6-6 5-12 67-3 11-6-4-6-7-2-78-3-7-7 2-3 16 1 11-12 53-2 6-5-6-7-51-3-8-12 2-8 40-2 13-6 14 5 9-4 0-6-13-4-10 5-11-6-54-3-9-10 4-7 11 1 14-5 71-1 4-8-6-6-30 1-34-4-6-4-17 6-10-3 0-6 9-12 60-2 25-5-3-8-76-4-10-19 12-4 23 0 6-5zM1678 3195l18-2 1 14-6 2zM1728 3153l6-2 3 4-8 1zM1719 3121l0 6-4 3-13-2 10-9zM1788 2960l1-4 6 1zM1739 2915l13 1-3 13-12-8zM1986 2854l5-8 18 3-6 7zM1984 2798l12-1-1 10-8 2zM1987 2760l12-1-8 4zM1944 2652l12-11 12-2 16 2 5 7 16 5 1 5-13 2-6-7-7 7-32-1zM1854 2607l-1 3 5 2 1-3zM1887 2593l-5 3 4 2zM1921 2591l-4 0-9 11 5 2 6-5zM1965 2586l-12-2-7 5-1 7 6 9 16-12zM1851 2590l5 9 14-5 9 1-3-5-14-6-6 0z"/><path class="s" fill-opacity="1.000" d="M1398 3359l-3 20 6 3 1-21zM1398 3324l-3 20 5 11 3-21zM1398 3233l-3 71 5 5 3-5-2-70zM2003 3217l-1 6 3 1 2-5zM1398 3211l-3 12 5 7 3-13zM1398 3157l-3 29 5 5 3-5 0-22zM1398 3132l-3 13 5 9 3-17zM1398 3115l-2 7 4 2 2-7zM1398 3093l-3 11 5 8 3-13zM1659 3020l-20-2-8 3-2 6 23 2 7-3zM1398 3016l-3 4 0 52 5 6 3-6 0-52zM1398 2961l-3 27 2 13 3 1 3-24-1-13zM1398 2937l-3 11 5 4 3-11zM1582 2903l4 8 16 0 6-5-6-7-16 0zM1398 2896l-3 6 1 23 4 2 3-25zM1398 2857l-3 14 5 6 3-14zM1398 2819l-3 10 5 5 3-11zM1398 2777l-3 12 5 4 3-10zM2087 2743l-2 8 9 1 1-7zM1398 2741l-3 10 5 5 3-11zM2076 2705l-2 4 3 2 3-4zM2088 2705l2 8 13-1-3-9zM1398 2700l-3 13 5 5 3-14zM1398 2660l-3 11 5 5 3-10zM2000 2646l7 5 4-2zM2082 2625l-2 7 8 2 3-6zM2043 2624l-193-2-14 5-27-2-2 8 4 3 22-2 7 4 24 0 12 4-3 5 3 10-100 7-2 6 3 5 17 1 6 4 22-2 6 4 1 6 14 5 1 4-93 6-2 8 4 3 57 6-23 20-66 3-3 7 10 4 46 3 4 3-5 9 23 4-8 4-16-2-19 5-47 1-5 5 4 7 59 4 6 17-18 4-23-2-17 4-38 0-7 4 0 4 7 4 76 3 2 4-7 12-28 8-74 1-7 5 7 7 80 3 9 6-5 10-12 7-89 1-5 7 3 6 50 1 10 7 11-5 57-2 12 16-12 7-19-7-4 7-8 2-43-1-48 4-2 6 5 3 88 5-7 6 16 0 4 8-5 7-68 2-4 8 5 4 52 1 18 7-6 7 3 8-53 2-9 3-4 6 12 6 36 3 4 5 22-4 5 10 4-1-2-7 6-1 15 11-16 1-11 7-88 3-7 5 6 7 76 3 8 4-14 1-2 12-5 4-59 3-14 5 2 5 85 9 3 5-10 12-35-2-42 9 0 4 7 4 49 4 9 15-2 5-81 7-15-2-4 3 4 7 14-2 6 3 67 3 6 4-5 17-100 4-2 8 14 4 63 0 12 3 2 4-8 8 4 3 8-2 0 4-28 6-39 0-5 3 0 6 19 4 54 2 20 19-25 5-50 1-6 8 12 5 74 1 7 5-21 18-65 3 0 10 76 3 9 4-9 5-9 13-64 3-6 3 2 8 323 1 3-3-3-9-63-4-9-13 0-5 4-2 59-2 11-6-3-5-59-5-9-4-1-4 9-2 7-10 10-3 55-4 0-6-59-7-4-8-6-3 2-3 5 2-5-3 1-3 63-6 8-6-4-6-45-5-5-17 58-7-1-8-48-6-2-3 4-5-15 0-3-3 3-6 29-5 48-1 4-3 0-6-4-3-45-1-21-5 11-12 1-6 37-3 14-6-9-7-33-3-17-14-1-5 64-5 4-7-5-5-24-1-14-5-1-3 5-3-3-7 14-6 39-2 6-7-6-5-43-3-7-12-8 1-8 9-5-1-1-6 25-14 51-1 13-6-4-5-11-3-53-2-3-10-10-9 80-4 9-4 0-6-4-3-56-4-1-10 11-11 89-5-2-8-86-6 9-8 1-10 5-3 60-1 8-4 1-8-106-8 6-8 13 5 9-2 3-10 9-4 53 1 20-5 0-6-4-3-45-1-16-4-28 2-2-5 13-16 87-4 6-5-6-7-66-1-32-6-4-14 6-4 13 1 7 8 7 1 10-10 55-5-1-7-54-5-6-11 2-8 6-3 43-2 4-5-4-7-58-3-11-11 0-6 8-5 62-4 1-9-38-6-26 2-6-4 1-7 8-11 67-3 7-6-17-7-31 1-22-4-12 3-61-3-4-11 8-7 14-3 40 4 22-6 19 1 7-4zM1730 3324l-3 4-4-2zM1755 3324l20-2 2 4-21 2zM1727 3318l8-2 2 5-7 3zM1727 3279l6-6 7 2-5 6zM1713 3199l10-3 2 5-3 4-6 0zM1723 3155l3-4 12-1 17 13-9 5zM1737 3119l16 1 4 6-17-1zM1928 3082l3-6 24 2-15 8zM1741 2998l7 3 0 11-9-6zM1799 2956l-12 18-15-2 11-17zM1942 2933l4-4 9 3zM1802 2929l9-1 2 3-7 3zM1762 2886l-5 8-13-3 6-5zM1866 2883l-13 2 7-6zM1777 2849l-7 5-6-2 9-5zM1808 2847l-5 8-13-3zM1967 2838l3 1-2 7zM1821 2855l5-18 27 15zM1814 2814l4-3 4 2-2 3zM1884 2770l-3 6-7-1 4-6zM1979 2761l11-5 15 4-17 9-5 0zM1919 2651l6-4 6 4 1 6-9 2zM1956 2587l-7 4 4 9 8-5z"/></g><path class="p" d="m962 1256-59 20 58 0 7 0 12 0 32 0-312 19 246 0 9 0 54 0 20 0 8 0 82 0-419 6 222 4 38 2 9-5 6 5 10-3 4 1 4-1 2 3 9-8 8 1 6 2-318 6 184 7 17-3 5-1 38-2 8 2 34 0 15-3 8 4 9 6 1-8 5 8 37-3-164 11 8 1 1-4 20-1 85-2 8 8-139 7 9 7 134-3 18-7 21 3-225 19 8 0 10 0 6-8 3 0 17 4 3-3 122-1 50 0 3 8 6 0 17 0 6 1 30 0 29 0-283 9 5-5 5 6 2-5 5 3 4-3 132 2 5 4 0-6 11-2 20 3-253 13 20 0 18 0 31-5 194 5 5 0 13 5 37-5-273 16 6-4 12-6 1 11 9-9 2 5 4-3 140 1 6-5 4 0 6 1 3 2 48-2-284 13 34 0 12 6 10 1 12 1 142 0 8 0 15-2 27-6 15 1-329 18 46 0 44-9 10 4 14-1 13-2 152 1 9-2 21 9 9 0 22 1-273 6 12-1 8-2 1 8 19-3 161 0 2 4 12-1-302 8 19 0 23 2 37 3 14-1 5 2 8-2 23-7 147 7 78-4-266 8 17 6 13-5 10 7 160-4 6 4 37-4-308 8 17 0 8 0 14 9 36-1 5 2 42-6 141 3 50-7 10 0 6 0-309 19 4 0 8 0 23-3 32-4 193 3 15 4 8 0 6 0 25 0 11 0-275 5 1 8 19-5 9-1 2 6 158-4 8-3 9 0-253 14 82 6 183-6 2-4 4 4 4 0 13 0-245 16 10-2 10-2 4-3 4 7 142 1 13-7 10-1 0 4-219 7 27 6 168 2 4-1 60-7 7 0 7 0 6 0-271 20 22-3 181-1 21 3 10 1-199 13-96 7 8-1 40 0 15 0 222 0 8 0 7 0-306 20 21 0 35 0 194-5 3-5 2 5-247 12 83 2 9 3 3-6 11 6 140-6-237 14 12 0 44 3 15-8 4 8 170-9 15 6 7 0-213 10 13 0 9 0 4-3 2 8 146-4 4-6 5 2-278 12 31 2 19-2 7 0 8 0 39 7 18-2 183-5-277 19 17 1 15 0 64-10 136 3 20-2 10 9 5 0 29 0-226 8 10-3 8 1 6 3 8 1 141 3 6 0 5-9-201 16 7 0 7 4 26-8 4-1 7 9 1-8 119 9 33-5 3-3 5 3-175 7 18 2 115 6 9-8 1 8 6 1 3-8 0 3-245 15 51-7 17 5 25 2 6-1 4 1 126 0 63-7 6 0-264 20 35 0 186 0 7 0 5-5 12 5 21 0"/></g><rect class="ax" x="677.40" y="1234.50" width="491.90" height="476.00"/><text x="699.76" y="1741.20" font-size="21.30" text-anchor="middle" textLength="13.25" lengthAdjust="spacingAndGlyphs">0</text><text x="774.85" y="1741.20" font-size="21.30" text-anchor="middle" textLength="26.50" lengthAdjust="spacingAndGlyphs">10</text><text x="849.95" y="1741.20" font-size="21.30" text-anchor="middle" textLength="26.50" lengthAdjust="spacingAndGlyphs">20</text><text x="925.04" y="1741.20" font-size="21.30" text-anchor="middle" textLength="26.50" lengthAdjust="spacingAndGlyphs">30</text><text x="1000.13" y="1741.20" font-size="21.30" text-anchor="middle" textLength="26.50" lengthAdjust="spacingAndGlyphs">40</text><text x="1075.23" y="1741.20" font-size="21.30" text-anchor="middle" textLength="26.50" lengthAdjust="spacingAndGlyphs">50</text><text x="1150.32" y="1741.20" font-size="21.30" text-anchor="middle" textLength="26.62" lengthAdjust="spacingAndGlyphs">60</text><text x="662.82" y="1696.86" font-size="21.30" text-anchor="end" textLength="26.50" lengthAdjust="spacingAndGlyphs">10</text><text x="662.82" y="1598.52" font-size="21.30" text-anchor="end" textLength="26.50" lengthAdjust="spacingAndGlyphs">15</text><text x="662.82" y="1500.17" font-size="21.30" text-anchor="end" textLength="26.50" lengthAdjust="spacingAndGlyphs">20</text><text x="662.82" y="1401.82" font-size="21.30" text-anchor="end" textLength="26.50" lengthAdjust="spacingAndGlyphs">25</text><text x="662.82" y="1303.48" font-size="21.30" text-anchor="end" textLength="26.50" lengthAdjust="spacingAndGlyphs">30</text><path class="tk" d="M699.76 1710.50v7.29M774.85 1710.50v7.29M849.95 1710.50v7.29M925.04 1710.50v7.29M1000.13 1710.50v7.29M1075.23 1710.50v7.29M1150.32 1710.50v7.29M677.40 1688.86h-7.29M677.40 1590.52h-7.29M677.40 1492.17h-7.29M677.40 1393.82h-7.29M677.40 1295.48h-7.29"/><text x="923.35" y="1222.60" font-size="25.60" text-anchor="middle" textLength="369.38" lengthAdjust="spacingAndGlyphs">std_hand_to_foot vs Difficulty</text><text x="923.35" y="1769.40" font-size="21.30" text-anchor="middle" textLength="177.88" lengthAdjust="spacingAndGlyphs">std_hand_to_foot</text><text transform="translate(624.00 1475.50) rotate(-90)" x="0" y="0" font-size="21.30" text-anchor="middle" textLength="93.50" lengthAdjust="spacingAndGlyphs">Difficulty</text><g clip-path="url(#c10)"><g transform="scale(.5)"><path class="s" fill-opacity="0.210" d="M2666 3208l-7 7 0 10 4 6 7 1 7-7 0-10-4-6zM2642 3171l-2 15 5 8 20 3 12-3 2-14-11-11-20-2zM2655 3004l-13 10-2 14 6 8 14 2 7-7 1-15-6-10zM2707 2734l-8 9 0 10 6 8 7 1 8-9 0-10-6-8zM2908 2693l-7 8 0 17 4 7 8 2 8-9 0-17-5-7zM2733 2693l-7 6-1 15 4 7 8 2 7-6 1-15-4-7zM2808 2690l-9 9 0 16 4 7 8 2 8-9 0-16zM2907 2655l-8 9 0 10 6 8 7 1 8-9 0-10-6-8zM2733 2655l-7 6-1 12 4 8 8 2 7-6 1-12-4-8zM3072 2653l-8 7-1 15 5 8 7 2 9-9 0-14-5-7zM2942 2653l-7 6-1 17 4 7 8 2 7-6 1-17-4-7zM3279 2645l-8 10 0 21 8 9 11-6 3 18-2 3-9-8-9 5-2 36-3 2 0-30-5-11-8-2-8 8-9-9-11 5-1 75-12 11 0 10 11 13-14 8-6 8 2 14 12 6 0 7-12 9 1 18 10 7-2 28 7 15-8 10-1 17 12 10-2 9-12-1-7 7 1 16 6 5 11 0 0 8-11 3-6 7 1 16 13 7 0 9-13 7-1 14 6 9 12 5-9 8-1 14 12 13-1 7-10 11 0 10 6 13-16 17 2 14 19 9-2 6-9 1-6 7 2 18 15 5 0 8-12 6-2 14 9 8 25 2 4 7-4 4-12-2-9 10 0 49 7 13-6 11 0 19 8 8 25 0 7-5 11 5 175-1 9-10-4-18 3-33-4-6-20-6 21-7 4-6 1-12-5-9 4-35-17-15 4-9-1-16-7-6-7 0-5-7 6-4 10 2 7-6-1-18-6-4-10 2-2-6 2-7 12-1 5-4 2-15-9-10-16 0-2-3 2-6 12-6 3-11-3-11-12-3-1-7 14-2 7-15-6-13-16-2 0-8 14-7 2-14-3-19 8-3 5-7-2-14-17-6-1-9 8-7 1-13-5-8-9-3 1-8 15-1 7-5 2-15-9-10-15-1-1-7 23-4 4-16-7-10-19-1-2-7 23-6 4-16-7-10-18-1-2-4 2-5 15-4 4-6-2-14-18-6-3-7 8-4 5-8-2-15-15-13 6-10-1-17-8-6-7 3-4-11 2-5 6 4 8-2 4-16-8-10-10 4-7-5-22-1-5 3-3 24 7 12-7 9 0 31-3 3-14-3-12 2 0-18 8 8 8-2 4-6 0-20-7-11 8-8 1-13-8-10-10 2-4 7-6-8-10 0-5 7 0 18 8 11-8 9 0 34-7 20-5-57 2-34-8-9-11 6-3-10zM3306 3355l13-2 2 6-3 4-8-1zM3270 3353l-2 12-1-11zM3246 3347l1 13-3 1-4-6zM3269 3309l10 6 10-2 2 10-8-3-15 3zM3346 3282l1-3 5 2zM3360 3276l9-1 2 3-8 2zM3264 3281l4-7 12 4 11-2-2 9-10-2-8 7zM3320 3273l1 11-9 8-1-16zM3363 3197l5 0 1 4-5 0zM3319 3196l1 10-5 4-3-13zM3368 3161l-4 5-1-6zM3366 3078l4 1-2 8-4-1zM3313 3040l4-1 1 5zM3365 2920l5 7-3 3-4-1zM3319 2920l1 6-7 4-2-7zM3363 2762l8 6-2 8-6-3zM3412 2723l-7 10-14-1 1-11 9 3 7-4zM3390 2685l-2 10-4-5zM3342 2676l7 11-8 13-8-10zM3299 2616l-7 6-1 12 4 8 8 2 7-6 1-12-4-8zM3072 2616l-7 6-1 17 4 7 8 2 8-9 0-14-4-7zM2839 2616l-8 9 0 50 4 7 10 2 8-10-4-18 2-31-4-7zM3322 2621l-1 15 8 9 8-2 4-7 9 9 11-6 1-15-8-9-8 2-4 7-9-9zM3120 2615l-7 6-1 15 4 7 8 2 7-6 1-15-4-7zM2981 2615l-7 6-1 15 4 7 8 2 7-6 1-15-4-7zM3094 2614l-7 8 0 15 11 9 9-9 0-15-5-7zM3142 2656l-21-3-8 6-1 22 7 11-7 8 0 36-4 4-3-3 2-75-4-6-8-2-8 8-1 38-11-8-14 7-1 16 4 5 0 12-10 9 0 14 10 9 0 9-6 7 0 14 6 14-15 6-5-5-1-187-4-6-8-2-8 8-2 112-19-1-9-6 1-5 7 2 8-9 0-52-8-9-10 4-7-5-10 6-1 19 8 9 7-2 1 8-8-1-8 8-2 38-16-5-1-35-9-9-11 9-2 36-37 0-1-39-5-8 5-11-3-21 3-30-5-8-7-1-8 9 3 29-3 22 5 8-5 11 0 39-15-2-1-9 6-8-2-19-6-4-17 0-8 9 0 31-12 8-8-8-10 4-4 36-4-6 3-106-3-16 5-4 2 5-1 34 12 9 8-9 0-53-9-10-14 5-12-3-8 9-9-12-10 4-2 114-10 8-11-9-10 10 0 12 7 10-6 11 0 34-15 4-2 17 2 6 13 8 2 5-14 3-7 9 0 10 10 12-9 7-15 2-13-2-8-7-8 1 4-23-7-9-8 1-7 14 2 15 12 5-15 9 0 18 6 5 9 1 8-7 8 7 21 6-1 5-28 3-7 10 2 14 6 5 13-4 11 0 7 5 12-4 16 3-3 6-50 0-5 4-20-3-7 7 0 14 7 7 10 1 10-4 6 4 19 0 3 10-6 9 0 10 11 18-5 12-8-9-15 1-6 12-9-13-9 0-7 8-1 23 6 10-2 17 3 6 7 4 13-4 14 6-7 7-9-1-13 6-3 10 2 10 7 5 8 0 13-10 15 0 6 8 12 1 4 7-1 4-11 1-6 10 2 14 12 6 3 7-10 1-6 5-8 25-26 5-9 14 1 51 9 10-6 13-1 15 9 15-9 14 0 10 8 9 120 2 13-3 11 3 21-3 7 3 47 0 11-3 16 3 11-3 5-12 2 8 9 7 28-3 17 3 6-4 11 4 7-5 3-10-3-14-7-10 13-2 6-5 2 38 8 8 23-4 18 4 74-1 7-6 0-18-7-6-9-1-1-6 10-9 0-16-7-15 17-7 2-14-7-8-23-3 4-8 20-1 8-10-1-13-9-12 8-11 1-13-5-8-8-3 0-6 11-8 2-8-3-27 3-19-12-11 0-8 7-14-4-26 5-9 0-10-8-9 0-8 11-13-5-24 4-25-10-12 0-6 11-11 0-10-7-15 7-15 0-10-12-12 12-21-1-8-6-7-1-12 5-18-6-15 1-6 8-8 1-14-5-7-8-2-1-8 7-9-2-14-8-6-10-1 0-8 6 0 7-6 0-20-7-6-13 0 7-9 6 1 7-6 1-15zM2798 3356l1 8-3-2zM3079 3357l8-7 8 6 16-2-2 8-26 1zM2993 3314l-4 7-2-3zM2803 3313l1 3-8 7-1-9zM3107 3322l0-7 5-3 19 4-6 6zM3050 3311l14 4 0 33 5 10-11 7-14-4-1-43zM2866 3309l8 10-7 12 1 13 10 11-6 8-21-3 0-5 7-2 6-8 0-17-9-12zM2682 3279l6 4-5 1zM3108 3274l9 8-3 4-7-3zM3043 3276l5-4 10 0 6 3 0 8-14 4-6-3zM2974 3274l5 4-7 12-1 15 7 15-5 7-4 33-15 3-15-2-8 7-2 8-3-10-12-6 16-17-2-14-9-7 2-7 13-2 0 33 4 6 26-1 6-14-6-12-10-3 0-47 8-3zM2932 3274l1 10-24-1-6 4-3 9 3 27-5 3-6-2 4-24-3-12-7-5-10 1-8 6-4-4 1-12 19 4 35-6zM2829 3272l14 3 1 4-9 3-4 6 2 25-7 20 5 30-9 1-4-6 5-25-9-18 13-11 0-10-8-9 0-11zM3021 3270l1 61-18-15 6-12-1-29zM2896 3240l5-2 2 5-5 1zM2921 3236l11-1 2 5-3 2zM2869 3235l4 3-1 4-5-5zM2830 3236l-1 8-9-2 1-6zM3044 3235l14-1 6 6-9 6-10-3zM3011 3234l11 2-1 12-12-5zM2954 3236l15-1 1 9-14 1zM2866 3196l7 1-1 8-8-2zM2926 3195l7 2-1 8-7-1zM2896 3195l4 1-1 8-4-1zM3044 3196l16-1 3 8-18 3zM2821 3193l7 4-1 8-7-1zM2957 3157l6 0 4 7-8 2zM2923 3156l4 6-2 6-4-3zM2823 3156l7 8-9 5zM2748 3156l7 3-4 7-4-1zM3044 3157l14-1 5 9-18 1zM3020 3156l2 9-11 3-2-11zM2867 3155l4 1-1 8-4-2zM3010 3119l11-2 1 8-4 2zM2957 3122l8-5 6 1 2 5-2 3-11 0zM3063 3117l0 5-5 4-14-2 1-6zM2690 3118l8-4 7 4 1 6-7 4zM2954 3080l15-2 2 7-15 3zM2868 3078l4 9-6-5zM2926 3077l1 3-5 3-1-3zM2820 3079l9-1 1 8-9 0zM3014 3077l8 1-2 9-8-2zM3044 3078l16-2 4 3-2 9-15 0zM2694 3068l2 22-4-12zM2666 3064l8 14-2 9-5 4-8-4zM3044 3038l18 0 1 10-8 3-10-2zM3008 3040l12-3 3 9-3 4-10-2zM2955 3040l13-3 2 8-2 3-12 0zM2746 3002l8 5-7 1zM2896 2999l4 2-2 7-4-2zM2866 2999l7 1-1 8-7-2zM2821 2999l4 1-1 9-5-3zM3043 3005l3-7 16 3-4 7-13 1zM3009 3000l8-3 6 8-3 4-9-1zM2955 2998l5-1 12 10-16 0zM2864 2962l7 5-6 2zM3109 2960l3 5-2 5zM3011 2960l11 3-2 10-11-5zM2961 2961l10-1 1 8-7 2zM2922 2960l1 7-4 1-2-3zM2822 2959l4 1-2 9-4-1zM2748 2960l5 0 0 9-7-1zM3063 2961l-4 7-15 1 0-7 10-9zM2923 2920l6 3-1 7-7-2zM2746 2920l7 2-2 9-6-3zM2713 2922l11-1 1 8-9 1zM3010 2921l11-2 1 10-11-3zM2955 2921l16-1 2 8-14 2zM3044 2919l18 1 1 10-8 7-11-8zM2898 2882l5 6-2 2zM3043 2885l2-4 17 0 2 3-2 5-9-2-8 5zM2965 2887l2-6 5 2zM2919 2887l3-6 8 2-2 7zM2866 2881l7 2-1 7-8-2zM2829 2881l1 8-9 2-2-6zM2746 2882l4-1 1 5zM2932 2845l1 4-3 1zM2955 2843l8 0 6 7-8 2zM2872 2841l0 9-3-7zM2829 2841l1 10-3-5zM2745 2842l7-1 2 6-8 3zM3021 2839l1 12-10 2 1-11zM3043 2843l9-5 11 11-18 5zM2922 2805l5-1 2 6-4 1zM2896 2803l5 5-5 3zM2746 2802l8 0-2 9-7-1zM2958 2794l12 11-2 6-13-1zM3113 2762l1 5-5 5-1-5zM3022 2762l-1 51-10-2-2-9 3-22zM2921 2765l12-3 1 8-11 2zM2972 2761l1 9-9 3-6 7-4-17 12 2zM2898 2761l3 1-2 9-5-5zM2873 2761l0 8-4 3-3-7zM2819 2759l11 4 1 4-10 4zM2745 2755l10 8-2 10-14-9zM3084 2715l3 20-3-1zM2776 2637l4 8-5 9-3-10zM2943 2614l-8 6-1 18 4 6 8 2 8-8 0-15zM3181 2603l-9 10 0 463-4 21 4 19-4 20 4 63-5 23 5 13-3 19 3 20-1 109 5 8 8 2 8-9 1-35-1-125 4-48-3-5-1-47 3-17-3-142 4-25-3-5-1-44 3-20-3-258-6-9zM3259 2599l-6 1-6 8 0 28 9 11-7 6-3 9-8-9-9 3-3 6 1 17 7 6 9-3 3-6 12 10 7-4 4-9-2-17-9-9 9-11 0-28zM2584 2595l-8 9-1 771 3 14 10 4 6-4 3-14-1-771-4-7zM3379 2588l-8 10 2 20-4 7 1 13 8 8 12-5 11 4 8-9-1-15-7-6-12 3 2-20-6-9zM3299 2577l-7 6-1 13 4 8 8 2 7-6 1-13-4-8zM2942 2576l-7 6-1 12 4 8 8 2 7-6 1-12-4-8zM2882 2575l-7 6-1 15 4 7 8 2 7-6 1-15-4-7zM3478 2574l-8 9-1 778 1 24 4 6 8 2 8-8 1-682-1-120-4-7z"/><path class="s" fill-opacity="0.241" d="M3020 3332l-10-3-8-10-8 1-5 5-11-1-5 7 0 33-37 2-5 8 2 11 9 5 26-4 13 4 10-4 13 3 6-7-1-14-5-7-10 1-2-10 25-5 4-5zM2661 3217l2 8 12-2-2-8zM2641 3179l2 9 6 3 19 2 9-5 0-6-13-11-18 1zM2654 3052l-10 4-3 10 1 14 8 6 7-4 6-16-1-8zM2654 3008l-11 9-1 10 6 6 10 2 8-5 1-13-6-8zM2657 2856l-7 1-5 8 0 11 7 5 9-5 3-8-2-9zM2709 2738l-7 4-1 10 9 6 7-4 1-10zM2733 2697l-7 7 0 8 3 5 8 2 7-7 0-8-3-5zM2909 2696l-6 4-2 12 4 9 8 2 7-7 1-10-4-8zM2808 2694l-7 5-2 12 5 8 8 1 6-6 1-10-5-8zM2909 2659l-7 4-1 10 9 6 7-4 1-10zM2734 2659l-6 3-2 8 3 7 7 2 6-3 2-8-3-7zM3350 2657l-7 7 0 10 3 5 10 2 6-6 0-11-5-6zM3329 2657l-7 6-1 12 5 9 8 1 6-6 1-12-4-8zM3113 2663l-1 13 8 10 11-6 9 0 5-6 0-10-5-6-20-1zM3071 2657l-7 7 0 10 5 6 7 1 7-6 0-12zM2941 2657l-5 4-2 10 5 9 8 1 5-4 2-10-5-9zM3266 2658l-5-5-9 1-6 13-5-9-10 0-5 9 1 8 4 5 8 1 7-10 5 9 11 1 5-6zM3278 2650l-7 11 1 14 6 6 6 0 6-6 7 20-6 10-8-9-10 4-1 35-3 4-3-5-1-35-9-4-9 10-7-10-12 3-2 17 5 20-5 8 3 20-3 12-10 9 0 6 10 9 0 10-19 13 1 10 11 5 2 14-12 6-2 10 14 14 1 15-4 12 6 10 1 13-9 6-2 10 13 16-4 12-10-1-7 6 4 13 15 2 0 14-12 3-6 7 1 10 14 9-1 12-13 9 0 10 18 11 0 7-11 11 3 11 9 8-1 10-9 10 0 8 8 9 0 5-18 19 0 6 6 7 13 3 0 14-8 0-8 8 1 11 7 5 7-1 2 16-13 9 0 6 15 9 15-1 12 10 12-10 11 4 12-2 0 15-14 0-6 7-12-9-11 3-13-2-8 5-1 53 4 6 8 2 8-9 2 17-2 5-9-5-6 2-5 8 0 11 9 9 24 0 8-6 12 6 174-2 7-9-8-16 7-9 0-21-8-7-19-3-2-5 3-6 8 2 15-5 4-5 1-8-6-17 5-26-20-16-6 0-7 6-3-3 1-8 15-1 7-8-1-10-14-6-6-6 0-7 8-5 9 2 6-3 0-14-6-3-9 2-4-12 4-8 12-2 6-8-6-12-20-3 0-13 10-3 5-8-1-10-6-5-8 0 2-15 12 0 5-5 1-11-7-7-11 1-4-16 15-8-2-33 8-2 5-6-1-8-4-4-10 0-8-15 11-8 2-9-3-6-11-5 0-14 18-2 7-9-5-12-20-5 0-11 19-2 8-10-4-10-23-4 0-15 19-1 7-12-7-10-19-2 0-13 12-9 5 1 2-8-7-1-20-18-8 3-3-6 2-3 5 3 16-3 5-5 0-12-17-13-12 7-12 1-4-6 1-14 11 3 6-4 10 4 6-4 0-16-6-4-9 2-9-15 8-8 7 4 7-2 3-9-2-6-6-3-9 4-7-6-23 0-5 4-2 13 5 10 7 1 7-5 7 4-8 16-7-5-9 5-3 38-29-1 0-24 10 8 10-6 1-15-4-7-12 0-5 12-5-8-10 0-5 8 0 33-8 22-2-55-6-10 5-9 0-22-8-7-10 7-3-10zM3321 3350l-2 16-7 0-9-6-12 3 1-13 7 4 10-5zM3270 3349l1 17-3 3-2-16zM3362 3314l4-2 4 3-5 3zM3245 3310l2 24-3-7zM3270 3304l7 7 14 0-1 17-7-4-16 2zM3410 3275l12-4 5 10-16 1zM3371 3272l-1 12-29 1 0-5 6-5zM3322 3270l3 5-4 14-8 7 0 6 6 7 0 15-4 3-4-19 0-36zM3364 3234l3-1 3 6-6 1zM3319 3193l2 15-6 6-4-18zM3363 3192l7 3 0 11-8-2zM3312 3158l7 0-1 11-7-1zM3369 3155l1 10-6 4-2-11zM3319 3115l-2 12-4 2-1-9zM3365 3075l6 1-2 14-7-1zM3363 3039l5 5-4 7zM3316 3035l4 3-3 11-6-6 0-6zM3311 2997l9-1 1 7-8 5zM3365 2995l4 7-3 8-4-2zM3364 2964l7 1-2 8-6-3zM3270 2957l1 15-3 2-1-15zM3364 2917l4 0 3 6-2 10-7-1zM3319 2916l2 13-9 4-3-10 5-7zM3365 2842l5 2-1 10-5-3zM3318 2839l-6 13-1-12zM3268 2798l3 1-1 12-3-1zM3370 2797l1 16-4 1-1-10zM3268 2759l3 2-1 15-3-1zM3362 2758l9 5-2 17-7-5zM3247 2715l1 18-3 3-2-6zM3300 2620l-6 3-2 8 3 7 7 2 6-3 2-8-3-7zM3072 2620l-7 7 0 9 5 7 6 1 6-5 1-12-4-6zM2881 2620l-6 6 0 19 6 11-6 7-1 8 5 9 7 2 8-11-1-8-6-7 6-11 0-19-4-5zM2839 2620l-7 8 0 17 5 10-5 18 4 6 7 2 8-7 0-10-5-7 4-29-3-6zM2784 2622l-6 7 0 6 7 7 14-6 0 38 5 8 6 2 9-10-1-46-8-8-6 0-7 6zM3350 2619l-7 7 0 8 3 5 8 2 7-7 0-8-3-5zM3329 2619l-7 7 0 8 3 5 8 2 7-7 0-8-3-5zM3120 2619l-7 7 0 8 3 5 8 2 7-7 0-8-3-5zM2981 2619l-7 7 0 8 3 5 8 2 7-7 0-8-3-5zM2942 2618l-6 4-2 11 6 9 6 1 6-5 2-10-5-9zM2764 2618l-7 5-2 10 2 6 9 6 7-6 2-10-2-6zM3095 2617l-6 4-2 11 4 8 8 2 6-4 2-11-4-8zM3035 2617l-8 2-4 8-2 112-22-3-6-4-2-13 13 0 5-9-1-46-7-6-10 3-10-4-6 4-2 12 4 8 14 1 0 15-9-2-8 7 1 23-4 18-6-5-11-1 0-34-8-10-6 1-6 9 0 34-24-2-8 4-8-2-3-14 3-21-5-11-10 0-4 6 2 26-4 16-13-3-8-12 11-10-1-14-7-5-16 1-8 10 2 29-9 3-5 7-8-9-10 4-2 34-3 2-8-12 7-13-1-9-6-7 7-14-4-38 4-12-1-16-3-5-8-1-8 14-3-11-9-4-7 8-1 68 3 11-13 11-8-10-7 1-5 6 0 10 6 7 10-2 4-8 11 11-1 14-6 1-10-7-9 2-5 11 1 30-9 0-8 8 1 12 15 10 0 11-14 3-5 6 0 8 7 7 12 1 0 10-39 7-21-8-17 8-6 7 1 8 7 6 8 0 7-6 9 7 24 5-5 13-23 1-9 6-1 11 5 6 25-4 9 5 14-4 12 3-1 13-50 0-7 5-17-4-9 7 4 13 12 2 10-4 7 5 17-1 11 12-12 14 2 9 10 12 0 10-5 7 3 33-5 1-8-17 6-11-2-9-14-4-9 7 1 10 10 7-6 13-7 7-14-6-6 7 0 10 6 6 8 0 6-5 7 6 25-4 9 6 1 12-9 4-8-8-9-1-8 8-15-1-8 8 1 10 9 5 10-3 6-7 13 1 4-3 6 9 13 2 12 12-2 5-17 0-7 10 1 8 19 11 5 8-20 3-5 5-6 23-28 7-7 11 0 47 9 10 0 11-6 7-1 12 12 19 0 4-11 9 0 6 6 7 120 3 11-4 12 4 18-5 11 5 24-3 56 2 8-7 0-10-4-5-10-3-19 3-8-7 13-5 15 0 13-12 0-10-13-9 8-14 12-1 0 33 4 7 23 0 6-5 0-12-13-6 0-55 11-3 24 6 5 12-13-4-7 6-2 8 3 15 9 4 8-5 9 2 7-5 1-13-5-9 5-14 12-5 2 115 5 7 18 1 11-4 16 5 9-3 56 3 9-2 6-7-2-12-17-9 0-7 11-8-2-19-5-5-23 6-8-1-2-4 4-13 11 3 23-2 13-8 0-6-6-6-12-3-29 2-4-17 6-1 5 6 8 2 8-7 21-2 6-9-11-23 0-6 8-5 2-9-13-12 1-12 11-10 0-21-6-8 6-10 0-8-11-10 0-12 6-8-3-33 4-6 0-9-7-7 0-12 11-14-6-22 4-23-8-10-1-13 11-11-9-25 8-20-10-9 0-14 10-8 0-10-8-12 0-12 6-12-7-11 0-12 9-10 2-9-3-6-9-3-3-9 7-13-1-10-7-6-12-2 2-13 9-2 4-5 1-8-5-9-21-2-5 3-3 6 2 33-6 8-7-10 6-20 0-47-4-9-8-2-8 11-1 44 6 23-5 4-4-3-3-15 4-11-2-10-14-4-6 6-1 10 6 12-3 12-9 8 0 8 10 10-1 15-5 6 0 8 5 6 0 16-15 6-6-9-1-44 1-139zM2751 3359l-4 5-1-3zM2798 3350l6 13-8 5-3-5zM3084 3311l3 1 1 17-4-5zM3043 3311l11-4 11 5-1 31 4 8 10 2 8-6 9 5 16-3 0 15-27 3-12-6-15 8-13-4zM2866 3304l13 18-9 7-2 9 16 21-21 8-13-3 0-12 12-6 2-13-17-20 14-3zM2680 3274l14 2 2 10-13 2zM2796 3271l5 3-4 10-3-1zM3087 3270l1 14-4 3-1-14zM2932 3270l1 18-11-2-19 4-2 20 8 13-11 7-13-7 8-10 0-22-7-5-9 1-9 8-4-4-1-20 27 3 9-4zM2822 3269l24 4-2 9-9 3-4 7 4 23-7 19 4 15 0 17-4 3-14-6 7-22-4-18-10-5-11 9-3-6 2-11 16 2 14-10 0-6-6-4-2-20zM3043 3271l8-3 11 2 3 16-11 5-10-2zM2896 3234l5 0 7 7-6 7-7-4zM2752 3233l3 1-1 10-6-4zM3108 3232l4 1-1 13-4-3zM2865 3232l9 3-1 12-9-6zM2820 3232l11 1-1 14-11-1zM2717 3232l6 3-2 11-3-1zM3010 3231l13 2-2 19-13-5zM2954 3232l16 0 3 3-2 11-6 4-10-2zM2914 3241l8-9 12 1-1 13zM3043 3231l20 1 1 13-7 4-12-2zM3109 3201l3 1-1 5-4-2zM3021 3193l1 15-5-3zM2966 3193l7 1-1 12-8-10zM2954 3198l1-5 5 2zM2863 3193l11 1-1 14-9-1zM2896 3192l5 1-1 15-6-2zM2924 3191l10 3-1 14-10-2zM3043 3193l3-3 14 2 6 14-22 4zM2820 3189l10 8-1 11-10-3zM2900 3158l1 11-5 1-2-8zM2957 3153l12 6-3 10-9-1zM2923 3153l6 6 0 10-8 1zM2823 3153l8 5 0 9-10 6-1-19zM2794 3153l5 9-2 7-5-12zM3043 3154l17 0 4 4 0 11-19 1zM3010 3152l12 1-1 17-12 0zM2754 3152l1 15-8 2-2-14zM2868 3151l5 4-2 13-7-3zM2829 3115l1 13-8-7zM3110 3114l1 9-3-3zM2956 3118l5-4 10 0 2 14-16 1zM3010 3114l13 1-1 15-12-5zM3062 3112l0 15-5 3-13-2 1-14zM2716 3077l5 11-3 3-5-2zM2900 3076l0 12-4 2-1-8zM3111 3074l-1 16-2-10zM2954 3075l16 0 3 13-18 3zM2921 3076l12-1 1 9-13 4zM2869 3074l5 9-2 8-9-8zM2820 3075l11 1-1 14-11-2zM3043 3074l19-2 2 18-18 1-3-3zM3021 3073l1 16-11 0 1-13zM3109 3040l3 1-2 8-3-4zM2796 3035l3 6-4 8zM2744 3035l1 7-4-3zM3010 3035l13 1-2 17-13-3-2-10zM2824 3034l7 10-4 8-6-6zM2728 3034l3 4-5 3-2-4zM3046 3033l18 3-2 18-19-2zM2969 3034l2 14-16 4-1-16zM2747 2997l8 4-1 11-9-2zM2722 2997l3 1 0 11-6-9zM2925 2996l-3 13-1-11zM2895 2996l6 2-3 13-4-1zM2820 2996l7 5-3 11-5-2zM2797 2996l2 6-3 7zM2865 2996l9 0-1 15-9-2zM3109 2994l3 3-1 14-4-2zM3043 2997l4-3 16 2 1 8-5 7-14 2zM3010 2995l7-2 6 3-2 16-13-3zM2954 2994l17 6 2 10-8 3-10-2zM2796 2960l3 2-1 9zM3108 2957l4 1-1 15-4-2zM3010 2957l9 0 4 4-2 15-5 1-7-5zM2955 2959l16-2 2 14-9 2zM2925 2958l-1 13-11-3-10 2 3-9zM2865 2957l9 6-2 9-9-3zM2747 2957l8 2-1 13-9-1zM2827 2954l0 15-7 3-1-13zM3055 2947l9 11 0 7-5 7-12 2-4-3 0-11zM2922 2917l11 5-7 12-5-2zM2798 2917l-2 16-2-10zM2746 2917l8 1-2 16-8-4zM2954 2918l18-1 1 15-15 1zM2899 2916l1 16-5-3zM2707 2920l10-4 7 2 2 14-11 1zM3021 2915l2 17-13-2-1-12zM3045 2914l19 4 0 14-9 11-5-8-7-3zM3109 2881l3 1-1 11-4-1zM3022 2880l-1 15-6-5zM2894 2880l5-2 8 9 6 1 9-10 8 0 3 9-3 6-20-3-10 3-6-7zM2865 2878l9 2-1 13-9-1zM2830 2878l1 14-11 2-1-14zM2796 2878l3 1-1 14-3-1zM3043 2878l20 0 1 14-14 0-5 4zM2971 2878l2 9-12 6-2-3 6-12zM2748 2877l7 3 0 6-5 5-6-7 0-5zM2933 2840l1 11-6 3 0-11zM2896 2840l4 9-2 5-4-1zM2954 2839l17 5 2 8-13 3-6-7zM2874 2839l-1 15-11-13zM2828 2838l3 1-1 16-5-8zM2796 2838l3 4-1 12-4-6zM2746 2837l9 2 0 12-7 3-4-6zM3022 2836l1 18-12 3 0-16zM3049 2833l15 10 0 10-19 5-2-20zM2922 2800l5 0 6 8-2 7-8-3zM2798 2800l1 12-3 2-1-11zM2895 2799l6 3-1 12-6-1zM2828 2799l3 1-2 14-4-2zM3111 2798l1 13-3 3-2-10zM2752 2797l3 2 0 12-9 4-2-14zM3127 2760l2 4-3 2-2-3zM2775 2759l7 3-6 8zM3113 2758l7 6-12 12-1-15zM2922 2760l13-1-3 17-11-2zM3021 2757l3 6-2 53-13-3 1-37 7-5zM2898 2757l5 3-3 15-5-2-2-13zM2875 2757l-1 14-4 5-6-5 0-9zM2972 2756l1 18-8 2-6 7 0 8 12 11 1 8-5 5-11-1-2-18 3-13-5-22 2-3 11 3zM2819 2752l5 6 12 3-4 9-7 5-6-2zM2775 2724l6 9-4 4-6-3zM2776 2675l3 8-4 21-2-22zM3179 2608l-5 4-2 11 0 586-4 13 4 8 0 152 4 6 7 2 9-10 2-439-2-318-2-11zM3255 2603l-7 7 0 24 3 5 8 2 7-7 0-24-3-5zM2583 2599l-7 11 0 771 11 9 9-9 0-771-5-10zM3376 2594l-4 11 6 12-7 8 1 13 7 5 11-6 8 5 5-1 5-6-1-12-7-5-10 5-6-6 6-12-1-7-6-5zM3297 2582l-4 4 0 11 4 4 8 0 4-4 0-11-4-4zM2943 2580l-6 3-2 8 3 7 7 2 6-3 2-8-3-7zM2882 2579l-7 7 0 8 3 5 8 2 7-7 0-8-3-5zM3479 2577l-9 10 0 794 11 9 9-9 0-794-5-8z"/><path class="s" fill-opacity="0.317" d="M2870 3334l1 6 14 14 10 0 6-5 4 4 11-2 9-11-1-6-9-6-19 5-18-6zM3019 3335l-8-1-10-12-12 6-11-1-5 9 0 32-34-1-7 9 2 7 6 4 27-4 11 4 13-4 6 4 9-2 3-14-5-7-12 0-2-15 28-7zM2886 3289l-10 1-7 8 1 8 12 11 9-4 3-11-1-8zM2974 3291l-1 13 8 8 11-5 9 2 7-5 0-10-7-6-9 2-11-5zM2643 3180l2 5 10 3 5-2 7 3 3-3-4-11-11-1zM2693 3131l-8-5-11 10-11-4-10 7 0 5 5 5 9 0 10-11 12 3zM2649 3056l-6 6 0 15 12 3 5-19-4-5zM2670 3060l0 6 7 5 7 0 7-7-8-9zM2654 3011l-8 7-1 8 5 5 9 1 6-4 1-10-5-6zM2652 2860l-5 4-1 8 11 4 5-12zM2704 2745l1 7 10-1-1-7zM2731 2739l-5 5 0 8 5 5 7 0 5-4 0-10zM2731 2701l-4 5 1 6 11 3 4-5-1-6zM2909 2699l-6 4-1 9 10 8 7-5 1-9-3-5zM3120 2698l-6 4-2 7 7 25-10 18 11 7 10-2 7 3 8-5 2-10-5-6-15-2-2-5 8-15 10-2 2-10-7-7zM3072 2698l-9 6 0 8 11 10 7-7 2-9-4-6zM3234 2697l-8 9 5 22 10 0 5-22-4-7zM2807 2697l-5 3-2 11 3 5 8 2 5-3 2-11-3-5zM3350 2694l-7 6 0 12 11 6 7-6 0-12zM3400 2690l-8 3-3 10-6-5-9 3-4 41-16-4-12 3-4-12 2-25-7-6-10 4 1 27-8 33 4 13-9 1-1-72-7-7-11 7-1 35-3-10 1-26-6-4-10 4 1 26-6 13-4-13 2-25-11-6-7 7 0 32-14 0-7 7 0 9 6 9-13 23 1 7 5 4 0 17-16 10 0 6 11 7 3 15-15 10 0 7 17 11 0 16-5 9 5 13 0 17-9 5-1 10 11 8 1 8-3 12-17 4 1 7 9 0 8 5 0 18-17 8 0 8 16 11-3 14-13 13 17 11 0 14-9 8 1 7 10 11-2 14-8 10 2 7 6 4 0 10-14 15-1 8 6 6 9 1-1 21-12 2-2 8 7 7 8 0 3 18-7 7-1 8 7 6 15-1 12 8 7-1 6-7 11 4 13-1 0 20-17 1-3 12 7 6 11-2 3 7-3 17-8-5-15 4-2-9 4-25-5-6-30-1-7 5 4 18-3 33 5 4 11-4-2-35 5-2 2 12-1 45-15-1-6 6 0 11 7 6 25 0 8-6 9 6 158 0 19-2 5-5-1-8-13-6 0-6 14-8-1-19-30-8-1-8 7-8 8 2 17-7 1-9-7-24 6-7 1-9-18-14-15 5-5-9 4-8 13-1 8-8-3-7-17-8 0-14 23-8-2-6-13-1-9-11 0-7 8-8 13-3 4-7-6-7-18-2 0-19 8-2 6-8-3-8-11-2 0-19 14-2 5-11-5-6-15-2-4-17 15-8 0-24-5-6 4-6 11-4 0-6-11-3-9-14 0-10 10-5 2-5-12-9-1-17 2-3 14-1 8-6-2-9-21-5 1-19 19-2 5-5-5-9-20-3-1-19 2-3 17 0 6-10-6-6-18-2-1-17 10-7 1-8-15-13-11 1-5-9 3-7 22 0 4-5-1-8-15-10-12 6-16-1 1-24 6 4 11-5 11 4 6-7-4-10-12 2-3-9zM3289 3348l2-2 9 5 10-5 10 0 3 8-2 13-9 2-9-6-11 4zM3267 3346l6 3-5 24-3-9zM3362 3309l9 1 1 7-5 6-7-7zM3337 3309l8 2-4 11-5-8zM3421 3268l6 7 1 10-18 0-1-12zM3372 3271l-2 16-29 1-1-11 7-5 7 1 8-5zM3320 3267l8 4 0 6-10 19 4 12-1 19-7 3-3-4-1-55zM3268 3235l3 3-2 12zM3365 3230l6 5-2 9-7-1zM3312 3229l4 14-3 6-3-2zM3319 3190l2 22-6 6-4-7 0-20zM3270 3190l-1 11-2-9zM3363 3189l8 5-1 15-8-2zM3319 3153l2 5-2 14-8-1 0-15zM3370 3152l1 15-7 5-2-18zM3268 3115l3 3-2 13zM3320 3112l1 10-4 9-5 1-1-13zM3313 3074l5 4-3 11-4-3zM3364 3072l7 1 0 18-3 2-7-3zM3268 3042l3 2-1 9-3-1zM3362 3035l8 7 0 8-6 4zM3312 3033l9 3 0 13-4 3-6-5zM3409 3003l3 4-2 5zM3312 2993l9 1 0 14-8 3-3-9zM3366 2992l4 5 0 14-7 2-1-16zM3268 2992l3 1-1 11zM3370 2960l2 13-5 3-5-4 0-10zM3342 2959l-1 15-2-8zM3313 2955l4 3-2 7-3-1zM3270 2954l3 16-5 7-1-21zM3270 2918l2 9-3 9-2-11zM3293 2917l4 8-5 8zM3365 2914l6 4-2 18-7-1 0-19zM3321 2915l0 17-9 4-5-14 7-9zM3319 2887l1 5-8 3-1-5zM3370 2886l-1 9-4-6zM3271 2878l1 16-4 2-1-10zM3364 2838l7 2 0 15-3 2-6-7zM3319 2835l2 9-9 13-2-17 2-4zM3268 2795l4 3-2 16-4-2zM3368 2792l3 3 0 21-6 1-3-3 0-14zM3391 2756l3 5-4 5-3-7zM3268 2756l4 5-2 18-3-1zM3246 2756l0 20-7-14zM3361 2755l12 5-1 17-4 7-6-5zM2780 2687l-4 34 4 7 6 2 7-5 1-21-3-16zM2904 2666l1 7 10-1-1-7zM2728 2667l2 6 12-2-2-6zM3298 2661l-5 4 1 21 8 4 7-6 1-16-4-6zM3350 2660l-6 5 0 8 5 5 7 0 5-5 0-8zM3329 2660l-6 4-1 11 4 6 7 1 7-7 0-8-3-5zM3113 2666l0 10 7 7 24-10 0-8-5-4-20-1zM3095 2660l-7 8-1 45 3 13 9 3 5-3 2-58-3-6zM3070 2660l-5 5 0 8 5 5 7 0 5-4 0-10zM2839 2660l-5 4 0 10 12 3 4-11-4-5zM3372 2666l0 8 5 7 24-3 7-7 15 0-2-6-13 2-7-7-11 2-10-3zM3235 2659l-7 5-1 7 10 8 7-5 1-7zM2942 2659l-5 3-2 10 3 5 8 2 5-3 2-10-3-5zM2882 2659l-6 4-1 9 3 5 8 2 5-3 2-10-3-5zM3256 2656l-7 5-1 12 4 5 8 1 6-5 1-9-5-8zM2781 2654l-5 17 10 11 7-8 1-13-3-6zM3280 2653l-7 5-1 14 3 5 8 2 6-4 1-14zM2784 2627l-2 7 8 2 2-7zM3294 2628l2 6 12-2-2-6zM2836 2625l-2 21 12 2 2-20-2-3zM3070 2624l-4 6 1 7 12 2 2-12zM3348 2623l-4 5 1 6 11 3 4-5-1-6zM3327 2623l-4 5 1 6 11 3 4-5-1-6zM3118 2623l-4 5 1 6 11 3 4-5-1-6zM2979 2623l-4 5 1 6 11 3 4-5-1-6zM2882 2623l-6 5 0 14 3 5 7 1 6-6 0-14zM2805 2623l-6 8 5 12-4 30 10 8 8-8-5-27 4-15-4-6zM2763 2621l-5 3-2 9 10 8 7-5 1-7-3-6zM3372 2626l0 8 7 6 11-6 6 4 11-4 0-8-5-4-12 5-11-7zM3095 2620l-6 4-1 8 4 6 7 1 6-4 1-8-3-5zM3035 2620l-11 6 4 17-4 9 1 48-4 44-27-7-6-16 3-7 9 4 8-8-2-46-26-4-6 6 3 12 8 2 7-3 1 19-2 5-10-3-7 7 4 14-5 24 1 30-2 5-11 6 1 8 11 10 0 10-4 5-15-1 1-33-5-24 3-4 15 1 3-9-5-5-12-2-3-18 2-19-7-7-11 7 2 19-4 20-24-4-11 5-11-21 6-11 0-10-4-6-10 0-4 6 0 10 6 11-8 22-23-10-2-15 14-5 0-12-6-4-16 0-8 8 5 29-16 10 0 6 5 5 11 3-5 14-5 4-8-1-1-31-10-7-8 7-1 32-3 1-9-11-6 1-6 7-2-17 13 1 5-3 3-11-7-7-13 3-7-6 7-11-3-35 3-27-4-8-12 2-2 68 7 11-15 11 10 16-4 17-13-6-13 4-1 38-10 0-7 7 1 8 14 9 2 9-3 9-13 2-4 8 6 7 13 1 4 4-6 13-9-1-13 6-17 1-13-6-11 0-15 9 0 8 4 4 7 0 8-7 5 6 18 6 26-4 12 2 2 15-3 5-10 0-6-9-10 0-8 13-16-2-10 3-4 7 7 8 21-5 8 5 28-1 2 11-3 8-24 3-26-2-8 8-15-7-8 5 0 6 13 5 10-7 8 8 18-1 13 15-2 6-11 7 1 8 11 10 23-7 6 3 11-2 6 6-5 8-6-4-19 3-6-6-15 22 1 21 11 1 5-10 9 9 1 9-8 3-12-2-10 5-8-14-9 0-13 18-6-7-8 0-5 6 6 10 7 0 6-7 7 8 26-4 9 6 7 16-16 7-2 5 4 6 12 2 6 9 5 1 2 9-3 4-17 0-5 5 0 8 30 18-9 8-18 1-5 7 1 14-10 10-23 3-8 11 3 28-3 15 10 12-8 28 18 22-2 6-12 5-1 6 4 5 119 3 11-5 13 5 16-7 12 7 24-3 23 3 8-4 26 3 6-6 0-6-6-6-26 3-9-7-18 6-17-2-2-17 14-8 1-10-17-14-12 2-5 16 5 13 0 17-7 7-16-9-13 7-6-4 6-22 10 14 10-9-1-25-10-4-10 8-5-7 3-16 16 2 7-4-1-23-5-10 16-7 21 6-4 13-13 8 1 13 10 6 16-3 5-5-1-18-5-12 3-5 21 3 19-4 32 1 2 23-30 0-3 19 10 8 10-11 11-3 3 9-1 29 12 6 13-2 6-5 0-6-13-9 1-58 12-3 15 6 8-1 5 10 10 0 4-11 14-8 1 117 4 7 20 1 8-6 17 7 10-3 56 3 13-6 0-8-14-6-5-6 0-11 10-4 3-5-2-12-4-4-25 5-13-4 7-20 29 3 13-6 1-7-12-6-20-1-9 4-10-21 11-4 6 6 7 1 8-6 19-1 6-6 0-6-8-8-3-17 10-12-12-11 2-17 10-10-1-15-9-6 0-9 7-4 2-9-9-7-1-5 1-15 5-5-4-30 5-11-6-10 0-19 10-13-2-10-6-7 6-23-9-16 1-12 9-8-10-22 1-10 8-9-8-10-1-16 10-11-1-8-8-9-1-14 7-14-7-8 1-19 10-13-10-7-2-8-7-6-11 7-9 0-8 9-3-3-1-34-10-5-10 6-5-16-11-1-5 14-7 5 0 6 9 9 0 15-5 9 4 13-1 19-16 8-5-9-2-50 1-113-4-11 4-15zM2752 3355l3 7-9 6-2-9zM2724 3347l4 3-2 8-5-5zM2751 3312l2 3-7 9-1-10zM3083 3308l4 1 6 16-6 8-7-19zM3044 3304l10-2 14 9-3 24 3 13 9 2 8-6 9 5 17-3 1 20-28 4-11-6-18 10-11-6zM2680 3270l17 6 1 8-4 6-10 1-5-4zM2801 3269l5 5-7 12-6 2 2-18zM3084 3268l10 3-7 19-6-2zM3051 3264l16 8 0 15-13 9-11-3 0-25zM2755 3231l-1 16-9-5 0-9zM3108 3229l5 8-2 12-4-2zM2934 3230l-1 19-24-3-8 5-7-5 1-15 18 7 9-9zM2865 3229l9 3-1 17-9-3zM2820 3229l11 1-1 21-11-2zM2716 3229l9 3-4 17-8-13zM3010 3228l13 2-1 26-15-7zM2955 3228l18 3 0 15-7 7-13-5zM3044 3226l21 5-2 18-7 4-13-4zM2739 3204l8-1 2 3-8 2zM3111 3197l2 11-5 3-1-13zM3086 3192l1 17-4 1zM2798 3191l1 20-3 1zM2954 3191l18-1 1 19-8-7-10 2zM2861 3191l13 0-1 20-9-1-5-13zM3022 3189l1 20-11 0zM2924 3188l10 3-1 20-11-3-1-15zM2896 3188l5 2-1 21-6-2zM3043 3189l4-3 14 3 7 14-1 6-23 5zM2820 3185l11 10-1 16-11-2zM2900 3154l2 16-7 4-1-17zM3108 3151l3 2-2 9-3-5zM2956 3150l14 6 1 7-5 9-10-2zM2923 3150l7 4 0 17-4 3-6-4zM2820 3150l11 5 0 15-10 7zM2794 3150l5 7-1 14-9-14zM3044 3149l13 0 7 6-1 18-20-1zM3021 3149l2 23-13 3-2-23zM2776 3149l5 8-6 8zM2754 3149l1 21-9 2-2-21zM2869 3148l5 5 0 16-3 2-7-2 0-17zM2932 3116l2 5-9 10-3-5 2-8zM2900 3113l3 6-2 11-7-3 0-11zM2746 3113l3 11-2 8-4-7zM2872 3112l2 15-7 6-3-3 0-16zM2830 3112l1 19-12-5 0-9zM3111 3111l0 16-4-5 0-9zM2954 3115l8-4 10 1 1 19-16 1-3-3zM2796 3111l3 2-2 14zM3010 3111l13 0-1 22-13-6zM3061 3108l3 3 0 17-8 5-11-1-2-19zM2797 3079l2 10-3 3-2-9zM2900 3073l1 17-6 3-1-15zM3085 3072l4 10-3 9-3-9zM2867 3072l7 5-1 17-13-9zM2955 3071l18 3-1 18-18 1zM2933 3073l1 14-13 5 0-19zM2821 3072l10 1-1 20-11-2zM3111 3070l2 21-3 2-3-16zM3021 3069l2 22-13 1 0-18zM3047 3067l17 2 1 19-4 8-18-4 0-22zM2926 3044l4 3-2 7-5-5zM2994 3040l3 3-2 4zM2896 3039l5 7-1 7-7-2zM3109 3036l3 1-1 15-4-1zM2798 3033l1 13-5 6-2-8zM3086 3031l2 15-3 6zM3010 3032l13 1-2 24-12-3-8-9zM2969 3031l4 5-1 15-17 4-1-21zM2823 3031l8 7 0 15-5 2-7-7zM3045 3031l19 2-2 26-19-3zM2746 2994l10 6-2 15-10-4zM2718 2994l8 3-1 16-9-11zM2927 2993l2 7-7 12-1-17zM2895 2993l6 2-2 19-6-3zM2820 2993l7 3 2 14-5 5-6-5zM2798 2993l1 15-3 5-2-16zM2865 2993l9 0-1 21-9-2zM3108 2991l5 7-2 16-4-2zM3045 2992l19 3 0 14-5 5-16 0-2-15zM3016 2988l7 3 2 8-5 16-10-1-5-9 4-12zM2955 2988l18 11-1 15-18-2zM2796 2957l3 1-1 16-4-10zM3109 2954l3 1-1 22-4-2zM3010 2954l13 3-1 23-6 1-7-6-2-9zM2955 2955l18 0-1 21-9 0-9-10zM2926 2955l-1 19-25-2 5-14zM2865 2954l9 4 0 15-3 2-9-3zM2751 2953l5 6 1 13-11 3-2-16zM2826 2950l5 5-4 18-7 2-2-15zM2829 2927l2 8-6 4-3-7zM2872 2925l1 8-3-3zM3086 2918l3 6-2 11-3-1zM2922 2914l12 5 0 10-9 8-5-5zM2897 2914l4 1-1 20-6-3zM2798 2914l2 14-4 8-3-14zM2745 2914l10 2-3 21-10-7zM2955 2913l18 3-1 20-14 0-3-3zM3010 2914l13-1-1 23-13-4zM3044 2909l19 5 3 5-2 17-7 7 7 11 0 16-15 7-6-2 0-19 8-6 2-7-10-8zM2994 2881l6-2 2 5-7 2zM3109 2878l4 1-2 17-5-2zM3022 2876l1 21-13-1-2-9 8-2zM2894 2876l6 0 9 8 13-9 10 1 1 18-33 2-6-5zM2865 2875l9 2-1 19-10-2zM2830 2875l1 20-10 2-3-3 1-17zM2796 2875l4 8-2 13-3-1zM2972 2875l1 16-10 6-8-1-1-9 11-13zM2748 2874l7 3 0 15-4 2-6-3-5-11zM3063 2875l1 20-15 1-5 5-1-26 4-4zM2933 2837l1 17-8 2 0-12zM2895 2837l4 2 3 12-4 6-4-1zM3111 2836l2 6-4 10-2-14zM3085 2835l3 12-2 10-3-3zM2955 2835l18 8-1 14-9 2-8-5zM2852 2838l21-3 1 21-21-14zM2828 2835l4 7-2 15-11-7zM2796 2835l3 4-1 18-5-9zM2746 2835l9 1 0 19-11-1-1-15zM3022 2833l1 25-13 3-1-21 4-5zM3049 2827l9 11 6 2 1 14-18 10-4-4-1-18 1-8zM2873 2804l1 11-9 0-1-9zM2922 2797l12 9-3 12-10-6zM2826 2797l5 1-2 19-6-5zM2798 2797l1 19-3 1-1-18zM2895 2796l7 6-2 15-6-1zM3111 2795l1 20-4 1-2-12zM3085 2795l4 6-3 10-3-6zM2754 2795l1 20-10 2-2-18zM3084 2763l4 8-2 8-4-10zM2933 2754l5 6-4 17-11 1-5-19zM2898 2753l7 5-5 20-6-3-3-13zM3020 2752l5 10-3 57-13-3-1-17 1-28 7-3zM2874 2752l4 8-8 19-7-4 1-16zM2943 2620l-7 5-1 8 3 5 8 2 6-4 1-9zM3175 2614l-3 52 1 454-3 104 3 8-1 146 4 7 8 2 7-6 1-715-4-53zM3255 2607l-6 6 0 19 4 5 8 0 4-5 0-19-3-5zM2584 2602l-7 10-1 766 4 7 8 2 8-9 0-732-2-39zM3375 2599l1 9 11-1-1-9zM3294 2590l2 6 10 0 2-3-2-6-10 0zM2937 2588l2 6 12-2-2-6zM2880 2583l-4 5 1 6 11 3 4-5-1-6zM3478 2580l-7 7 2 29-3 13 0 748 4 8 8 2 8-10 0-748-3-13 2-29-3-5z"/><path class="s" fill-opacity="0.390" d="M2799 3374l0 6 8 5 17-7-13-10zM2831 3374l0 6 8 5 16 0 11-6 16 6 13-6 18 6 11-6-5-9-15 0-9 5-7-7-8-1-14 8-11-6-7 1-6-6zM2874 3334l1 8 12 9 8 0 5-7 5 6 9-1 8-8-1-7-8-4-9 2-4 6-14-8-9 0zM3006 3328l-9-3-8 6-10-2-4 4 2 21-6 19-31-4-6 5 0 6 12 5 17-3 5-5 13 8 10-4 13 3 4-4-1-10-4-4-11 2-6-18 5-6 10 2 8-5zM3234 3324l-7 16 11 7 6-5 0-9-4-8zM2847 3324l-11 1-5 10 5 15 6 3 8-8 10-2 2-9zM3068 3321l-1 23 11 3 9-8 8 8 16-3 2 22-3 5-14-2-10 7-6-7-8-2-12 9 6 7 9 2 11-7 10 7 42 0 12-7-6-8-12-4 0-20 12-6-5-12-32 5-12-5-8 9-8-19zM3111 3298l9 9 18-1 7-4 0-6-7-4-18-1zM2886 3291l-9 1-6 6 7 15 11-1 4-15zM2974 3294l0 9 6 6 11-4 9 2 8-7-3-7-13 0-7-5zM3056 3298l3 6 14 6 13-4 4 10 6 3 8-3 5-15-10-15-17 6-10-7zM2859 3279l-10 0-6 10-10 4-1 6 5 7 21 0 5-4zM2655 3178l-2 4 4 2 1-5zM2667 3135l-9 3 2 8 5 1 7-6zM2650 3100l4 7 9-4-4-6zM2668 3101l5 7 22-5-7-13-8-1zM2650 3060l-5 4-1 8 11 3 3-13zM2679 3058l-3 8 6 2 3-6zM2651 3015l-3 4 2 9 14-2 1-7-4-4zM2652 2979l-3 6 6 4 3-6zM2683 2942l-1 5 5 1 2-4zM2676 2941l-7 5 2 6 8-5zM2662 2896l-11 4-3 7 3 3 12-5zM2734 2741l-6 3-1 6 9 5 6-4 0-6zM3112 2748l7 8 19 0 8-7-3-7-19-4-7 2zM2906 2703l-2 10 11 3 4-5-1-6zM3280 2701l-7 9 5 10 5 1 6-14zM3069 2701l-5 9 10 7 8-10-6-6zM2833 2706l1 7 8 9 6-8 7 2 7-5 0-6-5-4-18 0zM3233 2700l-6 6 4 16 10 0 4-16-4-5zM3144 2705l-5-4-22 1-4 5 2 16 12 2 5-10 12-4zM2801 2704l3 10 7 1 6-4 0-7-6-4zM2879 2698l-3 13 10 6 6-6 0-9-3-4zM3405 2696l-12 0-3 13-6-8-11 4 1 32-4 11-14-7-15 3-5-16 3-23-7-5-6 2-4 6 4 20-6 18 0 35-9-2-4-49 3-22-7-8-7 2-4 6 3 21-4 13-5-13-10 0-5 16-4 0-7-18 6-20-10-7-7 5 0 10 5 9-8 18-12-2-6 4 0 8 7 6 12-4 1 22-2 3-5-10-10 0-9 16 5 11 0 16-11 10 0 7 21 21-7-2-7 9-12 6 1 5 14 6 1 22-4 10 4 11 0 18-9 6-1 6 12 11-3 21-5 4 6 10-1 22-10 1-5 5 3 8 12 5 0 15-10 12 0 5 10 7 1 15-7 16 9 10-3 19-6 6 7 13-1 13-13 13 3 9 11 3 0 21-10 3-4 8 14 7 4 19-8 12 5 5 16 0 8 6 10 0 5-6 25 2 0 26-15-1-4 10 7 5 10-4 5 14-5 17-7-5-16 4-4-6 4-31-4-4-19 2-10-3-6 4 0 9 6 7 11-7 3 2 3 17-1 41-4 6-12-4-7 8 1 6 7 5 24 0 6-4-1-33 3-5 8 6-6 29 10 7 35-3 15 3 119-2 8-5-4-7-9-3-1-5 6-10 9-4 0-13-8-5-22-3-4-15 9-6 20-2 6-5-5-18-6-3 0-8 11-13-17-14-15 5-8-10 4-10 21-9-15-10-4-7 0-12 10-11-9-8-3-10 3-10 20-9-2-7-16-2-3-8 1-15 13-9-3-6-10-3 1-22 13-2 4-9-7-4-9 1-5-13-7-7-6 2 1-8 7 3 17-10-1-8-9-7 2-15 10-8-11-19 0-13 7-11-8-9 0-18 3-4 14-1 6-7-6-5-15-3-1-20 14-5 3-7-17-6-1-23 3-4 13 1 6-7-6-5-14-1-2-22 10-8 0-4-13-11-11 2-10-14-10 8-8-7-7 2-5 21 2 31-8 3-3-11 3-22-8-27 6-9 3 3 5-3 12 9 8-7 10 6 7-5 13 1 12-5 0-4-10-9-32 4 0-31 12 5 6-6 9 6 7-6-7-8-9 5zM3341 3356l1 12-3-4zM3321 3343l3 18-4 10-6 1-11-6-12 3-5-19 4-7 8 5zM3360 3307l12 2-2 17-7 1-8-14zM3336 3306l14 4-9 17-8-15zM3411 3268l11-2 8 15-3 8-20-3 0-12zM3374 3270l-3 19-31 1-4-14 2-4 32-6zM3322 3265l7 4 2 11-6 3-4 12 6 17-5 6-2 16-7-1-3-6-2-54 4-7zM3246 3239l-2 12-3-7zM3268 3231l4 6-3 16-3-5zM3368 3228l3 3 0 15-8 2-1-18zM3268 3188l4 3-3 16zM3363 3187l8 3-1 22-9-4zM3312 3187l8 1 2 6-1 22-5 6 1 29-6 0-2-4 4-24zM3370 3150l1 20-7 5-3-6 1-18zM3319 3149l2 24-9 2-1-23zM3270 3111l1 21-3 2-2-19zM3320 3109l2 14-4 10-6 2-1-20zM3268 3072l3 2-1 15-3-3zM3312 3071l8 2-1 16-6 4zM3364 3069l8 5-2 21-10-3zM3268 3037l4 9-2 10-4-7zM3342 3032l2 14-3 6zM3362 3031l9 6 0 15-6 4-5-8zM3312 3030l9 2-1 22-9-4zM3407 3000l12 3 3 8-13 4zM3365 2990l6 5-2 21-8-3 0-15zM3312 2990l10 3-2 19-9 0-2-16zM3268 2989l4 4-1 18-4-6zM3367 2957l4 1 3 10-4 10-6-1-3-5 0-11zM3246 2955l0 20-3-9zM3342 2954l2 17-3 5-3-10zM3313 2952l7 8-5 12-4-2zM3271 2952l3 20-6 8-2-24zM3270 2914l2 21-4 3-1-20zM3363 2912l6 0 3 5-2 21-9-3zM3321 2912l-1 24-8 2-9-9-13 6 2-21 11 8 11-12zM3319 2881l2 15-9 3-1-15zM3363 2879l8 2-1 17-8-3zM3270 2874l4 15-3 10-4-2zM3363 2835l8 1 1 18-3 5-7-4zM3269 2834l2 8-3 8zM3320 2833l1 18-9 9-2-24zM3247 2802l1 15-3-8zM3322 2795l-1 22-9 1-1-10 9-6zM3341 2794l3 8-2 11-3-11zM3268 2793l5 5-3 19-5-3zM3342 2752l3 8-6 5-3-8zM3269 2751l4 9-3 22-4-5 0-22zM3351 2696l-7 5-1 8 10 7 7-5 1-7zM3000 2695l-9 10-6-4-9 3-1 7 6 8 4 0 6-8 6 4 9-3 0-9zM2779 2697l-2 24 10 5 6-5 0-18-3-7zM2760 2695l-3 28 10 6 6-6 0-21-3-7zM3297 2664l-4 5 1 13 12 2 3-15-4-5zM2835 2667l4 7 9-2-2-8zM3345 2667l4 8 8 0 3-4-6-8zM3095 2663l-6 6-1 44 4 11 10 0 4-15-1-40-3-5zM3373 2667l1 8 5 3 27-7-6-8-10 2-11-3zM3330 2662l-7 5 0 7 10 5 5-3 1-9zM3234 2662l-5 3-1 6 10 5 5-3 1-6zM3114 2667l0 8 6 5 23-9-2-6-17-3zM3073 2662l-6 3-1 6 9 5 6-4 0-6zM2975 2667l0 6 7 5 10-5 5 7 4 0 5-7-2-8-13 2-10-5zM2942 2662l-5 3-1 6 10 5 5-3 1-6zM2883 2661l-7 5 0 6 11 4 5-4 0-6zM3259 2659l-10 5 0 8 6 5 11-6-1-8zM2781 2658l-4 12 9 7 7-7 0-8zM2760 2658l-3 16 9 9 6-5 1-14-3-6zM3276 2658l-3 14 5 4 8-1 4-6-2-9zM2804 2656l-3 17 10 5 6-5-3-17zM2879 2628l-2 12 12 2 2-12zM2802 2629l3 10 10-3 0-5-5-4zM3392 2628l5 7 9-3-5-7zM2759 2626l-1 8 3 3 11-3-1-8zM3375 2625l-2 8 4 4 11-3 1-6-4-4zM3095 2623l-6 8 9 6 7-9zM2937 2626l2 10 7 1 6-5-1-6-5-3zM3035 2622l-10 5 6 18-5 5-3 104 3 11-4 57-14-6 0-56 8-12-9-6-15-2-4-11-11 3-3 45-11 9 10 12 0 18-5 4-14-2-1-44-8-13 9-10 8 2 2-6-11-6-4-19 4-15-3-6-8-2-7 8 4 15-6 27 10 13-5 4-5 15-11-1-8-18 2-7 12-2 3-7-17-5-11 3-1 6 6 12-7 17-7-2-6-18 9-13-8-18-10 0-4 21 6 13-10 19-7-1-3-6 0-13 8-14-14-9-7 0-2-14-10 17-12 4 0 6 12 4 3 5-1 9-13 11-7-2-3-35-8-2-6 5 0 29-3 6-12-11-7 2-4 6-5-12 5-13 12 3 6-5-2-8-8-3-8 4-12-5-10 5-2 6 9 12-5 19-22-5-5 4-2 10 7 14 7-1 5-9 9-2 1 25-10 3-11-9-8 8-9-1-5 4 0 6 15 11 1 12-5 9-9 1-4 6 6 5 18 4 20-3 1 22-7 2-8-12-6-1-10 11-8-1-22 7-22-5-5 2 0 8 15 7 36-2 15 9 7-1 5-8 9 1 2 4-3 23-8-1-8-8-7 1-5 8-10 0-5-7-11 0-7 11 2 9 33 2 1 15-4 8-26 3-24-2-5 4 3 7 19-1 16 13 10-9 7 0 4 22-3 2-6-7-10-1-14 12 0 6 9 7 21-4 20 1 9 10-6 10-15-4-14 5-5-5-13 16 3 12 7 3 5-7 17 18-3 6-25 2-4 4 0 4 14 9 6 10 5-2-2 11-19 5-2 6 9 3 7 9 5 0 3 7-3 12-18 1-4 8 32 15 11 0 9-7 1 16-5 5-19-4-10 6-17 1-3 9 5 11-8 13-3-3-23 2-11 9 3 29-3 16 18 14-3 4-5-1-9 20 20 22 7-7 3 5 5-6 3 4-2 11-13-3-6 7-11 4-1 3 6 4 22-2 14 3 7-4 18 6 58-2 3-8-7-11 10-21 6 11 7 1 5-3 3-12-5-14-10 0-6 7-6-5 0-21 7-5 9 5 10-5-3-19-11-3-5 10-6 1-3-3 6-22 15 2 17-7 25 8 6-3 30 3 9-4 35 0 4 20-2 11-6-4-21 0-6 6 4 15 10 0 6-9 11-4 4 11-1 31 6 4 15-3 5-7-8-4-3-12 1-51 7-8-7-13 3-23 13 1 6 5-1 19-11 8 2 4 16 6 9-1 5 8 10 0 4-9 8-5 0-4-12-9 6-23 12 2 2 7 0 144 8 7 16-2 4-8-9-5-1-102 8-12-7-4 0-29 23 6 0 16-10 15 16 12 13-7 10 3 17-2 5 5 10 0 5-4 19-2 4-4-1-6-8-8-1-18 6-11-8-8 2-19 7-8 1-9-8-8-8 3-5-3 0-7 10 1 4-12 7-6-7-8-1-22 5-7-4-18 3-25-4-7 0-18 9-15-2-8-6-3 0-13 6-16-7-10-1-15 8-14-9-20 1-8 7-8-7-13 1-18 8-7-9-24 3-22-4-17 7-23-12-15-20 4-7 9-4 0-3-14 2-19-7-8-15 6-5-11-10 0-7 11 6 15-4 21 2 28-2 8-9 3-3 7 12 10 2 17-13 7-3 6 3 4 10 1 3 10-2 14-14 3-2 6 18 8-1 20-4 8 4 26-6 9-16 1 0-25 7-9-7-6 1-74-3-19 4-18-5-62 2-99-2-16-5-5 6-18zM2752 3352l7 5 0 6-14 7-3-11zM2722 3344l6 2 2 7-4 9-7-8zM2754 3308l1 11-10 11-3-3 1-16zM2745 3273l7-2 3 3-1 13-10-5zM2681 3267l23 9-9 16-12 1-7-5 1-16zM2746 3229l9 0-1 21-10-7zM3108 3227l5 3-2 21-5-7zM2820 3227l10 0 2 4-3 25-10-4zM2935 3229l-1 22-25-2-11 4-4-3 1-22 6 0 8 7 6-1 7-8zM2868 3226l6 3-1 23-10-5 0-16zM2716 3226l10 4 0 13-4 8-13-7 1-13zM2797 3225l3 7-2 18-3-4zM3108 3193l7 8-4 12-4-1zM3086 3189l1 23-4 1-5-9zM2798 3189l2 17-3 10-3-16zM2852 3192l21-4 2 23-10 2-5-11-9-5zM2955 3187l19 2-2 24-6-5-13 1zM3022 3186l1 26-11 2-3-12zM2895 3185l7 4 1 17-3 7-7-3zM2924 3184l11 6 1 17-4 7-8 0-3-4 0-21zM2900 3151l3 20-8 7-1-24zM3087 3150l-2 15-2-9zM3108 3148l4 2-2 19-5-10zM2955 3148l10 1 8 7-1 11-7 8-10-3zM2928 3148l6 5-2 18-8 7-5-7 0-17 4-6zM2820 3148l10 3 2 5-1 17-9 5 0 6 9 7 2 16-3 6-11-1zM2776 3147l7 5 10-4 5 3 0 23-11-14-7 2-6 8zM2745 3147l11 2 0 21-3 4-9-2zM3055 3146l10 7 2 18-3 4-14 2-1 5 14 6 8 20-5 5-22 5-2-23 4-17-4-7 1-23zM3022 3146l1 29-11 5-5-9-1-18 4-6zM2866 3146l8 3-1 24-10-4zM2933 3113l1 14-9 7-4-4 1-14 3-4zM2746 3111l4 4 0 8 4 1-1 7-5 4-6-7 0-11zM2900 3110l4 8-3 15-6-1-2-6 1-14zM2829 3110l5 13-3 10-11-3-2-15zM3108 3109l5 4-1 17-6-9zM2955 3109l18 1-1 24-18-1zM2873 3109l1 23-7 4-3-2-1-20 2-4zM3085 3108l3 6-2 16-3-4zM3009 3109l14 0-1 27-14-7zM2796 3108l4 5-3 17-3-3zM2796 3075l4 9-2 10-5-4zM3085 3070l5 11-3 13-4-5zM2900 3070l2 21-7 4-1-21zM2851 3077l8 0 11-8 4 4 0 22-16-6-6 2zM2820 3070l10-1 2 3-2 23-11-1zM2955 3068l18 3-1 24-19 0zM2933 3070l2 18-14 7-2-22 7-5zM3110 3067l4 16-2 12-6-5zM3020 3065l4 8-1 22-13 0-1-23zM2933 3040l1 11-8 6-5-12 3-4zM2895 3035l6 4-1 17-6 0-2-4zM3108 3033l4 1-2 22-4-7zM2775 3033l7 13-6 9zM2798 3030l2 15-6 10-6-9zM2992 3039l12-3 5-6 13-1 0 31-11-2-7-7-10-1zM2822 3029l9 5-1 23-11-4-1-15zM3086 3028l3 17-5 10-1-23zM3047 3027l16 3 3 6 0 49-5 15 4 11 0 18-10 7-11-2-1-25 15-5-1-5-14-4-1-60zM2967 3027l6 5 0 21-18 5-1-27zM2746 2992l10 4 2 10-3 11-12-4zM2895 2991l5 0 2 4-1 20-7 1-2-8zM2825 2991l6 19-9 8-5-8 0-16zM2927 2990l7 5 0 9-12 11-2-20zM2865 2990l8 0 3 20-3 6-8-1-3-20zM2798 2990l3 10-5 15-3-18zM3108 2988l5 5-2 23-5-4zM3047 2988l18 5-1 19-12 7-9-2-2-22zM2955 2980l4 7 14 9 0 20-6 3-13-4zM2796 2954l4 2-2 21-4-8zM3108 2952l5 4-2 24-5-8zM3010 2952l13 2 0 37 3 9-4 17-12-1-7-10 11-20-8-19zM2865 2952l8 2 2 19-4 5-6 0-5-5zM2955 2952l18 1-1 25-10 2-7-3-3-13zM2934 2957l0 14-8 6-13-3-12 3-7-4 0-8 5-1 8-10 9 1 9-4zM2752 2950l6 11 0 14-13 2-2-20zM2823 2921l8 3 0 15-4 5 4 7 0 18-5 8-6 0-2-23 7-8-5-9zM3087 2916l3 15-5 7-2-18zM2870 2916l4 4-1 17-9-3 0-13zM3108 2914l4 3-3 17zM2922 2912l10 2 3 6-1 14-7 5-5 0-3-7zM2798 2912l3 17-6 9-3-18zM2897 2911l4 1 2 9-3 16-6-2 0-20zM2955 2910l19 4 1 17-3 7-10 1-8-4zM3021 2908l3 12-2 18-11-2-4-11 2-13zM3109 2875l5 2-3 22-6-4zM3086 2875l2 18-3 3-2-16zM2894 2874l5-1 7 7 10-1 5-6 12 1 1 22-38 1-3-3zM2864 2873l11 3 1 17-3 6-11-3-1-18zM2831 2873l0 25-11 1-4-6 3-18zM2796 2872l3 1 3 16-3 9-5-3zM3023 2872l-2 30-11-3-6-11-11 1 3-13 6 0 4 5 10 0zM2972 2873l1 21-10 6-8-1-1-20 4 0 6-8zM2776 2835l2 14-4 8zM3111 2834l2 14-5 9-2-21zM2933 2834l3 4-2 19-12 1-2-13zM2897 2834l6 14-4 11-6-3 0-17zM3085 2833l3 4-2 22-4-4zM2955 2833l18 6-1 20-12 2-6-5-2-18zM2852 2834l22 0-1 25-13-12-9-3zM2827 2833l4 1 2 9-3 17-11-4 0-15zM2796 2833l4 14-2 13-6-11 0-10zM2745 2832l10 2 1 23-12 0-2-21zM3022 2830l3 15-2 17-10 5-4-2 0-29zM2865 2800l10 2-2 17-10-3zM2922 2795l12 6-2 19-11-5-2-14zM2895 2794l5 1 3 7-3 17-5 0-2-4zM2827 2794l5 4-2 21-5 0-5-6 0-14zM2798 2794l2 20-4 5-2-17zM3111 2792l3 15-2 10-4 2-3-17zM3084 2792l6 8-4 14-4-8zM3083 2759l6 11-3 12-5-9zM2992 2753l7 8-3 7-5-5zM3177 2617l-4 10 3 22-3 12 1 456-3 105 3 12-1 145 10 6 8-8 1-597-1-119-3-12 3-22-4-10zM3252 2612l-2 18 2 3 10 0 2-18-2-3zM2584 2606l-5 3-3 63 0 699 2 9 9 5 7-5 2-9 0-699-3-63zM3479 2582l-7 5 2 32-3 8-1 659 1 92 10 7 8-7 1-672-1-79-3-8 2-32z"/><path class="s" fill-opacity="0.480" d="M2901 3376l4 6 16-3-4-7-12 0zM2935 3376l4 6 15-4-8-7-8 1zM2800 3376l5 6 13-3-6-8zM3065 3374l0 5 7 3 8-1 3-4-6-7zM2872 3376l6 6 10 0 5-5-9-8zM2833 3375l4 7 25-3-2-6-12 0-5-4zM2693 3374l-8-5-10 8 12 2zM3264 3368l-9-4-8 8-13-3-6 8 5 5 27 0 5-4zM2977 3362l-4 12 4 8 10 0 4-4 6 4 10-3-4-10-12 2-8-10zM3274 3359l-3 20 4 3 33 0 7-4-10-9-13 3-6-16-7-1zM2902 3337l3 10 10-1 6-7-6-6zM2876 3334l-1 4 7 9 14-1 0-7-5-5zM3142 3334l-4-3-30 6-9-5-8 2-2 6 5 4 10-1 4-4 3 2 4 13-5 20-15-2-7 6 7 4 49-1 2-6-13-5-3-11 1-14 10-4zM3256 3328l-7 12 3 8 7 2 7-9 0-6zM3234 3328l-6 11 5 5 6 0 5-7zM3006 3331l-5-3-11 5-9-2-5 3-1 7 7 8 9-8 11 2 6-4zM2861 3335l-14-7-11 1-4 11 11 8 6-5 9-1zM2804 3329l-5 6 1 10 4 6 10 0 4-9-1-10-6-4zM3071 3327l-4 14 6 4 7-1 4-6-2-7zM2925 3295l-2 4 3 2 2-4zM3274 3297l4 7 11-3-2-6zM3233 3294l-5 6 10 7 7-9zM3114 3298l4 6 25-4-2-4-23-2zM2905 3296l-1 11 13 2 4-11-8-4zM2874 3297l4 13 11-2 3-4 0-6-5-4zM3251 3294l-4 4 4 20 11 1 4-21-3-4zM2974 3298l7 9 25-6-2-6-11 1-6-5-9 1zM3059 3298l13 8 15-3 5 10 10 0 4-9 0-8-8-6-10 5-16-5zM2860 3287l-12-1-4 5-7 1-4 7 7 6 19-2 3-3zM2804 3285l-4 15 6 4 8-1 3-3-2-10zM3302 3283l-7 1-4 14 5 16-4 22-13-5-11 6 12 12 10-10 9 7 12-6-2-45zM2672 3101l10 4 4-7-7-3zM2650 3020l2 6 11-3-5-6zM2684 2983l-4-2-6 4 8 2zM3429 2825l4 4 7-2-2-4zM2727 2785l1 8 6 6 18-11-10-9-9 0zM2729 2747l2 4 9-2-2-4zM2904 2747l8 8 9-6-6-5zM2776 2746l5 7 11-4-5-6zM2759 2743l-4 8 11 9 8-13-7-5zM3114 2746l6 8 19-1 5-4-2-5-18-3zM3070 2740l-6 8 3 7 12 3 5-5 4 8 2 16-4 12 5 19-3 8-4 1-3-9 3-24-5-10-7-1-7 10 0 36-11 7 4 7 6 2 3 8 0 13-11 9 10 9-2 26-5 0-3 5 12 11-4 24 0 37-13 5 1 5 14 5-2 24-11 8 10 3 4 10-3 25 3 18-3 18 2 32-12 12 12 9 3 22-9 7 6 13 9 7 11-13 3 12-3 17-13-6-17 9 17 15-14 25 13 9 12-5 24 0 8 5 12 0 4-4 20-3-7-12-1-22 4-8-9-11 12-32-6-5-12 0-1-15 10-1 6-13-4-11 0-19 5-9-4-14 2-26-3-23 6-20-5-7-1-15 7-15-7-10-1-18 7-13-7-10-2-13 6-12-4-11 1-19 7-12-5-5-4-17 3-21-5-7-8-2 1-8 9-1 4-22-5-10-24 3-9 9-5-14 1-24-8-4-12 8-6-10zM3084 3231l3 3-2 13-3-8zM3108 3224l6 7-3 23-5-3zM3108 3189l8 11-1 12-6 4-3-3zM3087 3147l3 12-4 11-4 1 0-20zM3107 3146l6 4-2 23-7-11zM3108 3107l4 1 3 10-3 15-6-7zM3085 3105l4 11-3 17-4-5zM3085 3068l6 12-4 17-5-7zM3108 3030l5 4 0 63-7-3-2-10 5-22-4-13zM3086 3025l4 8 0 13-6 12-2-26zM3086 2990l2 21-3 6-2-22zM3085 2952l3 6-2 20-4-15zM3111 2949l3 10 0 54-3 6-5-3 2-32-2-31zM3086 2913l6 12-5 15-3-1-2-13zM3108 2910l5 4-2 24-7-8zM3085 2873l4 9-2 16-4-3-1-8zM3112 2872l3 17-3 11-4 2-4-5 3-23zM3111 2831l3 15-2 12-4 3-3-25 2-5zM3085 2830l4 7-2 24-4-1-3-10zM3111 2789l4 18-2 10-5 4-5-18zM2889 2735l-11 4-1 10 6 7 10-7zM3372 2744l0 7 7 4 11-5 10 5 7-4 17 1 2-3-4-9-31 6-4-10-5-2-6 2zM3252 2735l-6 11-8-4-9 4 6 9 12-5 2 26-3 6-5-8-12 2-3 7 1 33-9 7 16 18 13-7-2 20-15 1-12 9 9 11-1 36 3 9-1 16-9 10 12 12 10 0 5-6 3 9-2 17-6-15-11 1-4 16 1 35-14 7 3 5 10 3 2 5-1 19-9 8 10 15-6 26 9 12-9 24 5 9 0 18-12 14 10 5 4 7-1 19-7 10 5 3 5 14 11 1 4-7 2 10-3 12-10-7-9 13 5 4 11-2 9 6 11-1 6-6 11 5 11-3 6 12 10 0 5-11 12-1 9 7 39-6 8 12 0 6-7 9-31 3-5-8-12 3-2 11 7 7 9-4 15 4 17-3 5 14-3 9-10 3-8-12-7 1-6 12-8-13-9 4-3 18 5 20-7 18 6 4 122-2 2-5-7-4-2-10 9-13 6-1 1-8-6-5-31-7-2-8 6-11 9-4 9 2 14-8-2-9-8-2 0-19 10-7 0-4-14-10-15 5-12-13-5-1 1-8 5 1 22-10-14-17-1-11 6-14-11-14 9-17 15-6-3-5-11 0-4-9 0-15 8-10-7-11 1-21 3-5 5 1 8-5-14-2-9-14-8-2-3-5 3-11 8 2 10-5 2-5-5-4-16 1-4-8 2-13 16 5 9-17-2-8-7-5 0-14 6-14-11-14 8-19 15-3-2-6-13-2-2-11 2-17 10-4-12-8-1-25 4-10-5-24 6-14-6-8-13 1-8-12-7 1-5 7-2-5-11 0-5 16 2 32-7 5-4-2-2-14 1-35-9-13 8-9-2-6-9-1-6 4 6 14-8 9-9-10 8-10-1-12-7-8-7 4-4 16 5 9-6 26-9-3-4-45-11-2-5 10-5-8-10 1-5 9 3 10-2 25-4 3-4-24 2-16-4-10zM3407 3354l1 10-5-1-7 6-2-8 3-8 5 4zM3341 3350l4 11-3 10-5-9zM3427 3345l3 8-7 12zM3436 3279l-6 12-22-1-9-7-4 0-4 7-3-3 2-11 8 4 12-14 12-2 8 14zM3269 3228l5 16-6 13-3-22zM3367 3225l5 7 0 14-9 5-2-21zM3342 3225l0 22-3-8zM3291 3188l0 24-3-7zM3268 3185l5 5-3 21-3-1zM3363 3184l9 6-2 24-7-1-4-8zM3312 3182l9 5 2 23-5 14 3 25-4 5-6 0-3-6zM3268 3154l3 2-1 13zM3390 3152l3 7-2 9zM3341 3148l1 26-3-8zM3370 3147l3 7-2 19-8 4-2-26zM3319 3146l3 26-2 5-8 3-2-28zM3291 3146l0 24-3-9zM3391 3115l5 8-5 9zM3292 3108l-1 22-2-16zM3270 3108l2 23-4 5-3-22zM3320 3107l4 8-5 20-7 2-1-25zM3245 3107l4 6-2 15-5-10zM3342 3081l3 5-3 10zM3268 3069l4 6-2 19-4-7zM3246 3069l3 9-2 12-3-6zM3312 3068l9 2 1 22-9 4-3-4zM3363 3066l9 4 0 23-5 5-8-4zM3246 3039l0 19-3-7zM3268 3033l4 5-2 21-4-5zM3342 3029l3 18-4 9-2-11zM3362 3028l9 3 0 24-6 4-4-3-3-14zM3312 3028l9 2-1 27-9-4-2-16zM3291 2998l2 8-3 10zM3246 2990l3 6-2 18-3-7zM3312 2988l8 0 3 4-3 23-7 1-3-4-2-15zM3365 2987l7 9-3 23-6 0-3-6 0-14zM3369 2954l6 19-3 6-6 2-6-9 0-12 3-5zM3342 2951l3 20-4 8-4-14zM3290 2951l3 5-3 20-3-6zM3268 2950l6 3 2 15-7 15 4 10-2 24-5-11-1-49zM3313 2949l8 6 3 13-2 6-11 1zM3247 2911l2 14-3 12-3-20zM3270 2910l3 24-4 7-3-22zM3368 2909l5 8 0 16-3 7-7 1-3-7 1-21zM3320 2876l2 19-4 11 4 9 0 21-10 5-6-7-10 0-5 5-1-24 3-3 10 6 12-12-5-8 1-22zM3365 2874l7 5 1 14-4 8-8-5-1-16zM3342 2873l3 14-4 13zM3270 2871l5 17-4 14-5-5zM3341 2833l3 9-3 19zM3370 2831l3 22-2 7-6 1-4-7 2-22zM3269 2831l2 20-4 5-1-22zM3320 2830l2 24-10 9-4-24 4-8zM3246 2796l5 13-3 11-4-13zM3340 2792l4 4-3 22zM3321 2789l3 6-2 23-10 3-1-22zM3268 2789l7 13-4 18-7-5zM3290 2752l4 11-3 12-3-12zM3410 2707l4 4 8-2-4-4zM3276 2706l-1 4 5 6 7-6-1-4zM2905 2707l1 5 11-1-1-5zM2980 2704l-4 5 8 6 6-8zM3379 2703l-6 7 3 9 6 3 7-13-2-4zM3329 2703l-6 4 3 12 7 1 5-3 1-10zM3299 2703l-6 8 2 6 7 4 5-4 2-9zM3255 2703l-6 5 1 6 9 4 5-4 1-7zM3117 2720l6 1 20-14-5-4-18 0-6 4zM3068 2704l-2 5 4 4 10-4-5-6zM2861 2707l-5-4-17 1-4 6 7 6 6-5 8 2zM3230 2704l0 12 11 1 2-12-5-3zM2808 2702l-6 7 9 4 5-7zM2942 2701l-6 6 6 14-6 11-2 16 11 8 8-6-1-18-6-11 6-14zM2877 2703l0 7 5 4 9-4-2-9zM3392 2702l1 9 8 2 5-3-2-10zM2998 2700l-6 8 9 4 4-6zM2783 2700l-6 7 1 13 12 2 3-15-4-6zM3350 2699l-6 9 10 5 5-3 1-6zM2764 2699l-6 4-1 12 1 7 9 3 5-3 1-15-3-7zM3095 2694l-6 10 3 15 10 0 2-18-5-7zM3296 2668l-1 11 11 1 1-11zM3092 2668l-1 6 5 4 7-4-1-6zM3394 2666l-2 4 6 2 2-4zM3068 2668l2 4 9-2-2-4zM3374 2668l5 7 10-3-4-7zM3324 2669l5 7 9-3-6-8zM3230 2668l4 5 8-3-4-5zM3115 2668l1 7 11 1 4-5-7-6zM2976 2669l6 6 8-4-5-6zM2943 2664l-5 7 7 3 5-7zM2877 2668l5 6 9-4-5-6zM3256 2662l-6 3 0 6 8 4 7-8zM2779 2663l2 9 11-3-2-7zM2760 2662l-1 13 11 1 1-13zM2804 2662l-2 9 5 4 9-4-1-8zM3276 2661l-3 5 2 6 8 2 5-3-2-10zM3038 2652l-10 0-3 13-2 83 4 19-3 8-1 55 3 20-3 11-1 80-12-3-4-8 2-19 6-7-9-12-11 1-2-4 4-16 13 1-1-38 11-9-11-7-2-55-4 1-3 8-6 1-3-7 1-17 10 5 5-1 3-6-3-5-14 1-7-9-10 9 1 27-3 10-5 3 6 12 1 14-6 11-15-1-1-40-4-12-10 0-5 13-13-1-3-12-9-4-5 4-4 14-6-3-5-12-10 0-5 13-7 4-16-15 15-23-11-6-13-1-9 4-2 6 10 9 5 0-1 9-4 0-12 13-10 1-5-21 2-14-12-2-2 32-4 7-9-10-9 0-5 6-5-9-10 0-5 12 0 37-11 3-11-7-18 8 15 17 15-12 10 2 5 21-4 8-11 1-5-12-10-1-4 12-10 5 2 4 12 3 24-1 1 27-8 1-7-10-10 1-5 7-15 1-16 8-21-3 6 6 41 0 13 6 7-1 4-5 9 0 4 8-4 26-16-8-7 1-5 6-26-5-5 10 7 4 9-3 16 2 6 8 21-11 9 17 0 7-7 9-10-1-5-11-10-1-5 12-17 0-11 6 4 7 24-2 4 15 5 3 8-3 4-16 9 2 3 6 0 17-4 6-21-9-6 8-7-6-11 0-12 10 8 7 21-4 21 2 9 8-1 14-5 5-9-6-29 6-9 9 7 8 5-5 10 5 10 12-3 12-27 5 15 12 5-1 4 12-5 11-13 5 8 12 7 0 1 22-21 4-2 4 33 13 17-8 1 25-13 3-11-4-27 9 3 6 9-3 10 3 1 21-5 7-13-4-6-7-4 8-5-3-23 2-9 7 0 13 5 10 8-2 4-13 25 5 4 6-1 14-22 6-17-6-4 10 17 9 6-3 4 5 0 11-4 1-5-8-4 12-9 3-1 10 13 13 7-4 12 1 5 12-10 11 4 7 11 0 6-6 3 5 10 3 59 0 5-3-6-11-9 1-3-4 13-9 9-16-9-22 9-22-9-6-3-8 11-18 16 1 10-6-5-13 3-22 12 4-1 31 6 5 54 2 8-4 16 2 6-4 12 3 5 11-2 65 6 5 9-2 3-6-4-15 0-48 5-12-4-26 4-14 19 6 1 17-6 16 12 6 9-1 4 5 10 0 7-10-10-12 7-24 15 1 1 151 6 6 18-3-6-11-1-100 3-9-3-28 1-83 6-8-6-8-1-95 3-16-5-20 5-15-2-30 4-12-4-6 1-76-3-15 3-30-4-50 3-58zM2716 3349l9-8 11 13 5 1 8-6 8 1 5 6 0 8-15 9-8-9-6 1-2-3-7 6-8-12zM2699 3308l3 1-1 19-4-3zM2755 3305l3 3-2 16-11 9-5-4 2-20zM2716 3269l4 6 1 15-6-1-3-6zM2743 3268l12 3-1 19-11-4zM2993 3241l4 4-3 7zM2753 3225l4 17-2 9-5 1-6-3-2-18zM2865 3224l6 0 4 5-1 25-11-3-1-21zM2935 3226l2 22-3 6-24-3-11 5-5-4 1-27 14 7 7-1 9-9zM2798 3186l3 5 0 53-3 9-5-6 3-25-3-21zM2873 3185l3 27-3 4-8 0-5-11-9-4 0-12zM2955 3184l20 4-2 27-7-3-13 2-2-21zM2900 3148l5 12-5 20 4 27-6 9-6-5 1-60zM2956 3145l10 2 8 7-1 16-8 8-11-2-1-26zM2924 3145l10 4 0 19-6 14 7 5 2 7-1 18-10 6-6-6 2-32-5-14 1-12zM2820 3145l11 4 1 24-8 6 0 4 7 5 3 16-2 10-13 1-2-15zM2776 3144l8 5 10-4 4 3 3 16-3 12-11-12-7 1-6 8-1-22zM2750 3142l6 4 1 24-3 6-8 1-4-6-2-18 3-7zM2924 3108l11 4 0 17-9 7-8-11zM2895 3108l7 2 4 11-5 15-8-5zM2746 3108l9 5 0 20-6 7-12-15 0-8zM2830 3107l5 15-4 14-11-2-3-8 1-14zM2871 3106l4 5 0 21-6 8 6 9-2 27-8-1-4-9 1-15 5-9-4-8-1-19 1-5zM2796 3106l5 8-4 19-4-6zM2955 3105l18 3 2 23-3 6-18-1zM3022 3104l3 104-3 7-12 2-4-8 4-26-6-30 14-14-10-6-3-17 5-10zM2753 3076l1 18-3-4zM2798 3071l2 21-5 5-3-19zM2900 3067l4 8-1 16-4 7-4 0-3-4 2-23zM2852 3073l7 0 8-6 7 3 2 24-3 5-8-5-15-2zM2928 3066l7 4 1 20-4 5-11 3-4-24 5-7zM2825 3066l5 0 3 6 0 21-3 5-10-1-3-10 0-15zM2933 3033l1 22-8 5-6-9 1-12zM2895 3031l6 2 2 11-3 15-6 0-3-6zM2873 3031l3 20-7 3-5-4-1-17zM2798 3028l3 4-2 23-6 2-10-5-7 6-3-28 7 10 7 1zM3016 3026l5 0 4 9-3 64-14-4 3-32-6-8-11-2-4-10 3-9 11-1zM2822 3026l10 6 1 21-3 7-10-3-3-21zM2775 2990l3 5-3 21zM2929 2988l6 8-1 16-12 7-3-25 4-6zM2897 2988l6 7-3 24-5 0-3-5 1-22zM2820 2988l10 5 1 22-7 5-5-2-4-21zM2798 2987l4 6 0 11-6 14-4-23zM2870 2986l4 2 2 9-2 21-8 0-5-12 0-13zM2775 2953l0 20-4-4zM2796 2951l5 3-3 26-6-18zM3011 2949l10 1 3 7-1 28 4 17-6 18-12-2-8-11 1-9 9-12-6-18 1-12zM2972 2949l3 27-11 11 10 7 0 20-5 10 5 8 1 16-3 9-12 2-4 5 17 4 2 22-3 7-17 4-4-10 3-24-2-28 2-11 7-1 3-5-11-7 1-37-4-22 6-7zM2865 2949l10 5 1 18-5 9-9-2-7-8-4 1 0-4 9-5zM2936 2954l-3 23-7 3-11-3-15 3-6-3 2-23 29-6zM2775 2913l4 10-4 16zM2822 2912l9 6-1 28 3 23-6 10-9-2-2-17 5-13-4-17zM2871 2911l4 15-2 14-7-1-4-9 1-13zM2922 2910l11 2 3 9-2 16-8 5-5-1-3-7zM2798 2910l4 22-6 9-8-15 6-15zM2897 2906l5 5 2 10-3 19-5 0-3-6zM2863 2871l12 2 2 23-3 5-10-1-4-5zM2893 2873l5-3 8 7 7 0 8-7 12 1 1 28-37 3-5-5zM2830 2870l5 9-4 21-6 3-8-4-2-11 4-16zM2796 2869l4 3 4 20-6 9-5-7zM2895 2832l6 3 4 13-1 8-6 6-6-6zM2776 2832l6 13-8 15-3-11zM2933 2831l4 6-3 23-13 1-4-8 1-9zM2852 2832l23 1 1 24-3 5-12-12-10-2zM2827 2831l4 1 3 13-4 17-10-2-2-4 1-20zM2795 2831l5 6-2 26-10-18zM2955 2830l17 4 2 24-7 6 7 11 0 18-10 10 12 12 0 17-4 9-14 0-5-8 1-58 9-8-10-12-2-17zM2865 2794l10 4-2 23-11-4zM2922 2792l13 7-2 23-9-1-4-5-2-17zM2830 2792l3 7-1 18-7 5-6-5 0-23zM2895 2791l5 1 4 8 1 10-4 11-8-2-1-21zM2798 2791l3 19-5 12-2-25zM3181 2651l-5 2-3 14-1 557 3 11-1 143 11 4 5-4-1-144 3-93-3-26 3-283-1-165-3-14zM3375 2629l2 5 10-3-3-4zM3091 2628l4 5 8-2-4-5zM2938 2629l3 5 9-2-4-6zM3032 2624l-6 8 9 5 5-9zM3177 2621l-3 12 9 8 6-5 1-10-3-5zM3478 2620l-7 10 0 745 4 6 8 1 6-7 0-745-5-9zM2584 2614l-6 13-1 749 4 5 8 1 6-6 0-727-4-33zM3478 2585l-6 7 4 7 6 1 6-9-2-4z"/><path class="s" fill-opacity="0.596" d="M2851 3376l1 3 5-1-1-3zM3094 3376l2 4 5-2-3-4zM2938 3376l4 4 7-3-3-3zM2908 3376l2 4 6-2-4-4zM2804 3376l3 4 7-3-3-3zM3068 3375l5 5 6-3-3-4zM2993 3375l5 5 7-3-2-5zM2876 3375l6 5 7-2-4-6zM2836 3376l3 4 7-2-3-6zM3264 3373l-13-3-5 6-6-4-10 4 4 4 25 0zM2975 3374l4 6 11-4-5-7-7 0zM2712 3370l-4-2-5 7 7 1zM2755 3374l1 4 31 2 3-3-3-5-10 1-11-6zM2725 3373l3 6 16-2-4-8-9-2zM3274 3379l35-1-4-6-13 3-6-14-10 0zM3116 3336l-3 41 6 3 21-1 0-4-9-2-2-4 0-24 8-8zM3092 3338l3 3 7-2-3-4zM2904 3338l2 6 12-3-5-6zM2877 3337l5 7 11-1-3-7zM3276 3335l-2 5 5 4 8-5-4-5zM2980 3334l-3 6 7 4 4-8zM3255 3333l-4 8 7 5 6-9zM3234 3332l-3 7 6 3 4-6zM2834 3335l0 5 5 4 18-6-10-6zM3073 3331l-4 8 10 2 2-6zM2991 3336l4 5 11-4-5-6zM2804 3332l-4 5 2 8 12 2 2-13zM2939 3329l-2 8 9 4 6-4-3-9zM3299 3326l-6 14 9 3 8-8-4-7zM2727 3335l6 13 10 2 5-4 10 0 6 5 4-2 3 5 6-4 3 5 14-15-2-6-11-8-7 8-6-2-7-11-7 12-10 3-10-6zM3478 3319l-4 3-3 15 1 38 10 5 6-5 1-38-3-15zM3451 3339l-33-8-5-5-6 5-3-6-8-1-1-10-4 16-5-10-4 7-7-3-5 9-9 0-4-7-10-2-6 10-10-10-7 4 0 17 11 7 6-7 4 11 10 10-8 1-5 8-6-8-10 0-4 10 7 3 12-3 5 3 93-1 3-3-2-5-9-7-10 6-8-9-5 9-12 3-6-6 1-14 17-7 5 6 14-10 6 6 6-2 5 3zM3370 3344l4 4-3 15-5-10zM3278 3298l1 3 5-1-1-3zM2996 3298l1 3 5-1-1-3zM2904 3301l2 4 12-2-5-6zM3249 3299l3 9 7 1 5-4-3-9zM3231 3299l3 4 7-3-4-4zM3119 3297l0 4 6-1-2-4zM2875 3300l3 6 11-1 2-4-5-5zM2670 3298l2 4 6-1-2-4zM3088 3299l4 8 10 0 3-6-7-7zM3066 3298l7 5 8-4-5-5zM2976 3297l5 7 10-4-7-7zM2860 3295l-12-3-11 3-1 4 3 3 16-1zM3297 3291l-4 6 2 10 11 2 2-13-5-5zM2803 3291l-2 6 4 4 10-2-5-8zM2943 3289l-6 6 0 8 9 5 6-9-2-7zM3450 3296l-7-6-2-11-8 15-26-1-6-4-11 5-10-6-8 6-30 4-6-7-10 0-2 9 5 3 12-3 30 2 11 16 5-3 4-10 4 6 5-4 5 13 5-12 6 5 6-8 10-4 10 2zM2904 3260l9 2 6-5-10-3zM3234 3252l-5 7 9 3 3-6zM2943 3202l-9 16 4 17-4 25 5 8 6 1 8-8-3-10 3-34-3-10zM2907 3172l-5 8 3 29-4 14 12 6 8-7-3-14 2-29-4-7zM2740 3132l-10-1-5 7-9 3 1 5 8 1 6 10 13-16zM2729 3020l4 6 11-3-4-6zM2724 3021l-7-5-8 1-6 8 15 1zM2939 2963l-4 16-6 4 7 11-2 23-13 5-3-19 3-20-12-4-8 5 3 18-6 24 6 15-3 25 8 10 14-13-4-11 3-22 11-1 3 22-6 12 7 9-1 23-10 9 10 6 0 20-10 11 9 6-3 35 8 19 2-5 8 1 3-13 0-83-3-18 4-63-3-51zM2701 2945l3 2 5-4-6-1zM2727 2944l5 8 15-6-7-7-9 0zM2903 2903l2 21 11 1 6-21zM2746 2903l-6-9-5 0-10 7-12 0-6 4 30 6zM2725 2864l4 5 16-3-5-10-10 0zM2743 2825l-10-5-13 7 14 7zM2728 2788l3 5 8 1 7-8-4-4-9 0zM3071 2779l-5 11 2 6 7 3 5-4 2-11-3-4zM3141 2776l-24 2-4 5 3 24-6 17-4-1-4-10-9-1-8 10-5-14-12 1-3 13-7 4 11 18 11-1 5-16 5 8-1 27-4 2-6-8-10 0-5 8 4 13-4 30 9 11-6 9-2 12 1 36-3 6-6 2 10 8-4 32 5 12-3 27 3 18-3 19 2 32-8 11 8 6 1 11 6 3-3 13-7 9 5 9 7 2 10-12 4 10-3 25-15-4-7 5 8 9 7 1 4-4 4 9-2 18-7-12-7 10-5 0-3 9 8 5 12-4 27 0 5 5 12 0 18-5-4-26 3-15-9-10 0-5 12-26-15-4-3-10 2-12 9 0 5-8-4-18 5-25-4-13 3-70-7-21 10-13-6-11-10-7-1-11 9 1 6-14-6-8-9-1-2-12 3-8 4 3 8-9-2-8-10-6 0-5 9-3 4-23-4-12-9-1-3-9 3-8 5 1 6-5-4-8-8-1-1-19 10-2 4-8zM3108 3185l18 21-15 13 4 13 0 18-4 7-6-5 0-61zM3087 3144l4 7 0 13-4 10-7 2-3-4 3-22zM3107 3143l4 0 3 6-3 28-11-16zM3085 3064l9 15-7 21 3 27-4 9-5-5 3-28-3-31zM3108 3026l4 1 2 8-2 28 3 17 9 8-13 13 5 16-4 20-7-10 0-16 4-10-7-16 5-19-4-28zM3086 2986l3 6-1 33 6 17-7 17-4 2-3-8 4-28-3-23zM3084 2949l5 10-3 23-4-5-1-12zM3108 2946l4 1 3 12 0 55-4 8-7-10 1-58zM3085 2870l7 20-5 11-4-2-2-23zM3112 2868l5 12-5 22 3 12-2 25-5 3-5-8-6 0-12 9-4-20-6-6 11-7 6 9 12-2 3-12-7-9 7-27zM3107 2828l7 3 2 7-3 22-4 5-5-12zM2787 2777l-8 1-5 5-4-7-10 0-4 8 1 34-3 8 5 18 6 3 6-3 4-16 8 9 6-1 6-8 0-42zM3095 2774l-4 2-3 13 8 11 7-4 4-9-4-10zM2939 2773l-9 15 6 9-2 32 5 13-5 21-7 2 7 4 2 21-2 12-9 4 9 4 3 9-2 19-6 8 17 10 9-10-4-31 3-10-1-30 4-9-8-25 5-12-2-48-3-7zM2889 2773l-10 0-7 15 5 12-4 25 4 12 0 21-4 8-14-14-7 1-3-5 3-19 19-2-9-6-2-9-8-4 4-7 5 1 0-20-10-3-5-6-25 13 1 3 8 0 4 8-4 30 5 24-4 16 11 12-13 27 6 62-10 16 8 14 0 14-6 11 7 14-3 25 3 31-3 8-10-1-4-7-1-22 6-9-6-16 3-26-4-13-11-3-6 16-4-1-3-11 0-15 4-7-4-28 4-10 5 1 3 7-3 24 3 13 11-1 5-7-5-28 5-11-3-21 4-19-10-10-11 8 5 27-6 12-8-6-10 0-5 5-3-9 2-23 6 6 7 1 8-10-3-12 3-32-5-11-10 0-6 11-10-7-13 9 6 9-2 73 9 13 12-9 3 9-3 16-10-1-11 8-9 0-7-8-6-1-8 8-20 3 2 4 17-3 6 11 3-3 8 2 5-10 8 1 8 17-7 19 4 13-4 18-5 5-11-6-30 9 1 4 4-4 11 6 14 14 6-9 3 2 4-5 4 1-1 27-16-5-20 11 11 10 16-9 9 3 2 66-3 5-8 1-5-9-7-3-14 15 9 7 12 0 13-6 3 27-3 6-6 2-12-5-12 4 9 20-4 1-2 14-4 3-18-5-6 4-8-3-26 4-2 8 7 7 9-9 19 2 11 6 7-5 11 4-1 19-4 6-12-3-21 9 3 7 7-4 9 4 0 20-7 6-13-5-10 7-1 5 5 7 14-4 7 6 10-2 7-9-2-13 5-17 3 1 1 9 10 0 6-14 12-2 12 6 3 6 6-7 3 12 4 0 10-21-19-13 0-19 7 9 9-4 6-10 14 2 8-4-1-111 3-6 12 6 1 25-5 7 7 22-4 16 2 41 21 4 11-4 18 5 13-4-5-23 4-16-5-12 3-16-1-45 8-3 6 9 5 1 7-4 6-11-8-13 5-19-5-20-10 0-6 13-5 1-4-6 3-26-5-18 5-22-3-33 6-13-5-7 1-23 8-8 2 3 14 0 4-4-4-10-5-2-7 2-4 10-8-6 1-35-4-13 5-26-4-8 0-18 4-10 6 2 8 20-10 16 6 6 11 0 5-8-7-16 7-15 10-7-10-6-8-13-5 2-7 14-8-2-2-24 3-15zM2735 3267l8-3 12 3 3 11-3 15-12-2-12-16zM2775 3225l4 18-3 11-3-7zM2744 3223l10 0 3 25-3 7-12-6-4-16zM2775 3184l3 9-3 23zM2873 3182l5 23-5 15 4 31-3 6-9 1-5-14 4-27-6-10-7-1-2-15 3-6zM2798 3182l4 8-3 28 3 28-4 10-6-5 3-31-3-20zM2776 3141l7 5 9-3 7 3 3 23-4 11-11-13-7 1-6 8-2-26zM2775 3106l3 8-3 22zM2895 3103l6 2 7 13 0 10-8 11-6-1-3-12zM2830 3103l14 24-12 11-12 0-4-25 4-6zM2775 3068l8 7 8 1 7-9 3 6 0 18-4 11 5 11 0 11-6 13-4-9 3-27-10-22-6 3-4 8zM2868 3064l6 1 3 22-3 15 2 64-3 13-9-2-4-9 4-25-3-31 7-11-4-4-13 0-3-10 2-15zM2864 3028l9-1 5 24-4 8-10-3-4-19zM2774 3025l4 9 6 3 6-1 6-11 5 3 1 18-4 14-11-4-10 4-3-2-4-19zM2776 2987l3 21-4 12-7-15zM2872 2866l5 9 2 18-5 12 3 109-3 7-10-2-8-22 7-14-14-7-1-9 4-12 7 1 6-10 6 1-10-14 0-16 9-12-13-9-6-13 12-15zM2804 2773l-5 14 2 31-4 10 3 5 2 47 9 6 9-19-2-33 8-7-8-7 1-34-4-12zM2906 2771l-5 19 4 10 8 2 11-15-8-16zM2978 2769l-7 18 5 25-3 10-7 5 7 5 3 18-3 13 2 31-7 10 10 12 10 1 2 9-12 3-5 14 3 34-4 47 5 17-4 24 4 20-4 14-5 4 6 4 2 24-4 9-9-1-1 3 10 4 3 8-1 17-5 7 8 12-1 22-4 7 5 15-4 26 27 7 6-3 1-6-6-5-9 2-3-16 2-3 14 0 3-17-4-10-12 1-3-17 15 9 5-13-4-26-8 2-5-9 2-9 10 0 6-6-6-9-12-5 1-8 16-16-3-9 2-33-16-7-3-15 4-8 11-1 5-5-8-12-7 2-2-16 6 1 11-18-9-14-7 5-3-3 3-12 11-3 5-8 9-3-8-3-5-8 4-26-2-9-6-4-8 1-2-4 2-18 15-3-1-83-3-7-11 0-5-11zM3396 2747l1 4 7-2-1-3zM3347 2748l3 4 5-2-1-4zM3133 2747l1 3 5-1-1-3zM2783 2746l-1 3 4 1zM3232 2749l6 2 5-4-8-2zM3099 2745l-11 5 4 15 8-4 4-10zM2757 2748l6 7 9-4-5-6zM3409 2746l6 4 8-2-1-4zM3120 2744l-3 5 7 2 1-6zM3067 2746l0 5 5 3 9-2-3-8zM2837 2747l4 7 10 5 11-9-7-6-13-1zM3374 2744l3 7 11-3-5-7zM2879 2745l4 6 8-3-5-7zM2984 2740l-8 6 2 10 11-2 1-8zM3252 2740l-3 5 2 18-3 21-17-6-4 7 2 28-4 11 1 6 8 6 11-6 3 2-1 26-21 4 3 22-2 25 6 15-8 22 5 6 16-2 4 10-3 22-6-9-12 2-1 40-3 6-5 1 9 9 0 23-4 7 4 25-4 16 9 8 12-6 4 7-2 20-7-9-9 0-7 18 4 21-3 14-5 6 9 9-1 41 13 4 5-8 2 15-5 17 7 6 11-1 4-4-2-27 6-8 8 16-7 18 6 4 15-2 4 6 9 0 14-8 13 7 33-5 9 2 13 12 3-5 9 2 11-9 12-2 9 12 5-1 14-13-9-8-15 4-5-6-8 0-5-7 0-14 13-3 6-6-9-21 7-19-18-16 3-15 7 6 11-11-9-24 7-15-3-13 2-29-19-19 2-16 10 0 6-6-7-3-8 2-10-8-8 4-1-23 2 6 4-1 3 4 8-9 15 4 6-13-10-16 7-25-4-5-12 1-2-5 1-18 8 2 13-12-6-17 3-24-4-8-1-22 4-14-8-18 8-18-4-4-12 2-8-12-7 1-5 8-3-5-11 1-3 10 2 32-3 7 3 29-2 7-6 3-4-2-2-8 0-81-8-8-5 1-6 9-11-10-6 2-1 90-9 12 7 2 2 67-7 8 5 5 7 21-7 8-9-1-4-18 3-18-9-6-11 5-3-8 2-23 3-2 9 6 9-8 0-43-4-27 5-10-1-33 5-5-5-4-4-17 1-25-8-4-8 8 3 19-4 14-9-21 7-10-1-5-9-2-6 4 1 7 6 6-6 8-2 23 7 8 12-5 1 27-2 2-4-6-10 0-5 7-4 0-11-12-9 12-4-10 2-20 3 0 3 11 12-1 3-12-1-45-3-6zM3291 3224l3 8-3 18-3-4zM3368 3223l5 9 0 15-4 6-6 1-4-12 1-12 4-7zM3342 3221l3 8-3 23-4-12zM3390 3189l1 18-3-9zM3342 3186l3 18-4 9-2-21zM3291 3185l0 31-4-10zM3270 3181l5 19-3 13-4 2-3-26zM3247 3150l2 17-3 12-3-24zM3390 3148l7 9-6 16-3-11zM3268 3147l5 10-3 19-4-14zM3363 3145l8 0 3 8-3 23-6 4 8 9-3 28-7-1-5-9 4-25-3-22zM3341 3145l3 11-2 21-4-6zM3291 3143l3 20-4 11-3-24zM3370 3111l2 20-6-1-3 4-2-18zM3391 3110l6 7 13-4-1 15-7 4-4-2-7 6-3-8zM3342 3109l3 9-3 20-3-10zM3292 3105l3 13-4 16-3-22zM3270 3105l3 27-5 7-4-10 0-18zM3320 3104l5 10-6 25 5 17-3 22 3 17-2 53-3 9-8 0-4-8 4-66-3-28 4-11-3-31zM3342 3073l6 14-6 13-4-9zM3390 3071l3 11-2 8zM3268 3066l5 10-3 21-6-12zM3247 3066l3 21-4 8-3-22zM3312 3065l9 2 2 28-10 4-4-6zM3246 3031l3 10-3 20-5-11zM3290 3028l3 4-2 23-3-8zM3268 3028l6 14-4 20-5-8zM3342 3027l7 18-8 14-3-14zM3317 3025l5 4 1 26-3 5-9-4-3-16 2-12zM3291 2993l3 15-4 13-2-16zM3341 2987l4 15-3 13-4-18zM3246 2987l5 14-4 17-5-17zM3320 2984l4 6-4 29-7 0-6-23 5-11zM3408 2958l7 4-4 16-4-9zM3390 2957l-1 20-2-10zM3370 2951l9 16-1 8-8 9 3 22-1 49-3 8 4 6 0 23-4 8-7 0-7-9 7-27-4-17-4-3 8-19-4-16 4-20-4-26 3-9zM3341 2948l5 11-4 23-8-10zM3247 2908l3 19-4 13-4-9 0-15zM3247 2873l2 23-3 7-4-15zM3368 2870l6 15-4 21 5 21-3 14-9 3-4-21 6-19-6-11 0-15 4-7zM3342 2869l5 10-5 63-3-5 0-59zM3270 2868l5 10 11 3 3-10 3 1-1 24-5-7-14 15 2 31-3 11 8 8 6 0 6-6 3 7-3 24-9-6-10 9 2 34-3 4-6-9-1-43 4-22-3-29 4-10-4-27zM3292 2830l3 19-4 12-2-22zM3341 2829l4 13-4 22-3-5zM3269 2828l3 26-5 7-2-28zM3341 2788l5 11-5 23-4-28zM3336 2737l-12 2 1 13 5 2 9-6zM2943 2729l-6 4-1 15 10 4 6-4-1-15zM3379 2706l-4 5 7 5 5-6zM3115 2709l2 6 12-2 0-5-4-2zM3324 2709l2 6 10 0 2-3-6-7zM3300 2705l-5 7 8 4 4-7zM3251 2709l4 5 8-3-4-6zM3233 2705l-3 6 9 3 3-6zM3394 2706l3 3 7-2-3-3zM2940 2705l-1 5 7 4 3-8zM2879 2706l4 5 6-3-3-4zM2778 2708l2 8 12-2 0-6-5-4zM2760 2705l-1 14 11 1 1-14zM3348 2703l-2 4 4 4 8-4-4-5zM3098 2700l-7 3 1 11 11-2 0-8zM3253 2668l3 4 6-3-1-3zM3275 2666l4 5 8-3-4-4zM3031 2660l-5 5 2 37-3 6-1 35 7 20-6 13-1 46 3 25-3 14 0 126 5 15-6 17 3 15-3 67 3 107-3 14 3 44-2 106 3 6 8 2 8-4-3-41 0-68 3-9-3-223 3-15-6-19 6-16-1-123-3-11 3-18-1-57-6-13 6-12 0-43-3-6 2-37zM3177 2659l-3 7-1 438 3 10-3 15 0 95 3 10-3 15 3 29-2 96 2 4 8 2 5-3 2-38-3-51 3-28-3-22 3-17 0-91-3-14 3-13-1-437-3-7zM3031 2627l-1 5 4 2 2-6zM3478 2624l-6 6-1 655 3 26 8 2 5-5 2-23-1-655zM3177 2625l-2 7 9 4 5-4-2-7zM2585 2621l-6 7-2 42 0 702 3 6 8 2 7-8 0-702-2-42zM3479 2587l-5 5 8 4 4-5z"/><path class="s" fill-opacity="1.000" d="M3427 3374l6 1-1-3zM3414 3370l-4 5 5 2 3-3zM3274 3372l3 5 11-2-2-6-10 0zM3126 3363l-9 6 1 7 10-2zM3116 3342l8 3 5-5-9-2zM3254 3338l6 2-1-3zM2713 3337l-11 0-2 3 4 3zM2802 3338l2 4 12-2-5-5zM2731 3339l6 6 6 1 3-4-10-7zM2689 3335l-1 4 4 2 2-3zM3295 3337l7 3 5-5-8-2zM2943 3333l-2 3 5 2 1-3zM2752 3341l11 4 6-4 3 4 6-3 6 5 5-9-8-5-7 5-15-6zM3346 3375l43 1 0-31 7 2 12-6 4 3 11-2 3-5-13-5-6 4-8-5-9 4-3-4-7 2-4-3-6 7-9 0-5-6-8-1-6 9 4 11 11 6 4-11 9-6 8 9 1 8-8 14-5-2zM3326 3331l-2 9 13 5 3-4-2-7-6-4zM3031 3329l-6 13 0 30 10 5 6-2-2-42zM3479 3326l-7 9 1 39 9 3 5-3 1-39-2-6zM3254 3301l6 1-1-3zM3295 3298l4 6 8-2-2-6zM3439 3294l-2 4 5 1 1-4zM2938 3299l4 4 8-2-4-7zM3392 3297l3 7 11 2 6-3 3 4 12-8-5-4-14 2-7-4zM3376 3294l-4 4 2 5 12 5 4-10-7-5zM3181 3290l-6 6 1 78 8 3 4-3 1-78zM2751 3297l-21-7-7 9-14 1 29 6zM3028 3285l-3 13 2 21 11 1 3-14-2-20zM2995 3260l2 3 7-2-3-4zM2700 3259l8 6 7-5-9-4zM2676 3256l-9 5 6 4 5-5zM3441 3255l-11 1-4 5 6 7 12-9zM2938 3254l1 9 11-1-2-9zM3083 3254l-5-5-11 8 9 4zM3297 3248l-5 10 5 5 9-1 1-9zM3286 3248l-4-1-8 10 3 3 10-1 2-5zM2725 3259l3 5 23-3-15-14zM2985 3246l-8 3 0 10 13-1-1-9zM3071 3219l1 4 8-1-4-4zM2731 3217l-3 6 9 4 3-6zM3134 3214l-13 1-7 5 2 18 6 4 0 5-7 6 1 8 27-5-1-15-4-5 4-16zM2942 3213l-5 3-1 6 4 8 6 1 4-3 1-11zM3275 3211l-4 12 5 8 7 3 7-15-4-6zM2916 3211l-11 3 0 10 13-1zM2883 3210l-7 9 1 39 11 3 4-5-5-24 5-13zM2977 3212l-3 9 4 8 16 2 12-7 0-6-5-4-9 1-4-6zM2846 3203l-1 5-12 10 1 38 4 3 18 0 5-5-2-4-8 2 0-19 9-6 3-8-4-7-7 0zM2909 3176l-5 4 1 8 11 5 2-14zM3076 3175l-9 7 6 8 8-5zM2726 3182l3 4 13-2 0-5-9-4zM3326 3170l-4 14 9 21-9 16 0 35 10 6 25-1 4-3-3-25 4-14-5-8-12-1 1 37-5 9-4-14 3-20-3-26 4-15-5-9zM3094 3169l-6 9 3 13-4 30 2 35 12 3 3-2 2-79zM2763 3163l-7 16 2 71-5 11 6 16 4 2 1 9-8 10 7 5 8 1 4-4 11 5 2-8-15-5-2-20 4-12 4 7 11-2 4-5-6-17 4-7-1-39 4-16-5-9-10 0-4 6 6 23-6 16 6 32-6 9-4-10 2-70-3-12zM2726 3140l5 8 8-4 2-6-12-2zM3137 3131l-20 1-4 7 2 24-3 21 4 6 5-1 6 10 14-9 3-6-2-6-10-2-3-9 3-19 9 0 4-6zM2910 3131l-8 12 3 4 12 0 3-8zM2780 3127l-2 12 13 2 3-3-3-10zM3075 3125l-6 4-4 10 8 11 10-9zM3357 3123l-11 7-3 10 3 25-3 19 4 10 10 0 3-9-2-28 4-19zM2811 3123l-8 3-4 11 4 25-3 18 3 9-3 27 3 43 13-2 2-120zM3255 3120l-4 2-4 15-6-10-7 0-7 11 6 17-6 26 10 14 8-11-7-17 0-11 9-10 3 5-2 65-3 0-5-17-10 13-2 11 3 6 10 2 6-9 3 7-2 30 14 2 1-31 4-8-3-22 3-21-3-29 3-9-4-17zM3329 3118l-8 23 4 16 7 6 8-28-2-9zM2744 3101l-4-3-12 8 6 2zM2945 3093l-10 7 3 12-4 28 3 10-2 31 4 7 10-2 3-5-1-81zM2909 3093l-7 11 4 7 10 2 4-9-4-9zM3096 3092l-8 11 3 12-3 27 4 6 6 1 9-9-4-17 3-23zM3073 3091l-6 6 1 16 11 2 3-15-2-7zM2845 3087l-10 4-2 9 2 9 9 5 1 19-13 9 3 29-4 11 4 13 11 6 4-17 11-5-1-5-9-7 0-14 9-5 2-11-3-6-8 1 0-11 9-3 3-16-12-2zM2778 3063l1 4 11 3 4-4-7-6zM2748 3064l-8-7-15 5 6 9 6 1zM3234 3052l-7 11 3 11-3 27 10 5 8-6-6-22 5-16zM3073 3052l-6 9 0 8 8 6 5-2 2-10-3-8zM3092 3050l-4 14 8 10 6-1 4-9-3-13zM3032 3044l-7 15 0 201 2 8 7 3 5-3 3-10-3-47 2-151-2-9zM2984 3041l-7 9-3 12 4 7 12-1 3 3 0 20-12-5-7 12 4 26-4 16 0 40 4 7 6 2 5-4 6 7 9 3 4-8-3-12-4-4-10 1-2-16 4-14 13-2-13-3-3-6 2-20 14-8 0-40-12-3zM2763 3041l-5 4-5 17 5 9 1 17-4 15 3 12-2 24 3 15 11 1 4-15 0-38 6 15 3-4 8 3 2-14-8-12-10 8-3-5 0-45zM2780 3017l-4 6 2 7 12 2 4-7-2-7zM2770 3016l-7 0-5 5 0 5 6 5 8-7zM2804 3012l-4 11 7 17-7 19 3 15-3 30 4 8 7 2 8-11-7-21 6-18-6-29 6-13-4-7zM3031 3007l-5 5-2 12 3 14 4-2 7 4 4-21-2-7zM2913 2982l-9 3 4 12-6 23 5 23-5 20 7 7 11-8-3-20 4-15-4-26-4-4 5-12zM3230 2979l-1 8 12 4 2-11zM2773 2980l-13 2-1 10 10 2zM2727 2984l3 5 12-1 0-5-5-4-6 0zM3381 2977l-9 8 2 111-4 7-8 0-11-9-6 6-1 8 3 8 8-4 3 2 3-6 11 0 2 23-3 7-7 0 1 4 7 0 4 10-5 26 4 13-4 67 17 9 35-10-15-6-1-27 17-5-2-10-7-4-13 7-3-5-5 0-3 6-4-14 2-15 5 10 11 5 3-11 8-1 6-6-18-15-5 1-8 11-5-26 4-9 4 7 11 3 4-9 9 3 6-5-6-13-12 8-9-2-6 4-4-9 3-23 4 4 10 1 5-6 8 4 7-6 0-39-7-8-9 0-4-13-3 4-7 0-4 7-1-23 2-3 7 10 6-5 3-13-3-3-14 1-1-36zM3390 3066l7 15 12-8 1 19-3 6-3-6-15 2zM2839 2973l-8 9 4 17-3 26 3 15 9 4 0 7-9 4-2 10 3 10 10 3 5-11 12-4-2-6-11-3 1-20 9-4 3-10-13-20 1-9 8-7zM3353 2972l-7 4-3 8 8 21-9 15-6-23 3-14-6-5-9 4 4 16-7 23 4 26-4 18 5 22-4 15 7 13 7-2 4-7-4-18 5-20 9 9 7-5 3-8-3-12-10 0-6 11-4-9 4-30 9 9 7-2 3-6-6-23 7-21zM2949 2972l-9 2-5 9 0 81 3 9 5 3 7-4 2-8-2-26 3-15-3-21-6-2 7-10zM2804 2971l-1 16 10 1 3-3-1-12zM2784 2966l-5 3-3 14 10 8 6-4-1-17zM3075 2959l-7 5-3 18 6 15-6 26 8 12 7-4 2-6-2-22-4-4 4-1 3-14-3-21zM2731 2945l7 1-1-3zM3303 2941l-10 3 3 18-4 19-3 2-7-5-8 5 7 20 6 1 4-17 7 12-6 23 3 14-3 63-4-7 2-34-6-17 5-17-7-13-10 13 3 10-3 26 3 67-4 16 4 9 5 1 11-13 4 11-3 27-6-8-12 2-2 7 2 6 12 3 6-6 0 40 4 11 10-1 4-49-6-24 6-14-3-35 4-8-4-19 4-25-4-23 4-14-8-19 7-18-3-19 3-20zM3292 3101l7 17-8 20-4-18-5-5zM2776 2945l7 10 10-7-3-7-10 0zM3103 2939l-11 1-4 4 1 78 9 12 8-8-3-11 3-72zM2904 2943l5 3 9-2-2-5zM2981 2936l-7 9 4 25-4 56 3 7 8 4 8-10 13-3-2-5-9 1-3-3-3-18 3-8 6 2 8-5 0-9-5-4-11 4-4-7 5-19 13-3 4-6-3-5-13 1zM3236 2932l-8 13 2 3 13 0 2-5zM3276 2932l-3 12 10 6 6-5-2-13zM3079 2927l-9 1-3 5-1 13 8 11 9-10zM2810 2926l-9 16 7 15 9-10zM2904 2906l1 8 11 1 3-6-2-4zM2807 2901l-5 4 1 9 8 2 3 5 3-16zM3087 2904l4 9 13-2 0-7-6-5zM2728 2902l6 6 8-4-2-5zM2884 2896l-9 12 3 55 5-1 4 4-1 6-8 0-2 9 2 18 5 5-8 18 2 16 5 7-7 17 4 27-3 12 2 28-3 13 3 16-3 27 3 15 7 5 6-7 2-16-3-24 3-54-4-7 4-33-8-14 8-28-8-19 5-3 3-14-3-19 4-22-3-11 1-29zM3234 2894l-6 13 3 6 7 2 6-12-4-7zM3356 2893l-9 1-2 4 1 38-3 9 4 8 10 4 4-7-3-13 3-34zM3079 2888l-11 4-2 13 4 4 11 1 3-3zM3128 2886l-3 5-9 2-3 10 6 12-6 27 3 26 3 2-4 18 7 12-9 23 0 40 4 14 6 0 4 7 4 1 2-6 2 4-2 9-19 10 1 7 10 3 6 7 2-7 9 0 3-10-7-19 7-17-3-16-9-3 0-8 10-7 2-11-5-8-8 0-2-19 12-5 3-5-5-7-8-3-1-22 2-3 8 1 3-8-13-6-4-22 5-5 8 0 2-6-10-4-1-12zM2846 2885l-1 8-11 6-2 16 2 40 2 3 7-3 4 6 4-10 8 0 4-6-4-15-8-8 0-9 3-3 6 2 3-6-13-11zM3079 2861l-12 2 1 10 5 6 10-12zM2729 2862l4 4 8-2zM2903 2864l2 5 13-2-6-9zM3306 2856l-10 0-4 8 0 36-13 0-6 6 2 17 6 3 6-2 4-18 8 5 10-4 1-42zM2878 2857l-2 12 2 8 8 2 4-3 2-13-3-7zM2786 2855l-5 1-7 11-7-6-11 6 0 40 3 9-3 30 7 8 6 0 5-7-4-22 4-18 13 4 6-5-2-31 3-11zM2775 2869l3 9-3 24-3-13zM3032 2852l-8 13 1 120 10 8 6-7 0-123-2-7zM2943 2845l-9 20 3 10-3 32 4 10-3 28 11 6 7-7-3-31 4-47-4-16zM3117 2845l-2 25 6 6 4-2 6 10 3-6 8-1 3-12-3-6-10-2-4-13zM2737 2825l-8 3 5 1zM3259 2818l-11 9 0 35-21 4 4 20 11-4 4-13 4 9-2 27 4 16-5 21 4 15-3 29 3 10 4 1 0 15-8 11-5-15-8-3-4 3-2 16 4 10 8 6 4-12 4 0 0 37 6 18-7 19 9 14 11-13-7-18 6-19-3-24 4-21-4-9 2-188zM3092 2818l-4 8 8 17-7 28 3 11 10 0 4-16-6-28 5-13-3-5zM2909 2818l-7 13 11 11 8-12 0-6zM3079 2815l-10 3-4 6 4 13 12-5 2-11zM3241 2811l-11 2-3 11 3 6 6 1 9-6zM2882 2811l-4 2-3 15 3 11 11 3 4-18-3-11zM3336 2809l-8 2-6 16 3 16-4 23 4 71-4 11 8 13 8-5 3-9-2-10-5-4 5-7 2-59-8-17 8-22zM3116 2812l-3 14 4 5 22-4-7-3-4-14zM3353 2803l-7 6-3 12 3 21-3 25 4 6 10 3 5-9-4-19 3-26-3-15zM2732 2787l2 3 7-2-4-3zM3231 2783l-1 11 11 7 2-16zM3072 2783l-4 7 7 3 5-6zM2779 2782l-3 4 0 40 4 5 7 1 7-6-1-40-3-4zM3093 2780l-3 9 5 4 7-1 3-4-2-5zM2938 2780l-3 7 0 40 11 9 7-9-2-44-2-3zM2808 2780l-7 7 0 79 3 9 10 1 4-9 0-77-3-8zM2760 2780l-3 5 2 27-3 16 4 11 10 0 4-12 0-40-4-7zM3144 2786l-3-5-8 1-3-3-13 3-3 6 3 6 8-1 3 3 13-3zM2906 2778l-2 15 12 1 3-5-2-10zM2841 2778l-9 7 3 9-3 35 9 22-6 5-2 10 15 9 7-2 8-9-3-8-8 2-9-10 8-21 10-3-11-12 0-16 10-2 1-8zM2978 2777l-4 9 3 14 5 3 10-9 1 8-3 14-9-9-8 17 4 24-3 57 5 6 10-1 5 7 6 1 5-3 2-13-3-4-13-1-1-16 5-13 12-3-6-18 6-16-2-30-3-2 3-13-4-3-8 2-5-7zM2878 2779l-3 12 3 10 7 3 5-4 3-15-4-7zM3262 2777l-11 2-2 12 3 5 11-2 2-8zM3398 2775l-6 3-2 7-8-6-8 5 1 12 9 5 1 12 5-25 9 7 1 5-7 9-4 15-2-7-8-3-6 11 2 30-4 13 4 27-3 11 10 9 9-5 1 25-3 4-3-7-10 1-5 17 9 10 6-1 5-8 2 41 8 1 7-4 13 4 4-10-7-6-9 5-3-8 1-20 16-6-1-5-13 0-3-4 0-25 3-5 12 0 3-8-2-14-10-5-3 1 0 12-3 0-1-15 2-5 4 3 12-8-4-23-5-4-5 4-2-7 2-12 6 8 3-1 5-17-11-6-4 2-7-15 7-11 7 7 8-8-14 0-4-10zM3390 2872l6 13-6 16-3-7zM3389 2832l3 16-2 13zM3031 2772l-6 11 2 57 7 3 5-3 2-8 0-49-2-8zM3326 2770l-3 15 9 13 8-19-4-7zM3350 2769l-6 4-2 12 5 8 10 3 3-6-1-15zM3300 2768l-9 16-5-15-11 2-1 19 8 2 8-5 3 9-1 30-6-5-10 1-4 4 2 26-3 12 9 10 6 0 4-8-3-16 5-23 10 8 8-9 1-39-4-14zM3093 2749l-2 5 7 2 2-6zM2851 2748l-2 3 5 2 2-4zM3296 2745l-1 7 8 5 4-11zM3252 2745l-1 7 4 3 8-3-1-7zM3324 2747l8 2 5-5-11-2zM2939 2737l-2 8 5 4 6-1 2-10zM3181 2734l-6 11-1 213 3 17-3 10-1 113 6 21-6 19 0 82 7 14-6 16 3 22 11-1 2-11-6-27 6-12 1-82-6-27 5-10 1-77-4-55 3-14 1-125-3-15 1-71zM3032 2701l-6 8-1 38 4 6 6 1 5-4 0-41zM3177 2698l-1 34 11 1 2-32zM3479 2691l-5 3-2 12 2 228-2 365 3 7 7 1 6-8-2-365 3-112-1-116-2-12zM3177 2664l-2 16 8 12 6-12-2-16zM3032 2664l-6 7 1 17 8 2 4-2 1-17zM3479 2627l-6 4 1 52 7 5 6-11 0-46zM2584 2626l-3 3 2 15-4 6-2 59 0 552 3 54-3 43 2 16 9 3 6-5-2-46 3-65 0-552-2-59-4-6 2-15z"/></g><path class="p" d="m1381 1295 57 0 79 0 174 0-174 3 0 7 44-1 68-7 0 5 47 0 0 3-308 10 37-5 37 0 39 5 36-4 32 8 12-7 65 6 15-3-258 9 10 1 49 3 11-6 19 9 45-10 20 0 24 2 68 4 22 0 40-7-323 22 25-3 12 4 16-3 8-5 27 8 16 0 20-1 45-1 24 2 7-3 40-5 21 5 12-1 3-4 32 6 15 2 9-1 20-7 2 6-359 13 5-4 4 4 16 0 33-7 5 3 16-5 46 9 12-4 31 4 6-3 31-1 73-6 0 6 7 4 3-5 15-5 10 4 5 6 10-4-323 11 59-3 0 7 15-6 14 2 0 6 36-8 67 3 59 4 8-5 50-1 32 5-351 3 11 1 6 9 11-9 1 10 10-5 6 0 3-6 3 6 19-6 45 10 28-10 20 6 9 0 20-5 6 5 6-6 6 3 1 6 44 1 46-4 8 3 10-7 15 7 9-9 5 11 14-1-363 9 12-2 13-3 15 6 20-3 5-4 10 4 20 1 16-2 53 4 34-8 7 3 57-1 8 8 11-6 32-2 42 2-354 10 1 6 3-6 14 4 24 2 48-2 14 0 15 4 13 1 25-9 9 0 3 0 18 6 31-2 94 5 17-2 30 1 6-8-370 19 21-5 4-1 35-2 25 4 94-5 81 0 12 0 12 3 45 0-328 12 5-2 14 9 14-1 1-5 12 7 14-1 14-5 6-4 32 7 63-7 15 9 1-10 11 9 25-9 77 2 24 8 3-4 31-4-382 19 8-1 10-3 2 4 9 1 6 1 94-9 3 7 15-8 46 0 48 0 139 0 6 10-394 2 34 6 14-6 6 3 17 3 4-7 12 0 1 9 36 0 0-8 7 2 27 4 17-5 12-1 15 7 16-4 10 5 5-4 26-4 21 9 5-10 3 6 11 3 36-3 55-5-368 19 4 1 11 0 9-4 30 3 59 1 44-2 10 2 17 0 14 2 11-6 68 6 27 0 3-1 58 1 10-7-397 13 7 3 2-3 13-1 16-1 15 0 21 0 12-1 5 0 22-1 22 3 51-3 16 7 47-6 35 6 6-5 17-2 28 2 13-1 47 6-390 12 9 3 10-8 1 7 8-7 39-1 11 9 1-10 25 4 22-1 9-4 41 0 35 11 13-6 54-1 4 0 24-1 10 3 8-2 17 0 12 0 33-3 2 6-393 15 5-3 13 2 16-8 0 7 12-7 42 9 17-10 16 11 14-10 6 6 87 0 0-6 106 9 21 0-334 10 6-5 57 4 6-1 18-5 1 5 15-4 10 2 18-1 8 4 16-4 12-1 39 2 5-3 56 2 22-3 19 1 28 3 21-4 5 4 12-4-394 23 12-11 4 0 2 10 9-3 15-1 7 1 11 3 26 0 1-4 33 5 39-4 15 4 4-3 3 3 23-4 10-2 13 5 22-4 36 2 44-2 51 1-375 5 3 8 9-6 4 6 9-6 35-1 7 1 37 9 32-7 10-1 5 0 21 0 27-3 42 3 110-2-356 19 9-4 14 7 0-4 7 4 2-9 1 5 41 1 8-8 1 7 18 1 3-4 20-1 2 7 8-1 22 1 40-8 20 7 70-6 13 3 31 2 2-5 30 4 25-4 3 5-391 15 9-1 10 1 4 0 24-2 15 1 47 0 2-10 43 10 27 0 70-7 34 8 24-1-307 13 5-7 4-4 2 11 9 0 5-3 48-6 37 3 12-4 2 6 16-5 18 5 36-3 52-2 21-1 13 10 2-3 28-2 57-3-352 14 3 1 8-1 5 2 17-4 14 1 8 7 20-3 15 3 3-5 15 3 10-1 5 1 13-4 30-1 15 3 8-3 13 0 11 1 13 3 8 1 32 1 39-2 10-1 59-2-379 13 5 3 5-8 15 0 16 1 35 2 14 7 34-7 20 7 23-9 26 9 4-10 122 9 28-10 29 0-382 23 4-10 3 10 8-1 10-10 5 3 25-1 4 4 19-6 5 2 21 4 15-1 12-1 2 6 20-6 22 4 20-6 1 4 10 3 21-2 55-2 24-3 8 8 27-6 16 3-362 14 5-7 7 0 0 8 9-8 7 7 8 1 46-3 31 3 25-1 43-1 17 0 52 0 39 1 44-2 14 4 38-4-380 10 3-2 6-3 7 1 27 2 60 0 18 1 4 1 26-3 27 0 15-1 34 2 27 6 22 1 3-9 51 5 24-5-345 19 36-2 29-4 16 9 17-4 4 4 0-7 38 4 16 2 8-2 7-3 14 2 43 1 1-3 49-2 24 5 3-2 2 4 19-5 11 0 8 3 11 3 19-5 10-3-376 10 62 7 2-7 3 5 62 0 9 0 13-5 7 5 30 3 23-7 61 0 8 0 25 4 12 4 10 1 46 0-347 10 4-8 16 3 10-4 4 8 12-8 6 5 15-2 14 7 36-3 69-5 3-2 4 4 59 7 14-5 44-2 29-4 5 7 1-4 4 7-390 11 26-4 6 5 7 1 58-10 23 7 5 1 18 1 7 1 16-5 12-5 9 0 14 2 14 3 19-1 4-4 46 7 7 2 26-4 47 3 14-1 14 3-389 7 6-3 35-1 43 2 6-2 37 7 21-5 10-3 13 8 104 0 1-6 5-2 51 2 58 3"/></g><rect class="ax" x="1270.80" y="1234.50" width="491.90" height="476.00"/><text x="1293.16" y="1741.20" font-size="21.30" text-anchor="middle" textLength="33.12" lengthAdjust="spacingAndGlyphs">0.0</text><text x="1382.60" y="1741.20" font-size="21.30" text-anchor="middle" textLength="33.12" lengthAdjust="spacingAndGlyphs">0.2</text><text x="1472.03" y="1741.20" font-size="21.30" text-anchor="middle" textLength="33.12" lengthAdjust="spacingAndGlyphs">0.4</text><text x="1561.47" y="1741.20" font-size="21.30" text-anchor="middle" textLength="33.25" lengthAdjust="spacingAndGlyphs">0.6</text><text x="1650.90" y="1741.20" font-size="21.30" text-anchor="middle" textLength="33.00" lengthAdjust="spacingAndGlyphs">0.8</text><text x="1740.34" y="1741.20" font-size="21.30" text-anchor="middle" textLength="33.12" lengthAdjust="spacingAndGlyphs">1.0</text><text x="1256.22" y="1696.86" font-size="21.30" text-anchor="end" textLength="26.50" lengthAdjust="spacingAndGlyphs">10</text><text x="1256.22" y="1598.52" font-size="21.30" text-anchor="end" textLength="26.50" lengthAdjust="spacingAndGlyphs">15</text><text x="1256.22" y="1500.17" font-size="21.30" text-anchor="end" textLength="26.50" lengthAdjust="spacingAndGlyphs">20</text><text x="1256.22" y="1401.82" font-size="21.30" text-anchor="end" textLength="26.50" lengthAdjust="spacingAndGlyphs">25</text><text x="1256.22" y="1303.48" font-size="21.30" text-anchor="end" textLength="26.50" lengthAdjust="spacingAndGlyphs">30</text><path class="tk" d="M1293.16 1710.50v7.29M1382.60 1710.50v7.29M1472.03 1710.50v7.29M1561.47 1710.50v7.29M1650.90 1710.50v7.29M1740.34 1710.50v7.29M1270.80 1688.86h-7.29M1270.80 1590.52h-7.29M1270.80 1492.17h-7.29M1270.80 1393.82h-7.29M1270.80 1295.48h-7.29"/><text x="1516.75" y="1222.60" font-size="25.60" text-anchor="middle" textLength="362.88" lengthAdjust="spacingAndGlyphs">symmetry_score vs Difficulty</text><text x="1516.75" y="1769.40" font-size="21.30" text-anchor="middle" textLength="172.38" lengthAdjust="spacingAndGlyphs">symmetry_score</text><text transform="translate(1217.40 1475.50) rotate(-90)" x="0" y="0" font-size="21.30" text-anchor="middle" textLength="93.50" lengthAdjust="spacingAndGlyphs">Difficulty</text><g clip-path="url(#c11)"><g transform="scale(.5)"><path class="s" fill-opacity="0.210" d="M4283 3361l-8 6-1 17 11 9 8-6 1-17zM4321 3324l-7 6-1 12 4 8 8 2 7-6 1-12-4-8zM4282 3324l-7 6-1 12 4 8 8 2 7-6 1-12-4-8zM3771 3285l-7 6-1 12 4 8 8 2 7-6 1-12-4-8zM4322 3284l-8 7-1 12 6 9 5 1 8-7 1-12-6-9zM4307 3245l-7 6-1 12 4 8 8 2 7-6 1-12-4-8zM4128 3245l-7 6-1 12 4 8 8 2 7-6 1-12-4-8zM4218 3235l-8 9 0 20 4 7 8 2 8-9 0-20-5-8zM4258 3206l-7 6-1 12 4 8 8 2 7-6 1-12-4-8zM4128 3206l-7 6-1 12 4 8 8 2 7-6 1-12-4-8zM4283 3205l-8 7-1 12 6 9 5 1 8-7 1-12-6-9zM4218 3166l-7 6-1 13 5 8 7 1 7-6 1-13-5-8zM4282 3164l-7 6-1 18 4 6 8 2 8-8 0-15-4-7zM4169 3128l-8 7-1 14 6 9 5 1 8-7 1-14-6-9zM4302 3129l-3 18 4 7 22 1 6-4 2-14-4-8-18-3zM4282 3124l-8 9 0 14 4 7 8 2 7-6 1-17-6-8zM4307 3088l-7 6-1 12 4 8 8 2 7-6 1-12-4-8zM4128 3088l-7 6-1 12 4 8 8 2 7-6 1-12-4-8zM4282 3087l-7 6-1 15 4 7 8 2 7-6 1-15-4-7zM4321 3009l-7 6-1 12 4 8 8 2 7-6 1-12-4-8zM4282 3009l-8 9 0 22 4 8 8 2 7-6 1-26-4-7zM4218 3009l-7 6-1 12 4 8 8 2 7-6 1-12-4-8zM4282 2970l-7 6-1 12 4 8 8 2 7-6 1-12-4-8zM4258 2970l-7 6-1 12 4 8 8 2 7-6 1-12-4-8zM4218 2931l-7 6-1 12 4 8 8 2 7-6 1-12-4-8zM4128 2931l-7 6-1 12 4 8 8 2 7-6 1-12-4-8zM4282 2927l-7 6-1 18 4 7 8 2 7-6 1-18-4-7zM4308 2892l-8 7-1 14 6 9 5 1 8-7 1-14-6-9zM4168 2891l-7 6-1 12 4 8 8 2 7-6 1-12-4-8zM4218 2890l-7 6-1 15 4 7 8 2 7-6 1-15-4-7zM4258 2868l-7 7-1 13 6 9 6 1 7-7 1-13-6-9zM4283 2851l-9 9 0 12 5 8 7 1 7-6 1-15zM4218 2812l-7 6-1 12 4 8 8 2 7-6 1-12-4-8zM4169 2811l-8 7-1 12 6 9 5 1 8-7 1-12-6-9zM4283 2769l-8 7-1 14 6 9 5 1 8-7 1-14-6-9zM4258 2734l-7 6-1 12 4 8 8 2 7-6 1-12-4-8zM4128 2694l-7 6-1 12 4 8 8 2 7-6 1-12-4-8zM4282 2686l-8 11 0 22 6 9 5 1 9-10 0-22-5-10zM4367 2653l-8 8-1 559 1 165 4 6 8 2 8-8 1-597-1-127-4-6zM4398 2664l2 14 7 5 7-1 9 7 13-7 11 2 5-4 11 5 8-10-4-17-8-2-6 3-12-5-7 6-3-9-6-4-7 1-6 8-9 1zM4470 2616l-7 6-1 12 4 8 8 2 7-6 1-12-4-8zM4367 2615l-7 6-1 15 4 7 8 2 7-6 1-15-4-7zM4566 2576l-7 6-1 12 4 8 8 2 7-6 1-12-4-8zM4669 2575l-8 2-4 7 1 23-5 13 3 28-5 9-8-2-7 7 0 14 5 6 7 1 8-6 0 56-3 2-11-3-2-29-6-11-11-8 6-7 0-16-6-6-11-3 2-8 15 0 7-7 0-14-7-7-63-1-8 9 4 22-5 9-8 1-7-6 7-11 0-15-4-7-8-2-8 9 0 15 7 9-7 9-21-3-9 10-9-10-8 2-4 7 0 12 4 7 8 2 9-10 9 10 20-3 0 13-22 0-7 7-6-10-9-3-9 6-34-1-8 9-5-8-6-2-13 5-4 6 0 10 4 6 11 4 9-2 4-6 2 4-3 19-7-6-18 0-10 11 3 17 13 6-1 7-10 1-6 8 3 18 14 4 0 33-3 14-9 11 1 12 10 7 0 6-14 2-8 10 2 15 21 9 0 6-11 6-5 12 0 11 6 11-8 10 2 15 16 5 0 7-9 4-5 10 1 14 5 5 7 0 1 8-14 2-9 9 0 10 4 6 19 5 0 8-10 2-5 6 1 16 14 6-3 25 3 23-12 2-7 7 1 16 17 12-12 4-6 9 2 14 17 8 0 7-13 3-4 8 2 14 15 5 0 9-8 4-4 8 1 12 11 7 1 7-12 12 2 14 10 7-16 18 1 13 7 7 241 1 9-12 5 10 8 2 8-8 1-761-1-40zM4527 3352l2 7-9 2-1-6zM4466 3354l11-1 1 8-7 1zM4433 3352l7 3-6 7zM4656 3349l-4 13-18-5 1-3 12 0zM4452 3348l5 6-5 7-6-5zM4645 3315l11-2-1 15-14-7zM4475 3265l3 18-9 2-3-3zM4655 3232l-1 14-6-3 0-6zM4527 3234l0 11-11-5-16 14 0 10 7 7-3 37 11 9 0 5-12 3-4 7-9-14-16 7-11-7-9 5 0-10 35 3 11-8-2-71 4-5 14 6zM4477 3232l-1 20-6-15zM4500 3195l8 3-4 11-6-4zM4499 3155l8 1-1 10-8-2zM4435 3153l24 6 19-3-1 52-24-4 2-9 8 2 9-7 0-19-8-6-12 4-7-4-9 3zM4655 3149l-1 18-10-5zM4649 3119l7 1-1 15-7-9zM4498 3118l9-1 1 9-9 1zM4468 3117l9-1 2 9-7 1zM4434 3079l3 4-3 6zM4499 3081l8-3 1 8-8 1zM4472 3077l6 2-2 9-5-1zM4655 3072l1 14-15 2-3-7 13-4zM4639 3039l16-2 1 16-15-6zM4500 3037l7 6-1 5-8-2zM4473 3037l5 1-2 11-7-2zM4650 3000l1 7-4-2zM4472 3000l4 9-8-2zM4510 3001l-12 7 2-11zM4501 2959l-2 9-1-8zM4472 2958l6 1-2 12-5-2zM4654 2957l1 11-4-7zM4499 2914l9 7 0 7-7 3-5-9zM4655 2882l0 15-3-6zM4500 2878l6 6-7 9zM4647 2841l9 0-1 13-9-3zM4499 2799l4 12-4-2zM4472 2761l6 5 2 156-4 9-5-1 0-13 5-7-2-14-11-7-11 0 2-8 9 2 8-8 3-52-6-11-12-2-2-8 8 1 8-6zM4433 2759l8 5 9-1 1 8-10-2-7 5zM4527 2722l-2 7-4-5zM4480 2721l-4 13-7 2-16-4 0-10zM4498 2715l16 10-14 15-4-15zM4608 2690l1-6 11 2-6 6zM4550 2682l8 2-1 9-8 0z"/><path class="s" fill-opacity="0.241" d="M4282 3365l-6 4-2 9 4 9 8 2 6-4 2-9-4-9zM4322 3328l-6 3-2 8 3 7 7 2 6-3 2-8-3-7zM4283 3328l-6 3-2 8 3 7 7 2 6-3 2-8-3-7zM4320 3289l-6 11 4 7 8 1 6-11-4-7zM3772 3289l-6 3-2 8 3 7 7 2 6-3 2-8-3-7zM4308 3249l-6 3-2 8 3 7 7 2 6-3 2-8-3-7zM4129 3249l-6 3-2 8 3 7 7 2 6-3 2-8-3-7zM4218 3239l-7 7 0 16 3 5 8 2 7-7 0-16-4-6zM4281 3210l-6 11 4 7 8 1 6-11-4-7zM4259 3210l-6 3-2 8 3 7 7 2 6-3 2-8-3-7zM4129 3210l-6 3-2 8 3 7 7 2 6-3 2-8-3-7zM4218 3170l-5 3-2 9 4 7 7 1 5-3 2-9-4-7zM4282 3168l-6 4-2 10 4 9 8 2 5-3 3-12-4-8zM4168 3133l-5 3-2 9 4 8 7 1 5-3 2-9-4-8zM4300 3137l0 8 7 7 20-2 5-8-2-8-6-3-17-1zM4282 3128l-7 7 0 11 4 5 7 1 7-6 0-11-3-5zM4308 3092l-6 3-2 8 3 7 7 2 6-3 2-8-3-7zM4129 3092l-6 3-2 8 3 7 7 2 6-3 2-8-3-7zM4283 3090l-8 7 0 10 10 7 8-7 0-10zM4322 3013l-6 3-2 8 3 7 7 2 6-3 2-8-3-7zM4282 3013l-7 8 0 17 10 8 8-8 0-17-3-6zM4219 3013l-6 3-2 8 3 7 7 2 6-3 2-8-3-7zM4283 2974l-6 3-2 8 3 7 7 2 6-3 2-8-3-7zM4259 2974l-6 3-2 8 3 7 7 2 6-3 2-8-3-7zM4219 2935l-6 3-2 8 3 7 7 2 6-3 2-8-3-7zM4129 2935l-6 3-2 8 3 7 7 2 6-3 2-8-3-7zM4282 2931l-5 3-3 10 2 8 10 4 6-4 2-9-3-9zM4307 2897l-5 3-2 9 4 8 7 1 5-3 2-9-4-8zM4169 2895l-6 3-2 8 3 7 7 2 6-3 2-8-3-7zM4219 2893l-8 7 0 10 10 7 8-7 0-10zM4258 2873l-5 3-2 9 4 7 7 1 5-3 2-9-4-7zM4282 2855l-7 7 0 9 4 5 8 1 6-6 0-9-3-5zM4219 2816l-6 3-2 8 3 7 7 2 6-3 2-8-3-7zM4167 2816l-6 11 4 7 8 1 6-11-4-7zM4282 2774l-5 3-2 9 4 8 7 1 5-3 2-9-4-8zM4259 2738l-6 3-2 8 3 7 7 2 6-3 2-8-3-7zM4129 2698l-6 3-2 8 3 7 7 2 6-3 2-8-3-7zM4421 2696l-14 9 0 6 17 9 8-7 0-10zM4279 2692l-4 25 4 6 7 1 7-7-1-20-3-5zM4644 2659l-6 4-1 10 10 6 7-6 0-10zM4486 2658l-7 7 0 8 3 5 8 2 7-7 0-8-3-5zM4367 2656l-8 10 0 601 4 10-4 14 0 89 5 8 6 2 9-10 0-89-4-13 4-11 0-601-4-8zM4400 2666l5 12 9 0 9 7 11-7 8 3 9-4 14 3 5-8-5-11-12 2-8-6-7 2-4 6-4-10-5-3-7 1-6 7-7 0zM4471 2620l-6 3-2 8 3 7 7 2 6-3 2-8-3-7zM4537 2619l-6 4-2 9 3 9 9 3 5-3 3-10-2-8zM4367 2619l-7 7 0 8 3 5 8 2 7-7 0-8-3-5zM4567 2580l-6 3-2 8 3 7 7 2 6-3 2-8-3-7zM4670 2579l-8 1-5 8-2 150-14-4 0-18-7-20-8-6-17 5-1-14 14-1 7-10-4-10-16-5 1-11 9-6 12 1 4-5-1-10-23-6-44 0-8 7 1 12 6 5 20 2 3 11-22-7-10 11-8 1-12-6-8 7-13-4-8 1-7 6-1 7 4 7 16 3 8-4 2 3-2 19-18-2-10 7 4 13 12 4 13-3-3 15-6-3-8 2-13 15-2-17-6-8 6-8 1-11-7-10-7-1-10 7-36-1-4 5 0 11 6 9-6 8-1 10-7-5-17-1-10 10 2 12 11 4 2 14-12 3-5 9 4 11 12 2 0 49-11 16 2 8 9 4 0 13-18 5-4 11 4 7 18 6 0 14-11 6-4 15 5 9 12 0 3 4-3 6-11 0-8 9 3 10 15 5-1 13-8 3-5 10 5 12 10 2-2 14-12 1-9 8 0 6 7 7 15 2 0 15-10 2-5 6 1 10 6 5 8 0 0 52-2 5-13 2-4 5 1 10 17 10 0 9-11 3-6 6 0 9 8 7 9 2 0 15-13 3-3 7 2 8 6 4 7-1 1 19-8 3-3 7 2 8 9 4 4 13-8 11-5 1 0 6 5 1 7 11-3 8-14 14 2 9 6 5 239 1 7-4 3-13 2 11 10 6 9-9 0-793zM4527 3348l2 15-11 1-1-10zM4430 3353l3-5 12 3 7-6 7 6 11-3 10 4-3 15-13-8-12 5-10-5-8 6zM4498 3343l1 18-3-6zM4657 3342l-3 24-21-6 2-9 16-2zM4433 3316l-1 12-2-8zM4653 3308l4 3-1 24-5-8-10-1-4-5zM4635 3279l1 6-4 1-1-4zM4526 3269l3 1-1 17-5-12zM4436 3239l2 3-4 5-1-7zM4451 3234l4 5-3 8-6-6zM4655 3228l0 22-9-7 0-8zM4528 3231l0 18-12-5-14 12 0 6 10 10-4 7-2 27 12 8-2 10-12 4-5 10-2-10-7-6-17 7-13-7-7 6 1-19 36 3 10-10-3-20 1-51 6-4 12 7zM4478 3227l0 60-24 2-1-12 10 2 7-6 4-19-7-14 4-9zM4549 3194l7 0 2 7-8 4zM4501 3191l8 6-1 13-4 3-6-3 0-17zM4528 3160l1 7-3 2zM4498 3152l10 2 1 14-11 0zM4434 3147l7 6 12-1 7 4 9-4 11 2-3 58-15-5-9 2 0-17 14 0 5-7 0-9-9-8-11 5-10-5-8 6zM4646 3115l11 2-1 54-15-5 1-7 12-12 0-11-9-13zM4499 3113l16 3-10 15-10-5zM4527 3112l1 17-6-11zM4453 3115l24-3 4 14-3 4-6 0-10-9-8 2zM4528 3078l-1 14-2-7zM4500 3076l8 0 1 14-11 0zM4432 3074l9 7 12-7-1 14-11-2-8 8zM4477 3072l1 19-6 1-4-16zM4656 3068l-1 23-11 1-10-6 1-8 13-3zM4549 3044l9 3-8 3zM4639 3035l18 0-2 23-4-6-12-3zM4499 3033l9 7 0 11-10-1zM4474 3033l4 1-1 20-13-5zM4431 3034l19 0 8 15-5 2-5-7-7-1-7 7zM4652 2995l3 3 0 14-10-4 1-9zM4448 2996l2-2 9 11 8-2 5-7 6 6 0 10-8 1-8-4-8 3zM4496 3001l4-8 17 5 10-1 2 11-13-6-17 11zM4434 2991l4 9-5 8zM4526 2955l3 1-1 14-8-9zM4515 2960l-11 5-5 9-1-18zM4472 2954l5 0 2 5-2 16-7-5-1-12zM4639 2959l16-7 2 19-2 2-6-8-8-1zM4434 2918l7 7-3 8-4-5zM4499 2910l11 12-1 9-7 3-4-1-7-13zM4433 2882l7 7-6 5zM4656 2874l0 55-3-4 1-27-8-8zM4499 2874l9 6 0 8-9 10zM4451 2844l1 7-4 3-4-4zM4550 2842l8 3-1 8-8-1zM4527 2839l0 13-5-8zM4506 2838l2 4-9 15-1-16zM4653 2836l4 2-1 20-12-5 2-14zM4432 2836l9 13-7 7zM4655 2798l1 17-8-10zM4434 2797l3 5-3 13zM4499 2793l9 15-3 7-7-4zM4646 2761l9-3 2 10-10-1zM4472 2757l6 3 2 15-2 134 7 10-8 16-7-3 0-18 4-6-4-12-24-5 8-13 9 2 8-9 1-50-7-7-9 0-5-14 2-3 10 2 7-6zM4528 2754l-1 16-6-8zM4433 2751l5 8 13 1-1 15-9-2-10 5zM4499 2750l3 7-3 24zM4485 2722l-12 17-19-3-8-13 6-5 25-3zM4558 2679l0 16-8 3-1-19z"/><path class="s" fill-opacity="0.317" d="M4281 3368l-5 4-1 7 4 6 8 1 5-4 1-7-4-6zM4316 3336l2 6 12-2-2-6zM4277 3336l2 6 12-2-2-6zM3766 3297l2 6 12-2-2-6zM4316 3297l2 6 10 0 2-3-2-6-10 0zM4368 3279l-8 11 0 91 11 6 7-6 0-91zM4302 3257l2 6 12-2-2-6zM4123 3257l2 6 12-2-2-6zM4215 3244l-3 5 1 13 12 2 3-5-1-13zM4253 3218l2 6 12-2-2-6zM4123 3218l2 6 12-2-2-6zM4277 3218l2 6 10 0 2-3-2-6-10 0zM4213 3178l2 6 12-2-2-6zM4282 3171l-6 4-1 7 3 6 8 2 5-3 2-9-4-6zM4163 3142l2 6 10 0 2-3-2-6-10 0zM4301 3139l4 9 25-5-2-6-8 1-7-4-8 0zM4283 3131l-6 3-1 10 10 5 6-5 0-8zM4302 3100l2 6 12-2-2-6zM4123 3100l2 6 12-2-2-6zM4281 3094l-5 4 0 8 11 4 5-4 0-8zM4316 3021l2 6 12-2-2-6zM4213 3021l2 6 12-2-2-6zM4279 3018l-2 20 12 2 2-20zM4277 2982l2 6 12-2-2-6zM4253 2982l2 6 12-2-2-6zM4213 2943l2 6 12-2-2-6zM4123 2943l2 6 12-2-2-6zM4283 2934l-6 4-1 10 10 5 6-5 0-8zM4302 2906l2 6 10 0 2-3-2-6-10 0zM4163 2903l2 6 12-2-2-6zM4217 2897l-5 4 0 8 11 4 5-4 0-8zM4254 2879l1 9 11-1-1-9zM4279 2860l-2 11 12 2 2-11zM4213 2824l2 6 12-2-2-6zM4163 2824l2 6 10 0 2-3-2-6-10 0zM4277 2783l2 6 10 0 2-3-2-6-10 0zM4253 2746l2 6 12-2-2-6zM4123 2706l2 6 12-2-2-6zM4421 2699l-7 4-1 6 3 6 7 2 8-5 0-8zM4279 2698l-2 19 12 2 3-5-3-16zM4497 2704l-8-9-7 1-9 8-29-5-8 4-1 9 10 6 23-3 9-5 13 8 6-5zM4639 2666l1 7 12-1-1-7zM4484 2662l-4 5 1 6 11 3 4-5-1-6zM4435 2667l0 6 5 4 8 0 5-6 3 4 10 0 2-3-2-6-13 2-5-7-8 0zM4367 2659l-7 6 2 18-3 23 3 27-3 14 0 323 3 13-3 35 0 106 3 15-3 21 3 11 8 6 6-6 3-11-3-21 3-15-3-134 3-20 0-323-3-11 3-30-3-23 2-18zM4404 2666l1 7 6 0 12 9 10-7-5-18-10 0-5 7zM4465 2628l2 6 12-2-2-6zM4365 2623l-4 5 1 6 11 3 4-5-1-6zM4537 2622l-6 5 0 8 9 6 6-4 1-10zM4561 2588l2 6 12-2-2-6zM4670 2582l-8 1-4 6 4 17-5 11-2 124-14-3-1-18-8-23-10-3-12 4-5-10 2-9 14-1 6-7-5-10-18-5 4-14 10-7 14-1 1-7-22-6-27-1-21 3-3 11 7 5 20 2 8 12-1 6-25-7-7 2-5 9-7 1-13-7-8 8-8-5-10 0-9 6 4 10 15 2 7-5 3 6-3 24-12-4-14 6 0 6 9 6 8 1 9-5 3 3-3 18-12-1-14 12 3 15-4 7-1 25 9 13-3 13-8-3-2-9 2-64-5-14-10 0-10 16-13-6-6 1-10-12-6 2-4 7 0 15 7 7 11 1 0 18-12-1-8 8-2-43-20-3-9 7 1 9 13 6 0 18-12 3-4 5 3 9 12 4 0 57-10 8 0 4 10 7 0 17-14 3-7 11 21 12 0 17-12 7-2 13 7 6 9-1 5 10-7 7-11 0-5 6 5 8 12 2-1 18-11 7-1 11 18 7-7 18-11 1-6 6 4 9 14 1 2 3-1 19-14 6 4 10 10 2 0 55-3 7-15 5 0 6 9 8 6 0 2 17-10 2-5 6 5 11 10 3 0 19-13 4-2 7 6 5 7-1 3 9-2 18-7 3-2 6 9 5 5 13 10 0 4-10 3 7-3 15-10-6-9 8 0 12 7 11-19 18 0 6 6 6 240 1 7-6 0-11-7-5-13 0-2-14 19-5 3-12-19-9-2-5 21-15 3 2 0 71 8 9 8-2 4-7 0-758-5-14 4-17zM4528 3344l2 18-2 5-6 1-8-5-2-7zM4426 3354l7-9 12 3 7-6 7 6 13-3 10 5-5 20-14-8-10 5-12-5-7 6zM4634 3276l4 2 0 7-7 4-1-10zM4550 3268l4 4-4 8zM4433 3266l1 23-3-7zM4656 3265l0 27-4-8zM4655 3224l0 30-9-6-2-6 2-10zM4478 3223l1 65-7 4-19 0-2-19 2-2 7 5 8-3 4-11-1-11-8-9-10 7-11-5-9 7 0-15 19-5 11 7 8-13zM4504 3222l12 9 13-2 0 22-13-4-8 7 0 9 4 5 8 2 9-4 0 23-10-12-6 1-4 4-1 22 6 6 14-2 2 12-2 7-9-3-18 10 2 26-5 5-4-11 4-15-2-9-10-5-14 7-6-6-7-1-6 6-2-16 3-9 32 3 10-3 1-76zM4642 3191l4 4-2 5-4-3zM4550 3190l8 2 0 12-7 3-3-4zM4499 3189l7 1 4 7-2 17-5 5-6-9zM4528 3155l1 16-3 2-6-7zM4493 3153l13-5 9 21-16 3zM4555 3121l1 9-3-3zM4642 3111l15 2-1 62-16-8 2-12 11-9 0-9-13-14zM4529 3110l-1 23-5-9-10 0-7 10-8-1-7-8 8-15 17 3zM4451 3109l8 3 18-3 8 16-8 8-14-7-11 4zM4434 3106l3 5-3 33 4 5 15 0 6 4 18-4 6 4-5 21-1 43-14-7-10 2 0-23 10 2 8-7-4-12-8-1-7 5-11-5-7 6-2-2-2-49zM4498 3075l10-3 3 9 9 3 8-11 1 21-9-4-21 4zM4478 3069l-1 26-6-1-5-13-11 1-4 12-10-4-9 7 0-27 13 8 8-8 10 5zM4550 3039l8 3-1 10-9-1zM4656 3030l1 62-12 3-11-6-2-9 7-7 12-2 3-11-3-5-13-5-3-13 5-5zM4499 3030l11 10 2 10-3 4-11-1zM4426 3036l7-7 8 4 9-2 6 9 7 1 9-11 5-1 1 28-15-5-10 2-9-7-11 6zM4528 3028l2 24-3 3-4-20zM4653 2991l4 12-2 13-13-7 3-12zM4498 2991l29 3 2 19-7-6-10 0-13 9-4-11zM4432 2989l9 6 10-5 5 10 10 0 7-7 7 8-2 15-25-1-8-11-7 1-5 10zM4432 2962l4 8-3 12-7-12zM4550 2955l6 7-2 8-5-4zM4529 2952l-1 22-5-7-11-2-14 12-2-19 3-6 17 4zM4472 2950l5 0 3 8-3 20-7-3-2-19zM4656 2947l-1 29-5-7-12-5-1-7 15-5zM4527 2921l1 14-5-7zM4433 2915l11 11-1 5-8 5zM4656 2869l0 64-5-7 2-27-12-7 4-9 7-3zM4550 2839l8 2-1 15-8-1zM4497 2839l7-4 12 5 11-4 2 18-16-10-9 7-5 10zM4655 2832l1 31-14-8 3-18zM4432 2832l6 10 15-3-3 18-9-2-9 3-3-15zM4549 2798l8 0 1 5-8 2zM4655 2795l1 25-11-11 0-8zM4528 2795l0 21-3-6zM4433 2792l8 11-7 17zM4550 2768l4 4-3 4zM4646 2757l11 0-1 16-10-3zM4472 2752l6 4 3 17-3 13 3 48-3 22 1 53 7 7 10-4 2-41 11 7 0 12-8 7-1 11 10 10 3 10-5 7-8 3-4-10-10-5-6 5-2 10-6 1-4-19 2-21-7-4-30 2-3-6 3-16 5 8 6 1 10-9 9 2 7-6 1-49-5-5-12-1-8-13 7-9 11 2 5-4 0-34zM4528 2751l0 26-12-15zM4622 2719l-2 11-4-7zM4551 2717l7 3-1 7-9 0zM4590 2680l-2 13-1-11zM4558 2675l4 5-3 16-9 5-3-21 3-6z"/><path class="s" fill-opacity="0.390" d="M4283 3370l-7 8 9 6 7-8zM4362 3288l-2 7 3 14-2 71 9 5 7-5-2-71 3-14-3-8zM4214 3250l1 9 11-1-1-9zM4279 3175l-1 10 8 2 5-3-2-9zM4277 3138l2 7 10 0 2-3-5-7zM4277 3100l5 7 9-3-5-7zM4399 3062l6 7 9-1 7 8 4 0 7-9 5 6 8 2 8-8 10 4 11-6-6-8-15 0-5-6-10 1-5 7-3-13-5-3-9 3-4 12-7-1zM4279 2939l-2 7 3 3 11-3-2-7zM4213 2903l5 7 9-3-5-7zM4442 2731l-6 3-1 17 5 4 11-1 3 5-1 20-12-1-7 6 1 9 10 5 8-7 10 3 6-5 1-42-8-6-8 0-6-9zM4278 2706l1 8 11-1-1-8zM4508 2706l1 6 5 3 10-1 3-4-4-8zM4436 2706l0 5 7 4 10-5 17-1-2-4-15 1-8-4zM4416 2704l1 9 13-3-2-6zM4484 2698l-6 9 4 6 8 2 5-3 1-7-6-7zM4437 2667l4 7 9-2-2-8zM4505 2668l11 8 7-1 4-5-4-7-6-1zM4418 2661l-4 11 8 7 9-4-1-12zM4367 2661l-6 5 3 17-4 18 4 33-4 11 0 328 6 13-6 12 0 128 3 8-3 29 4 7 7 1 7-8-3-21 3-16 0-128-6-10 6-15 0-328-4-9 4-35-4-18 3-17zM4532 2629l5 8 9-4-3-7zM4561 2628l2 6 25 5 9 10 6 0 4-10 10-8-8-8-32 0zM4668 2584l-9 6 6 17-8 14-2 124-15-6-2-16-5-5 0-15-4-5-20 2-6-11-10 0-5 9-3-14 4-7 11 7 7-8 12 0 5-5-3-8-30-1-18-7-11 3-4 13 10 10 0 6-6 2-5 13-8 1-4-15 4-21-12-7-7 6 3 22-4 16 3 11-3 26-13-5-12 11 6 10 14-3 5-7 0 34-15-16-10 6-3 19 10 14 0 9-4 7-7 0-5-11 3-23-5-10 4-11-1-29-3-5-12 2-5 13 7 27-4 12 1 45 3 3-4 16 0 57 7 7 7-1 4-5-1-71 8-4 12 4 12-2 1 23-16-8-10 8-3 11 9 7 2 7-2 13-7 4-1 7 12 13 16-2 1 20-2 2-6-7-6 0-17 9-7-14-8 0-6 10 3 27-5 19-7-6-4-16 6-12-4-18 3-29-8-5-29 3-4-7 3-22 6 8 10 0 5-6 9 2 7-5-2-25 4-19-6-7-12 1-4-6-9-1-6 11 4 15 10 0 4-6 3 18-4 8-11-1-8 4-6-25 6-8-1-45-4-8 4-31-5-4-16 0-7 5 3 8 12 4 0 19-15 12 12 8-1 32 6 12-8 24 4 11-1 19-16 6 0 4 13 7 4 7 0 16-13 9-1 10 14 3 6 6 13-3 2 15-3 10 3 5 8 2 7-4 4 8 11 0 8-7 6 9-4 24-5 1-10-8-9 3-4-8-12 0-4 9-3-7 1-33-6-5-12 7-7-2-3 7 12 3 2 12-3 13-11 7 0 6 18 6 12-8 8 6 10-3 5 9 11-1 5-12 7 3-1 71-2 3-4-2-4-11-5-3-7 1-5 11-6-5-6 1-5 10 7 15 11-15 8 7 16-7 5 11 6 4 5-1 7-10 21 3 8-4 2 5-2 25-5-7-9-1-9 10-15-10-18 9-6-7-10 0-4 4-3-10-7-4-6 9-1 14 6 5 11-2 11 4 9-5 18 7 15-8 8 15 10 0 5-8 2 5-3 19-7-3-21 3-6-13-6-2-6 4 0 121-2 7-7 4-6-3-13 2-3-25 2-3 5 5 10-1 4-16-7-8-11 5-11-5-9 9-2-20 3-5 7 2 12-5 10 5 6-4 2-11-3-4-16 0 0-25 2-3 13 1 3-8-7-6-11 5-7-5-7 2-4 5 0 32-3-1 1-71-4-13 4-29-3-9-7-3-11 14 7 26-4 14 3 21-3 13-8 2-3 9 10 4 3 18-3 6-11 3 0 7 10 4 4 6-3 70 5 9 10 0 5-7 3 9-4 20-10-5-8 6-1 6 8 10 12-9 11 4 8-8 6 7 17-5 12 12 9-9 0-11-7-5-14 10-10-9-6 0-7 6-3-13 5-18 9 3 9-4 18 5 7-6-3-30 3-10-2-13 4-29-3-17 3-16 8 2 4 8-2 29 7 4 13-4 0 30-14-5-6 5 0 7 7 5 13-4 1 27-2 3-8-11-7 1-4 19 4 5 15-2 5 14-5 15-9-6-15 6-3 5 3 11 11 0 14-9 2 20-3 9-10-1-8-7-12 6-8-12-8 2-5 15-14-8-11 5-11-5-8 5-8-10-4 0-18 14-1 4 6 6 27-2 10 3 9-3 9 3 15-4 8 4 160 0 7-5 0-8-5-4-15-1-3-14 3-7 17-2 3-8-3-4-16-4-2-12 22-14 3 2 1 75 8 6 10-6 1-752-2-12-6-8 6-17zM4550 3265l8 6 0 10-7 3-3-4zM4433 3262l3 7-2 26-4-11zM4528 3190l0 25-3-9zM4557 3189l1 18-8 3-2-21zM4656 3183l0 112-9-11-15 8-4-6 6-14 5 3 11-3 4-8 0-8-14-12 6-15 7-4 1-9-4-6-6-1-6-15 3-6 10 2zM4555 3115l3 5-1 13-8-5zM4642 3108l15 2-1 70-4-6-10-1-3-6 2-14 11-8 0-6-12-10-3-13zM4550 3071l7 4-4 12-4-1zM4498 3072l10-3 5 9 10 1 5-10 1 28-9-3-21 3-3-7zM4550 3037l8 2-1 16-9 0zM4656 3025l1 70-12 3-12-7-2-14 9-7 11-2 2-8-15-7-5-18zM4528 3025l2 31-3 2-10-8-5 6-13 1-4-19 4-12 15 12zM4653 2988l4 3-1 29-14-7-2-5 4-13zM4500 2985l10 6 19 2 2 19-3 6-5-7-11-1-14 9-5-20zM4453 2956l-1 24-3-12zM4550 2953l8 7 0 12-3 2-6-3zM4498 2949l22 4 8-5 2 26-2 2-5-6-10-2-14 14-4-18zM4549 2913l9 5 0 10-8 4zM4433 2911l18 12 0 15-6-4-12 4-3-18zM4550 2884l7 5-5 8-3-1zM4528 2873l0 26-3-7zM4550 2836l8 3-1 19-8 0zM4550 2794l8 2-1 12-8 0zM4528 2792l0 27-8-10zM4656 2791l-1 189-19-15-1-10 16-6 4-6 0-8-10-13 7-9 1-11-6-5-7 0-2-4 6-16 8-2 0-7-16-14 0-5 9-15 10-6-2-10-11-7 0-9zM4550 2764l8 6-2 8-8-1zM4655 2751l1 26-9-2-5-17zM4623 2716l2 7-5 10-5-3 0-9zM4548 2715l10 1-1 15-10-1z"/><path class="s" fill-opacity="0.480" d="M4278 3376l4 4 8-2-4-4zM4367 3367l-6 10 5 5 6 0 5-7-4-7zM4404 3376l3 5 13 1 13-3 32 3 6-3-5-10-7-1-7 4-11-5-8 6-9-10-6 1zM4421 3332l-7 8 10 8 7-5 1-6zM4527 3336l-9-5-14 7-1 5 12 4zM4486 3330l-8 6 0 4 11 7 6-5 1-7zM4454 3335l5 8 11-4-7-9zM4441 3325l-7 9 0 6 11 3 6-8-3-7zM4364 3318l-3 25 3 6 7 1 6-7-3-25zM4469 3298l-7-2-8 4 13 2zM4364 3290l-3 11 6 8 4 0 6-8-1-9zM4445 3287l-7 3-4 9 4 17 10-1 4-12-3-13zM4483 3284l-5 16 6 4 10-1 0-18zM4510 3256l0 5 7 4 9-4 0-5-6-4zM4434 3256l3 13 11 1 3-6 8 5 8-1 3-6-1-8-6-4-10 5-12-5zM4367 3245l-5 4-1 14 10 5 6-5 0-10-3-7zM4517 3203l-6 5-2 14 12 4 5-3 1-7-3-10zM4454 3179l5 7 9-3-4-7zM4421 3160l-9 21 5 28-14 11 10 5 7 11-3 2-3 23 3 14 5 2-5 2-3 23 4 5 10 1 4-13-3-16-5-3 5-1 3-14-1-31 2-3 4 3 10-1 5-5 4 5 10 0 4-10-7-4-11 3 0-37-6-5-11 4 0 34-3 2-3-7 3-22-2-20zM4474 3140l12 9 12-6 0-5-9-7zM4436 3135l0 7 6 4 10-4 5 5 8 0 5-4-4-10-10 0-4 5-10-8zM4424 3130l-9 10 1 9 6 6 9-11zM4445 3095l-10 5 6 11 10-8zM4421 3092l-7 12 4 9 7 3 6-9 0-8-4-6zM4367 3092l-6 6 0 86 5 13-6 13 0 12 3 8 8 3 7-11 0-12-6-13 5-13 0-86zM4456 3090l-3 13 6 4 8-1 3-3-2-11zM4434 3060l1 8 6 4 7-1 5-8 6 5 10-4-6-6-10 3-5-7-10 1zM4422 3047l-6 3-3 14 11 8 6-5 2-9-2-8zM4434 3021l5 7 12-3 5 8 10 0 4-6-2-7-9-2-7 3-4-7-10 0zM4500 3021l1 5 10 6 6 0 10-9-3-8-8-2zM4432 3020l-2-6-7-4-5 1-13 14 20 5zM4421 2977l-6 5 0 5 10 8 5-4 1-9zM4456 2973l-2 18 13 2 4-6-4-13zM4442 2972l-7 12 10 6 6-8zM4506 2942l3 7 7 2 11-5-4-10-10 0zM4422 2890l-8 9-11 3 2 5 10 5 5 10-4 17-10 5-2 6 17 9 8-1 5-5 4 11 10 0 5-14 8 7 9-10-9-23 8-20-5-4-25 0-6 3-7-12zM4432 2908l13 9 9-3-2 29-5-5-15 3-4-23zM4468 2859l-9-5-8 8-15 0-2 7 4 6 11 0 4-5 10 2 6-5zM4421 2853l-7 15 5 10 8 0 5-13-6-11zM4368 2850l-5 3-3 12 3 13-3 20 3 17-3 152 3 11 8 2 4-2 3-11-3-145 3-57-3-12zM4437 2820l-2 10 3 5 10 0 4-6 4 9 11 1 3-12-4-5-14 2-4-6-6-1zM4421 2778l-7 8 3 13-2 29 9 7 7-7-1-43zM4513 2769l-8 10-3 11 11 11 5 0 8-9 1-8zM4467 2769l-11-1-3 17-13-4-5 4 0 5 6 5 12-7 13 2zM4408 2747l14 11 8-8-5-7zM4509 2744l0 8 7 2 8-2 3-6-7-7zM4367 2737l-7 12 0 43 7 14-5 6-2 17 3 12 7 5 6-7 2-10-2-17-5-5 7-15 0-43-4-9zM4483 2735l-5 10 2 20 5 6-5 23 2 6 7 4 5-3 3-10-6-13 5-13 1-20-4-10zM4436 2738l1 13 14 1 5 7 11-4 0-8-6-4-7 1-6-9zM4445 2706l-1 4 5 1 1-4zM4511 2707l1 4 13-2-4-4zM4480 2706l5 6 10-4-5-7-6 0zM4364 2689l-4 23 3 13 7 2 5-2 2-7-1-27zM4522 2668l-6-3-6 5 7 3zM4416 2666l3 8 10 0-1-9zM4367 2663l-5 4 0 5 8 8 6-13zM4538 2662l-7 5 0 6 9 8 8-12zM4568 2630l34 13 10-11-3-6-5-1-8 3-20-2zM4669 2613l-7 1-4 7-1 159-10-1-3-4-5 3-6-4 1-9 12-14 0-6-7-4-3-9-6-4-9 8-7-4 1-15 8-4 5 2 2-12-6-3-13 3-18-7-5 5-4-8-7-3 1-6 5-1 6-9 11 4 6-4 14-1 2-6-6-3-23 1-21-7-10 3-3 6 12 11 0 8-14 19-8 3-4-14-5-3-8 5-2 12 4 9 10-1 4-8 11 6 1 12-3 9-9 1-4-10-9-2-5 10 0 86-2 2-5-7-10-1-7 11-7-2-5-10-9-1-5 14 6 13-5 7-2 14 1 46 6 5 10-4 1-52-6-18 16-10 8 6 14-1 0 29-16-8-11 9-1 5 9 6 2 6-1 15-8 11 9 9 12 1 4-5 3 16-1 51-2 2-5-6-10-2-7 14 5 4 16 0 6 21-4 11 3 25-3 15-9-6-11 5-11-2-4-18 3-25-7-11 8-17-5-27 5-21-8-10-8 2-3 5 0 12 6 12-7 22 0 8 7 10-6 15 3 17-3 76 4 5 7 1 9-11 18 5 7-2 2-6-6-4-22 4-2-25 3-7 7-2 7 7 10 1 5-9 3 7-2 67-9-7-7 0-5 7 5 17 10 0 6-9 1 26-2 4-23-1-6 4-6-14-12 2-1 54 4 10-4 31 9 7 7-8-2-33 4-9-3-10 3-27 9 3 5 12 5 3 7-4 4-9 3 6 0 97-3 5-7-9-8 1-3 13 4 4 15-3 5 10 6 4 8-1-1 12-7-3-10 8-1 39-6 2-12-7-13 5-5-9-10 0-5 15 6 5 164 0 4-3-3-8-12 0-7-4-1-16 5-8 11 0 6-4-2-4-17-6-2-13 20-13 3-9-6-4-16 4-4-5 0-12 7-9 6 3 10-4 3-5-1-5-10-6-4-7 1-10 13-11 1-5-14-12-3-12 4-8 10 1 4-8-13-4-3-6 1-17 11-12-24-24 4-6 7 0 7-7-14-14 1-16 21-9-3-5-11-3-8-18 5-8 18-6-3-6-9-3-3-10 1-8 13-12 0-6-19-14 1-12 18-10 0-6-6-2-7-12 2-7 10-5 1-8-15-6-4-16 6-1 7-10-1-6-11-8 0-12 19-17-3-9-16-7 0-6 22-18 1 311-8 1-3 5 11 3 1 16-1 248 7 11 6 0 6-6 0-754zM4552 3349l6 3 0 14-8 3-3-13zM4550 3263l6 2 3 6-1 16-9 1-2-8zM4550 3237l3 4-3 12zM4557 3186l1 23-9 4-2-24 2-4zM4554 3111l4 1-1 23-8-2 0-13zM4550 3068l8 4 0 16-5 4-5-4zM4550 3034l9 4 0 16-7 4-6-6zM4550 2995l8 3-1 12-9-1zM4550 2950l8 5-1 22-9-5-1-17zM4550 2910l8 4 1 12-1 7-9 6-2-24zM4550 2880l8 4 0 13-6 3-4-3zM4528 2869l0 33-4-8zM4550 2834l8 2-1 25-7 0-2-4zM4550 2792l9 2-3 18-7-1zM4549 2760l9 2-2 19-9-2zM4660 2591l5 7 9-4-5-6z"/><path class="s" fill-opacity="0.596" d="M4454 3374l5 6 10-3-6-6zM4499 3375l8 5 15-3-11-7zM4436 3374l5 6 10-3-6-7zM4367 3370l-3 7 7 3 3-7zM4480 3374l6 6 11-3-4-10-9 0zM4413 3373l1 5 7 2 11-4-7-9zM4416 3339l6 6 8-4-5-6zM4523 3337l-5-3-8 3-1 4 7 2zM4481 3336l5 7 8-4-4-6zM4456 3336l3 4 8-2-4-5zM4441 3330l-5 8 9 3 4-7zM4364 3327l-2 15 12 2 3-6-2-10zM4364 3294l-2 6 8 5 6-5-2-6zM4441 3292l-5 6 2 11 10 0 2-12zM4416 3293l-1 6 4 5 11-2-1-10zM4481 3293l2 8 12-2-2-8zM4520 3290l-9 4 3 8 12-3zM4516 3255l-3 4 7 3 3-5zM4454 3257l2 8 10 0 3-5-3-6zM4436 3256l2 9 12-2-2-9zM4364 3251l-2 11 12 2 1-12zM4422 3248l-5 3-1 12 3 4 8 0 3-13zM4487 3245l-6 17 9 3 5-8zM4454 3221l6 5 8-3-5-6zM4513 3210l-3 10 6 4 8-2 0-11zM4422 3210l-9 11 6 7 9 3 4-12-4-7zM4368 3202l-6 4-1 16 10 7 6-7 0-12-3-6zM4460 3179l2 4 2-3zM4445 3178l-10 5-1 40 3 4 10-1 4-4 0-40zM4421 3171l-7 9 2 13 12 4 2-23zM4483 3170l-3 7 1 44 8 8 7-7-2-21 3-23-4-8zM4454 3139l5 5 9-3-2-4zM4512 3136l-3 4 2 9 11 3 4-6-1-8zM4480 3139l7 7 9-4-6-7zM4438 3138l4 5 8-3-5-5zM4421 3135l-5 9 8 5 5-8zM4517 3099l-2 4 4 2 2-5zM4445 3098l-7 2 4 7 6-3zM4421 3096l-5 7 5 7 4 0 5-10zM4367 3096l-5 4 0 83 9 5 5-5 0-83zM4455 3095l-1 6 6 4 9-4-3-7zM4511 3063l6 7 6 0 3-5-7-7zM4450 3059l-12-1-3 6 10 5 5-3zM4418 3053l-3 10 10 5 5-4 0-9zM4483 3045l-4 59 4 6 7 0 6-5-2-25 4-20-4-14zM4454 3023l2 6 12-2 0-4-7-3zM4436 3020l5 6 9-4-3-4zM4503 3021l1 5 7 2 14-5-2-5-9-2zM4414 3020l-1 4 8 3 9-4-5-7zM4486 3009l-7 12 4 9 7 2 7-13-5-8zM4419 2981l-2 5 6 5 7-5-5-6zM4438 2981l3 6 7-2-3-7zM4455 2980l0 8 13 0-3-10zM4483 2971l-4 16 10 8 6-5 2-8-4-11zM4437 2943l0 12 11 1 3-11-5-4zM4509 2943l6 5 10-3-2-6zM4459 2938l-5 9 8 4 6-8zM4422 2934l-9 15 8 6 8-1 3-11zM4486 2932l-5 3-2 9 7 10 4 0 7-8 0-7-4-6zM4435 2905l8 8 5 0 4-5 10 5 5-6-4-5-10 4-8-4zM4422 2896l-9 10 5 7 7 1 6-10zM4513 2895l-4 13 15 3 3-4-2-7zM4487 2893l-6 12 10 3 4-8zM4368 2885l-5 4-2 18 6 12-6 24 3 12-3 22 3 32-3 59 3 6 10 0 3-6 0-46-3-8 3-22-3-37 3-12-6-24 6-12-2-18zM4436 2866l2 5 11 0 2-3-5-5zM4456 2860l-3 6 6 4 9-5-5-6zM4505 2864l11 12 7-2 3-6-7-10-9 1zM4421 2858l-5 10 4 5 6 0 4-9zM4363 2859l-2 10 9 12 7-17-3-6zM4493 2846l-12 4-1 17 7 10 6-2 3-7zM4454 2827l5 7 9-3-3-7zM4436 2827l2 5 12-3-3-7-8 0zM4509 2825l5 5 13-3-2-6-12-2zM4482 2822l7 11 8-6-3-8-10 0zM4418 2815l-2 12 9 4 5-4-1-11zM4367 2814l-5 4-1 11 3 7 7 1 5-4 1-10-3-8zM4439 2784l0 7 6 1 5-4-3-4zM4416 2787l5 6 7-4-4-6zM4487 2780l-6 7 0 6 8 4 6-4 1-6zM4455 2782l1 4 8-1-1-5zM4512 2776l-6 13 7 7 5 0 8-10zM4456 2746l-2 6 7 1 2-5zM4421 2746l-2 4 4 3 3-5zM4510 2746l6 5 9-4-6-5zM4367 2741l-6 8 0 43 3 6 6 2 7-8 0-43-6-8zM4483 2739l-4 7 1 14 3 6 6 2 6-4 1-19-3-6zM4436 2747l5 3 11-3-4-8-10 0zM4534 2700l-2 9 3 4 11-3-2-10zM4367 2697l-5 4-1 12 3 7 7 1 5-4 1-11-3-7zM4572 2691l-13 16 3 15-4 16-10 2-3-7-8-4-7 10-1 170 3 13 0 53-3 7-6-6-9-2-6 7 3 5 17-1 9 19 10-4 3-10 8 2 2 5-3 18-18-3-9 10 3 23-4 95 3 30-4 10-9-3-12 3 9 14 6-1 6-9 4 8-1 111 9 7 17-3 2 5-2 19-19-1-8 6 2 30-4 12 118 2 4-3-3-4-13 0-7-5 1-21 13-10-7-3-13-17 1-8 8 2 21-13-10-5-11 3-9-18 13-13 6 2 10-5-12-12-4-14 16-17-20-21-6 1 8-11 18-6-3-4-6 0-8-12 0-12 13-14-15-13-8-2-6-7 0-7 20-4 3-4-12-15 1-13 5-8 14-3-3-4-6 0-11-15 2-13 16-9-13-20 0-7 14-12-4-8-12-6 1-18 14-8-4-11-9-1-2-13 17-12-14-10-4-19 3-4 6 1 4-6-11-13 1-18 18-13-18-10-1-13 21-17-9-5-9 1-6-7 4-17 11-9-13-13-15 3-7-4-2-17 19-6 2-4-7-4-11 2-18-4-4 3-10-5zM4550 3345l8 2-1 25-7 0-4-8zM4616 3313l1 3-6 3-1-5zM4550 3260l6 2 4 8-1 20-5 3-6-1-2-24zM4549 3229l8 3 1 19-8 6-3-7zM4552 3183l7 5 0 21-10 7-4-17 2-14zM4549 3151l7 6 1 14-7-1zM4554 3107l4 1-1 30-9-4 0-17zM4549 3065l8 2 2 8-1 19-5 2-5-2-2-10zM4550 3031l9 3 2 9-2 15-10 4-4-17zM4549 2947l10 7-2 26-10-5-1-24zM4550 2907l9 5-1 25-9 6-3-29zM4554 2874l4 3 2 17-3 7-7 2-3-5 1-22zM4553 2831l6 5 1 20-3 7-7 1-2-31zM4610 2802l3 2-2 10-3-3zM4550 2789l8 1 2 4-4 22-8-2zM4549 2754l8 2 2 24-9 5-5-7zM4612 2667l-1 3 4 1 1-3zM4593 2669l4 5 10-4-2-3zM4367 2666l-3 4 7 5 3-6zM4535 2666l-3 5 5 5 9-4-3-6zM4562 2667l12 12 17-9-2-4-15-5zM4605 2629l-5 1 2 7zM4587 2632l-2-4-7 2zM4665 2617l-7 8-1 678 1 71 11 6 7-7 0-746-4-9z"/><path class="s" fill-opacity="1.000" d="M4484 3373l2 4 7-2-3-4zM4420 3373l1 4 8-2-4-4zM4363 3334l4 7 8-3-1-5zM4442 3297l-2 5 5 1 1-4zM4515 3296l1 3 5-1-1-3zM4440 3258l1 3 5-1-1-3zM4363 3257l4 4 8-3-2-3zM4417 3257l5 6 7-3-4-6zM4487 3253l-2 7 4 2 2-7zM4417 3219l4 5 9 0-2-7zM4516 3214l-3 4 7 3 3-4zM4448 3212l-9 1-3 9 12 0zM4487 3211l-4 8 6 5 5-8zM4367 3208l-5 4 0 8 8 5 6-5 0-8zM4511 3183l6 6 7-3-4-5zM4436 3185l1 9 11 1 2-10-5-4zM4418 3177l-1 11 8 1 5-6-1-5zM4483 3175l-1 18 11 1 2-17zM4368 3173l-5 6 7 5 5-6zM4511 3142l8 6 5-3-4-6zM4422 3139l-2 4 4 1 2-3zM4485 3140l6 1-2-3zM4421 3100l-1 4 4 2 2-5zM4368 3099l-5 4 3 6-3 16 3 5-4 14 2 6 6 3 6-9-4-14 3-5-3-8 3-14zM4483 3095l0 11 12-3-3-8zM4446 3062l-6 2 5 1zM4417 3059l5 6 6-4-3-3zM4538 3053l-6 7 1 15 11 1 2-16zM4493 3053l-11 2 1 14 12 1 2-8zM4364 3049l-2 18 2 3 10 0 1-20zM4368 3015l-6 12 8 6 5-3 1-7zM4483 3015l-2 7 8 6 6-10-6-4zM4512 2980l1 3 6-1zM4482 2979l1 10 6 1 6-4-2-8zM4364 2971l-1 27 11 1 1-27zM4441 2944l-3 5 7 3 3-5zM4417 2945l4 5 9-2-5-8zM4483 2937l-2 8 3 3 11-2-2-9zM4367 2934l-5 10 5 8 4 0 5-8-1-6zM4421 2901l-4 5 8 3 3-5zM4511 2903l2 4 11-1-8-6zM4487 2899l-2 5 5 1 1-4zM4368 2894l-5 2-1 10 8 6 6-6 0-8zM4510 2865l6 6 7-4-5-5zM4421 2862l-2 5 6 2 1-5zM4367 2861l-5 6 9 5 5-6zM4483 2853l-2 13 9 5 5-4-1-13zM4487 2823l-1 3 4 2 1-3zM4421 2822l-1 4 4 1 2-4zM4363 2822l1 9 11-1-1-9-7-2zM4487 2784l-2 7 7 0 1-3zM4512 2782l-3 6 9 3 2-5zM4368 2776l-5 5-1 10 9 4 5-4-2-12zM4367 2745l-4 11 7 5 5-5 0-7zM4483 2744l-3 5 2 12 11 1 2-16zM4362 2707l2 8 11-1-1-9-6-2zM4573 2701l-11 6 2 6 7 2 0 10-9 4-5 15-9 2-8-11-6 1-3 6 3 24 11-2 3-16 10 5 4 43-4 23-10 2 0-33-7-7-7-1-3 5 0 127 5 17-4 19 6 7 8-7-5-24 6-16 1-80 9 0 3 8 0 26-6 7 4 2 3 17-3 18 4 11-4 24-6 3 7 5 2 7-2 24-9 4-5-9 0-9-8-2-7 20 4 13 11 0 5-12 9 3 3 11-5 20-19-1-7 6 3 18 10 0 5-14 9 1 4 9-4 24 0 37-10 0-4-17-11 4-2 13 2 19-3 25 6 14-6 21 3 13 11-1 4-11-6-14 4-19 3-2 9 7 1 23-6 5 5 1 2 29-10 14 8 4 0 34 4 11-3 24-10 1-3-3-2-22 4-52-7-8-9 4 0 85 7 4 18-3 3 25-3 8-25 2 2 27-3 12 17-1-4-20 4-13 10 1 3 34 65 0 2-3-5-4 0-13 9-20-2-5-10-9-10 2-6-6-7 8-5-14-4 7-3-4 0-8 4-3 3 4 5-6 7 9 13-8 14 2 11-6-13-1-13-17 2-13 8-1 8-7 7 1 1-4-13-19 3-13 5 0 7-7-7-7-14-2-7-12 1-9 21-7-8-16-8-4-1-7 20-14-19-12-7-11 2-12 15-4-6-21 4-14 6-4-9-11-1-14 13-20-13-22 3-6 15-5-2-6-11-3-4-7 2-16 13-12-8-2-11-11 1-13 15-7-9-12-6-18 8-8 7-1-12-14 0-9 5-13 11-8-10-5-3-9 1-15 8-9-16-12-2-9 18-20-12-7-6 4-13-5-4-22 5-8-22-1zM4557 3103l3 33-3 5-7 1-3-5 0-26zM4609 2838l5 9-5 11zM4611 2797l5 4 0 9-6 9-3-18zM4571 2667l5 7 9-4-11-5zM4662 2621l-3 5-1 744 3 5 8 2 7-8-1-742-3-5z"/></g><path class="p" d="m2299 1276 35 0-35 19-29 3 28 4 36 0-192 13 43 4 59-10 40 1 41 5-140 14 0-5 27 3 16-7 16 11 5-4 21 1 8 1 3-8 3 1 15 5 5-5 3 9 9-10-174 14 58 0 44 6 10-2 30-1 20 0 6 5 3-2 6-6 3 2-237 17 57-8 62 0 0 8 8-9 43-1 0 4 22 4 17-7 9 5 18 4-191 8 78 2 4 0 8 1 6-1 4-7 1 10 28-6 0 5 48-5 13 0-255 13 45 5 32-5 58 0 12-3 4 7 10 0 29-7 11 3 57 5-121 2 14 8 6-7 3 7 11-7 14 8 28-1 48-3-261 16 20-8 45 0 12 8 20-8 41 7 19 2 12-9 21 9 8-2 12 2 47-1-192 11 12 0 20 0 0-3 39 3 5 0 34 0-34 12 16-2 22-6 12 0 17 8 5-4 43 6 5-3-439 13 178-4 45 6 0-6 32 5 13-8 7 3 39 0 19-4 5 0 11 4 43-4-124 16 51-1 3-4 13 10 4-2 10 2 4-3 15-2 23 4 40-3 9-2-262 9 77 0 20 0 0 7 60 0 12 3 10-5 34 1 52-6-265 16 20 3 45 0 25 2 7-2 39 0 48-5 0 8 6-10 9 3 11 2-210 6 45 4 20 5 82 1 27-6 12 3 8-5 19 5 45-1-309 10 22 0 49 0 25 0 52 0 44 7 10-9 6 9 3-11-83 14 20 5 69-3 4 3 24-7 64 3-274 9 16 10 0-10 20 0 70 5 57 0 10 5 33 1 24 0 37-5 7 0 6-2-442 16 162 0 61 0 32 0 0-6 13 6 51-7 25 0 34 4 62 6-262 1 0 6 45 4 32-4 0-6 13 7 51-2 8 5 17-7 34 3 13-5 40 1 0 7 4-9 1 6 5 2-292 7 13 3 16 4 45-7 20 0 12 6 64-1 12-2 8 4 2-7 7-3 1 8 19 1 0-9 4 11 59-1-431 13 314 0 11-5 6 5 12-9 6 1 14 2 5-3 23 4 45-4 0 5 5 4-441 10 198 1 45-7 12 8 64 0 16-7 1 4 8-2 13-2 8 0 71 0 0 6-287 7 13 2 16 0 20 0 45 1 12 2 73-2 7-6 17 5 20-6 5 3-179 16 77-8 43 1 26 5 0-3 3 8 14-10 4 9 3-7 23-1 40-2 11 10-442 3 162 1 36 0 25 0 20 4 25-4 7 0 38 7 6-2 53-1-372 16 127 0 22 0 106 0 97-7 16 1 9 2 60-6-194 14 25 3 0 3 30-3 46 1 20-6 4 3 4-2 59 6 8-1-350 6 89 6 90 0 47 0 7-4 28 8 18-4 0 5 4-1-283 8 166-4 13 1 7 2 44 1 25 0 0-4 6 6 7-4 15 4 6-5 53 1-342 9 60 0 29 0 0 8 65-5 0-3 72 0 4 7 6-1 7 3 3 1 0-3 3-7 6 10 13-5 15 2 57-2 0 5 7-6-123 16 123-8"/></g><rect class="ax" x="1864.20" y="1234.50" width="491.90" height="476.00"/><text x="1886.56" y="1741.20" font-size="21.30" text-anchor="middle" textLength="33.12" lengthAdjust="spacingAndGlyphs">0.0</text><text x="1976.00" y="1741.20" font-size="21.30" text-anchor="middle" textLength="33.12" lengthAdjust="spacingAndGlyphs">0.1</text><text x="2065.43" y="1741.20" font-size="21.30" text-anchor="middle" textLength="33.12" lengthAdjust="spacingAndGlyphs">0.2</text><text x="2154.87" y="1741.20" font-size="21.30" text-anchor="middle" textLength="33.12" lengthAdjust="spacingAndGlyphs">0.3</text><text x="2244.30" y="1741.20" font-size="21.30" text-anchor="middle" textLength="33.12" lengthAdjust="spacingAndGlyphs">0.4</text><text x="2333.74" y="1741.20" font-size="21.30" text-anchor="middle" textLength="33.12" lengthAdjust="spacingAndGlyphs">0.5</text><text x="1849.62" y="1696.86" font-size="21.30" text-anchor="end" textLength="26.50" lengthAdjust="spacingAndGlyphs">10</text><text x="1849.62" y="1598.52" font-size="21.30" text-anchor="end" textLength="26.50" lengthAdjust="spacingAndGlyphs">15</text><text x="1849.62" y="1500.17" font-size="21.30" text-anchor="end" textLength="26.50" lengthAdjust="spacingAndGlyphs">20</text><text x="1849.62" y="1401.82" font-size="21.30" text-anchor="end" textLength="26.50" lengthAdjust="spacingAndGlyphs">25</text><text x="1849.62" y="1303.48" font-size="21.30" text-anchor="end" textLength="26.50" lengthAdjust="spacingAndGlyphs">30</text><path class="tk" d="M1886.56 1710.50v7.29M1976.00 1710.50v7.29M2065.43 1710.50v7.29M2154.87 1710.50v7.29M2244.30 1710.50v7.29M2333.74 1710.50v7.29M1864.20 1688.86h-7.29M1864.20 1590.52h-7.29M1864.20 1492.17h-7.29M1864.20 1393.82h-7.29M1864.20 1295.48h-7.29"/><text x="2110.15" y="1222.60" font-size="25.60" text-anchor="middle" textLength="299.62" lengthAdjust="spacingAndGlyphs">upper_ratio vs Difficulty</text><text x="2110.15" y="1769.40" font-size="21.30" text-anchor="middle" textLength="119.75" lengthAdjust="spacingAndGlyphs">upper_ratio</text><text transform="translate(1810.80 1475.50) rotate(-90)" x="0" y="0" font-size="21.30" text-anchor="middle" textLength="93.50" lengthAdjust="spacingAndGlyphs">Difficulty</text><g clip-path="url(#c12)"><g transform="scale(.5)"><path class="s" fill-opacity="0.210" d="M242 4557l-5 6 5 12 10 2 10-6 2-6-6-8zM660 4446l4 10 10 3 14-1 8-8-2-8-6-4-20 0zM212 4397l-9 6-1 8 5 6 9 2 9-6 1-8-5-6zM205 4287l1 8 9 6 12-1 8-8-2-8-9-5-12 1zM734 4202l-6 4-2 8 4 6 10 2 6-4 2-8-4-6zM957 4084l-6 4-3 9 5 7 11 2 6-4 3-9-5-7zM714 4051l1 8 9 6 19-3 25 6 8-8-1-7-14-10-18 3-19-3zM761 4004l-9 6-1 8 5 6 10 2 9-6 1-8-5-6zM665 3816l2 8 7 5 15-1 7-9-3-8-7-4-12 0zM544 3775l-6 4-2 8 4 6 10 2 6-4 2-8-4-6zM564 3777l2 8 8 5 16 0 10-8-1-8-9-6-19 1zM340 3769l-8 8 5 12 12 3 7-5 11 13 14 5-100 3-7 8 4 10 6 3 21-2 23 3 1 14-51 3-10 10 7 11 27 1 10 12 10-2 7-9-1 11-77 8-18-3-11 8 2 9 9 5 18-3 56 5-11 14-37 1-10 9 7 12 21 1 11 9-4 8-38 4-13-3-10 9 2 8 8 5 13-3 35 4 7 13-38 4-35-1-10 8 1 8 6 5 46 1 3 8 11 7-53 4-5 12 9 8 54 1 1 3-9 13-43 1-8 5-2 8 10 9 58 1-2 14-64 0-13 8-1 8 10 8 56 0 7 4 0 4-14 0-8 9-38 1-6 7 0 6 9 8 53 0 9 3-4 14-46 2-7 7 0 6 11 8 35 2-10 6-3 9-10 0-9 6-1 8 5 6 35 5 19-1-5 14-41 1-11 8 1 8 6 5 35 3 6 15-50 1-11 8 1 8 10 6 56 2-5 14-44 1-9 9 2 8 7 5 39 1 6 13-49 3-10 8 1 8 9 6 47 1 2 15-50 2-9 6-1 8 10 8 18 1 9 9 15-3-1 9-13 1-9 6 0 10 9 6 37 1 7 11-7 4-35 1-9 6-1 8 7 7 35 3 1 15-27 1-9 6-1 8 7 7 310 1 9-9-5-11-36-2-10-11-13-5 49-2 9-6 0-10-9-6-60-2-11-10 1-3 57-2 9-6 0-10-6-5-19-5-3-11 19 4 20-5 54-1 8-6 1-8-9-8-59-1-1-8 8-8 12 0 14 6 8-6 19 3 31-8 8 4 11-3 4-10-7-8-8-1-8 4-7-4-27 0-4-2 1-14 85-1 11-9-2-8-9-5-61 0-21-7 5-9 63-2 7-7-1-8-6-5-76-2-11-4-16 4-6-7 13-4 4-5 85-1 11-8-1-8-10-6-69-1-5-3-4-11 87-3 9-8 11 9 21 0 11-8-1-8-6-5-25-1-11 9-9-8-30-2-9-11-11 2-9 10-27-2-7-5-3-9 22 6 9-6 30 2 14-6 14 3 10-5 2-8-8-8-18 2-6-3-2-8-10-7-7 0-8 6-14-5-11 13-12 0-5-8 2-7 102-3 13 4 11-11-4-11-47-3-4-15 18-3 56 1 9-8-1-8-8-6-54 0-9-8-6 0-8 7-25-1 1-11 4-3 88-1 9-7 0-8-9-7-69 1-20-4-3-14 48-3 5-7-5-11-40-4-55 1-11-7 20-8 116-2 7-7-1-8-6-5-45-1-6-3-13 2-5-9-10-5 86-2 7-3 18 3 7-4 3-8-10-10-18 3-7-3-76-1-12-7-21 7-9-9 3-7 91-1 8-6 1-8-9-8-58-2 2-13 4-2 16 3 39-6 4-6-4-10-45-6-16 3-34-3 13-14 41 0 6-3 41 3 9-8-1-8-8-6-41 3-6-3-83-1 9-6 5-11 32-3 4-6-4-10-14-3-33 2-11-3-9-8-9 1-12 10-22-3-12-9 3-10-12-11-13 4-3 13-8-5-10 2-4 6 3 9-8 1-12-3 0-26-9-8-41 0-15 11-10-11-14 0-9 8-9-7zM595 4386l3-3 9 4 1 7zM586 4272l12-2 2 7-11 0zM280 4232l5-1 6 7-9 1zM280 4156l8 3-5 1zM640 4146l21-1 3 14-7 1-8-11zM637 4108l-3 8-12 4-7-4 14-9zM611 3990l6 5-2 6zM462 3835l5-1 4 8-6-1z"/><path class="s" fill-opacity="0.241" d="M247 4557l-7 6 0 6 7 6 6 0 7-6 0-6-7-6zM663 4447l8 10 16-1 5-5-1-8-9-4-14 1zM211 4399l-7 10 5 7 8 1 7-10-5-7zM209 4285l-1 8 6 6 11 0 7-7-7-11-11 0zM718 4249l7 11 23 0 7-6 0-6-7-6-23 0zM736 4204l-6 10 8 6 6-10zM957 4086l-6 12 6 6 7 0 6-12-6-6zM717 4051l1 8 9 5 15-5 24 7 7-7-1-6-14-9-16 5-15-5zM760 4006l-5 4-1 8 6 6 7 0 5-4 1-8-6-6zM668 3814l-1 6 8 8 10 0 8-7-1-8-7-5-10 0zM546 3777l-6 10 8 6 6-10zM341 3771l-5 4-1 8 4 5 9 2 5-4 1-8-4-5zM567 3776l0 6 6 6 18 0 7-7-7-11-18 0zM368 3771l-8 8 0 9 8 10 14 5 2 4-101 2-6 6 0 6 6 6 24-1 25 4 0 16-53 2-8 7 4 11 30 2 9 11 9-9 9-1 2 2-6 13-67 4-11 5-15-6-10 7 2 9 8 4 15-6 11 5 63 3-2 5-14-2-10 13-36 1-9 5-1 8 4 5 22 2 14 10-7 10-31 0-8 4-14-3-6 6 0 6 6 6 14-3 8 4 28 0 9 16-2 2-75 2-7 7 7 11 46 1 3 8 12 7-12 4-41 1-6 7 6 11 59 3-9 17-45 1-8 7 1 8 7 5 64 2-5 4-3 12-67 0-9 8 0 6 6 6 58 1 20 15-10 3-7-8-6-1-11 10-35 0-8 5-1 8 9 7 53 0 13 3-6 6-2 10-46 2-6 6 0 6 10 7 32 0 23 13-1 5-13 0-3-7-7-4-7 11-15 2-6 5-1 6 5 6 55 5-6 15-38 1-13 7 0 6 7 6 34 3 9 17-50 1-13 7 0 6 7 6 59 3-4 16-45 1-9 11 9 9 39 1 12 15-54 3-10 7 1 8 9 5 47 1 2 17-52 2-9 11 5 7 23 3 10 9 16-8-2 15-19 4-4 5 1 8 10 5 34 1 9 12-8 5-36 1-7 5-2 6 9 9 33 2 1 17-26 1-9 5-1 8 6 6 307 1 8-8-6-11-39-2-6-10-20-7 59-3 6-6-4-11-66-4-10-13 3-3 58-2 5-4 1-8-4-5-24-6-2-13 22 3 33-5 40 0 8-6 0-8-8-6-59-1-2-8 7-9 18-1 10 5 8-5 20 2 23-3 9-6 7 5 9-1 4-11-6-6-14 5-9-6-30-1 1-17 83-1 11-8-1-6-10-6-60 0-22-7 5-11 64-2 6-6 0-6-6-6-80-2-6-3-16 3-7-6 17-12 88-2 7-6 0-6-7-6-16 2-60-5-7-17 87-1 8-6-3-10-33-4-8-10-10 2-7 9-35-4-7-14 13 0 10 5 10-5 31 1 14-7 16 4 7-11-7-7-16 4-10-7-1-7-6-5-9 1-6 12-8-11-7-1-9 12-12 1-6-3-2-13 2-3 104-3 11 4 9-8-5-12-46-2-3-2 2-9-3-6 19-3 56 1 9-8-1-6-8-6-53 1-10-8-16 7-26-2 2-13 6-3 88-1 7-4 2-8-9-8-70 1-22-5 1-9-4-6 47-1 8-7-4-11-41-4-54 1-13-6 4-5 18-6 116-2 7-8-7-10-62-1-9-11-12-6 88-2 11-5 17 5 7-5 1-8-8-7-17 5-11-5-74-1-8-6-25 6-9-9 3-9 91-1 7-4 2-8-9-8-59-2 6-17 20 2 35-5 3-4-3-10-16-4-77 0-2-3 17-16 41 0 9-3 4 3 31 1 9-8-6-11-34 0-8 3-22-4-69-1-3-3 9-3 8-13 29-2 5-5 0-6-5-5-44 0-12-3-7-7-9 2-8 8-28-3-13-9 4-12-9-8-11 3-3 14-16-4-4 5 1 12-43 0-5-3 4-4 13 5 6-6-2-11 3-10-5-7-9-3-30 1-21 13-7-11zM516 4473l-2 3-9-1 8-4zM593 4384l5-3 10 4 2 11-17-5zM616 4352l3-2 3 3zM605 4264l-4 7 1 8-11 0-8-6 3-4zM581 4236l6-3 3 5-8 2zM633 4153l1 5-5 3-2-3zM636 4146l29-2 2 16-12 1-7-10zM642 4106l-4 13-10-1-11 4-5-8 18-9zM621 4081l7-2 9 3zM593 4066l8-1 2 4-7 4zM610 3988l4 0 6 8-4 7-5-1-4-9zM637 3918l5 3-2 4-6-1zM345 3838l7-1 4 8-6 0zM462 3832l9 3 1 10-11-5zM571 3830l6-2 2 3-4 2z"/><path class="s" fill-opacity="0.317" d="M247 4559l-3 11 9 3 3-11zM669 4443l1 11 15-1-1-11zM678 4401l-5 9 10 5 4-10zM211 4401l-3 11 9 3 3-11zM214 4283l-3 11 5 4 9-1 3-11-5-4zM721 4249l4 9 23 0 3-3-3-11-23 0zM695 4205l-4 10 9 4 4-9-4-5zM958 4088l-4 10 9 4 4-10zM743 4052l0 4 11 7 11 0 5-8-9-9-11 0zM723 4047l-3 11 5 4 9-1 4-5-2-7zM761 4008l-4 10 9 4 4-10zM760 3967l-7 5-1 6 12 7 6-4 1-8-4-5zM231 3890l-2 12 13 2 4-5-2-7zM670 3814l-1 6 7 7 8 0 7-6 0-6-7-6-8 0zM343 3773l-5 10 8 5 5-10zM570 3776l1 8 5 3 12 0 7-6-1-6-6-4-12 0zM373 3772l-10 6-1 10 8 9 15 6 1 5-100 2-6 5 3 10 46 2 11 8 10-3 8 9-1 6-19-6-8 7-54 3-3 4 3 10 58 3 3 3-4 10-6 5-41 1-29 6 0 8 4 3 65 5-2 7-17-1-8 11-35 1-8 4-2 6 4 6 21 2 16 11-7 10-36 2-6 5-13-4-4 4 4 10 13-4 6 5 31 1 11 18-44 5-34-1-6 6 6 10 46 1 7 12 10 2-6 6-49 2-6 7 4 8 62 5-11 18-45 1-7 6 1 8 6 4 73 3-8 2-2 8-7 7-66 0-9 8 1 6 9 5 57 1 18 15-4 4-11 0-11-7-10 8-35 0-8 7 1 6 7 5 69 3-10 18-46 2-5 5 0 6 9 6 30 0 12 7 13-1 0 13-46 3-6 10 6 6 50 2 3 3-5 15-45 3-6 6 6 10 36 4 7 18-56 2-6 6 6 10 60 4-6 17-45 1-8 10 8 8 42 2 5 10 9 7-62 3-5 5 0 6 5 5 52 3-2 10 3 7-53 3-6 4-1 8 7 6 22 2 6 7 10-7 9 0-2 16-20 5-2 12 9 4 33 1 10 13-10 6-35 1-6 5-1 6 7 7 35 3 2 15-3 3-20 0-13 5-1 8 5 5 304 1 7-7-7-11-25 2-14-4-5-9-15 2-16-7 12-5 58-2 5-5-3-10-65-4-11-10 1-6 64-7-1-11-26-6-3-16 26 2 75-5 5-7-5-9-62-2-4-8 4-8 8-4 55 1 25-4 4-9-8-7-31-1-1-18 85-2 10-8-1-5-9-5-57 0-28-8 9-12 63-2 6-6-6-10-101-2-9-8 11-11 35-4 28 3 18-5 14 3 6-6-6-10-14 3-21-5-22 3-20-4-5-14-9 3 0 12-19-1-5-4 2-7 11-1 10-6 73 0 27-5-1-11-31-4-7-9-5 0-9 10-37-3-8-8-1-9 69 0 11-8 0-4-14-10 0-7-9-3-7 12-6-1-7-10-5 1-6 10-19 0-5-8 0-9 4-3 96-1 7-3 12 4 7-7-4-9-54-6 5-10-5-4-8 6 7 10-23-1-6-9-10 9-7 1-3-5 11-14 39 1 28-4 50 2 9-7-1-6-8-5-49 2-71-6-16 3-5-4 0-8 18-7 115-1 8-7-1-6-7-5-69 1-27-3 3-11-10-8 55-1 7-6-1-8-6-4-91-1-19-4 9-9 19-6 117-3 4-6-4-8-64-2-7-4-4-8-14 1-9-7 108-5 4-6-4-8-8-2-72-1-8-5-16 5-13-2-6-7 4-11 92-1 7-11-7-7-55 0-7-3 5-17 51-2 6-4-3-11-12-3-78 0-3-4 19-17 40 0 10-6 5 5 30 2 8-10-8-8-30 2-8 5-7-6-89-3-2-3 7-3 10-13 30-4 0-12-22-3-18 3-15-4-7-6-17 11-28-5-15-10 6-11-9-8-9 7 2 12-15-2-6 6 2 5-3 2-46 0-6-6 10-5 13-14-4-11-8-3-31 3-8 9 9 9-2 8-9-13-14-3zM518 4471l-4 6-11-2 11-6zM578 4396l9-1-5 3zM591 4382l10-2 10 4 2 12-8 2-16-5zM617 4343l10 9-13 2zM578 4237l6-6 8 4-4 6-7 0zM564 4200l12-1-3 3zM602 4146l9-1-4 4zM568 4146l9-1-3 3zM617 4080l4-5 24 8-22 1zM591 4066l10-2 7 4-12 9zM603 3991l13-4 6 8-1 7-11 2zM637 3915l8 6-4 5-10-2zM549 3883l-11 4-10-2zM499 3882l7 3-4 2zM457 3834l5-4 9 1 5 13-11 2zM565 3829l14-2 3 4-8 4z"/><path class="s" fill-opacity="0.390" d="M691 4284l-2 10 6 2 1-11zM217 4284l-1 11 6 1 2-10zM607 4071l-3 4 8 5 2-7zM726 4048l-2 10 7 2 2-10zM750 4048l0 12 10 2 5-4-1-8zM761 3968l-6 5 0 6 8 5 5-3 1-8zM236 3890l-4 3 0 8 5 3 4-3 0-8zM701 3857l3 5 18 4 6-5 0-6-6-5zM288 3812l-1 11 8 1 2-10zM675 3811l-4 5 1 6 12 4 5-5 0-6-5-5zM511 3782l-6 2-1 9 3 3 7-7zM580 3773l-2 10 7 2 1-11zM629 3812l-24-2-12 3-24-6-12 10-13-7-22-2-10-7-18 0-1 6-11 3-47 0-7-2-2-5 22-23-9-9-27 2-6 12 6 8 1 13-7 2-5-15-6-6-11-2-13-9-7 6 2 9 25 14-1 3-78 2-9 7 9 9 39 4 9 11-2 7-77 2-6 6 6 10 52 1 7 4-9 15-60 4-9 4 0 6 27 6 36 0 6 11-9 2-13-3-9 11-34 1-7 4 3 11 28 4 8 8-11 13-35 2-2 10 4 3 33 2 3 10 10 8-51 7-32-1 0 12 46 2 11 3 3 8 9-5 0 7-9 8-52 3-4 8 4 6 55 2 8 4-15 18-43 1-6 4-1 6 7 6 66 1 13 4-25 17-64 0-8 5 0 6 4 5 64 3 18 17-8 3-25-2-21 5-22-1-4 4 4 10 70 3-1 18-18 4-32 0-6 3-1 8 7 5 30 0 14 7 16-3 2 2-4 6 7 4-13 6-27-1-18 6 0 8 4 3 46 2 6 4-2 15-39 2-12 5 0 8 4 3 36 4 2 11 6 7-57 4-4 3 0 8 4 3 54 2 5 3-4 17-48 2-6 5 3 10 46 3 9 14 16-1 3 3-3 3-73 3-4 6 4 8 48 2 6 3-2 18-53 2-6 6 6 10 48 2-1 18-19 4-3 11 13 5 29 1 9 12-7 7-35 1-9 5 0 8 5 4 37 4-1 18-24 1-10 5 0 8 5 4 269 1 9-4 22 3 6-6-6-10-22 3-28-6-14-8-7 0-6-6 16-6 55-2 4-6-4-8-62-3-12-10 1-7 6-3 37 0 15-5-1-10-21-6-2-17 102-3 3-10-5-5-59-1-8-3 5-15 6-3 73-1 13-6 0-6-6-5-34-2 2-11-5-7 63-5 27 2 7-4 0-8-7-4-27 2-72-6 0-16 56-5 27 2 6-4 0-8-13-5-20 3-73-4-9-7 11-13 28-1 11-4 27 4 11-3 5-7-7-6-11-2-26 3-21-5-29 1-6-2-4-7 1-5 27-6 74 0 17-8-4-6-13-4-32 1-36-4-8-8 0-9 72-1 7-5 1-6-16-9-54 2-5-3-7-17 86-3 5-3 16 3 9-5 10 4 3-3-4-9-8 4-10-7-16 3-9-4-59-1-2-2 6-10-2-6 75-5 55 1 4-5-4-9-138-2-9-9 3-6 20-6 40 0 7-3 12 3 32-3 22 2 6-5-1-8-5-3-22 2-32-3-12 3-7-3-81-3-1-17 4-2 30 1 5 10 12 3 4-7-6-6 59-2 5-5 0-6-5-5-113-3 5-12 28-7 96-1 12-6-2-6-10-4-60-3 2-8-12 2-12-11 102-3 8-4 0-8-8-4-71-1-11-3-22 3-11-7-2-5 7-10 91-1 6-6-6-10-85-3 9-14 12 10 6-15 47-1 8-4 0-8-11-5-78 0-8-4 26-20 36 0 0-12-96-6-4-8-14-6 0-6 17 0 9 7 6 0 8-6 27-3 3-4zM520 4471l-2 6-18-1 11-8zM304 4465l7-2 2 4-7 3zM524 4434l4-3 4 5zM572 4392l14-4 6-9 26 2-4 5 2 11-5 2-15-4-15 4zM575 4237l6-7 9 0 5 9-14 3zM585 4195l-11 8-13-2 14-7zM452 4186l-2 11-6 1 1-10zM492 4152l7-2 1 5-4 2zM602 4143l13 1-6 8 3 10-9 0-8-10zM565 4146l4-3 11 2-2 4zM515 4121l6-2 3 3zM294 4082l6-1-3 3zM531 4068l4-1 2 5-5 0zM548 4036l12 0 3 5-12 2zM594 3992l4-4 19-2 7 3 1 7-3 8-14 1-6-10zM577 3957l-5 7-11-3 13-6zM307 3958l5-3 4 4zM299 3950l3-2 2 3zM604 3912l6 1-1 6 6 4-2 3-13-2 5-4zM525 3879l12 4 13-3 2 4-22 4-5-3zM494 3879l10 0 4 7-10 1zM449 3839l-8 7-9-1 11-8zM451 3833l21-4 8 16-15 3-10-7zM410 3829l6-1 1 4-4 1z"/><path class="s" fill-opacity="0.480" d="M619 4389l-1 3 4 1 1-3zM715 4365l-16 0-2 6 16 4zM675 4329l4 7 7 2 13-5-1-8-8-3-11 2zM226 4166l-2 10 4 2 4-7zM702 4165l-7 8 11 6 6-7zM618 4154l-4 2 2 3 4-2zM619 4146l-1 3 4 2 1-3zM712 4129l0 8 4 2 35-2-2-10zM727 4092l0 4 8 5 12-3 0-8-4-3zM755 4051l-2 7 5 2 2-6zM718 3851l-6 3 0 8 7 3 5-3 0-8zM677 3811l-4 9 4 5 6 0 4-10zM562 3813l2 11 16 1 10 5 8-5 19-2 4-4-2-5-6-2-19 3-26-6zM313 3811l-6 5 4 8 40 4 8 7 4 11-4 3-76 2-5 5 5 9 60 4-10 18-47 2-14 5 0 6 5 3 51 3 7 10-3 8-6 1-9-7-8 0-6 9-36 2-5 5 5 9 36 3 16 13-1 3-20 1-11 6-17-1-12 5 0 6 4 3 26 2 6 11 19-7-1 11-6 5-46 4-8 5 0 4 7 5 37 4 1 3-6 4 8 6-22 6-49 5 2 10 61 4 2 7 14 10-15 3 1-6-8-5-9 12-45 2-4 4 4 10 73 2 8 5-24 16-69 2-4 3 4 10 51 1 19 5 0 5 13 11-40 2-15 4-2 7 15 6 36 2 0 14 14 4-38 5-23-1-11 4 0 8 5 3 28 0 13 6 13-3 12 2 2 4-3 4 5 5-23 6-24-1-13 6 0 6 10 5 39 1 4 3 0 17-44 2-8 7 1 5 7 4 36 2-2 12 6 7-59 7 1 9 50 3 10 4-3 6 4 6-2 4-56 6 1 11 45 3 10 12 18-7 6 9-9 7-60 1-11 5 3 9 40 2 12 4-5 19-53 2-4 10 4 4 50 3 0 17-20 6-2 10 9 4 29 1 9 7 3 8-9 6-36 1-6 3-1 8 4 4 28 1 12 5 0 14-3 3-30 3-4 9 4 5 22 2 246-1 12-7 4 5 14 1 5-6-5-8-11 0-7 6-12-7-32-3-2-5-7 0-7-9 1-4 65-5 3-2-1-9-57-4-16-9 3-9 12-4 34 0 11-5-1-8-21-7-3-13 3-5 82-1 21-4-3-11-68-3 0-10 6-9 86-4 4-4-1-8-8-3-76-1-8-5 2-11 20-5 83-2 16-3 1-7-17-4-59-3-11-7 4-4-1-5 7-4 52-3 3-3-3-9-71-3-14-4 16-18 30-1 12-8 10 7 19 0 4-3-2-10-15-2-16 7-10-7-55-4-3-14 36-5 71 0 9-5 0-6-19-6-39 1-25-5-28 4-6-4 9-10 26-8 67 0 7-5-4-10-33-3-30 2-8-4-1-10-7-4-12 15-13 3-13-4 12-6 7-11 108-4 6-8-9-7-80-1-9-9-13 3-19-12 17-3 16 7 8-7 91-2 10-6-6-8-78-1-10-3-4-10 6-6 12-3 48-1 9-5 10 5 26-1 5-4 0-6-5-4-26-1-10 5-9-5-82-2 0-21 30-1 12 3 36-5 29 1 4-9-4-5-115-3-3-3 10-14 31-4 43 1 25-6 26 3 4-7-6-6-24 2-44-5-7-9-8 2-6 8-30-1-7-3 0-6 11-9 134-4 7-3 0-8-7-3-100-1-26-4 19-20 89-1 4-3 0-8-4-3-79-1-8-4 7-15 17 0 15-5 38 0 6-4 0-6-8-5-52 1-40-4 6-9 0-8 7 4 3-5 17-7 18 3 4-3 0-6-4-3-18 3-8-5-57-2-2-7-12-6-5-13-13-10-31-6-30 5-47 0-14-5-10 3zM524 4474l-5 4-22-2 14-11 9 1zM315 4463l-1 6-5 3-10-3 6-7zM555 4419l-2 3-15 1-5 7 0 8-12-3 5-13 6-4zM562 4357l5-4 5 3-3 3zM558 4303l10-1-3 7-5 0zM466 4301l5 2-3 5-5-2zM453 4184l2 6-3 8-10 1 0-11zM490 4151l10-3 2 8-6 3zM513 4120l8-3 6 5-11 2zM492 4107l6-4 7 2-5 5zM527 4068l9-3 6 8-8 2zM567 4042l-20 2-3-8 4-5 8 1 4-4zM553 4000l4-2 3 3zM565 3989l5-2 3 4-6 1zM581 3955l-3 10-24-1 8-9 13-4zM598 3909l13 1 8 14-20 2-3-4zM521 3878l7-4 12 7 13-4 20 9-8 1-7-4-26 6-8-2zM491 3877l15-5 8 9-7 7-9 0zM414 3845l3-3 7 4-7 2zM514 3844l7-4 4 6-6 2zM510 3829l6 2-2 2zM426 3846l25-17 20-2 10 6 1 10 6-2-3-4 3-1 12 11-37 2-7-4-16 3zM407 3829l12-1 4 10-7 3zM368 3783l0 5 18 13 10 2 4-3-7-12-13-2-5-6zM440 3773l-10-1-19 6-1 8 7 18 8-4 6-11 12-5 1-7z"/><path class="s" fill-opacity="0.596" d="M569 4561l-1 9 9 2 2-10zM679 4328l0 4 8 5 9-5-3-8-10 0zM649 4287l3 9 17-2-3-10-10-1zM739 4088l-3 10 4 2 3-10zM684 4092l4 8 25 0 4-3 0-6-4-3-25 0zM231 4090l3 10 14-4-4-7zM705 4011l-2 7 4 1 2-7zM296 3855l-9 0-1 5 9 2zM565 3813l4 11 21 1 7-5-15-8zM540 3812l-25-3-69 4-25-5-106 4 0 12 38 3 11 6 3 13-8 4-56 3 0 10 47 6-9 6-2 9-5 4-41 1-12 4 0 7 4 3 48 4 7 17-16 3-9-4-15 6-28 4 2 8 40 6 15 18-58 4-9 5 0 4 9 5 16-1 9 5 17-2 8 14-14 7-43 4-3 3 3 7 12 4 32 1 5 5-1 7-8 6-48 6-3 6 9 6 50 3 7 13-3 7-63 5-3 6 10 6 51 2 4 8-13 12-73 4-6 8 8 4 73 3 8 5-5 15-44 2-8 3-3 7 9 5 52 2 3 2-3 19-64 3-7 4 0 6 7 4 66 4 0 18-48 2-8 3-3 6 8 6 38 1 7 3 4 8 13-2 9 4-9 8-63 3-6 4 0 6 6 4 37 2-1 11 9 9-43 5-5 3 0 6 10 4 33 2 7 7 9 1 3 5-7 7-60 5-2 8 72 10 5 7 0 5-7 5-63 2-9 5 1 6 8 3 29 0 21 5-7 4-4 15-53 5 1 9 45 3 9 4 19-1 0 8-5 6-40 11 3 9 35 3 9 6 3 11-7 4-40 2-5 3 2 10 33 2 9 5 1 13-4 4-29 3-5 4 0 6 5 4 264 0 7-6-5-7-39-4-8-5-6-14 62-5 6-4-2-6-78-6-3-3 17-17 44-2 9-9-6-5-15-3-32 2-6-4 15-17 12 5 12-7 99-2 2-10-70-5-4-3 4-8-2-4-21 1-5 5 2 7-4 2-15-1-4-10 4-3-1-5 35-4 12 5 13-5 73-1 7-3-2-10-80-2-8-3-3-8 4-8 13-3 87-5 1-7-3-2-60-4-9-7-9-1 8-12 64-4 5-5-3-6-85-6-2-10-18 2-11-8 27-4 10 10 2-8 40-4 7-5-5-9-56-3-4-3 1-8-4-6 3-2 82-5 28 2 6-6-6-8-123-3 0-3 16-7 3-7 98-6 1-10-10-4-52 1-10-5-2-10-16 13-22 1-5-5 21-18 106-3 3-9-3-3-82-2-6-4-18-1-21-14 13-4 24 3 8-3 90-3 4-8-3-3-90-4-7-9 15-10 60-3 7-8-7-6-80-1-6-3 3-5-3-13 4-3 45 1 36-5 25 2 2-10-36-4-144-3-5-8 9-4 9 9 6 0 11-12 17-2 11 13 7-5-4-8 44-4 40 1 17-5 2-4-4-4-40-4-4-3-8 4-37-1-10-3 2-6-5 0-5 7-13 1-15-6 16-3 8-10 22 6 7-6 111-3 11-4 0-6-11-4-74 0-41-4 6-4 1-6 9 0 12-11 52-1 17-3 3-6-6-4-35-3-49 1-12-12-6 5-7-11 2-3 29-1 9 2 4 7 7 2 3-10 71-4 4-9-6-4-74 0-28-3-4-4-15 5-80 1-8-7-1-7-8-5 2-2 31 4 7-4 12 0 3 6 7 0 10-6 12-1 4 2-8 4 8 5 6-3 6 7 10-2-1-4-8-2 1-5 14-1 0 8 9 6 3-14 22-2 8-6-1-6-5-3-66-4-3-2 1-6-8-2 0-6zM476 4554l8-3 5 4-7 2zM464 4543l3-3 8 1-6 4zM313 4429l8-2 2 4-7 3zM454 4343l5-1 1 3-4 2zM542 4344l18-4 3 8 14 10-32 1-1-5 9-5zM312 4316l8-2 12 4-18 2zM326 4306l-3 4-7 0 6-6zM464 4300l10 3-6 9-7-1-1-7zM517 4264l7-2 4 12 13 3-20 1zM468 4223l-9 9-7-3 8-7zM514 4199l7-4 6 6-7 2zM492 4198l4-4 7 7-9 1zM457 4183l0 10-5 8-14-3 2-14zM486 4152l6-6 11-1 2 13-9 3zM510 4121l2-4 10-3 7 9-13 2zM573 4111l-2 7 3 5-15 0-4-7 3-5zM447 4120l7-15 8 0 7 5 6-5 6 2-3 12-17-7-5 10zM487 4106l11-4 10 3-9 10zM545 4081l4-3 6 4zM437 4069l1 4-7 4-1-5zM522 4066l14-3 11 12-25 1zM493 3989l5-4 7 2-6 6zM533 3950l6 3 2 12-3 2-10-3-1-8zM549 3964l6-12 7-4 18 0 10 9-9 10-27 0zM469 3947l10-2 3 3-8 2zM549 3909l7-2 5 4-7 3zM445 3909l59-2-14 3-2 6-18-4-11 14-12-7 5-5zM356 3883l5-8 15 2zM458 3868l19 2-6 5 0 10-6-1zM378 3836l13-2 5 9-14 1zM558 3845l-15 4-4-3 0-7-6-3-4 3 2 6-7 4-109 0-7-5 1-7-7-6 7-5 13 1 5 11 6 2 17-13 41 1 5 11 12 3 2-4-5-9 3-4 19 5 14-4 8 13 8-1zM391 3795l-3 4 6 2 2-4zM440 3776l-7-3-18 7-2 6 10 7 3-5 11-1z"/><path class="s" fill-opacity="1.000" d="M653 4287l2 8 6 1 5-4-3-7zM664 4247l5 9 10-2-2-8zM246 4209l0 6 6 3 10-4-3-7zM577 4069l-3 7 7 3 2-3zM684 4050l-2 6 3 2 3-6zM271 3971l-1 9 8 1 2-8zM689 3974l2 5 8 3 9-4-6-8zM571 3917l-1 3 4 2 1-3zM667 3896l2 4 8-1 3 3 15 0 3-3-3-7zM315 3852l-7 5 6 7 37 2 33 12-25 10-17-2-13 4-40 1-4 3 2 8 42 2 18 6 0 12 13-2-8 6-66 5-3 3 2 8 32 3 10 14 9 3-7 6-36 1-7 4 0 6 11 6 18-1 10 7 18 0-10 6 4 4 15-9 13 0-11 4-8 9-68 3-11 5 0 4 7 5 65 5-4 6 4 6-10 5-12-2-48 5-11 6 2 5 9 3 46 2 9 10 2 9-10 4-57 3-3 4 3 6 53 3 11 12-7 2-4 7-75 7 0 6 4 2 66 3 11 9 0 10-3 2-50 3-8 5 0 4 6 4 54 3 3 3-1 18-45 4-6 8 17 7 37 0 9 6-12 6-1 9-50 2-7 4 0 6 4 3 37 1 11 3 4 5 16-5 12 2 8 6-1 9-7 3-11-2-70 5-4 3 0 6 4 3 53 6 16-3 10 4-12 7 6 6-4 5-67 6 3 8 50 6 7 7-1 8-6 4-51 4 0 10 51 4 9 3 5 8 0 5-8 6-65 5 1 7 10-2 9 4 43 4 9 9-10 10-65 5-6 4 6 8 65 3 9 16-1 3-32 2-19 6 0 6 5 3 36 4 12 13-12 8-43 4 1 9 40 5 5 17-13 6-23 1-4 3 0 6 14 4 251-1 4-4-4-8-47-5 0-8-8-10 6-3 56-3 0-10-96-7-25 3-3-4 6-10 17 5 12-12 18 1 8 4 11-7 33 0 10-4 0-7-6-3-48-2-2-3 5-10-10-1-2-4 3-3 26-1 10 3 11-4 88-3 2-6-5-3-52-2-13-3-2-8-11 1 1 8-26 0-6-4-6-16 31-4 32 3 85-5 0-10-75-2-19-9 12-14 86-3 5-8-11-5-46-1-16-4-11 4-30 0-21-18 34-5 8 2 1 5 11 7 15-13 60-3 4-3 0-6-10-4-55 0-27-4-28 2-3-2 1-6 9-4-5-7 3-2 79-4 6-4-1-7-59-5-51 1-6-8 3-4-5-4-4 2 0 5-37-8 11-3 18 5 16-6 16 0 8 13 14 3 6-3 5-13 84-4 3-6-5-5-90-2-12-6 19-6 0-9 44-4 53 1 11-5-3-7-56-1-12-4-26 4-15-2-7-5 11-12 13-7 91-2 10-3 1-5-11-4-87-4-24-8-3-8 18-6 111-1 7-4 1-5-10-3-65-1-27-4-26 3-11-3 9-18 15 3 12-4 13 2 70-5 5-4-4-8-80-1-18-4-26 2-11-7-16 6-4-7 6-7 0-7 18-1 15 7 1 8 8 2 9-6-2-8 4-2 88-3 7-5-4-6-152-4-5-3-2-11 16-4 14 9 11-12 118-3 6-7-7-5-104-2-19-3-3-6 9-8 7 1 13-7 18 3 18-4 77-3 2-6-22-5-130-1-6-6-16 6-7-3 3-7-5-2 0-7 18 3 2 4 7-4-4-4 4-3 59 0 18 6 20-9 54-3 1-5-25-5-53 0-22-5-44 3-6-9 6-5-1-6 67-3 26 3 34-5 5-6-2-4-67-4-98 2-8-3-6-9-12 10-14-3 0-10-8-5 7-4 76 0 6 4 12-4 56 1 26-4 2-7-4-4-94-4-71 4-8-3-44 1-11-4zM448 4555l9-3-3 4zM459 4541l8-5 16 1 1 11 9 7-4 3-15-1-15-12zM447 4474l8-2 5 4-10 2zM471 4432l5-3 4 6-4 2zM419 4423l6-1-3 3zM485 4384l6-1-2 3zM424 4380l26-1 6 11 11 2 3 5-18 0-13-16-11 2zM493 4353l-7 5-9-3zM341 4352l6 2-5 1zM468 4341l-8 9-15 0 7-10zM420 4316l2-5 7 1-5 5zM519 4302l8-2 6 3-4 5-5 0zM461 4299l15 2-5 17-15-6 0-8zM423 4269l4-8 7-1 17 15-25 2zM486 4238l6-2 4 4-8 1zM513 4226l4-4 8 2-2 5zM472 4223l-13 17-8-7-9 0 1 7-20 2-9-12 0-6 4-3 8 4-1 11 21-13 15-3zM331 4201l6-5 6 2-3 4zM553 4183l-12 5-16-2-2 7 10 8-6 3-32 0-6-3 0-8 4-3 15 7 5-5-1-10zM424 4192l9-3 6-8 24 2-2 10-8 10-14-1-7-8zM364 4157l7-3 3 6-9 2zM428 4160l13-16 19 10-10 0-8 9zM463 4161l8-7 7 1 10-13 21 2 3 10 11 3-4 4-20 2-11-4zM430 4145l-7 7-9-3 9-7zM380 4120l3-2 4 3-5 2zM421 4110l7 4 0 9-9-4zM532 4123l-16 3-24-11-6 0-5 7-14-2-8 4-16-1-4-5 9-14 55-3 9 4 18-1zM493 4081l3-7 6 3-3 5zM481 4066l-11 10 1 6-30 2-15-5 1-8 7-6 9 4-2 8 7 5 6-1 15-17zM347 4065l12-1 5 6-12-1zM504 4027l-18 2-11 9 2 3-3 2-2-7-13-2 16-8 23-2zM487 4003l4-18 21 0 11 8-15-3-9 7 3 4-2 3zM478 3992l-9 11-6 1-6-12-11 1-8-6 36-2zM405 3964l2-3 5 2zM445 3958l8-1 3 8-5 1zM372 3948l8-2 5 3-11 2zM457 3948l24-4 5 3-1 4 5 2 0 4-9 8-13-15zM438 3909l9-4 61 2-14 11-17-1-14 10-15-2zM451 3886l-14 3-11-5 20-3zM409 3874l4-4 8 3-5 5zM569 3814l2 3 6-1-2-3zM508 3814l1 6 11 6 22-4-20-11zM501 3824l-7-8-35-4-12 5-22-7-91 2-6 5 5 7 26 4 38 1 24-4 6 3 3 7 10-2 3-6z"/></g><path class="p" d="m360 1851-180 19 5 0 20 0 4 0 18 0 36 0 7 0 27 0 31 0 25 0-65 13-123 7 17 5 11-5 7 0 40 0 10 3 14-3 3 0 8 0 5 2 8 1 9 2 6-3 2-2 8 0 18 3 3-3-154 16 3-3 10 1 12-8 16 4 0 5 8-9 3 5 8-5 10 1 9 0 7 7 8-8 3 1 5 7 4-5-172 10 7 0 43 4 2 6 66-3 53 0 15 3 7-3 14-7 13 2 16-2 14 0 75 5-305 15 40-8 4 3 42-4 13 3 4-2 8 3 67-1 32 6 1-6 23 6 13 0 58 1-292 2 6 7 7-5 179 1-232 14 5 0 13 0 19 6 10-11 3 11 7-1 87-10 14 2 73 9 24-6 54 1 3-1 14 1 11 0-140 12 28-1 3 1 6 0-232 6 6 0 4 0 9 0 185 10 6-4 12 0 23 3 10-9 25 0 7 0 5 0 24 1 8 0 3-1 7 1 28 0-364 19 4 0 21-7 155 1 27 1 48-3 14 8 18 0 9 0 34 0 9 0 12 0-327 9 9 6 5-2 154-3 7-2 1 5 19-5 10 1 12 3-218 10 177 2 25-8 44 4 53 0 68 0-389 19 30-8 140 3 21-6 9 5 8-5 2 7 3-5 1 3 6 1 25 5 17 0 15 0 80-8-329 18 7-3 160 2 15 3 16-6 6 1 17-1 29 2 63 3 3-10 30 0 28 10 43-10-428 13 11 2 11 1 151-4 12 0 24 3 14-2 29 6 8 0 9 0 22 1 35-1 7 1 45 0 7 0-387 8 16 7 5-7 2-1 107-1 5 9 53-2 4-4 3 5 2-6 7 1 1 6 14 0 2-9 4 6 175-6-398 21 165-2 12 1 20-3 2 4 8-3 5-8 1 8 5-2 45-3 17 0 44 0 25 0 14 0 22 0 8 0-410 19 28-10 3 1 8 3 102-1 56 1 12-2 12 3 7 1 37 4 8 0 26 0-269 3 4 8 5-4 76 6 86 0 8-1 1-6 3 4 19 1 3 1 16-10 97 0 18 0 8 0-372 18 25 5 177 0 32-5 15 0 6 0 5-2 10 2 15 0 50 0 3 2 26-2 14 0 42 0-402 9 2 6 6-5 4 4 8-4 146 6 12-3 4 2 6-5 105 0 44 0 58 0-410 18 3-8 4 0 11 4 7 4 5 0 163-5 15 0 34-3 33 0 51 0 13 0 13 0 23 0 22 0 13 5 16-5-390 16 144-3 7-2 46 3 99 6 13 0 30 0 22 0-399 13 22-3 9-6 156 8 6-7 19 3 6 0 19-3 175 5-410 9 8-4 25 10 289-5 9 0 12 0 32 0-350 14 6-5 162 3 13 1 5-4 6-3 11 7 182-4-415 10 4 0 5 0 178 9 6-1 29-3 34-5 17 8 3-8 38 0 34 0 9 0 9 0 36 0-392 19 20-6 14 0 6 2 132-3 12 2 12-1 19 6 7-5 3 2 15 3 45 1 10 0 9 0 27 0 19 0 42 0-244 13 6-7 17 1 3 6 11-6 4 1 12-4-179 11 16 11 116-1 27-10 25 4 7 0 15 0 17 0 41 0 61 0 16 4 38-4 4 0-381 16 1-7 108 3 20-1 141-1 53 7 0-4 32-5-373 12 3 0 29 4 95 2 13-3 3 7 2-5 24-5 16 0 94 0 94 10-390 9 13 0 11 0 17-5 4 9 128 0 18-4 137 1 25 0 9-7-324 11 107 4 11 0-132 11 165 0 139 1 11 0 28 0 14 0"/></g><rect class="ax" x="84.00" y="1828.80" width="491.90" height="476.00"/><text x="106.36" y="2335.50" font-size="21.30" text-anchor="middle" textLength="13.25" lengthAdjust="spacingAndGlyphs">0</text><text x="234.86" y="2335.50" font-size="21.30" text-anchor="middle" textLength="53.00" lengthAdjust="spacingAndGlyphs">5000</text><text x="363.36" y="2335.50" font-size="21.30" text-anchor="middle" textLength="66.25" lengthAdjust="spacingAndGlyphs">10000</text><text x="491.86" y="2335.50" font-size="21.30" text-anchor="middle" textLength="66.25" lengthAdjust="spacingAndGlyphs">15000</text><text x="69.42" y="2291.16" font-size="21.30" text-anchor="end" textLength="26.50" lengthAdjust="spacingAndGlyphs">10</text><text x="69.42" y="2192.82" font-size="21.30" text-anchor="end" textLength="26.50" lengthAdjust="spacingAndGlyphs">15</text><text x="69.42" y="2094.47" font-size="21.30" text-anchor="end" textLength="26.50" lengthAdjust="spacingAndGlyphs">20</text><text x="69.42" y="1996.12" font-size="21.30" text-anchor="end" textLength="26.50" lengthAdjust="spacingAndGlyphs">25</text><text x="69.42" y="1897.78" font-size="21.30" text-anchor="end" textLength="26.50" lengthAdjust="spacingAndGlyphs">30</text><path class="tk" d="M106.36 2304.80v7.29M234.86 2304.80v7.29M363.36 2304.80v7.29M491.86 2304.80v7.29M84.00 2283.16h-7.29M84.00 2184.82h-7.29M84.00 2086.47h-7.29M84.00 1988.12h-7.29M84.00 1889.78h-7.29"/><text x="329.95" y="1816.90" font-size="25.60" text-anchor="middle" textLength="371.88" lengthAdjust="spacingAndGlyphs">convex_hull_area vs Difficulty</text><text x="329.95" y="2363.70" font-size="21.30" text-anchor="middle" textLength="180.12" lengthAdjust="spacingAndGlyphs">convex_hull_area</text><text transform="translate(30.60 2069.80) rotate(-90)" x="0" y="0" font-size="21.30" text-anchor="middle" textLength="93.50" lengthAdjust="spacingAndGlyphs">Difficulty</text><g clip-path="url(#c13)"><g transform="scale(.5)"><path class="s" fill-opacity="0.210" d="M2261 4563l1 8 9 6 18 0 10-8-1-8-9-6-18 0zM2284 4438l-7 7 4 18 4 6 12 2 8-8 0-17-7-8zM2291 4397l-9 6-1 11 5 7 10 2 7-5 2-13-5-6zM2290 4303l-8 8-2 21 5 7 12 2 9-9-2-21-4-6zM2290 4241l-8 7-1 8 5 8 10 2 8-7 1-8-5-8zM2289 4201l-7 5-2 8 5 7 12 2 7-5 2-8-5-7zM1398 4201l-9 6-1 8 5 6 9 2 9-6 1-8-5-6zM2223 4161l-8 6-1 8 9 8 8 0 8-6 1-8-9-8zM1483 4170l2 8 10 5 18 0 11-9-2-8-9-5-22 1zM2290 4156l-6 4-2 8 4 6 10 2 6-4 2-8-4-6zM1457 4123l-6 4-2 8 4 6 10 2 6-4 2-8-4-6zM2284 4125l-4 7 4 9 12 3 7-4 3-8-4-7-6-3zM1497 4122l-7 5-2 8 5 7 12 2 7-5 2-8-5-7zM1429 4122l-8 5-2 8 7 8 8 1 8-5 2-8-7-8zM2289 4083l-8 6-1 9 6 9 10 2 9-8 1-10-9-8zM2176 4048l-2 8 7 8 13 0 7-7-1-8-6-5-10-1zM1440 3965l-9 6-1 8 5 6 9 2 9-6 1-8-5-6zM2141 3925l-9 6-1 8 5 6 9 2 9-6 1-8-5-6zM2045 3768l-10 5-2 8 4 6 11 3 10-5 2-8-4-6zM1728 3788l5 6 10 2 27-9 4-10-8-8-27-1-8 5zM1675 3777l4 11 17 2 9 7 10-2 9-12-1-9-9-6-27 0zM1628 3810l-4 10 8 8 49 1 12 5 18-6 21 5 5 7-5 5-138 3-8 8 2 8 6 4 25-2 24 4-6 12-14 4-37-2-14 3-7 7 5 12 99 2 7 2-2 11-52 4-29-3-21 3-10 9-8-8-12-1-9 6-1 8 10 8 12-1 8-8 10 9 83 1 4 15-20-2-9 3-56 1-9-9-11-1-9 10-20 0-7 4-10-4-10 1-7 11 10 10 14-4 10 4 112 0 3 2-6 12-5 3-43-2-53 4-15-4-35 2-10 5-2 8 12 9 158 1 13 6-5 9-26-3-38 4-11-6-15 6-38-2-8 6-1 9 11 9 67 0 20 5 12-4 36 0 4 8-8 8-104 1-20-4-7 4-45 0-10 12 10 10 178 2 0 11-9 3-26-3-5 3-73 1-11 9 2 8 9 5 30 0 10 6 24-6 46 1 9 9-15 6-81 3-5 12 7 7 82 1 12 4-7 13-11 1-8 6-9-6-29 0-7 3-6-3-30 0-10 9 5 11 35 2 6-3 30 4 15-7 14 9 10 12-53 3-7 7 5 12 16 3 83 0 8 6 12 2-7 7-8-3-86 4-7 4-15-4-8 5-10-5-10 0-10 9 2 8 8 5 10 0 8-5 10 5 12-4 10 4 58 0 4 10 7 5 8 0 10-7-3 9-109 1-5 3-17-3-10 10 3 8 7 4 13-3 9 3 70 0 33 8 8-1 7-6 12 6 18-2-11 10-39-1-28 3-9 5-9-5-24 0-8 4-15-4-10 6 0 10 10 6 12-4 11 4 24 0 9-5 9 5 72 0 21 4-10 12-42 1-9 7-12-7-17 1-7 5-10-6-29 1-7 12 10 9 26 0 9-6 8 5 17 1 12-7 9 7 20 2 11 14-46 2-11 9-8-8-15-1-9 6 0 10 9 6 11 0 12-9 6 7 11 3 55 0 21 7 17 0-2 8-18 0-13 5-12-3-6 4-2 8 8 8 12-3 13 5 51 0 0 15-18-5-10 6-10 0-8 6-1 8 9 8 43 1 6 15-60 3-7 11 10 10 351 1 20-5 14 4 11-9-6-12-21 2-22-9-16 2-3-9 4-4 13 0 7 5 12-2 5 7 10 2 15-13 15 2-5 5 1 12-6 7 0 6 4 5 11 3 17-8 8-17-4-10-12-3 3-3 62 0 8-6 14 8 14-3 4-10-11-10-19 4-9-8-36 6-15-4-17 1 5-8 15-10 17 3 32-2 7-9-7-11-62-1-9 4-8-4-34 3-24-5 2-13 5-2 40 0 14 4 10-5 50 0 9-9-5-13-10-2-39 4-10-10-7 0-16 9-57-1-9-11 6-5 17 2 7 11 10 2 6-4 4-11 17-1 29 6 21-6 6 10 10 2 9-10 2-15-4-6-7-3-66-1-4-3 4-12 10 3 14-4 35 1 12-7 10 6 33 2 13-5 4-9-16-19-10 2-7 7-17 0-10 6-12-6-38 0-9-4-40 3 11-12 14-4 55 0 12-8 8 7 8 1 10-9-2-8-13-5-11 8-12-8-101-1-6-4 3-12 108-1 8-5 2-8-10-9-117 0-14-11 4-5 73-1 8-4 9 4 39 0 12-9-4-10-8-3-39 0-9 4-8-4-64-1-9-3-23 2 7-14 23 3 5-3 93-1 7-4 2-11-9-7-61 0-14-3-19 3-12-3-13-9 16-1 13 5 8-8 6-1 7 9 12 1 10-11 9-1 6-5 0-10-9-6-48-2-5-5 12-10 74 0 9-8-1-8-8-6-94-1-6-3 2-4 12-8 47-1 9-6 11 6 15-3 11 3 9-6 1-8-10-8-11 3-15-3-11 6-9-6-61-1-1-16 21 3 34-4 10-9-2-8-17-6-60 0-2-7-11-7 56-4 43 2 11-9-4-10-7-3-43 2-34-5-49 0 7-12 73-2 10-8-1-8-9-6-61-1-3-8-8-6-10 2-6 8-4-4 2-8 72-1 12-9-2-8-6-4-41-4 12-13 26-3 5-6-5-12-76-4 2-15 43 0 10-8-5-12-26-4 1-9-8-7 12-11-2-10-6-4-13 3-53-1 1-14 13-10-1-8-8-6-14 3-82-3-9 6-12-6-20 0-11 9-9-10-10-2-12 13-14-10-9 1-6 5-1 8 9 10 1 12-6 3-27-5-9 5-96-1zM1857 4513l-11 0 10-6zM2180 4500l-8 14-10 1-21-1-8-6-19 6-6-11 5-4 27 0 15-4zM2137 4383l10-2 3 8-10 2zM2075 4190l1-4 13 2-10 4zM2079 4147l12 7 1 4-15 1zM2083 4107l-5 6-2-2 3-5zM1694 3953l1-5 13 1zM2039 3918l7-3 4 8-7 1zM1706 3873l-6 11-9 0-8-5 11 1zM1655 3870l24 0 5 8-19 4zM2039 3830l-5 6 0 11-41-1-3-6 15 1 14-5 7-7zM1928 3795l8 0 4 7-12-1zM1963 3791l0 14-7 1-2-3zM1848 3788l26 3-22 10zM1877 3790l11-6 13 6 4 9-15 1zM1955 3730l-6 4-2 8 4 6 10 2 6-4 2-8-4-6z"/><path class="s" fill-opacity="0.241" d="M2263 4565l2 6 9 5 16-1 6-6 0-6-6-6-20 0zM2279 4522l0 8 8 6 10 0 6-6 0-7-6-6-11 0zM2290 4438l-9 5-1 9 5 14 10 4 8-8 0-15-5-7zM1652 4447l2 6 8 5 11-1 6-6-1-8-9-5-12 2zM2290 4399l-6 5-1 9 11 8 8-6 1-9-5-6zM1696 4405l-6-6-8-1-12 3-4 8 6 7 13 2 10-5zM1662 4407l-10-9-25 1-5 4-1 8 6 6 25 1 8-5zM2303 4366l-12-14-7-1-12 9-19 1-5 10 7 7 37 2 10-6zM2249 4321l-5 4-1 8 6 6 7 0 5-4 1-8-6-6zM2292 4305l-7 8-3 19 6 7 8 1 7-6 1-6-5-19zM1570 4282l-4 11 8 7 10-1 7-8-7-10zM2292 4243l-7 5-1 9 10 7 7-5 1-9zM1397 4203l-7 10 5 7 8 1 7-10-5-7zM2290 4202l-7 6-1 6 6 7 8 1 7-6 1-6-6-7zM1548 4209l1 8 7 5 14-3 13 3 9-4 7 4 21 1 8-2 6-7-1-6-8-6-26 0-7 4-9-4-13 3-14-3zM2225 4162l-8 6-1 6 6 7 7 1 8-6 1-6-6-7zM1521 4170l-7-7-21 0-7 11 7 7 23-1zM2292 4158l-6 10 8 6 6-10zM1459 4125l-6 10 8 6 6-10zM1428 4124l-5 4-1 8 6 6 7 0 5-4 1-8-6-6zM2291 4123l-7 5-1 8 12 7 7-5 1-8zM1499 4123l-9 11 6 8 7 1 9-11-6-8zM2290 4084l-8 7 0 7 5 7 8 2 7-5 2-11-4-5zM2174 4092l1 6 9 6 12-4 13 3 7-8-7-10-13 3-12-4zM2186 4044l-8 5-1 8 12 7 9-6 1-5-5-7zM1439 3967l-7 11 5 6 8 1 7-11-5-6zM2140 3927l-7 11 5 6 8 1 7-11-5-6zM1539 3928l-4 5 4 11 8 2 10-5-2-12-8-3zM2043 3770l-7 11 5 6 9 1 7-11-5-6zM1848 3777l7 11 22 0 7-6 0-6-7-6-22 0zM1730 3781l4 11 10 2 7-5 15-2 5-9-8-8-25 0zM1677 3778l4 9 17 2 8 6 7-1 9-13-7-11-30 0zM1632 3810l-5 10 7 7 49 1 9 4 21-5 19 4 9 8-9 8-94 0-19 6-19-5-10 6 0 8 10 6 9 0 8-5 10 5 53 0 10 10 10-8 12 0-9 15-15 0-8-5-15 5-9-12-9-2-5 4-2 10-56 1-16 7 0 8 6 5 103 2 1 17-85-1-22 3-6 7 1 6 8 6 84 1 0 10 4 6-90 3-7-8-8-2-11 10-20 0-9 7-8-6-9 0-5 4-1 8 9 7 13-7 10 7 113 0 7 2-8 6-1 7-6 4-93 0-6 3-12-4-41 3-5 9 5 7 42 2 6-3 11 3 99 0 14 5 20-4 3 7-11-4-13 14-28-2-38 3-14-5-9 5-28 2-12-3-7 8 2 8 6 4 70 1 20 4 8-3 40 0 4 10-9 8-106 1-18-3-9 4-42-1-7 4-2 8 9 8 179 1 2 16-119 3-7 11 7 7 27 0 16 6 20-5 50 1 15 13-15 0-6 4-78 2-7 6 0 6 7 6 81 1 12 3-4 14-17 4-6 11 28 25-56 3-6 6 0 6 6 6 96 2 9 6 10 0 2 4-7 7-97 2-7 6-8-6-7 0-7 10 7 8 7 0 8-6 7 6 61 1 4 10 7 5 6-1 5-11 4-1 4 7-2 8-111 3-8 5-14-5-8 5-1 8 9 7 14-5 8 5 71 0 23 3 6 4 21-6 8 5 13-3 7 3-14 12-63 1-13 9-11-9-23 1-7 6-16-6-7 6 2 9 11 3 10-6 7 6 23 1 11-9 13 9 86 1 6 4-12 13-42 1-8 7 4 11 25 4 11 14 9 0 8-6-4 9-60 1-9 11 9 9 62 1 21 7 18 0-3 10-25 1-8 6-12-3-4 9 6 6 10-4 15 7 53 1-1 16-19-4-10 5-10 0-7 4-2 8 9 8 43 1 8 16-40 6-20-3-8 7 1 8 7 5 20-3 18 4 323-1 9-6 7 5 8 0 7-6-3-11-11-2-10 5-24-10-18 3-1-14 4-3 17 0 9 4 10-4 6 10 7 1 13-12 22 2-8 7 1 13-5 10 5 6 9 1 14-8 5-11-1-10-15-6 0-3 8-3 44 2 18-3 6-12-8-8-33 6-35-4 3-9 18-12 11 3 39-2 4-11-6-6-37-1-11 3-10-3-12 6-10-6-21 0-11 4-26-6 2-15 7-2 54 3 13-5 47 0 7-6 0-8-5-5-47 3-9-10-7 0-14 8-62-1-8-10 0-4 7-4 19 1 11 13 10-5 3-9 22-1 27 5 22-6 7 11 5 1 7-5 3-18-7-7-68-2-7-4 4-11 5-3 10 3 50-3 8-9-6-9-52-5-24 3-23-2 9-4 8-10 73-4 7-7-5-10-107-3-7-4 3-14 110-1 8-7-1-8-7-5-118 0-15-12 5-6 74-1 9-6 12 6 38-1 7-11-7-7-38-1-12 6-9-6-98-2 7-16 122-1 8-5 1-8-9-7-94 0-10-2-12-9-11 3-7-3 1-7 34 2 9 5 9-8 10 0 6 9 8 1 9-11 15-5 0-10-9-5-49-3-3-7 13-9 73 0 8-6 1-6-9-8-99-2-2-8 14-8 49-1 9-11-9-9-63-1-1-16 6-3 13 3 38-3 7-5 1-8-8-7-70-1-7-12-13 0 6-5 53-1 6-3 10 3 34-1 7-7-5-10-36-2-10 3-33-5-53-1 9-15 71-1 10-7-1-8-9-5-61-1-2-8-6-5-7 1-10 10-6-8 3-8 76-2 7-7-7-11-42-3 13-16 28-4 3-9-6-7-76-3 2-17 49-2 4-5-4-11-26-3 1-9-9-8-10 5 0 13-46-1-11-13 26 5 18-11 25-1 9-6 0-11-5-4-69 1 3-16 13-10-2-8-8-4-12 5-9-4-73 0-7 11 5 6 9 2 6 11 11 2 7-10 7 0 10 9-3 4-15-2-14 4-8-6-16 1-7-8-7-1-24 13-10-32-9-7-12 6-1 8 4 6-3 3-7-3-6-15-16 0-3 10 8 8 2 14-12 5-23-5-17 5-87-2zM1859 4505l0 9-17 0zM2185 4498l-12 18-29 0-13-6-19 5-7-12 6-5 36-1 7-4zM2105 4459l-5 9-3-4zM2134 4384l4-4 11 0 3 8 8 6-15-3-7 4zM1764 4356l9-1-1 3zM2116 4343l3 1-2 5-4-2zM2100 4304l1-3 5 2-2 3zM1722 4237l-1 3-6-1zM1676 4231l11-1 7 9-8 1zM2076 4145l9 0 10 13-3 3-17-1zM2074 4118l2-13 20 2zM2075 4073l1 10-4-2zM1683 3963l9-16 21 1-16 8-7 9zM1742 3920l0 4-6-1zM2036 3918l12-5 6 11-13 1zM1896 3846l6-3 6 3zM1823 3840l2 5-5 2zM1928 3831l3 2-2 4-3-2zM1756 3831l0 10-4 1-5-4zM1965 3790l1 16-14 0-2-3 8-12zM1957 3732l-6 10 8 6 6-10z"/><path class="s" fill-opacity="0.317" d="M2266 4564l6 10 15 0 6-5-1-8-5-3-15 0zM2159 4557l-6 4-2 7 6 6 6 0 5-4 1-7zM2197 4541l-6 0-5 5 2 11-4 11 4 5 15-5 7-11-5-11zM2284 4520l-2 10 4 4 10 1 5-5-4-11zM2288 4440l-5 4-1 7 5 14 8 3 6-7 0-13-6-8zM1660 4440l-5 6 1 6 8 5 9-2 2-12zM2290 4401l-5 11 5 6 6 0 5-11-5-6zM1672 4404l3 11 13 1 5-5 0-6-5-5-10 0zM1659 4406l-8-7-21 1-5 3-1 8 6 5 21 1 7-5zM1602 4362l-3 11 9 3 3-11zM1655 4368l-8-8-20 1-6 10 6 6 20 1zM2301 4366l-16-13-11 8-19 1-3 10 5 5 34 2 9-5zM2250 4323l-4 10 9 4 4-10zM1576 4322l-5 6 1 6 4 4 9-1 5-8-5-6zM2290 4314l-6 18 11 7 6-5 1-7-3-10zM1601 4283l-4 10 9 4 5-8-3-5zM1571 4283l-3 4 3 10 9 2 7-5 1-6-5-6zM2291 4247l-4 9 8 4 4-9zM2189 4248l0 6 5 5 40-1 4-5-4-9-40-1zM1397 4205l-3 11 9 3 3-11zM2291 4203l-7 11 11 7 7-11zM1550 4209l1 8 6 4 10-3 15 3 11-5 8 5 19 1 12-8-7-11-24 0-8 5-11-5-10 3-15-3zM2224 4164l-6 9 4 6 8 1 6-9-4-6zM1490 4170l1 6 6 4 15 0 6-6-6-10-15 0zM1429 4126l-4 10 9 4 4-10zM2290 4125l-5 5 0 6 5 5 6 0 5-5 0-6-5-5zM1498 4125l-6 9 4 6 8 1 6-9-4-6zM2177 4091l0 6 5 5 14-5 13 4 4-6-4-8-13 4-14-5zM2290 4085l-6 6 0 8 6 6 6 0 7-11-5-8zM2184 4046l-5 6 1 6 4 4 9-1 2-12zM1439 3969l-4 9 4 5 6 0 4-9-4-5zM1501 3968l-5 6 1 6 4 4 9-1 4-6-2-6zM2140 3929l-4 9 4 5 6 0 4-9-4-5zM1541 3929l-3 11 5 4 9-1 2-12zM2044 3772l-4 9 4 5 5 0 4-9-4-5zM1851 3777l4 9 22 0 3-3-3-11-22 0zM1793 3772l-3 11 8 8 0 9 9 4 7-6-7-22-6-5zM1732 3784l6 8 25-6 3-10-7-5-18 0-7 5zM1680 3777l4 10 16 1 8 5 6-2 6-10-7-10-27 0zM1635 3811l-4 5 4 9 21 3 20-2 15 4 23-4 28 9 15-6 6 17-19-3-12 5-92 0-14 2-8 7-10-8-12 2-4 8 9 8 7 0 10-8 8 7 97 4-1 3-10 1-7 12-19 0-11-4-10 5-11-13-5-1-6 14-57 0-15 6-1 6 6 6 104 3 0 18-105 1-7 6 1 8 6 4 84 1 4 19-91 2-15-9-7 8-23 1-6 4-2 6 8 8 120 1-7 16-8 4-94 0-7 5-13-6-28 1-11 5 0 8 11 5 33-1 8-4 7 5 134 1 8 7-3 7-12-6-14 11-26-2-88 5-13-3-8 7 1 6 7 5 136 2 5 3 2 8-11 9-175 1-7 5-1 6 8 7 182 3-2 10 3 7-120 2-5 4 0 8 5 4 39 3 73-1 20 15-3 3-16-2-6 3-78 2-6 10 6 6 92 3 0 16-21 5-5 10 6 7 11 3 4 8 9 6-17 4-38 0-7 4 0 10 15 5 84 0 10 6 10 0 2 5-9 8-23-2-72 4-6 10 6 6 63 2 7 13 4 0 4-10 6-3 7 8-1 9-4 3-109 1-9 10 9 8 93 2 6 4 22-5 9 4 17-2 3 3-14 14-63 1-9 4-1 8 10 6 89 3 3 5-10 11-45 2-7 6 3 10 25 4 12 13 17-5 2 3-4 7-63 2-7 6 1 8 12 5 56 0 20 6 19 0 3 5-4 7-27 2-8 8 2 5 10 6 57 2-2 9 4 7-43 2-7 5-1 6 8 7 43 1 11 17-36 4-8 4-19-4-7 6 2 9 15 3 9-4 16 5 314 0 13-2 6-9-8-8-37-2-1-16 3-2 41-1 10 10 14-11 49 0 9-5 24 4 14-4 4-8-5-5-27 1-9 4-12-6-15 3-7-4 2-11 22-13 11 5 37-2 3-10-5-5-35-1-8 5-16-4-10 9-11-10-19 0-11 7-9-7-20-3 0-15 3-2 62 1 14-5 43 1 8-7-5-9-45 3-12-11-16 8-65-1-8-5-2-9 9-6 24 1 7 11 7-3 4-9 18-1 29 5 27-6 12 9 5-6 1-12-4-6-88-4-5-4-13 4-4-11 3-6 15-1 5 9 7 3 9-12 64-1 6-11-9-7-95-3 9-5 8-11 73-3 5-5-3-10-105-3-18-5-9-12 2-3 130-1 7-6 0-6-5-5-119-1-16-11-13 1-4-5 1-3 13 3 8-5 74-1 8-7-1-6-7-5-97-1-3-2 9-17 122-1 7-5 1-6-8-7-100-1-15-9-15 5-5-7 3-9 22 4 42-4 6 9 6 0 6-9 16-6 0-8-9-5-49-3-4-6 4-7 12-5 75-1 5-9-5-7-104-3-7-11-5 1-7 9-6-1 3-16 89-3 3-10-7-6-63-1-3-12 4-8 55-1 6-4 1-8-7-6-70-1-8-12-15 6-5-5 14-8 52-1 8-4 42 3 5-4 0-8-5-4-42 3-8-4-75-1-6-3 11-16 71-1 8-6-1-8-7-4-61-1-8-12-16 11-9-10 5-9 55 0 10-4 11 1 4-5-4-9-47-5 17-17 26-2 5-6-5-10-78-3 3-6-2-12 46-1 9-7-4-9-28-3 2-10-5-6-7 2-2 7 4 6-4 2-49-1-12-13 2-4 7 0 11 6 10 0 11-9 30-3 7-5 0-7-4-4-72-1 4-18 10-4 4-6-6-9-7 0-9 6-11-6-43-1-24 1-6 6 1 6 11 4 7 12 9 0 5-9 28 5 5-7 7 0 4 3 0 17-37-3-21 3-9-6-16 3-9-10-30 13-10-34-12-4-4 11 6 9-12 18-16-2-24 4-12-4-16 4-91-2zM1853 4545l3 9-9 1-2-2zM1861 4503l0 12-24-1 19-13zM2198 4496l-1 3-11 1-12 17-62-1-10-14 2-4 42-2 9-7 11 7 20 0 7-4zM2112 4459l-8 9 1 7-6 1-3-14 5-4zM1761 4356l6-4 8 3-2 4zM2120 4341l0 8-8 1-1-6zM1725 4235l-3 6-12-1 10-6zM1672 4230l9-5 8 1 9 13-13 2zM1704 4145l5 3 2 13-8-2-2-10zM2071 4146l5-3 16 1 5 16-24 1-3-3zM1690 4107l6 0 1 5-7 1zM2046 4080l8 1-4 2zM2075 4067l5 12-2 5-8-2 1-11zM2034 4028l4 2-2 4-4-2zM1684 3991l5-3 4 2-2 3zM2012 3988l7-1 1 3-6 3zM1769 3950l-7 5-5-1 8-6zM1680 3962l8-15 29 1-24 17-8 1zM1746 3917l-3 8-14-2 13-8zM2033 3918l4-5 12-2 11 14-24 0zM1823 3883l-3 4-11-2 9-4zM1911 3846l-28 0 16-4zM1824 3835l3 11-10 2-2-2zM1925 3830l9 2-4 16-6-2zM1780 3828l8 1 3 5z"/><path class="s" fill-opacity="0.390" d="M2270 4562l2 10 15-1-1-11-12-1zM2158 4559l-3 10 8 3 2-11zM2192 4543l-3 20 4 5 6 0 7-14-7-10zM2289 4519l-4 11 9 4 5-9-3-5zM2236 4523l4 10 10 0 12-7-3-6-19-1zM2211 4480l-12 9 6 8 11-7zM2223 4486l7 9 33-1 4-4-4-10-32-1zM2160 4485l1 6 6 4 17 0 6-4 0-8-6-4-17 0zM2290 4441l-5 5 0 8 4 7 6 1 4-13zM2225 4447l8 8 13-2 4-4-4-8-17 1zM1662 4441l-3 11 10 3 3-11zM2292 4404l-4 9 8 2 2-7zM1678 4402l-2 10 11 2 2-10zM1656 4405l-7-5-14 2-2 10 16 4 6-3zM1627 4364l0 10 3 2 18 0 4-5-4-9zM2299 4366l-7-7-33 3-3 11 3 3 32 2 7-4zM1578 4323l-4 9 7 5 4-10zM2291 4320l-5 12 8 6 5-4 1-8zM1577 4282l-6 4-1 6 8 6 7-5 0-6zM2193 4247l0 8 4 3 14-3-3-10-11-1zM2292 4204l-6 10 8 6 6-10zM1595 4210l1 6 7 4 17 1 10-7-6-10-24 1zM1589 4211l-8-7-12 6-6-5-7 0-4 9 4 5 7 0 6-5 12 6zM2226 4165l-4 3 0 8 6 3 4-3 0-8zM1497 4167l1 11 15-1-1-11zM2100 4154l2 3 6-1-3-4zM2292 4126l-4 10 6 4 4-10zM1499 4126l-3 11 7 3 3-11zM2185 4087l-4 3 0 8 5 3 5-9zM2291 4086l-5 4-1 7 9 7 5-3 2-9zM2186 4047l-4 8 7 6 4-10zM2132 4014l7 8 33-3-2-10-31-1zM1482 4012l4 10 35 0 6-7-6-8-35 1zM1503 3969l-4 9 7 5 4-10zM1544 3930l-2 10 7 2 2-10zM1599 3851l-3 11 13 3 4-5-1-6-6-4zM1641 3813l-1 9 15 5 23-2 17 3 17-4 29 7 17-3 11 19-25-2-13 4-104 2-4 9 5 5 103 4-3 7-13 0-9 11-42 1-13-5-6 5-58 0-11 4 0 9 4 3 101 3 6 12 9 4-2 2-118 3-6 5 0 6 6 5 84 1 6 20-139 3-5 5 0 6 5 5 110 0 14 3-6 6-1 9-12 5-93 0-7 7 7 9 132 1 15 8-7 10-16-6-12 9-109 1-8 4-10-4-5 9 5 5 11-2 7 4 118 1 6 2 4 7-2 9-13 4-126 0-31 4-16-3-5 3-1 8 6 5 16-3 40 4 128 2-2 12 4 5-3 2-120 3-2 10 34 5 86 2 4 6 11 3 1 8-103 4-4 3 0 8 13 4 24-2 58 4 2 18-23 4-5 5 3 10 17 5 33-1 0 8 7 7 21-6 6 2-6 8-52-2-59 5-2 9 6 5 90 1 14 6 8-1 4 6-12 10-75 0-20 4 0 10 3 2 89 4 1 18-115 3-6 5 0 6 6 5 119 1 32 4 0 4-15 13-63 1-7 4 0 8 7 4 83 1 10 6-11 14-45 2-6 5 0 6 5 5 25 3 8 10 17-5 4 5-4 9-61 1-9 6 0 6 9 6 93 3 11 7-1 7-9 4-25 1-5 6 5 10 58 1 11 11 7 0 11-9 5 0 4 14-3 4-75 3-4 8 7 7 42 1 8 8 9-1 2-5 4 0 4 5-1 12-51 4-8 6-10-6-9 0-5 5 0 6 5 5 9 0 10-6 14 7 317 0 11-2 4-5-1-6-17-6-26 0 0-19 45-2 13 5 12-6 51-2 4-7-5-6-23 0-6-4 2-5-5-4-5 0-2 8-7 4-63-1-7-4-6-11 2-5 44-2 6-10-6-6-20-2-7-15-7 4-5 11-11-1-2-12 5-6 94-1 16-8-16-14-13 5-70-2-7-4-1-10 3-4 9-3 89 2 23-5 15 4 4-8-6-9-104-3-4-15 8-5 12 0 14 6 12-7 59-1 4-8-8-7-96-3 16-18 73-3 4-3-2-10-101-3-22-5-8-13 4-4 129-1 6-7-4-8-121-2-12-9-16 1-6-8 3-4 96-2 7-7-7-9-101-2-4-2 7-5 0-7 7-6 124-2 4-10-4-4-101-2-14-6-15 4-6-5-2-12 4-3 20 3 61-2 15-7-1-8-7-3-89-2-5-3 0-13 4-3 38 3 19-5 28 1 11-5 10 4 22-1 4-8-4-6-22-1-10 4-11-5-86-3 1-16 4-2 84-1 6-5 0-6-6-5-63-1-4-3 3-18 58-2 5-5 0-6-5-5-69-1-17-7-10 4-6-6 2-5 16-7 54-2 6-6-4-7-32-4-47 1-11-4 15-17 55 0 22-5 0-8-7-4-94-4 2-5-3-6 5-7 59-1 11-7 0-4-11-7-57-2-7-9 2-4 25-3 5 6 10 1 5-9 32-3 3-10-5-5-88-3-4-3 3-5-2-9 3-2 58-1 7-4 0-8-7-4-24-2-58 1-11-6-4-11 13-2 9 5 12 0 7-8 31-3 5-5-6-9-135-1-11-6-14 5-14-8-19 9-8 0-6-4 4-8-8-5-5 0-12 17-23-1-13 4-14-4-20 3-21-2-22 5-14-4-36-1zM2061 4554l9-1-3 3zM1814 4467l4 2-1 5-5-5zM1777 4355l-5 5-14-3 13-8zM2045 4349l7-2 1 4-6 2zM2124 4341l-2 8-7 7-8-9 4-6zM2060 4342l13-1-5 4zM1753 4303l-1 8-10 4 5-10zM1765 4193l4-1 2 4zM1714 4184l11-2 5 6-10 1zM1701 4144l8 0 7 7-1 10-6 2-9-4zM1708 4120l11-1 4 3-12 1zM1777 4120l5-3 4 2zM1686 4109l4-4 12 3-3 8-10-1zM2043 4080l9-3 5 4-8 3zM1887 4077l5 2-3 4-5-1zM1760 4073l7-3 9 9-7 4zM2073 4065l8 2 0 17-15-2 3-14zM2029 4029l9-2 3 7-10 1zM1676 3990l20-2 0 4-6 3zM2009 3989l11-3 2 5-8 5zM1728 3991l4-5 9 1-5 5zM1755 3955l8-8 7 0 3 4-13 6zM1678 3963l3-12 6-5 27-1 6 3-19 16-16 3zM1750 3913l-6 13-19-2 2-5 7-1-1-4 10-3zM1785 3910l9-2 12 3-18 2zM1825 3880l-2 7-16-1 2-4zM1821 3831l6 3 3 11-8 4-9-1zM1936 3831l-1 15-5 3-12-4-10 4-29-3 14-6 22 3 7-6 2-8zM1778 3826l15 4 2 16-5-1 2-5-13-9zM1973 3791l-2 7 8 3 3-7zM1800 3793l2 4 7-2-3-4zM1734 3781l5 8 19-4 2-10-19-1zM1828 3773l-2 10 7 6 4-1-3-13zM1796 3773l-3 10 10 6 3-8-5-8zM1992 3773l-5-1-8 13 13 0zM1684 3776l3 10 25 3 5-5-6-11-22-1zM1899 3774l0 10 9 3 6 10 13-10 20 4 10-5 17 2 3-3-10-12-38 1-14-3z"/><path class="s" fill-opacity="0.480" d="M2279 4562l1 8 2-6zM1781 4559l-4 10 4 4 9-1 3-5-2-6zM2202 4554l-4-3-5 7zM2243 4521l-1 9 4 1 1-9zM2205 4486l-2 6 7 2 2-5zM2228 4484l0 7 4 3 15-3-4-10-9-1zM2165 4483l3 11 14 0 5-6-5-8-14 0zM2289 4449l-2 5 8 3 1-6zM1645 4402l-4 7 4 5 5 0 1-11zM1632 4367l2 6 12 0-2-10zM2297 4367l-4-6-8-1-17 5-2 6 24 6 6-4zM2292 4322l-4 7 8 2 2-5zM2192 4211l-11-6-8 2-3 7 13 5zM1601 4208l0 8 6 3 13 1 8-7-5-8zM1577 4170l2 7 9 2 16-5-3-7-19-1zM2172 4131l6 9 15-5 0-4-9-5zM1482 4088l-2 10 7 2 5-7zM2291 4087l-4 11 3 4 6 0 3-11zM2158 4010l1 10 4-7zM2146 4010l-1 9 4 1 2-8zM1491 4019l27 1 3-9-29-1zM1602 3852l-3 9 8 3 2-10zM1646 3816l0 4 9 6 39 0 8-3-2-7-10-5-35-1zM1582 3891l-2 9 8 4 94 2 18 17-18 5-107 2-2 10 4 3 86 2 1 12 6 7-8 4-134 1-4 5 4 9 108 0 17 4-9 18-12 3-51-1-9 4-31-3-5 4 0 6 5 4 31-3 10 4 85 0 18 6 14-2 2 3-14 4-8 10-18-5-12 7-106 1-4 3-1 6 5 5 122 2 9 5 0 9-5 7-138 2-8 4-15-2-3 10 20 0 11 4 132 2-1 13 4 5-3 2-95 2-8 3 0 8 13 4 76 0 12 2 3 5 15-2 0 15-72 5-4 8 10 6 54 3 1 18-28 5-2 9 3 4 58 3-4 6 5 8 25-7 5 9-16 5-99 0-7 3-1 8 8 5 81 0 17 5 16-2 5 10-16 9-80 1-14 4 0 8 8 3 83 3 0 6 8 4-7 3-1 7-11 2-106 1-4 10 4 4 149 3 5 3-1 8 15-6 5 2 3 8-3 5-16 0-11-7-10 8-63 1-5 9 5 5 80 1 23 10-9 1-12 11-47 3-3 8 4 5 27 3 6 8 16-8 15 2-10 5 6 9-9 5-66 2-4 4 4 10 99 3 12 8 11 0 8 9-55 4-6 5 4 10 62 2 8 9 10-7 15 0 1 18-78 5-1 8 4 4 65 3 6 7-5 14-49 2-4 10 9 5 40 1 278-1 10-4 0-8-14-5-29-1-1-19 18-3 81 0 8-5 14 3 3-3-3-10-17 3-11-6-14 3-72-3-10-12 6-8 41-1 7-4-2-10-28-4 3-6-4-3-4 3 1 5-22 1-3-5 7-14 93-2 8-3 3-9-11-6-8 3-73-2-8-3 1-16 16-4 100 0 12-5 9 5 3-5-4-5-6 4-4-6-10-4-84-1-4-4-2-12 8-5 29 2 13-4 56-1 2-9-5-4-89-1-9-3 7-10-3-7 68-4 7-6-4-7-87-3-47-9 15 0 5-11 8-3 64 1 20-4 20 1 4-5 17 6 4-3 0-8-9-3-12 6-4-5-96-2-13-8-21 2-2-13 4-3 97-3 1-11-111-6 16-19 68-1 15-6-3-7-12-3-74-2-8-14 4-7 82 0 13-6-1-8-5-2-92-3-4-2 3-5-2-10 13-4 23 3 29-4 27 1 9-9-9-7-83-1-6-3 4-18 37 0 24-4 26 2 4-4-4-10-26 2-44-6-11 3-15-3-12 2-12-5 7-4 16 1 5-6-1-5 5-2 15 1-1 5 4 2 3-8 61-3 4-5-4-9-97-3-17-7-9 0-4 4-17-3 11-3 5-9 31 3 15-6 51-4-1-9-73-3-19-7 23-16 55 0 17-4-2-10-92-3-7-4 0-11 5-6 62-2 8-6 0-4-8-6-55-1-10-8-8 4-1-8 5 0 10-9 26 0 3 7 6 0 2-7 33-2 5-5-5-9-40 1-53-6 2-17 64-4 0-12-81-2-15-5-4-11 2-5 26 3 13-6 29-3 4-8-3-3-133-2-11-5-16 4-7-5-27 7-15-4-11 3-29-1-17 9-9-8-23 3-20-3-14 5-2 4 15 8 34 0 12 7-2 6 4 8-130 2-10 3 1 9 9 3 88 2 3 10-7 9-7-7-3 5-10 4zM2059 4554l4-4 16 3-11 4zM2040 4437l13-1-4 3zM1775 4436l13 1-8 2zM1802 4422l1-3 4 1zM2093 4393l8-3 5 6-12 1zM2104 4343l9-4 16 3-7 11 1 4-4 2-11-2zM2076 4341l-5 6-13 2-7 6-8-4 8-11zM1757 4303l-8 13-8 1-8-5 11-10zM1757 4266l9 4-6 2zM2044 4230l-8 9-8-4 4-5zM1762 4192l8-2 4 6-4 4zM1712 4183l14-2 7 6-16 7zM2035 4148l7-2 1 4zM1693 4145l14-3 17 14 6-5 7 7-34 5-5-3-1-11zM1818 4121l9-5 8 1-9 5zM1841 4118l6-4 9 3-4 3zM1793 4110l-6 12-13-1 10-10zM2037 4110l2-5 6 1zM1794 4107l13 0-2 4zM1683 4110l6-6 15 1 4 10 13 1 7 6-37 0-6-4zM2017 4079l4-2 3 5-5 1zM1882 4079l7-4 5 5-11 4zM1753 4077l13-11 18 5-11 13-12 0-2-6zM1686 4066l8-2 14 5-9 9zM1763 4001l-2 4-12-1zM2021 3985l4 7-9 9-10-7 1-7zM1727 3987l17 0-6 17-8-1 1-6-6-6zM1711 3987l-21 10-25 0 7-10zM1864 3964l12 1-7 2zM1753 3952l7-5 11-1 5 7-19 5zM1672 3963l9-16 29-3 12 2 6 7 0 7 7 4-11 2 0-6-8-1-21 8zM1855 3921l7-2 2 3zM1707 3911l16-3 8 4 18-4 9 5-6 4-1 8-23 2-7-4-3-8zM1782 3913l2-6 21 0 8 4-11 5zM1973 3880l13-2 5 7-15 2zM1924 3879l3-2 4 3zM1827 3878l-3 10-19-2 2-5zM1853 3834l7-7 30 0-5 5 3 4 25 5 6-4 1-8 9-2 10 3 0 9-5 10-54 0-5-3 7-6-1-8zM1773 3828l5-5 16 5 5 14 5 4 12-9 0-8 9-1 9 12 16 6-29 4-35-2 1-9-13-7zM1832 3797l1 5 7-3-3-4zM1748 3778l-7 0-3 5 9 2zM1700 3782l4 4 10-2-6-8zM1692 3775l-1 7 3 2 2-4zM1908 3778l0 6 7 5 12-5 20 4 8-5-3-6-8-3-15 3-15-4z"/><path class="s" fill-opacity="0.596" d="M1783 4560l-2 10 5 2 3-9zM2087 4543l2 4 5-2-1-3zM2236 4483l-1 7 3 1 2-6zM2171 4481l-2 10 11 2 3-9zM2280 4363l0 11 13-1-2-11zM1741 4265l2 4 8-2-2-3zM1607 4209l2 8 9 2 6-3-3-10zM1590 4168l-1 7 3 1 1-7zM1571 4130l-2 4 3 2zM2292 4089l-3 8 5 4 3-8zM2141 4093l5 7 12-2-3-10-9 0zM1543 4051l3 9 13-4-4-7-9-1zM1561 4009l-3 10 5 2 3-9zM1657 3990l-3 6 6 2 3-6zM1528 3972l3 10 12-5-7-6zM1854 3841l1 3 9-2-3-3zM1678 3817l3 6 6 2 11-5-12-8zM1719 3815l0 8 7 3 32-1 10 3 6-7-4-8-7-2-12 5-18-5zM1649 3817l7 8 12-1 8-5-12-8-11 1zM1587 3892l-3 7 8 4 25 0 5-3 11 4 43 0 23 4 67-1 10 3 5-4 44 0 5 3-11 4-6 11-5 0-4-6-45-1-5 9-26 2-22-6-4 4-25 4-98 1 0 10 87 4 1 7 5 3 6-11 42 0 14 7-1 7 6 7-125 3-9 3-44-3-13 5 4 9 84 0 19 4 54-2 10 4 22-4 7 4 3 10 20-7 8 5 19 1 5 6-73 3-11-16-11 6-12 1-5 6-22 3-20-1-36 5-30-2-9 8 10 6 116 3 5 7-17 4-7 9-104 2-9 6 7 7 135 4 3 3-7 7-1 8-6 2-8-12-11-2-3 11-11 5-56 3-77-2-7 6 11 8 131 1 7 17 6-2-1-9 3-3 20-2 20 8 11 10-10 4-50-2-99 6 0 8 6 3 127 1 13 6 15-3 6 4 0 8 5 4-44 4-12-6-14 6-63 3-2 7 7 5 59 3 2 2-5 6 14 7 20-1 2-4-4-6 5-5 18 0 5 9-6 7-9 0-8 6-63 2-4 10 6 5 53 0 6 3-1 5 6 2 7-6 16 2 0 6 14 1-26 10-105 1-6 4 3 9 141 4 13 8 8-8 7 2-3 13-12-3-7 6-6 0-13-6-23 9-79 1-9 5 0 4 9 5 121 3-14 17-53 6-92 1-3 9 3 3 148 3 24 4 3 15-5 3-30-2-7 3-59 1-5 8 5 4 107 5 2 8-17 4-13 8-44 2-3 10 31 6 37-1 3 2-11 7 7 7 16-2 5-13 10 2-12 16-13 4-84 1-5 4 3 9 127 6 1 11 12-2-9-9 9-2 9 12-1 7-74 3-5 5 1 6 4 3 95 4 0 13 4 4-4 2-52 1-24 4 1 9 67 5 5 6-5 15-46 2-6 3 0 8 28 4 295-1 6-3-2-10-41-4-32 2-5-4 4-5 13-1 15-12 108-4 4-6-10-8-21 2-72-4 0-6-10-5 4-8 48-3 5-3 1-6-6-5-50-2-5-4 3-8-5-3 14-7 77-5 15 3 7-8-3-5-21 3-77-6 1-19 12-3 108-1 8-5 0-4-5-4-19 3-10-4-68-4-29 2-5-3-1-6 9-6 11 4 12-9 108-5 2-8-15-4-120-2-6-2-2-6 10-2 11-11 95-3 4-3 0-6-15-4-140-5 9-2 1-8 25 0 2-6 8-4 69 0 18-5 1-4-5-5-70-1-20-7-14 4-6-2 1-15 7-4 82-2 8-4-2-6-85-3-19-4 15-19 71-2 9-6-3-6-83-5-9-14 7-7 86-2 6-4 0-6-4-3-77-1-29-3-5-4-17 5-27-3 1-16 9 0 6 5 29-5 6 12 6 3 3-3-1-11 5-3 90-2 6-5-1-6-5-3-83-1-8-3 4-19 58-3 3-3-3-9-86-3-6-3-13 3-7-3 3-9-8-5 10-2 0 7 13 6 33-16 82-2 5-3 0-8-5-3-144-5 2-8 11-2 8-8 29 2 45-5 6-4 0-6-7-3-48 0-26-6-11 2-11-10 3-8 8-2 15 2 7 7 12-9 63-2 6-3 0-6-6-3-82-2-14-4 0-6 16-14 60-1 5-5-5-9-76-4-4-4 1-7 6-6 82-5 3-3-3-9-16-1-17 7-14-7-77-2-5-3 0-6 6-5 14 2 6 8 6 0 7-7-1-10 56-3 6-3 0-6-14-4-82-3-1-20 26 1 22-5 10-5-9-7-110-1-10-3-10 3-12-3-28 4-61-1-7 9 17 8 3 11 8-1 2-5-3-4 16-3 9 6 27-7 29 0 15 7 25-6 21 4-9 7-5 12-87-1-34 3-39-3-19 3-14-3-46 3-10 4-14-4-32 1-6 7 8 5 43-1 47 4 3 11-7 9zM2063 4512l5-3 13 5-14 2zM1963 4507l12 1 2 4-11 3zM2012 4503l6 3-4 2zM2073 4435l17-1 3 3-17 1zM2057 4436l-7 4-12-2 12-6zM2003 4394l5-2 2 4-6 1zM1983 4381l-2 8-9 5-1-8zM2062 4386l11-7 18 2-19 6zM1847 4381l6-2 8 5-11 2zM2041 4343l8-4 26-1 5 3 1 11-10 5-5-5-19 5-5-4zM1865 4310l6-1-2 3zM1978 4307l5-4 5 2-5 4zM1775 4305l4-4 16 0 4 6 9-1 6 4-12 6-25 2 6-8zM1828 4275l6-2 3 6-8 1zM1826 4235l1-3 5 1zM1804 4239l-18 3-9-5 13-2 5-8 3 2-1 6zM1890 4228l1-4 5 1zM2054 4224l-14 16-9 1-7-5 7-11zM1821 4192l8-2 7 5-7 4zM2050 4184l10 12-14 5zM2013 4184l16 0 3 9-15 2zM1793 4184l-3 7-8 0-8 10-8 0-11-6 2-6-5-3 5-2 22 5 3-7zM1781 4160l6-7 9 2-3 6zM1993 4118l6-2 2 3zM1740 4109l5-3 12 2-7 9-4 0zM2037 4104l12 2-4 11-12-5zM1873 4105l9-2 4 3-8 3zM1771 4121l2-6 22-12 15 1 4 12 7-4 19 2 8-5 13 5-3 7-46 3-9-6-17 6zM1884 4071l12 7-3 6-14-1zM1730 4074l4-4 5 2-2 3zM1808 4070l9-4 10 11 4-5 7-1-1 6 7 6-12 2-15-3zM1748 4079l8-15 23 1 15 12-8-1-11 9-18 0zM1836 4042l3-3 7 3zM1746 4026l7-2 2 3zM1711 4027l12-2 0 10 11 8-14 1-2-11zM1950 4001l6-2 4 5-8 1zM1977 4000l3-3 14 1 4 4-8 3-12-2zM1859 3963l13-3 8 1 2 4-14 3zM1971 3957l3-3 6 2-2 3zM1827 3951l3-5 9 2-5 4zM1750 3952l12-7 11 0 5 4 1 7-20 4-7-2zM1850 3921l18-5 4 6-18 3zM1769 3883l-4 5-8-2zM1916 3880l12-5 12 7-16 5zM1830 3878l-1 8-5 3-18 0-7-7 23-8zM1891 3878l-17 2-7 7-29 0 3-3 18 0 10-5 8-11 5 0zM1746 3871l4-4 5 2-2 3zM1913 3783l2 3 6-2-2-3z"/><path class="s" fill-opacity="1.000" d="M1701 4444l1 9 13-4-2-4zM2284 4364l-1 4 4 2 2-5zM1826 4267l-4-2-4 5zM1619 4248l2 8 11-3-5-7zM2037 4186l-1 5 6 2 0-5zM1605 4092l-6-4-20 4-12-3-3 7 3 3 12-3 20 4zM1533 4093l7 7 8 0 7-5-7-7-10 0zM2033 4069l-2 3 5 2 1-4zM1573 4052l7 8 12-4-3-6-8-2zM1583 4011l1 9 23-2-3-8zM2100 3973l-2 4 3 2zM1554 3972l8 9 12-4-8-7zM1597 3933l3 8 16-4-11-7zM2077 3897l2 5 10 0 5-4-5-6-7 0zM1997 3871l-1 7 6 2 2-5zM2037 3858l7 6 12-1 3-4-7-7-11 1zM1656 3857l9 7 15-5-8-7zM1632 3892l-4 5 5 5 98 5 98-2 11 3 2 8 21-6 16 3 9 9-1 3-9-2-8 4-30-1-9-12-6 0-11 13-11 0-14-7-10 7-18-3-16 5-39-3-26 5-56 0-3 8 9 3 91 1 14 3 5 4 3 14-13 5-114 0-10 5-11-3-13 3 4 7 21-3 6 4 39 2 90-1 9 3 2 6 12-7 19 5 9-3 4 6 9-1 1 9 6-7 8 4-19 9-30-2-25 3-32-4-96 6-5 4 5 6 108 4 13 19-20 3-16-9-5 5-16 4-80 3-5 3 2 7 109 3 9 3 63-2 17 8 19-8 11 4 19 0 6 7 9 0 9 7 8-13-4-1-9 7-3-3 5-6 9-1 25 11-9 11-42-6-7 6-61-3-20 4-20-4-4-6-6 2 1 5-12 2-6-4 7-10-8-2-5 4 1 6-8 6-8-1-3-8-6-2-7 11-60 2-8 5 2 5 8 3 136 3 12 9 21-11 19 0 22 9 21-7 15 9-4 8-6 3-84 1-7-9-5-1-7 6-29 5-134 1-8 2-3 6 7 4 152 3 6 4 7 14-5 4-125 2-5 4 5 8 66 2 7 13 19-14 20 2 6 7 10-7 25 5 4-5 11-1 6 3-1 7 6 5 10-5 1-8 13-2 12 2 8 14 13-3 17 7-74 4-10-4-15 3-21-4-8 2-7-4-29 8-60 1-4 5 3 7 111 6 3 2-3 6 19-3 4-6 25 0-4 11 6 5-12 4-16 0-16-5-40 6-75 1-9 5 5 6 110 3 13 6 14-6 7 6-2 9 3 3 12-3 0-13 28-1 4 3-2 6 8 9-6 4-64-5-7 4-24-3-19 5-77 1-5 4 5 8 150 3 15 5 11-1-4 11-19 6-21 1-20-7-14 7-74 3-9 5-14-4-3 3 3 7 14-4 4 4 115 4 11 4-7 3 5 8 6-3 6 2 3 5-3 2-16-2-9 4-72 1-7 7 15 5 88 5-9 18-73 5-2 8 4 3 69 4 19-2 8 5-4 7 5 4 33 0-5 6-79 2-47 5 1 7 84 6 34-2 31 10 4 8-2 3-16-2-9 4-74 4 3 10 84 1 16 4-3 11 5 5-2 3-62 3-6 6 7 6 48 3 7 8 0 9 6-8 10-4 4 6-2 7-30 6-41 1-4 2 0 8 24 3 293-1 4-2-3-10-72-2-3-3 2-6 21-13 25-3 58 0 13-4 20 2 1-8-6-4-14 4-114-7-8-6 15-5 3-8 13 2 14-5 40-1 4-3 0-6-4-3-69-4-5-5 10-10 22-7 40-1 8-3 1-5-15-5-54-1-8-3-26 4-8-3 13-9-3-10 5-3 8 1 4 6-1 6 6 4 11-6 3-7 6 1 3 5 2-9 101-3 6-3-8-8-100-3-11-8-25-6-3-3 3-3 33-3 18 4 28-5 61-2 10-4 7 4 4-3-2-7-9 4-12-4-126-4-4-3-12 3-10-6-4-12 12-4 50 2 69-4 10-4 18 3 3-8-156-8 9-8-12-11 33 0 8 4 7-5 18-3 59 1 8-3 0-8-124-7-2-6 4-4 12 5 10-15 63-2 7-7-7-5-69-1-9-5 4-5-4-4-16 12-14 0-8-4 0-15 4-2 32 0 12 5 4-5 13-3 63-1 3-6-3-4-76-3-6-3-42 1-11-7-1-13 29 2 14-3 7 3 8-5 67-1 6-7-7-5-131-2-9-6 1-15 19-1 8 3 56-6 30 2 23-5 21 3 4-3 0-6-4-3-21 3-7-3-82-4-13-10 0-7 4-3 18 0 5 6-3 7 6 4 3-6-5-5 11-8 52-1 5-4-5-8-103-2-8-4 0-8-5 5-11-2 0-8 9-5 40 2 16-4 89-5-2-8-145-4-7-10 2-11 98-5 2-7-6-3-111-3-8-3 6-8 12 0 16-11 31 2 48-6 3-6-7-4-55-1-27-5 27-20 62-2 4-8-4-4-75-3-29-7 2-3 20 1-1-3-15-3-2-3 3-2 20 2 19-6 13 2 16-3 1-3-8-7-74-2-15-4-37 3-12-5 2-10 9-3 14 7 13-2 3 7 6 1 0-5 8-5-1-6 22 4 3-4 35-4 7-7-9-5-62-3-2-3 7-4-3-11-21 10 2 7-19 4-225 0-8 6 6 6 52 1 9 4 18-2 2 2-7 7 2 6-13 8-11-3-4-5 13-4-5-4-11 2-13 13zM1967 4547l7-2 2 4-8 1zM2037 4543l7 2-1 11-4-2zM1956 4499l25 3 3 4-5 9-16 2zM2002 4514l5-7 0-10 21 4-11 14zM2052 4498l-5 5-10-1 4-5zM2039 4475l16 1-12 2zM1908 4459l7-1 1 3zM1976 4432l5-2 5 6-8 0zM1992 4421l6-2 12 4 10-4 2 4-8 12-8 2-10-3 4-7zM1943 4396l9-2 7 3zM1948 4388l1-3 4 1zM1820 4385l6-1 14 13-8 2-7-3zM2013 4380l-3 8 6 8-16 2 5-16zM1988 4380l-11 17-14 0 9-17zM1844 4381l3-3 17 4 16-3 15 6-22 11-5-8-18 1zM1929 4355l2-3 3 2zM1822 4352l9-3 8 9-15 1zM1933 4340l2 5-4 6-3-9zM1894 4305l2-3 7 1zM1969 4309l2-5 17-3 4 5-13 8zM2023 4305l-7 14-14-1 6-17zM1874 4302l2 10-3 3-15 4-9-3 9-3 8-13zM1921 4301l1 3-7 6-10-3 5-7zM1960 4269l5-1 6 9-6 2zM1896 4266l9-1 4 7zM1876 4262l-11 10-6-2 7-8zM2027 4262l9-2 26 6-24 3zM1944 4236l9 2-8 1zM1849 4235l4-1 1 3-4 1zM1932 4234l4-2 3 3zM1842 4227l-5 12-13 2-3-3 4-9 12-4zM2003 4223l0 11-8 1-1-5zM1856 4224l4-3 22 3 14-3 4 2 2 10-12 1-16-7-14 1zM1921 4194l8-1-1 3zM1957 4190l4-3 13 2 9 10-5 1-2-4-8 0zM1901 4185l10-2 7 10-6 7-11 1 2-4-6-6zM1923 4186l3-4 10 2-5 6zM1801 4153l-1 8-4 2-24-2 14-10 11-1zM1900 4144l-9 6-12-4-11 11-5-1-9-11zM1834 4142l2 2-16 12-1 6-6-2 4-5-2-6 3-6zM1952 4111l-10 12-27-1-1-11 3-2 12 6 8-11 8 0zM2013 4114l-7 3 0 6-19-1-1-7-6-4-9 4-10-4 17-6 3 4 1-4 8-2 21 1zM1869 4105l15-3 6 7-14 2zM1933 4066l9 5-3 12-10-6zM1916 4040l4-4 10 2-3 5zM1809 4040l4-4 6 2-3 6-5 0zM1794 4041l-1 3-33-1 6-6 22-2zM1968 4029l9-3 14 16-13-2zM1865 4030l12-6 14 3-1 6zM1856 4042l-11 4-16-3 1-7-11-4-12 2-6-6-16-1 50-4 5 3 0 6zM1743 4025l12-2 6 4-14 3zM1947 4000l10-4 10 7-15 4zM1826 3992l5-5 13 2-14 5zM1994 3953l-8 4 8 8-28-4-4 4-17-1 7-4 0-5 14 0 9-6 14 0zM1885 3948l2 16-3 3-24 1-9-10 1-8 12 8 11-2-1-9 3-2zM1816 3961l9-4-2-9 3-3 25 3-12 6 8 5-12 6zM1743 3953l17-9 15 0 16 13 0-11 19 1-2 9-6-3-14 12-19-3-9 4zM1971 3914l7-1 1 3-7 1zM1943 3920l7-12 15 2-6 2-8 12zM1901 3885l-6 2-11-4-18 6-62 1-15-4 5-10 9 0 15-8 17 0-4 4 11 10 13 0 11-7 0-6 12-3 9 2zM1757 3817l3 7 10-3-7-7zM1787 3817l4 7 13 3 11-2 7-7-2-4-28-2zM1723 3815l2 9 10 1 6-5-10-8zM1656 3813l-2 8 10 2 2-8zM1828 3823l9 5 50-6 18 5 29-2 33 3 8-4 23 3 16-4 2-4-15-7-29 3-8-3-78 1-19-3-34 5z"/></g><path class="p" d="m996 1850-132 20 56 0 8 0 26 0 13 0 17 0 9 0 18 0 30 0 7 0-156 10 21 0 22 0 42-8 22 3-204 15 46 0 22 3 13-8 10 5 23 0 19 4 12-1 7-3 40-6 1 6 12 0 7 5 23-5 12 0 9 0 42 0-308 6 36 9 13-1 19-6 3 1 5 5 12 2 8-4 12 4 7-2 8-6 14-1 10 3 19-2 2 4 13-4 5 1 4 4 10-4 13-3 20 6 5 2-320 5 91 0 7 0 7 0 30 4 6 2 8 1 14 2 26-2 42-2 31 3 27 2 17 0 0-4 26-6 1 9 9-9 3 0 15 0-356 20 80 0 7 0 11-9 5 9 21-9 8 6 4-5 12 1 14 2 4-4 7 2 34 2 30 1 10-2 11-1 30-2 2 6 9-3 3 1 12-2 9-2 13 9 8 0 10 0 3 0-252 5 7-1 4 0 7 1 1 5 10 2 5-3 8 5 2-6 9-1 39 5 123-6 6 7 3-4-299 11 7 0 23 0 3 0 53 3 18 3 72-11 144 5 4 0 10 0 8 0-373 11 87-4 14 7 10 0 10-4 0-3 7 4 4 2 11 0 19 1 6-5 22-2 120 5 19 3-334 4 32 0 29 10 20-10 11 6 20-1 4 6 28 0 0-8 3 8 10-5 22 2 136-2 7 3 6 0 12 1 5-2 14-8 5 0 13 0-368 20 28 0 10 0 38-3 38-4 8 1 203-2 7 1 35 7 8 0 56 0-334 6 2 4 2 3 6 1 1-5 6-4 20 2 7-3 17 4 141-1 22-2 8 2 8 2 28 2-383 9 15 0 3 0 26 0 35 3 11 1 4 1 33-1 5 2 215-10 6 10 44-6 56 0-457 19 47 0 11 0 14-8 26 2 11 0 4 0 23 0 6-5 9 4 177-1 15-1 17 6 34 3 6 0 26 0 11 0-392 10 50-5 4 4 8 1 3-1 8-3 13 2 4-1 5-4 59 7 177-6 20 3-388 13 13 0 17 0 3 0 45-5 7 2 17-2 15-2 10 0 7 10 114-9 81 1 12 0 28 0 21 5 4 3 17-3 40-4-368 10 13 8 5-9 9 8 6-4 1 3 2-7 4 10 27-4 9 5 183-6 1 3 4-3 5-1 7-2 6 5 9 1-370 7 5 0 12 7 10-7 7 0 12 0 9 0 5 0 8 0 25 7 3-2 12-1 234 1 13 3 12-5 35-3 13 0-345 19 6 0 0-10 32 7 7-6 9 5 9-4 20-1 183 0 9 5 3-6 15 4 26 6 4 0 0-4 12-4 1 8 18 0 13 0 10-6 0 6-354 8 0 5 4-8 7-2 21 8 4 0 55-1 152-5 3 5 7-1 10-2 8-4 22 4-355 13 43 0 21 0 24 0 240 3 1-9 61 6-322 16 9-3 12-4 20 0 4 0 5 8 10-3 181 2 1-9 5 8 8 1 6 0 87-10-347 14 38 8 5 1 8 0 4-1 8-2 178-1 14-2 36-3-358 19 22 0 26-5 29 5 22-6 9 0 7 0 197-2 6 0 12-1 1 6 12-1 4-5 67 9-321 13 2-6 4 6 10-6 2 5 9-4 23 2 175-3 6 5 1-6 6 2 1 5 31-7 51 2-419 12 19 0 5 0 40 4 4-4 21 4 41 1 15 1 185-1 19-8 9 8 7-9 26 4 12 0-265 11 17 1 4 0 147-5 39 5 13 0 34 2-289 6 41 9 1-5 8 0 1 5 192-5 47-4-355 17 66 2 16 0 29-7 190-1 9 3 26 2 25 3 2-7-256 21 7-3 11 4 130 0 32-7 3 6 5-3 18-3 26 2 13 1 10-2 3-1 14-1-318 13 12 0 212 5 40 2 39-7 5 0-248 13 11 2 2-5 152 3 21 3 3-7 8 7 15-3 2-5 19 7 2-5 25 3-291 7 11 0 5 0 7 0 13 6 21 2 11 2 130-1 10 2 0-5 16-6 3 9 16-9 1 10 25-2 1-3 10-5 6 3 1-3 3 7 1-7-295 19 34 0 3 0 16-7 173 2 54-2 6 2 2 5-256 9 34-3 10 3 102 6 20-2 8 2 6-9 6 4 11-2 2 5 22-3 12-3 8-1 2 6 8-4 8 3-58 9 5-1 31 1 9 0 17-1"/></g><rect class="ax" x="677.40" y="1828.80" width="491.90" height="476.00"/><text x="699.76" y="2335.50" font-size="21.30" text-anchor="middle" textLength="33.12" lengthAdjust="spacingAndGlyphs">0.0</text><text x="789.20" y="2335.50" font-size="21.30" text-anchor="middle" textLength="33.12" lengthAdjust="spacingAndGlyphs">0.2</text><text x="878.63" y="2335.50" font-size="21.30" text-anchor="middle" textLength="33.12" lengthAdjust="spacingAndGlyphs">0.4</text><text x="968.07" y="2335.50" font-size="21.30" text-anchor="middle" textLength="33.25" lengthAdjust="spacingAndGlyphs">0.6</text><text x="1057.50" y="2335.50" font-size="21.30" text-anchor="middle" textLength="33.00" lengthAdjust="spacingAndGlyphs">0.8</text><text x="1146.94" y="2335.50" font-size="21.30" text-anchor="middle" textLength="33.12" lengthAdjust="spacingAndGlyphs">1.0</text><text x="662.82" y="2291.16" font-size="21.30" text-anchor="end" textLength="26.50" lengthAdjust="spacingAndGlyphs">10</text><text x="662.82" y="2192.82" font-size="21.30" text-anchor="end" textLength="26.50" lengthAdjust="spacingAndGlyphs">15</text><text x="662.82" y="2094.47" font-size="21.30" text-anchor="end" textLength="26.50" lengthAdjust="spacingAndGlyphs">20</text><text x="662.82" y="1996.12" font-size="21.30" text-anchor="end" textLength="26.50" lengthAdjust="spacingAndGlyphs">25</text><text x="662.82" y="1897.78" font-size="21.30" text-anchor="end" textLength="26.50" lengthAdjust="spacingAndGlyphs">30</text><path class="tk" d="M699.76 2304.80v7.29M789.20 2304.80v7.29M878.63 2304.80v7.29M968.07 2304.80v7.29M1057.50 2304.80v7.29M1146.94 2304.80v7.29M677.40 2283.16h-7.29M677.40 2184.82h-7.29M677.40 2086.47h-7.29M677.40 1988.12h-7.29M677.40 1889.78h-7.29"/><text x="923.35" y="1816.90" font-size="25.60" text-anchor="middle" textLength="451.25" lengthAdjust="spacingAndGlyphs">hull_area_to_bbox_ratio vs Difficulty</text><text x="923.35" y="2363.70" font-size="21.30" text-anchor="middle" textLength="246.50" lengthAdjust="spacingAndGlyphs">hull_area_to_bbox_ratio</text><text transform="translate(624.00 2069.80) rotate(-90)" x="0" y="0" font-size="21.30" text-anchor="middle" textLength="93.50" lengthAdjust="spacingAndGlyphs">Difficulty</text><g clip-path="url(#c14)"><g transform="scale(.5)"><path class="s" fill-opacity="0.210" d="M3243 4466l-6 4-2 8 4 6 10 2 6-4 2-8-4-6zM2767 4085l-5 6 5 12 10 2 10-6 1-8-5-6zM2595 3769l-6 4-2 9 14 13 0 11-11 10 10 29-13 5-3 11 13 12-4 11-14 10 1 8 10 7 3 12-17 12 1 8 12 7 4 8-15 16 10 29-12 11 10 23-12 19 11 26-11 12 2 8 7 6 2 13-10 15 11 25-11 8-1 7 13 22-12 14 8 18-8 25 12 10-4 6 1 9-8 7-1 8 13 11 2 11-15 13 8 26-7 18 10 9-5 6 1 10-5 4-2 10 12 11 5 10-17 13 2 10 11 14-13 19 4 7 11 5 0 13-12 7-2 8 5 7 9 4 2 14-12 4-5 11 5 7 10 3 135-1 10-5 0-12-10-5-22-1-1-15 10-2 13 3 11-7 3-8-7-9-21-1-13-5-3-11 24-3 5-12-9-8-15 0-8-15 30 0 7-5 2-7-10-11-23-2-2-15 28-2 10-8-5-12-26-8 0-7 40-4 9-8-1-8-8-6-37-1 2-12 43-5 6-5 1-8-10-8-28-2 2-8 20-14 1-8-11-9-21 0-1-8 7-8 19-2 5-12-7-7-16-2-3-7 4-9 19-2 5-12-15-10-17 1-10-15 42-2 9-6 1-8-10-8-19 1-23-5 6-12 31-1 8-6 0-10-21-15-9-1-10 9-6-1 8-13 28-2 8-6 1-7-9-9-23-1-7-13 1-3 22-4 4-6-2-8-16-11-14 5-9-3 8-12 17-1 9-9-5-11-18-5 2-11 30-4 6-7 0-6-9-8-22-1-10-13 12-5 14 0 6-4 2-8-8-8-35-3 22-24-5-11-12-4 2-8-3-6 18-2 7-12-10-9-35-2 6-14 11-5 4-10-21-22-4-16-14-10z"/><path class="s" fill-opacity="0.241" d="M3245 4468l-6 10 8 6 6-10zM2772 4085l-7 6 0 6 7 6 6 0 7-6 0-6-7-6zM2606 3769l-10 2-6 6 1 8 12 9 0 12-11 11 10 29-11 3-5 6 1 8 11 6-2 15-15 11 1 6 11 8 2 13-13 6-4 6 2 8 11 5 4 8-15 18 1 7 7 7 2 15-10 7-2 8 11 17-13 20 12 27-12 11 2 8 7 5 3 15-11 12 11 28-10 6-2 8 13 21-12 15 9 19-9 23 13 11-5 8 1 8-8 6-1 8 13 11 2 12-15 12 9 26-8 12 0 6 11 9-6 8 2 8-7 6-1 8 12 10 6 11-18 13 2 10 11 12-1 8-10 7-1 8 15 9 0 15-11 4-4 10 4 6 10 4-1 8 4 8-13 4-4 11 13 8 124 0 14-3 4-4 0-8-6-5-25-2-3-15 6-4 23 1 7-6 1-8-9-7-12 1-19-5-4-13 4-3 18 1 6-4 2-8-8-8-16 1-9-17 6-3 26 1 6-5 1-7-7-7-26-3-2-17 29-2 10-9-5-9-26-8 0-9 40-4 8-6 1-6-9-8-37-1-1-4 4-11 39-3 8-5 1-8-9-7-31-2 5-11 15-8 6-10-11-10-23-1 1-10 5-6 17-1 9-9-5-9-16-2-6-9 5-10 20-3 3-10-11-8-20 0-4-9-11-8 46-2 10-6 1-6-11-8-44-2 9-16 31-1 7-4 0-12-21-13-7 1-7 7-11-2 9-14 29-2 6-4 2-8-8-8-24-1-8-15 23-6 4-5-4-11-13-7-10 4-10 0-4-4 9-13 18-1 8-8-6-11-17-4 2-13 28-3 7-5 1-8-8-7-22-1-12-14 13-6 16-1 5-6-5-10-37-4 22-26-6-10-13-3 3-9-4-6 20-3 6-6 0-6-6-6-39-4 7-16 13-7 0-8-11-8-8-11-5-17-8-7z"/><path class="s" fill-opacity="0.317" d="M2772 4087l-3 11 9 3 3-11zM2608 3770l-11 3-4 5 0 6 11 8 1 15-11 9 10 30-12 4-5 7 2 6 12 9-3 12-15 11 1 6 11 8 2 13-17 12 2 8 13 7 1 10-14 13 1 8 8 8 1 15-11 7-1 8 11 16-13 18 12 29-12 10 0 6 10 9 2 13-11 12 11 29-11 7-1 8 13 20-12 15 9 18-9 25 13 10-4 7 1 8-9 7-1 8 13 11 1 14-14 9 9 27-8 12 0 6 11 10-5 8 1 7-8 7-1 6 14 12 5 11-19 13 2 8 12 13 0 8-10 6-2 9 15 9 0 15-11 4-4 11 14 9 3 15-13 5-4 11 10 7 125 0 12-3 3-10-5-5-26-3-2-17 29-2 7-5 1-7-5-6-35-4-5-14 7-5 17 1 7-11-7-7-16 1-10-19 33-3 5-10-7-6-24-3-3-18 29-3 9-6 0-6-5-5-25-7 0-11 41-4 6-4 1-8-7-6-37-1-3-3 7-15 37-2 8-5 1-6-9-7-34-3 11-15 16-8 1-8-9-7-24-2 3-15 21-3 7-6-3-10-16-2-9-9 5-11 20-3 4-10-6-6-24-1-8-14-12-2 7-4 49-2 5-5 0-6-5-5-49-4 11-17 30-1 7-5 0-8-23-13-10 7-14-3 8-14 31-3 7-11-7-7-26-2-7-15 3-4 19-2 5-6-1-6-11-7-23 1-6-3 0-4 10-12 18-1 7-7-5-10-18-4 2-14 4-3 26-1 5-4 1-8-6-6-25-2-12-14 3-4 26-4 4-9-4-5-36-5 8-14 14-11-5-10-16-4 3-4-3-12 19-2 8-7-1-6-7-5-37-3 7-17 12-7 0-8-11-8-13-28-7-6z"/><path class="s" fill-opacity="0.390" d="M2615 3770l-18 7 10 23 0 6-11 9 9 32-11 3-5 6 1 6 12 7-3 16-9 4-5 10 11 9 3 13-17 12 1 8 13 7 2 16-10 3-5 7 2 7 8 6 1 16-13 11 1 5 11 9-3 15-10 8 1 10 6 5 5 15-13 12 1 5 10 7 2 16-10 7-1 8 11 25-8 3-5 10 9 10 5 13-13 14 10 14-9 29 12 7-2 18-10 7-1 6 13 11 3 12-16 14 11 26-10 16 13 9-2 8 3 3-14 12-1 8 15 12 4 12-19 10 1 8 13 13 0 9-12 9 0 6 15 8 0 17-11 3-5 9 5 7 10 3 3 18-14 4-4 8 9 8 126 0 10-5 0-8-5-4-23-2-7-18 16-4 17 1 6-3 2-7-5-6-42-5 4-7-7-7 17-7 13 2 6-10-6-6-13 2-9-5-6-15 6-4 26-2 3-7-4-6-24-4-1-19 32-4 4-5-4-9-25-7-2-11 16-5 28-1 6-5 0-6-6-5-40-2-2-8 9-11 40-3 4-9-7-6-43-3 9-4 0-5 6-4-1-5 15-2 7-7-5-10-27-2-3-16 14-5 14 0 5-5 0-6-5-5-25-5-21 1 16-9 5-7 25-5 4-11-26-4-9-13-11-1-2-4 43-9 15 1 0-10-4-2-11 3-17-6-19-1 10-18 31-2 7-6-4-9-12-4-28 1 0-14 12-6 26-1 5-5 0-6-8-6-25-2-7-14 2-5 22-4 1-11-10-5-25 0-5-10 10-9 20-2 6-6-4-9-20-5-1-7 4-7 6-4 25-1 6-9-9-8-22-1-13-14 3-6 20-5 0-10-31-7 7-15 11-4 5-6-5-10-18-3 3-3-2-14 25-5 1-11-43-7 7-17 10-6 1-7-12-11-6-17-11-14-13-4zM2691 4302l12-2 2 3-9 2z"/><path class="s" fill-opacity="0.480" d="M2615 3771l-14 5 8 30-10 7-2 6 6 9 4 18-14 6-2 9 11 6 2 5-3 13-14 9 0 6 11 8 2 15-17 11 4 9 10 4 4 16-16 10 1 7 10 9 0 14-12 8-1 6 12 10-3 16-11 9 1 8 8 7 3 17-12 7 0 6 12 10 1 12-12 12 12 27-1 4-12 7 1 8 12 15-1 9-11 8 1 8 10 7-3 16-8 13 15 11-3 14-12 9 1 8 12 8 2 15-15 9 1 8 9 8 1 11-9 10-1 8 13 8-2 6 4 6-16 12-1 6 15 11 4 11-1 6-12 2-6 6 3 9 12 11 0 10-12 8 0 6 15 8 0 17-11 3-5 5 0 6 15 8 4 17-15 5-4 8 4 6 10 2 120-1 7-5-2-9-27-4-2-9-14-10 45-4 4-3-2-8-42-6 1-11-8-5 21-8 13 2 4-10-4-4-13 2-10-5-7-14 5-6 23-2 6-5-3-7-25-7 2-18 31-6 0-8-23-8-5-13 13-5 33-2 4-4-4-10-43-3-1-10 12-10 35-2 4-3 0-8-4-3-42-2-1-13-10-6 5-3 35-1 5-4-3-11-27-2-14-14 2-5 37-4 4-5-1-6-22-6-24 1-5-3 13-10 2-6 32-8-3-9-23-4-4-9-9 0-5-5 3-6 33-3 7-6-6-8-28-2-2-4 7-14 39-8 0-8-10-5-33-1-2-11 4-7 36-3 6-5 0-6-6-5-24-1-7-6-1-7-7-3 8-6 20-3 2-10-9-5-27-1-6-10 14-10 19-2 5-5-3-8-25-6-1-4 8-11 10-4 23-1 4-9-7-6-27-3-15-17 26-9-7-10-23-4 6-16 18-9-4-10-20-4 3-4-2-13 24-5 3-9-5-4-27-1-11-4 7-18 9-5 1-8-16-13-2-14-14-15z"/><path class="s" fill-opacity="0.596" d="M2615 3772l-11 6 7 29-12 9 6 12 3 19-13 5-3 5 3 7 10 4-2 17-14 9 0 6 11 7 2 16-17 11 3 8 11 5 4 18-16 7 1 8 10 8 1 15-14 9 0 6 13 9-4 16-11 9 0 6 9 8 4 17-14 10 4 8 10 5 0 16-12 8 0 6 12 20 0 5-14 9 1 6 13 13 0 11-13 11 2 6 11 7-3 16-8 7-1 6 15 10-3 16-13 10 2 6 11 7 3 17-12 4-4 6 12 14 1 13-12 14 14 10 2 11-3 7-13 6-1 6 15 10 4 12-2 7-13 2-4 4 2 9 14 13 0 9-9 4-4 9 15 9 0 17-14 5-3 7 3 5 13 5 5 17-15 5-5 8 9 7 117 0 10-4 0-8-27-5-3-9-15-11 34-5 9-6-12-7-25-2-2-10-11-8 23-5 9-6-19-13-3-15 7-4 21-2 4-4-5-8-23-5 0-10 5-10 22-2 6-4-2-8-21-7-4-14 49-10-3-9-45-4 1-10 11-10 38-4 1-9-46-5-1-13-10-6 9-4 33-1 5-7-5-7-32-4-8-13 6-6 33-3 3-10-50-7 14-18 17-2 13-7-6-7-32-4-4-18 9-4 28-2 3-3-3-9-26-2-4-4 7-17 37-6 0-8-4-3-37-3-2-11 3-6 25-6 14 1 5-9-5-5-26-2-10-12-7-2 6-7 24-4 3-8-7-6-24 0-9-5-3-8 17-10 17-2 2-10-34-6-1-3 20-17 30-3 3-9-5-4-33-4-17-17 30-8-4-10-24-5 5-16 20-9-4-10-21-4 3-4-3-13 24-6 1-9-34-4-6-6 5-14 12-9 0-7-20-9 4-6-3-12-12-13z"/><path class="s" fill-opacity="1.000" d="M2616 3773l-9 7 7 26-13 10 7 12 2 20-16 9 4 7 9 4-1 15-15 11 0 6 11 7 2 17-17 11 4 7 10 5 5 17-15 6-3 5 12 12 1 17-11 5-3 9 11 6 3 7-5 13-12 10 2 6 8 5 4 19-11 4-3 8 15 10 0 15-11 6-3 7 15 23-3 6-13 7 1 6 13 12 0 13-10 5-3 8 14 11-2 13-10 9-1 6 16 11-3 15-14 9 1 6 12 7 4 15-2 5-10 2-5 5 1 6 12 7 0 17-12 12 15 10 1 15-13 6-4 10 16 9 3 18-16 4-3 9 11 7 5 8 1 10-13 8 0 6 14 7 2 16-4 5-11 2-4 7 17 10 5 16-1 4-16 3-3 9 6 4 117 0 8-6-4-7-24-3-2-8-10-4-6-8 33-6 2-9-29-5-13-19 23-4 7-6-6-8-17-4 1-13 7-7 22-4-1-9-20-4-5-12 7-10 21-2 8-5-2-7-22-6-4-16 38-7 5-4-5-6-32-3-9-4 8-13 15-7 22-2 3-7-8-4-31-3 1-10-11-6-1-4 13-4 31-1 3-7-4-5-30-3-9-12 1-8 33-6 2-6-10-5-26 0-9-4 8-15 9-5 16-1 6-7-2-5-31-4-4-6 0-14 37-6 2-7-3-4-22-1-8-5 8-18 31-3 6-5-6-8-39-3 4-18 28-6 13 1 3-9-3-3-25-2-22-14 0-8 33-4 3-10-36-5-6-6 0-9 32-10 2-8-38-8 10-10-1-8 44-5 1-9-39-5-9-13-15-6 4-3 31-2 6-4-4-9-20-2-9-7 10-14 16-3 5-5-3-8-24-5 1-14-3-3 20-6 4-6-36-11-7-14 18-7 5-12-26-6 8-11-8-8 2-4-10-11z"/></g><path class="p" d="m1339 1850-18 20 37 0-23 20 5 11-40 11 49-3-55 20 44-9 0 3 8-1 11 7-58 12 2-3 54 11 157 1-156 8-4 16 18-6 14 1 0 4 17-4 111 0-213 12 85 7 34 0-63 8 71 12 86 0 8 0-176 15 2-7 11 5 10 6 5 0 7 0 160-9-185 20 2-4 18 5 39-11 1 10 7-10 92 0 12 11-231 11 76-3 13 0 9 0 6 0 15 0 12 0 63 0 25 0 6 0 34 0-202 16 6-3 2-7 159 4 58-3-184 13 96 0 25 5 5 3 7-8 14 0 15 7 69-2-327 10 52 1 162-6-216 12 54 0 5 1 86-2 7 0 11 0 4 0 24 0 24 6 19-6 11 8 15-8 22 4-202 17 9-3 27 0 22 0 36 0 5 0 12-5 0 9 33-4 7 0-174 12 16-4 51 3 121-2 15 4-257 14 59-3 34-4 36 0 11 0 6 0 42 7 3-7 21 0 4 3 5 2 58 0-215 10 9 4 10 0 59 1 8 0 41 0 37 0 11 0 87-2-325 12 50-7 3 10 9-7 125-1 91 0 0 4-143 10 6 0 12 0 4 0 9 0 49 0 26 0 15 0 15 0 54 0-271 12 2-2 159 6 63-6-281 18 56-2 5-3 24-3 33 0 17 0 9 0 8 0 8 0 1 5 32-5 9 7 21-2-162 10 21 4 41 2 21-1 24 0 1-5 24 5 9 0 13 0 15 0-228 14 49-8 4 6 74-7 8 0 7 5 74 0 0 3 41-8-130 14 17 0 14 0 8 0 87 4 4-4 15 0 54-3 117 3-311 10 22 0 14 0 43 0 5 7 56-7 54 0 0 7-211 3 7 0 20 10 12-10 0 5 14 5 20-10 22 5 62-5-148 20 15 0 3 0 7 0 5-5 7 5 39-8 12 8 45 0 69 0-262 15 77 0-86 1 16 3 25 0 19 1 11 0 15 0 10 0 27 0 79 0 15 0"/></g><rect class="ax" x="1270.80" y="1828.80" width="491.90" height="476.00"/><text x="1291.48" y="2335.50" font-size="21.30" text-anchor="middle" textLength="13.25" lengthAdjust="spacingAndGlyphs">0</text><text x="1380.03" y="2335.50" font-size="21.30" text-anchor="middle" textLength="53.00" lengthAdjust="spacingAndGlyphs">1000</text><text x="1468.58" y="2335.50" font-size="21.30" text-anchor="middle" textLength="53.00" lengthAdjust="spacingAndGlyphs">2000</text><text x="1557.13" y="2335.50" font-size="21.30" text-anchor="middle" textLength="53.00" lengthAdjust="spacingAndGlyphs">3000</text><text x="1645.68" y="2335.50" font-size="21.30" text-anchor="middle" textLength="53.00" lengthAdjust="spacingAndGlyphs">4000</text><text x="1734.23" y="2335.50" font-size="21.30" text-anchor="middle" textLength="53.00" lengthAdjust="spacingAndGlyphs">5000</text><text x="1256.22" y="2291.16" font-size="21.30" text-anchor="end" textLength="26.50" lengthAdjust="spacingAndGlyphs">10</text><text x="1256.22" y="2192.82" font-size="21.30" text-anchor="end" textLength="26.50" lengthAdjust="spacingAndGlyphs">15</text><text x="1256.22" y="2094.47" font-size="21.30" text-anchor="end" textLength="26.50" lengthAdjust="spacingAndGlyphs">20</text><text x="1256.22" y="1996.12" font-size="21.30" text-anchor="end" textLength="26.50" lengthAdjust="spacingAndGlyphs">25</text><text x="1256.22" y="1897.78" font-size="21.30" text-anchor="end" textLength="26.50" lengthAdjust="spacingAndGlyphs">30</text><path class="tk" d="M1291.48 2304.80v7.29M1380.03 2304.80v7.29M1468.58 2304.80v7.29M1557.13 2304.80v7.29M1645.68 2304.80v7.29M1734.23 2304.80v7.29M1270.80 2283.16h-7.29M1270.80 2184.82h-7.29M1270.80 2086.47h-7.29M1270.80 1988.12h-7.29M1270.80 1889.78h-7.29"/><text x="1516.75" y="1816.90" font-size="25.60" text-anchor="middle" textLength="410.88" lengthAdjust="spacingAndGlyphs">path_length_vertical vs Difficulty</text><text x="1516.75" y="2363.70" font-size="21.30" text-anchor="middle" textLength="212.62" lengthAdjust="spacingAndGlyphs">path_length_vertical</text><text transform="translate(1217.40 2069.80) rotate(-90)" x="0" y="0" font-size="21.30" text-anchor="middle" textLength="93.50" lengthAdjust="spacingAndGlyphs">Difficulty</text><g clip-path="url(#c15)"><g transform="scale(.5)"><path class="s" fill-opacity="0.210" d="M4530 4555l-8 5-2 8 7 8 8 1 8-5 2-8-7-8zM4429 4563l1 8 10 6 12-1 8-8-2-8-9-5-13 1zM4577 4516l-7 5-2 10 5 7 10 2 7-5 2-10-5-7zM4450 4523l1 8 10 6 16-4 9 4 13-3 25 3 10-8-1-8-9-6-23 3-40-3zM4536 4485l2 8 8 5 49 0 10-8-1-8-9-6-49 0zM4661 4467l-6 7 1 8 8 6 9-1 6-7-1-8-8-6zM4521 4447l10 12 37 0 9-8-1-8-8-6-37 0zM4538 4397l-9 6-1 8 5 6 10 2 9-6 1-8-5-6zM4663 4364l-8 8 5 13-6 14 6 11 10 2 7-5 3-8-6-14 5-13-4-6zM4665 4319l-9 6-1 8 5 6 9 2 9-6 1-8-5-6zM3781 4327l1 8 9 6 29-3 23 3 11-9-2-8-9-5-19 3-33-3zM3792 4281l-5 6 5 12 10 2 10-6 1-8-5-6zM4664 4271l-9 8-1 11 7 9 9 1 9-7 1-10-6-10zM4663 4241l-6 4-2 9 4 6 12 2 6-4 2-9-4-6zM3835 4246l-8-8-17 5-21-3-7 5-2 8 9 9 20-3 13 3 11-7zM3783 4205l-3 8 7 9 13 0 7-8-7-12-10-1zM4665 4170l-10 8 1 8 9 6-11 11 1 25 5 7 10 2 9-9 1-25-11-11 9-6 1-8-5-6zM4664 4097l-9 9 0 8 5 7-5 8 5 12-5 13 4 6 12 2 8-8-5-12 5-8-5-12 5-16-5-7zM4561 4083l-8 5-2 8 7 8 8 1 8-5 2-8-7-8zM4519 4052l2 8 8 5 39 0 11-8-1-8-10-6-39 0zM4664 4031l-10 10 2 7 8 6-8 8-1 15 5 6 9 2 10-8-1-15-8-8 8-6 2-7-6-8zM3848 4012l1 8 9 6 11-1 8-8-2-8-9-5-11 1zM3809 3967l-5 6 5 12 10 2 10-6 1-8-5-6zM3849 3891l-2 8 8 8 14 1 10-8-1-8-9-6-14 1zM4509 3847l-9 6-1 8 5 6 9 2 9-6 1-8-5-6zM4418 3812l-2 8 10 9 11-1 8-8-2-8-9-5zM4290 3773l0 12 15 13 11 2 6-4 1-11-17-14-10-2zM4356 3770l-5 6 5 12 10 2 10-6 1-8-5-6zM4243 3776l-5-6-9-2-13 9-16 1-4 10 8 8 25 7 6-4zM3891 3850l-4 10 8 8 15-6 11 7 42 0-6 16-39 1-8 5-2 8 10 9 30 0 9 5 22-4 2 14-42 1-15 5-8-4-35 0-10 9 2 8 8 5 35 0 8-4 15 5 27 0 9 8-15 8-97 1-9 6 0 10 9 6 61 0 10 5 15-4 19 11 12 1-6 4-69 2-5 6 5 12 53 4 1 12-73 3-9 6-1 8 10 8 92 1 12 9-6 7-10 0-5-9-10-2-13 5-5 6-73 1-9 6-1 8 7 7 25 4 26-3 78 1 6 8-31 7-101 3-5 11 7 8 93 2 4 3 1 11-87 4-31-2-12 9 4 10 8 3 113 1-1 14-16-1-40 6-11-4-34 5-16-3-9 6-1 8 10 8 59-3 5 3 34 1 7 5 13-5 17 0 6 7-1 8-34-3-22 4-63 0-9 6-1 8 10 8 91 1 12 13 16-4 5 5-93 2-11 10-10-9-12 1-5 6 0 7 12 10 10-2 5-8 11 7 28 0-2 18-33 0-8 6-1 8 9 8 46 0 3 2 0 11-4 3-145 1-9 8 1 8 8 6 108 0 6 4 0 5-11 0-9 8-14 5-11-5-25 0-9 4-10-4-26 0-9 6-1 8 7 7 17 2 1 14-9 0-9 9 2 10 6 5 36 1 9 4 35-5 80 2 2 8 8 7-59 2-20-8-11 12-9-5-62 0-10 9 7 12 58 4 17-8 8 5 90 2-12 11-47 7-19-3-3-10-6-4-10 2-6 12-74 0-10 9 2 8 8 5 30-1 13 5 14-2 9 11 10-2 11-11 22 0 5-3 21 4 80 0 3 16-22-9-11 9-51 1-3-11-12-4-18 15-14 0-9 6 0 10 9 6 24 1 13-4 23 4 449-1 10-3 4-6-2-8-6-4-98-4 3-14 32 3 9-4 28 0 9-5 14 4 9 8 9 0 8-5 10 1 8-7-1-10-11-8-16 0-9 4-14-3-7 4-9-5-42-1 0-15 70-1 11-8-1-9-10-8-22 3-22-5-6 4-10 0-6-10 3-5 24 2 66-6 9 3 10-3 31 3 11-5 16 6-7 5-4 11-17 0-7 4-9-4-35 0-9 7 0 8 6 6 9 2 29-1 9-4 7 4 22 2 16-5 4-6 2-19-4-7-9-4 10-8-5-12-20-3-6 4-9-3-31 3-6-3-10 2-8-6-18 2 8-15 59-1 10-5 15 5 9-6 0-10-9-6-15 5-10-5-45-1-5-7-14-3 14-4 49-2 23 4 7-4 26 0 8-4 13 4 10-6 0-10-10-6-13 4-8-4-115-2-6-12 129-4 20 3 12-8 1-8-10-8-113-1-9-16 41-3 45 2 9-6 0-10-9-6-45 2-51-3-8-8-15-2 8-5 85-1 10-9-2-8-8-5-86-1 7-15 91-1 10-8-1-8-9-6-67-1 0-7-7-9 62-1 9-7 11 7 11 0 10-8-1-8-9-6-11 0-11 7-9-7-60-3-8-8 3-5 103-1 10-8-1-8-9-6-67-1-21-14 82-2 10-6 1-8-11-8-92-1-2-7 4-3 22 1 9-8 37 0 10-10-10-12-53 0-12-11 4-5 30-2 73 1 9-6 1-8-10-8-111-1 4-16 64-2 5-6-5-12-109-3-15-13 3-3 72-1 11 3 12-9 0-10-9-6-102-2 6-4 4-11 96 0 9-5 0-12-9-5-77-1 8-15 36-4 4-7-4-9-6-3-63 1-21-5-17-9-21 0 15-5 8 3 43-3 9-6 0-10-9-6-18-2-37 2-39-3-7-17 0-10-8-8-12 4-5 15 7 19-15-5-27 5-20-7-19 6-35-1-4-5 8-5 9 8 9 1 10-10 10 0 6-4 2-8-4-6-21-8-14 5-9-5-15 0-12 6-16-6-11 10-16-5-10 10 4 13 13 1 11-11 17 3 3 8 10 5-2 4-26 0-13-5-14 6-61-1-10 4-33-3-9 5 0 12 9 5 30-1 2 18-75 1-11 7-9-6zM3980 4500l12-1-1 9zM3982 4471l4-11 22 6-9 9zM4389 4435l-30-1 25-13zM3869 4436l7-8 0-10 53 2 10 3 9 8 16 2-20 4zM3825 4423l15-5 12 1 0 9 7 8-17 1-14-4zM4371 4385l7 2-5 8-3-1zM4013 4385l-1 11-35-1 14-9zM3953 4381l6 1-1 6 5 8-8-2zM3944 4317l3-5-2-10 22 3 16-2-13 15zM4005 4187l13 0 12 6-19 5zM4414 4185l-7 15-16-3 11-12zM4406 4117l11-9 8 12zM4396 4073l1-7 19 1-11 6-3 9zM4396 4040l6-13 16 0 11 10-7 5zM4395 3995l6-7 13 0 2 14-21 1zM3995 3949l1 3-5 2zM3982 3873l23-3 2 14-19 1zM4361 3883l3-11 11-4 5 11 7 5-11 2z"/><path class="s" fill-opacity="0.241" d="M4529 4557l-5 4-1 8 6 6 7 0 5-4 1-8-6-6zM4432 4563l0 6 7 6 11 0 7-7-7-11-11 0zM4578 4518l-7 6 0 8 11 6 7-6 0-8zM4453 4523l0 6 7 6 16-4 12 5 10-4 11 4 16-1 7-8-5-9-14-2-12 4-13-4-10 5-14-5zM4539 4484l0 6 6 6 13-3 10 4 28-1 7-7-7-11-28-1-9 4-14-3zM3796 4484l1 8 7 5 54 2 15-10-7-11-62-1zM4664 4468l-7 10 5 7 8 1 7-10-5-7zM4517 4469l-6-7-7 0-5 4-3 11-18 0-9 6-8-5-20 2-15-3-7 5-1 8 8 7 35-1 6-5 11 6 28 0 9-7zM4524 4446l2 8 8 4 32 0 9-8-1-6-8-6-32 0zM4537 4399l-5 4-1 8 6 6 7 0 5-4 1-8-6-6zM4491 4399l-7 11 5 6 8 1 7-10-5-7zM4665 4365l-8 8 7 11-7 8 0 10 6 7 6 1 8-8 0-10-7-7 7-12-4-6zM4664 4321l-7 10 5 7 8 1 7-10-5-7zM3851 4328l-5-6-8-2-14 5-9-4-12 3-13-3-5 4-1 8 6 6 12-3 13 3 9-4 14 5 8-2zM3868 4281l-6 5-1 7 6 7 9 2 6-5 1-7-5-7zM3797 4281l-7 6 0 6 7 6 6 0 7-6 0-6-7-6zM4665 4273l-8 7-1 9 5 8 10 1 5-4 2-10-6-10zM4665 4242l-6 4-2 7 4 6 8 2 6-4 2-7-4-6zM3832 4246l-6-6-15 5-20-4-9 11 9 9 18-4 14 3 8-6zM3792 4202l-8 5-1 8 12 7 8-5 1-8zM4663 4195l-7 9 1 21 6 9 6 1 7-6 2-25-7-9zM4664 4172l-7 10 5 7 8 1 7-10-5-7zM4509 4167l0 10 9 5 11-2 5-7-1-5-9-6zM4665 4099l-8 8 0 7 7 7-7 10 7 10-7 12 4 6 8 2 8-8-7-11 7-10-7-10 7-8 0-7-4-6zM4560 4085l-5 4-1 8 6 6 7 0 5-4 1-8-6-6zM4666 4056l-7 8-2 11 5 7 8 1 7-11-4-12zM4522 4051l1 8 7 5 39-1 7-6 0-6-7-6-39-1zM4663 4033l-6 6 0 7 7 6 6 0 7-6 0-7-6-6zM3861 4005l-10 6-1 6 12 8 7-2 5-10-5-6zM3814 3967l-7 6 0 6 7 6 6 0 7-6 0-6-7-6zM3852 3892l-1 8 5 5 14 1 6-6 0-6-6-6zM3897 3850l-6 10 8 6 6-10zM4508 3849l-7 10 5 7 8 1 7-10-5-7zM4429 3808l-9 5-1 8 12 7 9-4 2-8-3-5zM4075 3775l-8 12 5 8 7 1 9-6 2-7-4-6zM4296 3772l-4 5 2 8 13 12 10 0 4-5-1-7-18-13zM4361 3770l-7 6 0 6 7 6 6 0 7-6 0-6-7-6zM4241 3777l-5-6-8-1-12 9-12 0-4 9 6 6 21 7 7-6zM4099 3771l-5 8 7 9 10-1 4-6-2-7-5-4zM3961 3810l-5 10 7 7 25 1 8-4 0 16 6 7-79 1-8 4-2 9 10 7 85 1 3 16-26 1-6-13-10-2-10 15-39 1-8 5-1 8 9 7 24-1 14 5 23-3 0 10 4 6-52 2-9 6-10-6-34 1-5 4-1 8 6 6 34 1 10-6 9 6 35 1 10 8 7-1 8-7 5 1 1 4-37 13-97 1-8 5-1 8 9 7 61 0 10 4 15-3 19 10 13 0-1 5-6 3-66 0-8 8 1 6 7 6 49 1 4 17-74 1-9 5-1 8 10 7 90 1 10 5 3 6-6 7-15 0-5-9-8-1-19 11-69 0-9 6-1 6 7 7 22 3 106-1 8 5 0 5-37 8-95 1-6 8 6 10 94 2 5 3 1 13-123 3-7 7 5 10 120 3-3 10 2 7-54 2-7 4-9-5-34 5-14-4-9 6-1 6 10 8 9-3 28 3 19-5 8 5 30 0 11 5 9-4 21 0 7 9-2 8-118 1-9 5-1 8 10 7 90 1 10 12 17-4 7 8-95 2-8 6 0 8 8 6 30 0-3 13 4 5-40 3-6 7 1 6 8 6 46 0 3 2 0 13-4 3-109 1-9 3-27-3-9 11 9 9 27-3 23 4 61 0 4 5 0 10-12-4-9 7-10 2-6 7 6 9 55 3 18 10 16 1 2 6-86 4-57-4 0-10-6-9 9 3 15-4 12 2 1 11 7 6 11-6 0-8-7-7 0-10-9-6-24 1-8 4-9-4-26-1-8 6-1 6 9 8 19 1-4 5 3 11-12 1-8 9 2 7 9 6 33 0 8 3 36-5 81 3 2 10 7 5 11-2 5-5 1-8 18 1 11 6-11 10-100 2-14-7-12 14 2 7 7 5 112 1-4 17-6-1-4-11-9-1-8 10-42 4-11 6-9-6-12 0-2-9-7-4-9 13-40 0-7 3-29-3-8 7 1 8 7 5 29-2 12 5 18-2 8 11 6-1 14-12 19 1 9-6 7 5 14 2 80 0 4 18-26-8-9 8-55 2-2-10-8-5-18 14-19 2-4 11 6 6 31 1 8-5 12 5 421 1 44-3 5-9-8-8-98-4 5-16 32 2 36-3 12-9 28 16 9-6 11 1 6-5 0-9-8-7-19 0-8 6-11-5-9 7-11-9-42-1-1-17 74-2 8-9-1-5-9-7-24 2-17-4-9 4-11-1-6-14 3-3 82-1 11-5 7 4 13-4 7 4 23 0 8-7 9 6 12 1 6-4 1-8-14-8-8 1-6 6-8-5-23 0-7 4-7-4-13 2-8-6-12 3-50-1-1-5 27-13 4 2 0 9 5 5 7 0 6-4 4-12 65-3 5-6-5-10-51-3-9-8-12 7-2-4 6-10 60-3 25 3 10-4 22 1 9-6 15 5 7-6 0-6-7-6-15 5-9-6-113-1-9-15 153-2 8-5 2-7-7-8-116-2-9-18 19 1 24-5 42 3 9-5 0-10-9-5-32 0-6 3-21-4-31 1-14-9-16-2 11-7 82-1 11-7-1-8-10-5-85-1 8-17 94-2 6-6 0-6-6-6-71-2-1-10-10-8 68-1 6-4 2-8-8-8-62-3-7-8 3-7 106-2 7-11-7-7-73-2-20-15 6-3 81-1 7-6 0-6-7-6-83-1-15-4-1-6 10-5 16 3 15-9 36 0 6-7-6-11-56-1-11-8-15 7-27 0-3-7 6-10 20 0 13 9 9-9 106-2 7-7-1-6-6-5-117-2 5-7-2-9 3-2 48-3 12 3 8-4 0-12-8-4-11 3-87-3-19-9-3-7 4-3 40-2 45 3 10-8-1-9-8-5-110-1-11-14 4-2 7 10 8 2 10-14 94 0 11-6 0-8-11-6-114-1 11-18 13 0 3 10 10 5 7-5 3-9 35-3 4-5-1-8-8-5-62 1-22-4-18-10-22 1 2-5 14-3 52 0 8-5 0-10-8-5-19-2-18 3-59-3-7-29-6-6-7 4-6 14 9 19-21-4-11 4-17 0-16-6-18 5-38 0-8-6 15-9 6 8 9 2 9-9 12-2 4-9-20-12-7 0-9 7-7-7-21 1-10 15 1 9 14 6-8 7-25 0-13-5-12 5-69 0-6 4-9-4zM4291 4501l5-1-2 3zM4368 4381l13 5-8 11-5-2zM3950 4381l11-1 1 9 6 5 11-2 10-8 25-2 2 13-61 2zM4382 4350l1 4-7 3 0-4zM4009 4347l6 2-4 8-4-1zM4049 4344l4 1-2 5zM4020 4346l5-5 7 1-7 5zM3940 4318l4-5-2-12 42 0 2 7-9 3-6 8zM4001 4186l30 2 2 4-5 6-19 3zM4419 4185l-10 16-15 0-7-6 16-12zM4401 4118l11-11 9-1 7 15zM4393 4072l1-7 25 0 4 4-12 1-7 13-5 0zM3998 4028l11-1 2 3-4 4zM4363 3995l4-4 6 1-6 6zM4391 4002l6-14 22 0-3 4 3 12zM4342 3954l3-1 1 4zM4034 3919l-9 5-8-2 1-3zM4325 3873l4 1-2 2zM4290 3845l3-4 6 2-3 4zM4024 3834l4-2 10 8-14 2zM4087 3830l8-2 3 3-8 2z"/><path class="s" fill-opacity="0.317" d="M4530 4559l-4 10 9 4 4-10zM4439 4559l-4 5 1 6 5 4 9-1 2-12zM4578 4521l-5 8 9 6 5-8zM4479 4525l7 9 7 0 6-5 8 5 16 0 6-7-6-9-16 0-6 5-15-5zM4460 4519l-4 5 1 6 6 4 7-1 5-6-5-9zM4434 4524l-8-6-16 1-10 11 3 7 7 4 9-6 11 0zM3911 4525l-9-8-68 0-9 4-27-4-6 4-1 8 7 6 24-3 19 6 16-3 11 10 18-12 19 1zM4542 4484l4 10 14-4 10 6 24-1 6-6-6-10-24-1-10 6-14-4zM4420 4484l0 6 6 6 33-1 6-6-6-10-20 2-12-3zM3798 4484l1 8 6 4 55 1 10-8-6-10-59-1zM4664 4470l-3 11 9 3 3-11zM4515 4470l-5-6-5 0-7 14-22 1-6 9 9 8 28-1 6-6zM4450 4447l5 8 23 0 4-5-4-9-23 0zM4526 4447l6 9 36 0 5-7-5-9-36 0zM4491 4443l0 8 8 5 9-1 4-7-8-9-9 0zM3813 4421l-5 10 8 4 5-10zM4538 4401l-4 10 9 4 4-10zM4491 4401l-3 11 9 3 3-11zM3784 4405l1 8 7 4 18 0 16-5 4 5 30 0-3 9 5 6 9-6-9-10 1-12-8-5-22 2-9 5-11-6-21-1zM4665 4387l-7 11 6 9 6 0 6-11-5-8zM4665 4367l-5 9 3 5 6 1 5-9-3-5zM4542 4362l-4 9 4 5 6 0 3-11zM4664 4323l-3 11 9 3 3-11zM3787 4327l4 10 11-4 13 4 5-6-5-8-12 4-12-4zM3824 4329l7 9 11 0 5-5 0-6-5-5-11 0zM3797 4283l-3 11 9 3 3-11zM3871 4282l-8 9 4 7 7 2 6-5 0-7zM4665 4275l-7 8 0 7 11 7 6-5 1-9-5-7zM4665 4244l-5 9 3 5 6 1 5-9-3-5zM3784 4250l8 10 17-6 12 5 9-8-5-9-7 0-7 6-19-6zM3790 4204l-5 6 1 6 4 4 9-1 2-12zM4665 4196l-6 5 1 25 9 6 5-6 2-23zM4664 4174l-3 11 9 3 3-11zM4519 4163l-8 5-1 5 4 6 9 2 8-6 0-6zM4665 4144l-5 9 3 5 6 1 5-9-3-5zM4666 4124l-6 9 8 6 6-9zM4666 4101l-6 4-1 8 10 6 5-4 1-8zM4561 4087l-4 10 9 4 4-10zM4666 4064l-6 4 0 7 4 6 6 0 4-13zM4524 4051l1 8 6 4 38-2 3-3-3-11-38-2zM4664 4034l-5 5 0 6 10 6 5-4 1-8-5-5zM3858 4007l-5 5 0 6 5 5 9-1 4-5-1-6zM3814 3969l-3 11 9 3 3-11zM3922 3934l-9-7-30 1-5 3-1 8 6 5 30 1 9-7zM3859 3890l-3 11 6 4 8-1 2-12zM4508 3851l-3 11 9 3 3-11zM4425 3811l-4 5 1 6 12 4 5-5 0-6-5-5zM4304 3780l-4 5 8 10 6 0 3-10zM4378 3810l-24-3-14 3-65-2 2-12-5-13-10-3-6 12 12 15-4 2-48 0-22-5-13 4-174 0-9 6-8-4-25 0-6 6 6 10 25 0 8-4 3 5-3 12 7 6 11-2 7-13 8 1 11 9-2 3-10 0-13 6-93 0-8 6 0 6 8 6 86 1 0 10 5 8-32 1-3-10-9-4-11 14-37 1-9 5 0 8 9 5 61 3-1 7 5 9-54 2-8 8 6 9 37 2 9 7 15-7 11 3-8 8-25 4-8 5-100 2-5 10 8 7 86 1 22 9 14 0-7 10-70 1-7 7 7 11 50 1 1 10 6 7-2 2-76 1-8 5 0 8 8 5 90 1 12 5 2 8-7 7-17 0-9-9-5 0-17 10-67 0-8 4-1 8 5 5 24 3 104-1 17 8-10 7-38 5-94 2-3 10 7 6 92 1 6 3-1 10 3 4-126 5-4 5 4 9 118 3 2 3-4 9 3 6-56 3-8 6-10-6-24 1-9 5-16-5-5 5 0 6 5 5 16-4 5 4 17 1 20-7 9 7 73 2 8 14-5 4-118 1-8 5-1 5 9 8 90 1 9 11 16-4 8 5 2 7-96 1-6 4-1 8 7 6 36 1-7 7 1 8 5 3 7-5 0-6-5-5 13-3 18 3 18-2 10 15-13-4-10 9-82 2-5 6 5 10 51 2 2 16-5 3-113 2-7 4-26-5-7 10 7 8 26-5 26 6 60 0 6 7 1 10-34 6 0 12 55 4 19 10 15 0 4 8-89 6-47-5-37 1-6 5 0 7 9 7 41 2 37-5 31 4 49 0 3 10 7 5 11-5 3-10 26 2 7 6-14 11-18-2-75 5-25-3-5 6 0 7 8 6 111 1 4 5-5 7 5 6-15 1-4-10-8-2-7 10-43 3-7 4-2 6 4 6 12 3 82 0 8 18-9 2-19-8-10 8-48 1-11 7-1-12-13-5-10 10-19 3 0 12 31 3 11-9 8 8 22 2 403 0 38-3 4-6-4-8-99-5 2-15 4-3 68-1 8-6 0-6-8-6-44-2 1-18 73-2 7-6 0-6-6-6-63 0-8-12 2-5 85-3 11-7 14 5 7-6-7-8-13 3-7-6-67-2 5-9 13-2 11-7 7 2 0 7 5 6 5 0 8-15 45 0 22-6 0-8-7-4-67-3-2-5 7-12 116-2 10-8-10-10-112-1-11-16 6-3 151-1 6-5 0-7-6-5-85 0-32-4-9-14 3-4 27 0 17-6 10 5 30 0 9-8-1-5-8-5-30 0-10 5-17-6-38 0-10-8-18 0-9 4-15-2 21-3 17-10 88-3 3-10-5-5-89-2-2-3 10-16 93-2 5-5-3-10-73-3-3-11-5-4-7 1-5 5 0 6-6 3-15 0-11-8 19-12 91-1 6-5 1-6-7-7-62-2-8-10 4-8 88-1 7-4 12 2 4-5-4-9-12 2-7-4-58-1-5-7-7 0-6-7 1-4 88-4 3-3-3-11-97-3-11-13-7 0-6 12-8 1-11-17 5-3 27 0 8 6 11-3 16 3 14-8 33 1 8-8-4-8-57-2-11-5-14 4-27 0-6-5 4-11 25-3 8 7 6 0 6-7 106-2 6-6-6-10-157-3 1-17 32-1-2 12 7 4 5-4-3-12 50-2 6-3 14 3 6-9-6-7-14 3-6-3-89-3-15-9 1-9 42-3 49 2 7-7-1-7-7-5-110-1-12-12 3-6 6 0 10 10 11-12 100-2 4-8-6-7-126-3 12-6 4-12 8-2 13 2 1 8 5 5 8-4 4-9 33-2 5-6-5-10-89-3-17-11-22 2-8 10-11-2 24-17 67-3 5-6zM4015 4504l3 5-10 6 0-9zM4299 4498l-4 15-7 2 1-16zM4011 4421l-4 12-13 5-8-2 14-4 7-11zM4366 4380l18 4-7 13-11-1zM3947 4381l15-2 10 12 4 0 15-10 22-1 5 4 0 11-5 3-59 0-4-3zM3921 4380l10 1-7 2zM3965 4354l5-1 1 3-4 2zM4385 4350l-1 6-12 1 7-9zM4041 4342l12 1 1 8-4 3zM4036 4341l-17 9-6 8-8-1 1-11 8 0 10-6zM4044 4302l5 1-2 9-7-4zM3998 4186l4-3 30 3 3 7-5 6-22 3zM4144 4159l6-4 9 2-2 4zM4020 4143l2 3-6 5-3-6zM4016 4120l5-6 13 2-8 6zM4389 4112l-8 10-6-1 8-11zM4398 4117l13-12 15 0 0 10 6 6-30 1zM3994 4027l18-1 3 11-7 3zM4038 3999l6-2 2 5-6 1zM4381 3988l-13 12-8-5 3-7zM4340 3950l8 3-3 11-7-12zM4037 3917l-4 7-14 1-5-4 4-4zM4323 3871l7-1 1 6-5 3zM4267 3830l3 1 0 8-4-3zM4049 3830l21-1 2 3-7 3zM4085 3831l4-4 12 3-5 5zM4076 3777l-5 4-1 7 10 6 7-11-3-5zM4361 3772l-3 11 9 3 3-11zM4234 3772l-6 0-14 10-3 9 9 7 8-1 10-15zM4169 3772l-7 0-9 16 4 11 5 1 17-12 1-9zM4100 3773l-1 11 9 2 2-12zM4145 3771l-14 0-6 4-5 10 5 12 10 1 15-13 0-9z"/><path class="s" fill-opacity="0.390" d="M4442 4560l-1 11 5 1 2-10zM3920 4553l-9-4-8 8-14 4-1 9 17 5 8-2 6-8zM4463 4520l-1 10 4 2 3-10zM4431 4524l-12-4-12 5-3 6 5 4 17-1 5-4zM4506 4521l1 11 14-1-1-11zM4488 4519l-5 8 8 6 5-8zM3793 4524l1 6 6 4 26-4 10 6 23-2 8 4 19-7 16 3 6-6-6-10-13 3-6-3-49 0-8 5-26-5zM4564 4484l1 8 6 3 20-4-2-10-18-2zM4421 4486l6 9 10-1 7-7 5 6 9-1-1-11-12 4-18-6zM3800 4485l1 6 6 4 11-3 44 3 4-4-4-10-44 1-11-3zM3881 4481l-1 8 4 5 16-2 0-11-10-3zM4512 4473l-8-3-4 9-23 1-4 8 7 7 25-1 6-9zM4530 4445l4 10 32 0 4-6-4-8-32 0zM4498 4440l-4 11 11 3 3-10zM3831 4405l0 8 6 1 1-3zM3840 4406l1 6 17 3 3-5-4-9zM3787 4405l4 10 23-2 0-9-4-3-14-1zM4666 4389l-6 9 8 7 6-9zM3787 4368l6 9 16-4 0-8-7-4-9 0zM3831 4324l-1 11 11 1 1-11zM3871 4285l-4 10 7 2 3-9zM4522 4286l-6-4-30 1-6 8 6 6 30 1 6-4zM4664 4278l-4 12 9 5 5-5 0-7-4-5zM3819 4244l-3 6 3 6 4 0 3-6-3-6zM3791 4244l-4 10 7 5 7-1 3-11zM3847 4205l-4 9 6 5 5-9zM3792 4205l-4 9 7 5 4-10zM3868 4208l3 11 11 1 12-6-1-6-7-4zM4664 4198l-4 5 1 9 5 5-3 6 7 1-2-7 5-5 1-9-4-5zM4517 4165l-3 11 3 3 9-1 1-11zM4665 4104l-3 8 7 4 3-9zM4663 4068l2 4 6-2-1-3zM4526 4051l1 8 5 3 22-1 8-5 0-4-8-5-22-1zM4666 4035l-4 11 7 3 3-10zM3859 4009l-1 11 6 1 2-10zM4494 3969l-7 8 10 6 4-10zM3884 3931l1 11 29 1 4-4-4-10zM4457 3896l8 7 8-2-2-10zM3863 3891l-3 9 5 3 1-11zM4430 3811l-4 3 0 8 5 3 4-3 0-8zM3994 3817l-6-6-14 5-8-4-2 10 7 2 3-4 14 5zM4376 3811l-91-3-62 2-22-3-194 2-9 7 5 11-2 12 10 4 5-4 1-12 12 1 16 10-4 8-25 4-91 0-5 3-1 8 6 5 86 1 5 16 5 2 9-4 4 3-2 3-50 1-5-10-6-2-11 12-39 2-4 3 0 8 4 3 61 2 9 16 13 1-3 3-66 2-6 6 4 9 37 2 9 6 14-6 15 3-9 10-26 4-10 5-95 1-7 5 1 8 6 3 84 1 25 8 4-6 5 0 6 8-1 5 10-1 1 5-90 3-6 6 1 6 5 4 49 1 7 10 9-1 5-7 33-1 4 2-2 5 5 5-16 6-6-4-1-6-13-2-6 11-13 3-79 2-3 11 6 4 41-2 63 6 3 8-5 9-24 2-15-8-10 8-71 1-6 3-1 8 4 4 13 2 122 1 12 7 17 1 3 6-10 5-35-2-116 4-6 5 0 6 6 5 112 3-6 6 0 7 6 4-2 2-91 0-15 7-15-5-8 3-2 5 10 6 15-5 15 7 58-1 20 3-5 7 1 12-57 2-6 10 6 6 74 2 10 15-2 3-123 3-6 4 0 8 6 4 89 1 10 8 18-1 8 6 2 6-3 2-95 1-6 10 6 6 84 1 7 4 7 14-26 4-79 1-6 7 6 9 51 2 0 18-97 3-9 4-13-2-2 9 23 6 21-2 43 4 5 17-33 5 0 12 60 5 12 8 14-1 9 10-32 4-58 1-5 4-14-5-69-1-6 10 13 8 62-1 11-5 29 6 50 0 5 2-1 5 5 7 6 0 4-4 0-8 5-2 34 4 6 7-9 2-7 7-92 2-11 4 0 8 11 4 84 1 22 7 0 8-8 5-55-1-36 5-1 11 10 4 83 0 5 3 5 15-9 4-21-7-11 7-46 1-6 3 1 11 11 3 424 0 13-3 5-7-11-7-69-1-14-4 4-14 7-4 67-1 6-4 0-8-6-4-60-4-1-5 7 0 7-11 78-5 4-4 0-7-4-3-65-2-7-11 4-8 87-3 6-6 0-5-8-5-59 0-5-3-1-8 4-5 17 0 7-5 12 0 2 7 8 3 1-8 6-3 59-3 2-10-6-3-65-4-1-6 7-12 89 0 10-4 17 2 7-4 0-8-7-4-110-1-6-3-2-8-7-7 75-5 44 2 26-5 16 3 3-3-5-10-10 2-4 7-2-9-12-3-56 2-31-3-11-18 41-5 3-11-6-4-44-1-12-8-26 5-17-1 3-7 13 1 26-11 84-3 1-11-3-2-86-2-4-4 6-14 5-3 90-2 4-3-2-10-70-3-6-3-2-9-6 2 0 7-25 3-16-10 11-9 13-3 89-1 6-6-6-10-23 2-44-5-4-16 29-4 60 1 13-8-13-10-92 0-24-4-20 3-2-3 12-13 15 7 11-10 96-1 12-7-2-6-10-5-80-1-4-2-2-8-11 10-13 0-11-14 3-6 32-1 10 5 8-3 15 3 15-7 33 1 6-5 0-6-6-5-53 0-12-4-12 3-31-1-4-4 4-13 8-3 35 2 37-5 29 1 8-4 8 4 26-2-1-11-25-1-8 4-8-4-29 1-8-3-75 0-8-13-10 9-15-7 2-8 121-7-2-10-85-3-24-6 2-11 6-5 74-3 15 3 6-7-5-9-111-2-14-12-1-5 4-3 20 3 10-5 77-3 2-9-4-3-104-2-7-4 13-2 8-14 13-4 18 6 42-5 4-6-4-8-60 1-31-4-11-10-11 1-9 8-20 2-8-3 27-18 64-2 6-6zM4280 4514l8-17 14 0 7 7-2 5-7-2-3 8zM4312 4463l5 2-3 6-6-3zM4014 4420l-6 15-14 4-11-2 4-5 10-2 9-11zM4364 4379l22 4-8 15-8 1-6-4zM3943 4381l19-3 15 10 10-8 28-1 6 9-2 8-6 3-58 0-9-3zM3917 4380l13-2 5 3-11 4zM3963 4357l2-7 16 3-10 6zM4386 4348l-2 10-15-1 8-11zM4001 4346l34-7 17 2 5 8-3 5-7 1-8-10-5 0-19 14-11 0zM4395 4302l11-1-3 3zM4042 4301l10 1-3 13-12-7zM4360 4263l7-2 3 3zM4363 4184l5-2 4 5-6 2zM3994 4186l7-4 27 1 9 5 0 5-8 8-20 2-6-3zM4143 4157l11-4 5 1 2 6-16 2zM4024 4144l-3 15-13-2-6-11 17-4zM4035 3998l7-3 7 6-7 4zM4336 3949l13 0 3 14-9 2zM4095 3947l6 2-3 8-7-5zM4006 3913l2-4 9 7 19-4 4 7-5 6-17 1zM4308 3871l8-1-4 3zM4319 3870l13-1 1 9 7 5-16-2zM4151 3834l10-2 8 9-4 5-5 0-1-6zM4264 3829l9 0 0 12 6 7-7-1-7-8zM4045 3830l4-3 23 1 3 5-10 6-17-4zM4082 3832l7-6 16 4-8 7zM4263 3782l-4 12 9 7 6-8-4-9zM4076 3780l-3 6 8 5 2-7zM4227 3777l-12 8 7 11 12-11zM4172 3776l-7-2-6 5-3 11 4 5 6 0 10-9zM4145 3773l-11-1-10 11 5 13 10-2 9-10z"/><path class="s" fill-opacity="0.480" d="M3916 4555l-3-2-13 6-7 8 7 6 11 0 6-9zM4422 4528l-5-2-9 4 8 2zM3798 4522l2 10 12-4-4-7zM3898 4519l-9 8 11 6 5-9zM3828 4525l2 6 7 4 21-3 16 4 10-7-4-10-45 0zM3847 4491l12-5-10-2zM3838 4483l-2 6 3 2zM4567 4484l3 9 10-2-1-9-9-1zM4427 4481l-3 8 8 5 6-9zM3806 4481l2 6-3 5 8 0 3-7zM4477 4490l4 4 21-1 6-11-27-2zM3885 4480l0 11 9 1 3-8zM4556 4443l-1 9 5 1 1-9zM3796 4445l0 5 9 6 41-1 6-3 14 3 5-3 0-8-5-3-14 4-17-5-34 0zM3792 4404l2 10 16-3 0-6-4-3zM4664 4397l2 3 4-2zM3791 4364l1 11 10 1 4-3-2-10zM4519 4286l-4-3-26 1-1 11 27 2 4-3zM4666 4280l-4 8 6 4 4-9zM3793 4245l-1 11 6 1 2-10zM4664 4206l-1 5 6 2 2-6zM3872 4209l4 9 14-4-4-8zM4530 4050l2 10 17-3-1-7zM4479 4014l6 7 14-2-3-10-11 0zM3913 3932l-13 0-1 7 12 3zM4429 3934l0 4 9 5 13-3 15 3 3-3-4-10-14 3-13-4zM4421 3896l7 8 14-5-7-9-10 1zM4007 3830l-3 7 7 3 2-8zM4374 3812l-28-2-14 3-18-4-91 2-24-3-192 2-7 7 7 11 9-3 16 3 50 0 7-3 26 3-13 8-2 10-12-1-1-7-7-3-11 10-16-8-11 11-56 2-7 3-9-3-43 1-4 3 0 8 4 3 52-2 6 3 27 0 4 2-1 7 4 7 11-7-1-7 14 3-6 9 3 5-3 2-55 2-11-5-23 7-23 0-3 2 3 10 57 2 8 4 3 8 9-4 0-6 8 0 7 6 18-5 7 6 13 0-2 10-9-2-6 4-104 4-3 7 7 7 31 0 10 4 10-3 28 2-9 4-5 10-41 7-59 0-38 4 2 10 123 4 7 5 0 4 9 0-1 10-93 3-4 5 4 9 104 2 8 3-2 5 3 2 19-4-15 9-18 5-22-5-8 5-35 1-13 5-10-3-34 2-1 8 6 4 39-3 9 4 55 2 9 11-7 2-3 7-27 2-13-4-12 4-23-1-21 4-16-3-14 4 0 8 5 3 132 2 11 6 18-1 3 8-2 5-10 3-152 4 3 4-2 7 107 2 9 4-6 9 6 7-7 4-91-1-9 9 9 7 17-2 67 4-7 7 3 12-3 2-58 2-4 10 4 4 80 3 6 15-3 4-123 3-4 2-1 8 5 4 86 1 17 7 22-4 1 19-97 2-5 4 0 6 5 4 86 2 6 4 7 15-33 4-73 1-4 3 0 8 4 3 54 3-4 19-100 4-6 6 6 7 115 1 12 5 43-4 9 5-3 13-4 3-69 0-7-3 0-11-4-2-4 3 1 7-8-2-7 7-29 3-4 4 1 7 7 3 55 3 6 7 15-4 3 9 6 3 19-8 9-8 8 1 3 10-7 8-18 4-86 0-14 6 3 6 11 4 56 1 6 5 15-6 25 1 21 9-3 6-11 0-9 6-91 2-8 5 0 4 8 5 82 1 24 3 8 7-7 10-10 2-54-1-35 4-2 9 8 5 87 1 9 18-5 4-26-4-17 5-37 0-8 4 2 10 57 3 312 0 71-3 3-8-6-5-62-1-23-4 7-18 72-3 5-4-2-9-63-5-23 2-10-4 8-4 3-11 4-2 90-1 18-5 1-7-19-4-40 0-7-2-6-8-20 7 0-10 6-5 11 2 14-7 71 0 13-6 0-6-9-4-58-1-13-11 8-8 106-4 8-3 2-8-10-5-57-2-3-3 6-16 92-1 13-6 6 3 12-2-2-10-17 3-10-5-89-1-4-3-1-8-6-4-5 2 0 9-4 3-15 1-4-3 8-16 95-5 46 2 20-6 0-5-8-4-58 1-33-4-10-18 7-4 32-1 4-4-2-9-45-2-14-8-42 6-3-2 2-8-10-6 13-4 12 10 30-11 38 0 10-6 10 5 21-2 1-9-22-3-10 5-16-7-36 1-8-3 7-18 40-2 5-3 12 3 18-2 7-5-3-5-21-4-13 3-23-5-36 1-20-12-8-1-2-7 7-2 15 7 4-5 18-3 48 0 16-4 22 3 4-4-4-10-22 3-48-6-4-17 9-4 84 0 8-6-1-6-7-4-136-1-23-5 2-4 15 4 10-12 9-3 10 3 12-4 98-1 8-6 0-4-8-6-75 0-13-3-18 3-16-7-3-13 5-3 32-1 33 4 17-7 31 2 4-10-4-4-31 2-31-5-37 2-13-3-3-4 5-11 6-4 70-1 11-9-11-7-75 0-10-5-11 3-16-9 1-8 6-3 89-2 7-5 0-4-7-5-109-3-8-15 3-5 17 1 6 9-1 6 4 1 10-18 43-2 9-4 0-6-9-4-67-3-4-7-6-2 1-9 73-5 4-8-12-6-62-1-17-4-21-13 4-4 22 0 9 3-2 8 14-1 6-9 14-5 21 5 40-5 0-10-61 0-11-4-20 0-9-9-6 0-8 8-43 1-8-3-11-17 19-2 2 12 6 5 12-11 15-6 18-3 45 1 4-3zM4359 4381l4-3 21 1 6 6-9 13-15 1zM3961 4357l-1-16 25-1 5 4-2 3-14-1 10 5-2 6-10 3zM3997 4345l22-6 30 0 9 4 1 7-5 6-7 1-12-9-12 10-19 2zM4285 4309l-4 7-12-2 10-7zM4393 4303l3-4 13 2-7 6zM4032 4308l7-7 11-2 4 2 1 10-3 7-5 1zM4332 4270l5-1 4 4-5 1zM4028 4269l-7 9-6 0 5-9zM4208 4238l-7 2 3-4zM4364 4224l-4 12-8-3 2-5zM4056 4192l6-4 6 1-6 4zM3983 4184l49-2 8 8-6 11-30 2-11-8 1-5zM4141 4161l0-5 5-4 20 0-7 11zM4393 4145l15-1-2 13-4 1zM3996 4145l28-3 2 18-26 2-2-2 5-3 0-5zM4367 4083l7-5 7 4-7 3zM4081 4067l11-2 2 3-5 3zM4094 3996l1 7-8 1-1-4zM4031 3997l16-3 5 8-10 4-9-3zM4014 3986l-8 9-7-6zM4317 3961l7-1-3 4zM4087 3950l7-4 9 1 0 10-8 2zM4317 3920l11 3-10 2zM4097 3920l-4 6-8-2zM4161 3884l6-3 3 4-4 2zM4043 3870l13-3 12 2-4 3zM4215 3843l6-9 5-1 5 7 9 4-23 2zM4194 3833l6-2 4 3 2 13-15-4zM4136 3829l26 1 12 11-7 7-9 0-4-3 1-5-10-9zM4269 3791l-7 4 7 2zM4228 3781l-7 5 2 6 8-6zM4170 3778l-10 4 2 10 9-5zM4141 3774l-5 0-10 12 14 3 5-5z"/><path class="s" fill-opacity="0.596" d="M3905 4558l-6 5 0 6 10 3 5-12zM3859 4525l0 4 7 5 14-4-2-8-4-2zM3834 4522l-1 8 3 3 14-3-2-8zM4483 4482l-1 9 8 1 4-7zM3823 4445l5 8 10 1 4-3 0-5-5-4zM3799 4445l4 9 11 0 4-4 0-5-6-4-9 0zM3850 4365l-1 8 5 1 3-5zM3796 4363l-2 10 5 2 4-3 0-6zM3907 4286l-1 7 5 1 1-7zM4505 4285l-3 7 11 4 3-9-3-3zM4466 4249l6 8 10-3 0-6-5-3zM4481 4167l-2 8 10 3 2-10zM4486 4053l8 7 7-3-3-9zM3924 4052l-12-4-12 2-2 6 21 4zM3886 3971l-2 8 4 2 2-8zM4442 3930l-5 7 6 5 3-9zM4381 3854l0 8 10 4 36-4 0-8-5-2zM4375 3856l-10-5-26-1-9-4-31 5-37-4 1-4-10-11-9 6 5 8-4 3-47 0-11-3-32 3-8-3 4-3-2-4-19-4-16 1-10 12-5 1-15-1-4-5-13 6-13-9-10 9-57 2-7 5-12-5-13 4-8-3-20 2 3 10 23-3 17 3 10-4 7 5 34 3 46-2 6 4-11 7-17 0 0 7-5 4-70 0-23 6-1 5 11 6 77 1 9 5 18-1-3 7 5 7-2 2-124 4-3 8 5 5 86 4-3 4-12 2-4 12-107 5-7 5 7 7 116 3 4 3-8 7 1 8-5 3-93 3-2 10 132 7 10 14-47 6-12-3-49 3-9 5-1 4 6 6 64 3 4 15 13 0-1-5 4-4 6 5-6 4 0 5-104 2-21 5-23-3-4 3 0 6 10 4 124 1 14 5 19-1 0 14-7 4-135 3-5 4 5 8 126 2 4 3 1 17-44 5-69 0-6 5-19-5-3 4 3 8 19-5 6 5 116 3 9 5 1 6-7 10-32 2-13-5-20 5-57 4 3 10 78 3 7 14-4 7-122 3-4 3 0 6 4 3 81 1 15 4 28-2 3 2-1 12 6 4-2 2-86 6 1 9 68 3 9 4 13-2 0 5-11 4 3 4 20-2 7-10 15-3 9 1 4 8-7 14-16-6-7 6-21-3-43 5-58 0-10 3 0 8 10 3 80 2 7 3 56-4 9 3 4 7-7 10-12 0-7-5-14 7-18 1-14-12-2 4 4 3-27 5-6-3 0-6-6-7-4 13-5 3-66 1-9 3-2 6 11 5 137 1 12 2 5 5-15 16-83-1-42 4 1 5 19 7 62 3 4 12 26-13 9-1 6 3-1 5 7 7 9 1-9 4-7-3-1 5-109 3-6 4 0 6 6 4 37-1 23 4 42-2 15 2 13 10 11-9 8-1 7 8 8 1 3 7-4 4-13-4 5-6-7-2-5 5-7 0-4 6-104 5-2 7 8 5 55 0 38 5-4 14-8 4-95 3-3 9 5 4 91 2 5 15 6 4-10 4-79 1-7 3 1 9 32 3 401-2 4-7-9-6-72-1-12-6-15 4 2-8-6-3-1-5 12-3 13 8 1-6 10-5 64-2 4-3-2-8-94-5-2-4 9-3 5-11 7-3 89-1 9-8-9-6-29 1-25-6-22 2-3-6 10-12 99-4 8-4 1-6-8-4-49 0-16-4-7-5 1-12 117-5 6-5-6-9-88-1-7-5-1-8-5-4 10-6 30 3 72-6 26 3 8-4 1-6-7-5-26 3-55-3-15-4-27 3-14-5 7-4 6-12 85-2 19-6 25 5 27-4-2-8-10-2-40 5-19-6-38-1-2-2 12-8-4-8 2-3 39-4 3-3-3-9-41-1-14-6-45 4-6-3-1-9-8-1 3-6 10-3 28 6 15-6 46-2 4-7-7-6-39 0-25-3-3-4 4-3 7 4 12-17 41-2 8-5 8 4 13-3-2-8-11-1-8 4-8-5-53-1-30-12-5-9 8-3 18 5 6-4 75-5-3-10-59-4-12-16-17-2 83-6 54 2 6-5-1-6-5-3-136-1-27-6 2-9 11-2 8 6 14-11 96-4 28 2 6-4 0-6-6-4-135-1-5-3-2-7 13-1 2-11 26-3 47 3 16-9-5-7-88-5 12-10 1-7 24-4 54 0 7-6-7-8-98-2-17-9 2-9 8-4 85-2 6-4-6-8-102-2-10-4 3-4-8-6 3-8 34 1 11-4 36-1 6-8-15-5-45 0-17-4-25 2-5-3 1-5-8-5 2-7 21 1-6 7 9 4 4-4-1-6 5-3 65-2 8-5 0-4-8-5-80-3-11-9-10 0-8-9 37-3 11 2 1 5 4 1 6-6 22-8zM4251 4542l3-4 5 1zM4232 4537l5 3-3 3-4-1zM4170 4506l-11 7 4-7zM4051 4498l21 2 3 3-4 4 5 7-20 1-2-2 8-9zM4137 4460l-9 9-6-1 4-7zM4093 4462l1-3 7 2zM4291 4460l-11 11-5 0-4-6 6-6zM4289 4426l14-1-6 3zM4071 4391l7-2 4 4-7 3zM4120 4391l3-4 6 2-2 4zM4332 4381l-23 12-1-10 15-4zM4151 4380l6-2 4 5-4 3zM4072 4348l7-1 1 3-6 2zM4341 4343l7-1 7 6-12-1zM4087 4344l2-3 6 2zM4309 4342l9-1 4 10-4 2-8-4zM4330 4312l5-7 13 1-9 9zM4379 4306l-10 4 5-6zM4261 4312l9-4-2-5 23 3 4 12-26 1zM4392 4299l15-1 6 3-11 10 5 10-24-3 15-4-9-10zM4305 4266l-2 12-6 1 0-8zM4325 4268l4-3 16 3 8 10-13 1zM4037 4268l-15 12-12-2 4-8 10-7zM4081 4264l16-2 2 6-13 1zM4111 4238l10 2-9 1zM4197 4239l6-6 5 0 4 5-4 4zM4239 4234l13-2 2 5-10 3zM4009 4233l6-3 9 9-4 2zM4325 4228l8 7-1 6-12-3zM4132 4226l5 7-3 3-3-2zM4385 4222l7 1-2 8-4-1zM4348 4228l11-6 10 1-6 17-14-4zM4168 4224l10-2 1 4-6 2zM4070 4224l11-2 12 11-8 2-4-7-10-1zM4256 4190l7 3-4 1zM4048 4187l7-5 18 0 4 3-4 8-22 2zM4365 4157l10-2 6 6-9 2zM4320 4151l14 1-12 2zM4138 4156l7-7 24 1-4 11-6 3-15 0zM4068 4148l4-1 1 3-4 1zM4337 4147l10 0 1 9 9 4-17 2-2-5 6-5zM4226 4107l7-1 6 4-4 4zM4141 4107l13-2-4 7zM4055 4074l4 8-6-3zM4183 4073l3 2-2 7-10 2 2-9zM4352 4069l6-4 14 1-13 6zM4242 4067l4-2 5 4-6 3zM4266 4064l17 2 3 9-4 8-7-1 0-5-11-11zM4075 4069l1-4 7-2 18 2-8 13zM4312 4029l12-1 5 11-9 1zM4343 4026l11 7-1 10-14-5zM4245 4027l7-2 2 4-5 3zM4326 3997l19 2 1 4-8 2zM4282 3995l13-1 0 9-13 2zM4143 3988l-13 4 2-4zM4322 3988l6-2 5 3-8 3zM4099 3999l-5 7-53 1-19-4 3-2-1-6 7-6 15 1 13 8 5-4-2-5 5-3 5 2-2 7 6 6 14-9 5 0zM4289 3963l14-1-2 4zM4176 3962l6-3 2 6zM4328 3960l-5 6-8-1-3-5 10-4zM4040 3950l1 7-6 3-5-7zM4108 3956l-11 6-16-9-13 1-2-3 36-6 5 3zM4082 3925l9-10 10 1-2 10zM4205 3912l9-4 6 7-5 4zM4143 3913l2-6 8 2zM4274 3883l8-10 5 3 1 8 10 1-18 3zM4151 3883l6-3 1-10 15 15-13 3zM4336 3817l7 7 28-3-3-8-21-2zM4002 3817l5 9 90-2 66 4 13 10 7-3 2-6 16-1 14 7 9-6 9 2 24-5 19 0 3 2-1 6 6 1 3-7 30-2 9-5-5-9-7-2-307 1zM4131 3783l4 4 6-3-3-4z"/><path class="s" fill-opacity="1.000" d="M3905 4560l-2 4 6 2 2-5zM3841 4524l-2 7 4-4zM3873 4523l-4 1-2 8 8-2zM3806 4442l-3 8 7 3 3-8zM4478 4366l2 8 13 1 3-3-5-9zM4496 4327l3 8 12 0 5-6-4-4zM4375 4228l-2 3 3 2zM4382 4147l1 10 9 2-3-9zM4501 4129l-2 6 9 3 2-8zM3883 4090l-2 6 7 3 3-6zM4486 4093l3 6 15-1-1-9-14 0zM4064 4076l2 3 6-2zM4346 4071l-2 4 5 1 2-3zM4328 4069l2 5 2-4zM4019 3958l3 5 6-3zM4405 3858l-7-5-8 1-2 7 9 3zM3987 3853l-3 7 4 4 96 4 2 3-4 5 5 6-6 6-8-1-2-8-5-1-12 8-19 4-77 1-6 5 3 7 105 3 7 3-4 8 8 6 12-4 12-13 29 5 33-5 5 4-6 4 5 5-1 5-22-8-13 3-10-8-10 2 1 12-8 3-26-2-132 5 0 10 106 5-1 17-3 3-114 4-6 5 3 6 7 2 80 0 38 6 23-4 4 11 6-1 7-9 9-1 3 15-6 7-162 2-6 5 6 7 111 3 15 15-6 6-107 2-7 4 0 6 4 3 84 4 7 10-3 9-6 3-103 1-12 4 1 8 137 6-6 7 1 9-4 3-112 3-9 4 2 6 8 2 96 1 9 5-2 10 7 2 0 5-51 5-51 0-6 6 6 4 98 3 10 4 12-4 54 3-1 7-18 12-9-2 11-9-9-5-10 10-26 2-13 6-33 1-12-3-68 6-2 6 8 4 114 4-4 10 5 7-21 4-113 2-16 4 4 7 105 3 6 6 7 0 6-5 26 1 15 18-19 2-7-8-5 0-11 9-82 2-9 3 0 6 5 3 88 4 33-2 5 11-3 10-5 3-148 3-4 2 1 7 87 5 60-2 11 3 6 6 30-7 11 8-1 4-18-3-17 11-39-1-16 4-67-2-9 3-38 0-6 4 3 7 8 2 124 2 10 3 0 11 17 2 9-7 12 0 6 4-1 5-12 3-35 0-10-5-9 7-105 1-5 7 6 5 66 4 34-3 7 2 6 11 11 3 13-13 7 5-3 8 18 5-5 3-116 2-10 5-10-4-22 0-5 5 5 7 33-3 10 4 58 0 24 5 16-4 26 3 23-2 5 3-5 16-7 0 1-8-14-7-1 15-5 3-25-3-109 7-1 7 5 3 22-2 66 4 10 4-6 8-1 9-103 4-4 4 2 7 88 2 11 4-2 7 4 5 5-3-1-9 15-1 4 8-2 3-12 0-10 11-86 3-2 8 27 4 396-2 3-3-3-7-85-5-14 2-23-6 0-10-7 6-11-2-3-8 5-3 57 2 12-4 44-1 9-5-9-7-76-3-4-2 2-4-4-5 14 1 6-10 9-3 88-1 4-3 0-6-4-3-74-2-13-6-30 5-18-9 21 0 7-10 8-2 128-3 6-4 1-4-7-4-115-4-6-20 28-1 2 16 11 2 8-7 0-10 120-4 5-5-5-7-105-3-5-2-1-9-4-3-12 4-1 8-28 0 2-8-12-2-3-7 7-1 8 6 6-6 19-2 111-1 17-5 0-4-11-4-120-5-17-6-1-5 3-7 7-2 36 1 13 4 10-5 88-2 4-3 0-6-9-4-68-1-17-7-6 5-10 0-6-5-8 4-17-6 7-9 12-4 27 5 4-4 22-4 28 2 37-3 4-3-2-8-50-4-65 1-22-4-5-8-6-2-6 4-2 9-26 0-10-6 21 0 0-8-17-2 11-5 19 3 41 0 16-5 34 3 46-3 11-6-3-6-6-2-87-2-14-7 4-4 0-8 98-5 5-5-5-7-52-1-29-5-8-7-1-12 95-3 9-4-3-7-64-5-13 3-12-3-24 2-23-9-3-5 10-8 36 3 12-4 46 0 34-6 18 3 6-7-8-4-129-3-8-2-5-6-10-1-3-9 7-4 46 5 21-6 82-2 3-7-18-4-86-1-12-10-10 7-13-3-14 5-23-4 3-3 13 1-6-9 2-6 6-3 35 3 55-5 53 0 2-3-6-7-84-5-5-4 15-8 0-6 5-3 77-3 5-4-1-6-94-3-18-5-14 4-18-6-4-12 3-4 13 0 4 3-2 6 8 2 10-12 67-2 10-4-2-6-49-4-87 0-12-4 2-5 11-3-10-5 10-5 9 1-1 8 5 2 13-3 5-8 6-2 34 1 43-6 0-6-7-3-92-3-4-6-9-3 1-11 104-4 5-5-5-7-53 0-34-5-17 3-29-2-6-9 12-11 58-2 16 3 14-4 3-6-3-6-29-3-32 3-43-4-115 2-10-10-12-1-17 11-42 0-9-3-11 4zM4144 4538l9-1-2 3zM4239 4515l7-4 7 3-6 3zM4215 4498l7 2-2 12-9-4zM4136 4498l13-2 15 4 6-3 4 12-12 8-12-2-8-5 1-7zM4045 4498l7-3 17 1 15 5 2 6 4-3 14 2 10-3 11 12-7 1-9-6-5 3-15-2-15 7-28-3 4-6zM4201 4457l9 4-6 16-7-2 0-15zM4119 4470l2-8 8-5 11 0 5 5-14 11zM4263 4433l5-3 2 5zM4137 4422l9 2-1 8 14-1 1 5-21 2zM4227 4425l-15 3-4-4 15-6zM4094 4420l8-2 4 5-10 3zM4183 4396l3-5 11 3-4 3zM4110 4387l15-5 8 3 2 5-3 6-9 1-11-4zM4230 4378l11 3 6 10-2 6-9-3-8-14zM4148 4380l4-3 26 1 3 6-13 0-6 7-5 0zM4192 4349l11 1-6 3zM4284 4350l4-3 13 10-9 1zM4147 4349l-8 9-7 0-9-7 18-4zM4154 4345l4-5 20 2-1 5 5 5-5 5-12 1-2-2 10-2 1-5-19-1zM4310 4318l3-3 6 2-2 3zM4115 4316l-19 2 12-4zM4221 4313l5-6 10-3 3 7 8 3-12 3zM4254 4311l10-11 11 3 17-2 12 17-7 3-29 0zM4093 4309l0-4 8-5 18 4-16 9zM4201 4301l6-2 4 3zM4131 4301l30-1 5 6-9 8-7 0zM4176 4263l32 0-10 8zM4152 4262l18 1-8 2zM4077 4265l6-5 28 0 5 10-10 4 2 5-8 0-20-9zM4060 4240l-10 2-6-3 11-3zM4259 4230l-1 9-7 3-13-1-12-9-6 0-2 7-8 4-16-3 0-7 22-2 8-4 20 2 6-4zM4316 4226l18-5 3 2-4 6 8 7-9 7-14-2zM4158 4223l20-3 9 2 2 5-21 8zM4060 4228l5-6 15-2 10 2 9 13 6 1 5-14 12 3 12-3 4 2 6 16-32 3-18-5-8 3-9-3-4-7zM4351 4196l-7 6-9-1 4-4zM4139 4183l10 2 1 15-3 2-11-2 0-14zM4270 4184l-7 18-45-1 5-4-2-5 5 3 13-2 4-11zM4166 4189l9-7 14 1-4 11 9 7-24 1 3-8zM4207 4159l7-1 2 3-5 2zM4281 4158l10-9 11 7-6 5zM4064 4145l15 1-2 16-8-3-7-10zM4091 4145l8-1 5 8 6-1 2 3 8-2-1-4-8 4-2-3 2-5 5-1 12 6 15-4 27 0 5 6-6 11-25 3-11-11-14 5-9-3-17 4-1-3 8-6zM4277 4106l9-2 8 4-12 3zM4064 4106l11-2 5 2 0 4-13 2zM4220 4106l5-3 30 2 3 12-4 2-11-5-13 5zM4122 4106l6-3 31 2-1 9-4 3-15-1-3-7-10 1zM4115 4105l-9 4-7 14-17-1 3-11 6-6zM4127 4077l-11 6 4-6zM4215 4065l6 0 2 5-3 1zM4191 4065l-4 4 4 9-9 8-10-1-5-12-40 2 5-10 18 5 11-3 9 2 2-5zM4300 4066l-10 6-1 11-4 2-13-1-1-7-9-8-15 9 1 6-8 1-6-4 3-14 5-4 38-1zM4106 4065l-15 19-10 0-3-5-6 6-24-3 2-12-3-5 4-2 16 3 12-4 21 0zM4084 4038l10-6 12 11-20 1zM4216 4035l-3 8-14-4-4 6-8-2 21-15zM4364 4028l6-2 2 4zM4293 4026l54-2 11 4 7 12-11 5-18-4-13 3-8-3-5-8zM4237 4027l7-3 18 2-9 11-7-1zM4167 4027l-6 6-12 2-16 9-4-2 6-6-1-5-7-4 29-3zM4168 4000l4-2 2 4zM4260 3998l-8 5-5-1 8-7zM4307 3988l0 4-8 6 3 7-20 2-5-4 0-14 13 2 7-6zM4114 4001l14-15 30 2-16 3-20 14zM4260 3956l-1 4-6 0-5 6-6-2 5-11zM4171 3963l6-17 10 2 4 11 3-7 9 3-1 6-22 7zM4059 3948l45-4 6 2 5 9 7 0 4-6 11 3-7 4-2 7-11 4-18-1-9-5-16 6-6-3 1-4zM4254 3914l9 1-6 2zM4233 3910l14-3 3 13-11 1zM4200 3912l6-5 14 0 7 18-11 2zM4210 3885l4-6 21 2-8 7-14 0zM4239 3869l2 6-6 5-3-7zM4208 3872l4-5 8 2-4 6zM4146 3869l14-2 9 8 8 1-1 10-5 3-28-2 9-10zM4349 3813l-1 8 6 1 3-5zM4006 3815l2 9 10-3 11 4 52 0 13-6 7 5 15 1 6-6-7-7-19 4-16-4zM4126 3817l4 8 44 3 87-4 45 2 16-6-3-7-7-2-16 5-10-4-64 3-15-4-72 0z"/></g><path class="p" d="m1992 1850-32 20 72 0 24 0 6 0 10 0 23 0 3 0 34 0 22 0 5 0 19 0 35 0-226 10 97 0 10 0 36-2-149 12 19 0 41 0 8 0 12 0 13 1 14-1 4 5 4-5 6 0 27 0 7 1 8 4 2-5 8 1 6 3 8-4 5 0 4 4 19-4-192 16 8-6 0 6 8-4 6-5 3 6 5-6 6 7 14 0 5-6 6 4 7 0 10 3 5-2 3-4 5 4 6-7 3 1 9 3 4-4 3 6 7-6 14 2 4 1 3 5 21 0 17-8-213 13 4 0 13 10 37-2 4 0 11-2 8 2 30 1 54-3 21 4 7-7 17 7 10-5 0 5 4-10 5 0 5 0 5 0 29 0 11 3-319 17 17 0 8 0 56-5 3-4 5 0 131 4 23-4 19 1 5 5 27 3 5 0-271 9 24-4 1 8 6-10 4 8 8 2 4-4 27-6 134 9 18-7 6 9 3-8 13 3 6-4-296 15 10 0 16 0 7 0 65-4 161 7 7-8 26 1 10 8 24-4 14 0-289 11 17 0 3 3 5-5 16 2 10-3 29 5 129-3 9 3 23 1-304 5 12 0 19 0 27 0 8 9 5-3 19 2 6 0 49 1 144-4 11 1 3-2 0 7 59-11 4 0-369 20 89-7 202-1 21 0 23 2-287 10 13 0 9 3 9 1 3 6 6-3 32-2 164-1 13-1 9 0 12 0 41 7-361 6 45 0 11 2 53 4 213-1 35 0 29-5 15 0 18 0-408 19 17 0 3 0 11 0 14-5 13 3 18-4 7-4 13 3 196 0 2 3 10 1 7-7 8 4 17 2 11 4 1-8-299 16 5 2 13-6 6 7 2-8 6 8 205-4 10 1 9 2 20-4 100-4-427 18 9 0 6 0 9 0 38-5 22 2 224-3 7-1 36 2 9 5 3 4 6-4 13 0-345 11 6-6 15 5 9 6 2-9 5 2 8 4 14-4 7 3 5 0 173 1 18 1 7-4 7-2 7-3 3 10 7-6-341 11 36 0 26 4 52 2 219 1 46-7 12 0 15 0 32 3-415 16 44-5 3 0 12-2 33-3 69 2 131-2 18 1 80 9-422 2 67 11 31-4 19-2 12 6 182-6 21 4 5-1 8-5 28 5-352 10 36-4 36 8 4-9 21 1 4-2 197 3 15 0 35 3 6-2 1 2 9 0 6 0 31 0-358 7 7 8 5-2 7-7 21 1 5 3 208 2 5-2 8 5 16-9 101 7-447 7 28 0 7 0 4 0 54 3 10 6 23 0 167-4 13 4 15-5 18 2 25-6 7 0 5 0 10 0 16 0 45 8-412 11 3 0 7 0 40-4 11-1 6 1 9-1 187-1 14-3 18 3 13-3 34 9 5 0 9 0-331 4 16 5 15 1 13-2 5 4 207-6 19 0 4 0 9-1 99 2-422 13 19 0 6 0 4 0 31-5 0 11 11-9 239-2 17 2 10-1 59 4 26 6 0-10-399 16 67-4 3 7 20-8 164 9 18-8 4 2 0-3 65 10-302 9 9 0 7 4 9-3 183-3 9 3 24-3 16 1 34-2 3-3 9 0 13 0 44 6-435 8 7 8 7-3 6-5 9 2 6 3 14-7 5 0 33 1 17 2 6-3 174 2 16-1 7-2 13 2 16 9 17-3 22 0 7 0 7 0-375 13 24-6 32 2 4 2 12 2 16-1 3-8 183 4 6 5 13-9 27 8 16 2 5 0 2-7 16 5 14-1 48 0-438 13 10-1 13 1 14-7 4 8 9-1 4-7 16 7 4 2 32-1 167 1 17-10 12 0 15 4 4-3 28 3 14-4 15 7 10 4-381 3 16 7 19-7 1 4 7 0 10 0 0-3 5 1 7-3 7 1 2 3 12 3 8-5 10 0 162 1 11-4 1 3 30 3 4-1 30-5 13 0 23 9 15-3 1-6-401 12 3 5 27 6 10-11 8 9 37-3 4-1 9 0 4-1 148 5 3-5 31 6 3-4 13 4 11-10 28 0 15 4 10-4 4 0 3 4 3-4-354 16 3-4 11 3 9 0 5 8 11-4 28-4 14-2 7 0 158 10 27-10 4 6 6 0 10-6 9 6 23-2 5-1 24 3 3 4 6-1 1-7 5 4 3-4 3-3 3 7-391 15 1-9 2 7 2-5 6 5 4-6 2 4 10-3 10-1 19-1 3 5 24-2 3 1 4 4 3-9 10 10 142 1 1-8 3-3 3 10 1-4 8 0 7-4 19 9 6-7 4 1 6 2 16 1 26-4 23 2 18-6-393 14 5 1 13 0 17 0 3 0 228-3 7 0 34 3 8 0 19 0 17 0 5 0 31 0 9 0 42 1"/></g><rect class="ax" x="1864.20" y="1828.80" width="491.90" height="476.00"/><text x="1881.81" y="2335.50" font-size="21.30" text-anchor="middle" textLength="33.12" lengthAdjust="spacingAndGlyphs">0.0</text><text x="1972.20" y="2335.50" font-size="21.30" text-anchor="middle" textLength="33.12" lengthAdjust="spacingAndGlyphs">0.2</text><text x="2062.58" y="2335.50" font-size="21.30" text-anchor="middle" textLength="33.12" lengthAdjust="spacingAndGlyphs">0.4</text><text x="2152.97" y="2335.50" font-size="21.30" text-anchor="middle" textLength="33.25" lengthAdjust="spacingAndGlyphs">0.6</text><text x="2243.36" y="2335.50" font-size="21.30" text-anchor="middle" textLength="33.00" lengthAdjust="spacingAndGlyphs">0.8</text><text x="2333.74" y="2335.50" font-size="21.30" text-anchor="middle" textLength="33.12" lengthAdjust="spacingAndGlyphs">1.0</text><text x="1849.62" y="2291.16" font-size="21.30" text-anchor="end" textLength="26.50" lengthAdjust="spacingAndGlyphs">10</text><text x="1849.62" y="2192.82" font-size="21.30" text-anchor="end" textLength="26.50" lengthAdjust="spacingAndGlyphs">15</text><text x="1849.62" y="2094.47" font-size="21.30" text-anchor="end" textLength="26.50" lengthAdjust="spacingAndGlyphs">20</text><text x="1849.62" y="1996.12" font-size="21.30" text-anchor="end" textLength="26.50" lengthAdjust="spacingAndGlyphs">25</text><text x="1849.62" y="1897.78" font-size="21.30" text-anchor="end" textLength="26.50" lengthAdjust="spacingAndGlyphs">30</text><path class="tk" d="M1881.81 2304.80v7.29M1972.20 2304.80v7.29M2062.58 2304.80v7.29M2152.97 2304.80v7.29M2243.36 2304.80v7.29M2333.74 2304.80v7.29M1864.20 2283.16h-7.29M1864.20 2184.82h-7.29M1864.20 2086.47h-7.29M1864.20 1988.12h-7.29M1864.20 1889.78h-7.29"/><text x="2110.15" y="1816.90" font-size="25.60" text-anchor="middle" textLength="346.00" lengthAdjust="spacingAndGlyphs">path_efficiency vs Difficulty</text><text x="2110.15" y="2363.70" font-size="21.30" text-anchor="middle" textLength="158.50" lengthAdjust="spacingAndGlyphs">path_efficiency</text><text transform="translate(1810.80 2069.80) rotate(-90)" x="0" y="0" font-size="21.30" text-anchor="middle" textLength="93.50" lengthAdjust="spacingAndGlyphs">Difficulty</text></svg></body></html>
